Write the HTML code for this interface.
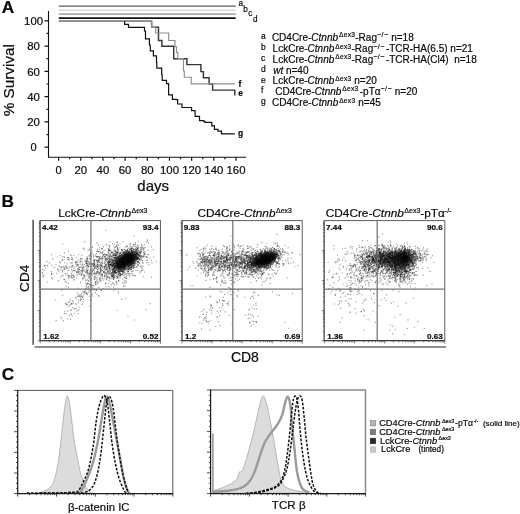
<!DOCTYPE html>
<html lang="en"><head><meta charset="utf-8"><title>Figure</title>
<style>
html,body{margin:0;padding:0;background:#fff;}
svg{display:block;will-change:transform;font-family:"Liberation Sans", sans-serif;}
text{fill:#0a0a0a;stroke:#0a0a0a;stroke-width:.2px;}
.b{font-weight:bold;}
.i{font-style:italic;}
</style></head><body>
<svg width="520" height="514" viewBox="0 0 520 514">
<rect width="520" height="514" fill="#fff"/>

<g id="panelA">
<text class="b" x="1.8" y="12.8" font-size="17.2">A</text>
<path d="M48.5 11 V157.3 H246.2" fill="none" stroke="#111" stroke-width="1.1"/>
<path d="M44.5 147.20H48.5 M44.5 121.92H48.5 M44.5 96.64H48.5 M44.5 71.36H48.5 M44.5 46.08H48.5 M44.5 20.80H48.5 M46.5 134.56H48.5 M46.5 109.28H48.5 M46.5 84.00H48.5 M46.5 58.72H48.5 M46.5 33.44H48.5 M58.60 157.3V160.70000000000002 M80.78 157.3V160.70000000000002 M102.95 157.3V160.70000000000002 M125.12 157.3V160.70000000000002 M147.30 157.3V160.70000000000002 M169.47 157.3V160.70000000000002 M191.65 157.3V160.70000000000002 M213.82 157.3V160.70000000000002 M236.00 157.3V160.70000000000002 M69.69 157.3V159.3 M91.86 157.3V159.3 M114.04 157.3V159.3 M136.21 157.3V159.3 M158.39 157.3V159.3 M180.56 157.3V159.3 M202.74 157.3V159.3 M224.91 157.3V159.3" fill="none" stroke="#111" stroke-width="1.2"/>
<text x="30.50" y="151.40" font-size="10.8" textLength="6.2" lengthAdjust="spacingAndGlyphs">0</text>
<text x="27.25" y="126.12" font-size="10.8" textLength="12.7" lengthAdjust="spacingAndGlyphs">20</text>
<text x="27.25" y="100.84" font-size="10.8" textLength="12.7" lengthAdjust="spacingAndGlyphs">40</text>
<text x="27.25" y="75.56" font-size="10.8" textLength="12.7" lengthAdjust="spacingAndGlyphs">60</text>
<text x="27.25" y="50.28" font-size="10.8" textLength="12.7" lengthAdjust="spacingAndGlyphs">80</text>
<text x="24.10" y="25.00" font-size="10.8" textLength="19.0" lengthAdjust="spacingAndGlyphs">100</text>
<text x="55.50" y="174.3" font-size="10.8" textLength="6.2" lengthAdjust="spacingAndGlyphs">0</text>
<text x="74.43" y="174.3" font-size="10.8" textLength="12.7" lengthAdjust="spacingAndGlyphs">20</text>
<text x="96.60" y="174.3" font-size="10.8" textLength="12.7" lengthAdjust="spacingAndGlyphs">40</text>
<text x="118.78" y="174.3" font-size="10.8" textLength="12.7" lengthAdjust="spacingAndGlyphs">60</text>
<text x="140.95" y="174.3" font-size="10.8" textLength="12.7" lengthAdjust="spacingAndGlyphs">80</text>
<text x="159.97" y="174.3" font-size="10.8" textLength="19.0" lengthAdjust="spacingAndGlyphs">100</text>
<text x="182.15" y="174.3" font-size="10.8" textLength="19.0" lengthAdjust="spacingAndGlyphs">120</text>
<text x="204.32" y="174.3" font-size="10.8" textLength="19.0" lengthAdjust="spacingAndGlyphs">140</text>
<text x="226.50" y="174.3" font-size="10.8" textLength="19.0" lengthAdjust="spacingAndGlyphs">160</text>
<text x="153.2" y="191.2" font-size="15" text-anchor="middle">days</text>
<text transform="translate(13.6 80.2) rotate(-90)" font-size="15.3" text-anchor="middle">% Survival</text>
<path d="M58.8 6.2H235.7" stroke="#5a5a5a" stroke-width="1.3"/>
<path d="M58.8 10.1H235.7" stroke="#cfcfcf" stroke-width="1.3"/>
<path d="M58.8 14.1H235.7" stroke="#8a8a8a" stroke-width="1.4"/>
<path d="M58.8 18.15H235.7" stroke="#111" stroke-width="1.7"/>
<path d="M58.8 21.3 L151.6 21.3 L151.6 27.3 L158.5 27.3 L158.5 40.5 L161.9 40.5 L161.9 46.3 L173.7 46.3 L173.7 58.8 L186.9 58.8 L186.9 64.6 L200.9 64.6 L200.9 71.6 L203.4 71.6 L203.4 77.8 L209.1 77.8 L209.1 83.9 L212.6 83.9 L212.6 90.1 L234.8 90.1 L234.8 95.5" fill="none" stroke="#363636" stroke-width="1.45" stroke-linejoin="miter"/>
<path d="M58.8 21.3 L151.6 21.3 L151.6 27.3 L155.7 27.3 L155.7 33.0 L168.7 33.0 L168.7 40.5 L175.0 40.5 L175.0 46.6 L176.5 46.6 L176.5 52.5 L177.9 52.5 L177.9 58.6 L183.5 58.6 L183.5 71.0 L184.3 71.0 L184.3 77.2 L191.2 77.2 L191.2 83.8 L235.0 83.8" fill="none" stroke="#8e8e8e" stroke-width="1.15" stroke-linejoin="miter"/>
<path d="M124.6 21.3 L124.6 24.4 L128.5 24.4 L128.5 27.4 L144.5 27.4 V31.0 H145.5 V38.8 H146.7 H149.4 V39.2 V45.0 H150.3 V50.9 H151.3 H153.4 V51.3 V55.8 H154.3 H156.5 V56.5 V62.3 H156.8 V68.1 H157.8 H161.7 V68.6 V74.5 H162.2 V80.3 H163.6 H166.5 V80.8 V83.7 H167.5 H168.6 V84.2 V94.9 H169.0 H172.4 V95.9 V99.3 H173.3 H176.3 V99.7 H177.6 V100.9 V104.0 H179.4 H182.0 V104.9 V107.5 H182.9 H191.6 V107.9 V110.7 H192.5 H195.1 V111.4 V116.3 H196.9 H199.5 V117.1 V120.6 H201.3 H203.9 V121.5 H204.8 V122.4 H211.8 V122.7 V125.9 H214.4 V129.4 H216.1 H217.9 V131.1 H221.4 V131.5 V133.8 H222.3 L234.8 133.8" fill="none" stroke="#111" stroke-width="1.2" stroke-linejoin="miter"/>
<text stroke-width=".4" x="238.5" y="6.0" font-size="8.2">a</text>
<text stroke-width=".4" x="243.3" y="12.3" font-size="8.2">b</text>
<text stroke-width=".4" x="248.2" y="15.7" font-size="8.2">c</text>
<text stroke-width=".4" x="253" y="22.2" font-size="8.2">d</text>
<text class="b" stroke="none" x="238.5" y="86.6" font-size="8.4">f</text>
<text class="b" stroke="none" x="238.2" y="95.8" font-size="8.4">e</text>
<text class="b" stroke="none" x="238" y="135.8" font-size="8.4">g</text>
<text x="261.0" y="39.0" font-size="8.5">a</text>
<text x="271.9" y="40.8" font-size="10" xml:space="preserve">CD4Cre-<tspan class="i">Ctnnb</tspan><tspan font-size="6.6" dy="-3.4" dx="0.9" letter-spacing="0.32">Δex3</tspan><tspan dy="3.4">-Rag</tspan><tspan font-size="7" dy="-3.4" letter-spacing="0.45">−/−</tspan><tspan dy="3.4"> n=18</tspan></text>
<text x="261.0" y="50.1" font-size="8.5">b</text>
<text x="272.6" y="51.9" font-size="10" xml:space="preserve">LckCre-<tspan class="i">Ctnnb</tspan><tspan font-size="6.6" dy="-3.4" dx="0.9" letter-spacing="0.32">Δex3</tspan><tspan dy="3.4">-Rag</tspan><tspan font-size="7" dy="-3.4" letter-spacing="0.45">−/−</tspan><tspan dy="3.4" dx="1.2">-TCR-HA(6.5) n=21</tspan></text>
<text x="261.0" y="61.0" font-size="8.5">c</text>
<text x="272.6" y="62.8" font-size="10" xml:space="preserve">LckCre-<tspan class="i">Ctnnb</tspan><tspan font-size="6.6" dy="-3.4" dx="0.9" letter-spacing="0.32">Δex3</tspan><tspan dy="3.4">-Rag</tspan><tspan font-size="7" dy="-3.4" letter-spacing="0.45">−/−</tspan><tspan dy="3.4" dx="1.2">-TCR-HA(Cl4)  n=18</tspan></text>
<text x="261.0" y="72.0" font-size="8.5">d</text>
<text x="273.2" y="73.8" font-size="10" xml:space="preserve"><tspan class="i">wt</tspan> n=40</text>
<text x="261.0" y="82.6" font-size="8.5">e</text>
<text x="272.6" y="84.4" font-size="10" xml:space="preserve">LckCre-<tspan class="i">Ctnnb</tspan><tspan font-size="6.6" dy="-3.4" dx="0.9" letter-spacing="0.32">Δex3</tspan><tspan dy="3.4"> n=20</tspan></text>
<text x="261.0" y="93.0" font-size="8.5">f</text>
<text x="275.2" y="94.8" font-size="10" xml:space="preserve">CD4Cre-<tspan class="i">Ctnnb</tspan><tspan font-size="6.6" dy="-3.4" dx="0.9" letter-spacing="0.32">Δex3</tspan><tspan dy="3.4" dx="1.2">-pTα</tspan><tspan font-size="7" dy="-3.4" letter-spacing="0.45">−/−</tspan><tspan dy="3.4"> n=20</tspan></text>
<text x="261.0" y="104.1" font-size="8.5">g</text>
<text x="272.1" y="105.9" font-size="10" xml:space="preserve">CD4Cre-<tspan class="i">Ctnnb</tspan><tspan font-size="6.6" dy="-3.4" dx="0.9" letter-spacing="0.32">Δex3</tspan><tspan dy="3.4"> n=45</tspan></text>
</g>
<g id="panelB">
<text class="b" x="1.6" y="206.6" font-size="17.2">B</text>
<text transform="translate(29.3 278.3) rotate(-90)" font-size="13.6" text-anchor="middle">CD4</text>
<text x="244.9" y="361.8" font-size="14" text-anchor="middle">CD8</text>
<path d="M33.1 219.8V344.8" stroke="#222" stroke-width="1.2"/>
<path d="M34.6 347.0H446" stroke="#222" stroke-width="1.2"/>
<rect x="40.2" y="220.6" width="120.2" height="120.0" fill="none" stroke="#555" stroke-width="0.95"/>
<path d="M40.0 220.6V340.6" stroke="#6a6a6a" stroke-width="1.3"/><path d="M40.2 340.6H160.4" stroke="#3a3a3a" stroke-width="1.2"/>
<path d="M40.2 340.6v2.8M49.2 340.6v1.7M54.5 340.6v1.7M58.3 340.6v1.7M61.2 340.6v1.7M63.6 340.6v1.7M65.6 340.6v1.7M67.3 340.6v1.7M68.9 340.6v1.7M40.2 340.6h-2.4M40.2 331.6h-1.4M40.2 326.3h-1.4M40.2 322.5h-1.4M40.2 319.6h-1.4M40.2 317.3h-1.4M40.2 315.2h-1.4M40.2 313.5h-1.4M40.2 312.0h-1.4M70.2 340.6v2.8M79.3 340.6v1.7M84.6 340.6v1.7M88.3 340.6v1.7M91.3 340.6v1.7M93.6 340.6v1.7M95.6 340.6v1.7M97.4 340.6v1.7M98.9 340.6v1.7M40.2 310.6h-2.4M40.2 301.6h-1.4M40.2 296.3h-1.4M40.2 292.5h-1.4M40.2 289.6h-1.4M40.2 287.3h-1.4M40.2 285.2h-1.4M40.2 283.5h-1.4M40.2 282.0h-1.4M100.3 340.6v2.8M109.3 340.6v1.7M114.6 340.6v1.7M118.4 340.6v1.7M121.3 340.6v1.7M123.7 340.6v1.7M125.7 340.6v1.7M127.4 340.6v1.7M129.0 340.6v1.7M40.2 280.6h-2.4M40.2 271.6h-1.4M40.2 266.3h-1.4M40.2 262.5h-1.4M40.2 259.6h-1.4M40.2 257.3h-1.4M40.2 255.2h-1.4M40.2 253.5h-1.4M40.2 252.0h-1.4M130.4 340.6v2.8M139.4 340.6v1.7M144.7 340.6v1.7M148.4 340.6v1.7M151.4 340.6v1.7M153.7 340.6v1.7M155.7 340.6v1.7M157.5 340.6v1.7M159.0 340.6v1.7M40.2 250.6h-2.4M40.2 241.6h-1.4M40.2 236.3h-1.4M40.2 232.5h-1.4M40.2 229.6h-1.4M40.2 227.3h-1.4M40.2 225.2h-1.4M40.2 223.5h-1.4M40.2 222.0h-1.4M160.4 340.6v3.2" stroke="#444" stroke-width="0.7" fill="none"/>
<g stroke="#000" stroke-width="1.1" stroke-opacity="0.42" fill="none">
<path d="M125.2 262.2h1.1M128.6 259.9h1.1M129.8 261.3h1.1M125.4 255.8h1.1M132.6 256.9h1.1M133.0 257.3h1.1M128.7 260.0h1.1M127.9 258.3h1.1M119.2 264.1h1.1M127.1 261.1h1.1M124.6 262.1h1.1M122.9 261.7h1.1M124.9 262.7h1.1M127.4 263.9h1.1M127.0 256.4h1.1M129.8 257.0h1.1M123.7 264.7h1.1M127.8 263.0h1.1M124.7 260.8h1.1M131.3 259.1h1.1M120.8 264.6h1.1M129.1 259.1h1.1M122.4 264.5h1.1M129.8 257.9h1.1M118.3 268.3h1.1M118.3 260.9h1.1M128.2 259.8h1.1M123.2 258.0h1.1M123.1 266.8h1.1M128.7 254.9h1.1M125.3 263.2h1.1M125.5 262.5h1.1M134.6 256.0h1.1M120.8 259.1h1.1M125.6 255.4h1.1M121.2 263.3h1.1M129.3 258.8h1.1M130.8 257.3h1.1M126.4 256.5h1.1M124.6 266.4h1.1M123.7 264.1h1.1M130.1 253.6h1.1M127.4 258.4h1.1M131.1 263.2h1.1M115.8 263.9h1.1M126.9 257.8h1.1M125.5 260.3h1.1M119.0 260.3h1.1M127.3 260.0h1.1M127.0 261.7h1.1M124.4 263.9h1.1M125.8 267.5h1.1M130.3 258.4h1.1M123.7 263.5h1.1M131.0 257.9h1.1M128.1 257.5h1.1M130.2 255.1h1.1M125.8 255.4h1.1M131.6 257.2h1.1M119.2 261.3h1.1M133.4 260.5h1.1M128.4 252.7h1.1M127.4 258.6h1.1M123.5 259.9h1.1M123.1 263.3h1.1M135.5 254.1h1.1M123.1 264.6h1.1M124.2 261.3h1.1M127.9 261.9h1.1M119.9 261.7h1.1M123.8 256.1h1.1M122.3 257.1h1.1M114.5 267.9h1.1M115.4 266.8h1.1M130.9 259.4h1.1M131.4 256.3h1.1M125.6 260.5h1.1M129.8 259.4h1.1M129.3 254.0h1.1M131.4 257.5h1.1M125.9 258.3h1.1M126.6 261.1h1.1M127.0 263.8h1.1M129.4 264.6h1.1M129.0 262.3h1.1M121.0 258.5h1.1M126.8 260.1h1.1M129.2 258.3h1.1M123.4 265.7h1.1M117.7 265.8h1.1M133.8 257.6h1.1M129.0 256.0h1.1M119.7 259.8h1.1M127.8 260.4h1.1M133.4 254.7h1.1M121.0 260.7h1.1M124.5 256.3h1.1M121.9 264.3h1.1M131.9 260.8h1.1M129.4 262.4h1.1M124.4 263.1h1.1M120.2 264.5h1.1M126.8 257.5h1.1M122.1 260.1h1.1M122.8 260.2h1.1M118.3 259.3h1.1M124.1 261.4h1.1M123.3 264.1h1.1M126.3 259.3h1.1M126.3 257.6h1.1M118.5 260.8h1.1M129.8 255.3h1.1M124.0 254.5h1.1M131.7 257.7h1.1M124.2 262.0h1.1M123.9 259.1h1.1M129.0 266.1h1.1M123.0 265.0h1.1M121.7 261.8h1.1M122.2 265.8h1.1M126.4 254.0h1.1M128.2 257.7h1.1M115.7 263.6h1.1M126.8 260.3h1.1M127.9 256.2h1.1M127.1 259.8h1.1M115.7 260.8h1.1M126.0 259.2h1.1M129.5 259.4h1.1M130.8 264.0h1.1M123.3 260.6h1.1M129.6 260.8h1.1M119.7 271.3h1.1M125.8 260.3h1.1M127.6 259.6h1.1M124.9 259.8h1.1M124.4 262.4h1.1M121.6 266.4h1.1M128.2 264.3h1.1M128.0 259.2h1.1M127.5 252.6h1.1M126.0 253.6h1.1M121.4 264.5h1.1M123.0 259.8h1.1M130.4 256.2h1.1M127.3 255.6h1.1M122.4 265.1h1.1M127.9 256.4h1.1M117.2 261.7h1.1M124.3 257.0h1.1M122.3 265.0h1.1M128.5 257.1h1.1M108.7 268.6h1.1M121.9 265.0h1.1M133.6 254.3h1.1M127.5 260.9h1.1M127.3 255.7h1.1M125.1 259.2h1.1M128.3 260.7h1.1M126.0 261.0h1.1M124.0 259.2h1.1M120.9 262.7h1.1M131.4 260.6h1.1M131.9 263.6h1.1M126.7 258.5h1.1M124.6 265.1h1.1M130.9 254.0h1.1M126.9 257.1h1.1M129.7 258.3h1.1M125.7 261.1h1.1M122.8 256.3h1.1M121.5 264.6h1.1M130.1 258.5h1.1M125.5 266.5h1.1M129.2 259.7h1.1M126.3 260.0h1.1M130.3 255.1h1.1M128.8 252.4h1.1M126.1 260.9h1.1M123.8 259.8h1.1M126.3 264.3h1.1M126.8 260.7h1.1M125.6 264.1h1.1M122.8 265.1h1.1M122.0 262.2h1.1M118.1 263.6h1.1M125.4 259.4h1.1M132.1 252.9h1.1M123.6 260.8h1.1M133.5 258.7h1.1M124.9 262.3h1.1M128.6 255.3h1.1M131.6 256.5h1.1M113.8 266.6h1.1M131.1 254.9h1.1M121.5 263.3h1.1M125.5 262.9h1.1M118.6 267.5h1.1M116.7 262.4h1.1M128.8 255.1h1.1M124.3 264.2h1.1M127.6 260.4h1.1M121.4 257.9h1.1M124.9 257.8h1.1M128.0 260.3h1.1M124.0 267.4h1.1M127.2 261.6h1.1M127.2 257.5h1.1M130.8 263.2h1.1M131.8 260.4h1.1M124.8 260.0h1.1M130.5 261.4h1.1M126.1 261.9h1.1M117.1 257.6h1.1M115.5 262.4h1.1M120.7 260.4h1.1M123.2 258.9h1.1M120.3 263.3h1.1M127.4 253.3h1.1M123.9 261.8h1.1M123.7 263.6h1.1M117.6 260.9h1.1M125.9 257.4h1.1M120.1 263.3h1.1M117.0 265.5h1.1M127.5 259.8h1.1M126.8 258.3h1.1M129.6 258.5h1.1M125.7 258.3h1.1M125.8 256.3h1.1M129.9 255.7h1.1M124.6 253.5h1.1M121.5 261.6h1.1M128.3 262.4h1.1M125.8 262.9h1.1M126.6 257.8h1.1M131.3 261.5h1.1M131.0 259.8h1.1M126.8 258.5h1.1M129.0 264.3h1.1M130.3 257.8h1.1M126.9 259.4h1.1M128.1 263.7h1.1M124.4 254.4h1.1M124.8 259.2h1.1M130.6 256.1h1.1M120.7 259.0h1.1M127.6 254.3h1.1M122.0 260.9h1.1M129.4 257.1h1.1M125.5 260.4h1.1M129.6 254.9h1.1M120.4 270.1h1.1M133.9 253.0h1.1M131.8 255.7h1.1M130.4 260.1h1.1M128.1 258.0h1.1M118.6 260.8h1.1M122.4 260.6h1.1M119.9 266.9h1.1M125.8 257.5h1.1M121.0 259.7h1.1M122.6 256.5h1.1M126.5 261.0h1.1M130.7 258.2h1.1M130.4 262.9h1.1M119.4 264.0h1.1M122.8 258.8h1.1M118.2 263.3h1.1M126.6 262.6h1.1M132.1 260.5h1.1M135.8 254.6h1.1M125.3 260.8h1.1M127.5 261.3h1.1M124.9 259.7h1.1M130.7 266.1h1.1M129.5 264.9h1.1M131.1 261.9h1.1M117.5 262.5h1.1M123.0 260.3h1.1M125.0 258.9h1.1M117.1 260.3h1.1M119.8 265.8h1.1M124.5 258.5h1.1M133.9 258.4h1.1M117.8 257.8h1.1M123.0 256.8h1.1M125.5 261.4h1.1M125.4 263.4h1.1M122.9 259.9h1.1M120.7 260.2h1.1M123.3 261.6h1.1M126.3 259.1h1.1M127.7 262.2h1.1M126.4 258.6h1.1M122.2 263.3h1.1M123.5 257.8h1.1M128.4 262.6h1.1M136.9 253.6h1.1M130.9 264.7h1.1M118.1 263.3h1.1M120.5 261.8h1.1M125.8 262.6h1.1M125.8 253.9h1.1M133.3 257.6h1.1M127.6 262.3h1.1M127.5 261.5h1.1M124.8 260.9h1.1M125.5 262.6h1.1M130.8 261.2h1.1M124.9 263.7h1.1M122.7 262.3h1.1M130.2 261.8h1.1M126.8 262.8h1.1M122.8 260.0h1.1M127.1 259.9h1.1M125.3 259.1h1.1M133.6 251.9h1.1M133.4 257.4h1.1M130.0 260.7h1.1M131.3 252.4h1.1M124.7 262.9h1.1M128.1 255.6h1.1M124.5 262.1h1.1M125.9 257.9h1.1M131.6 254.4h1.1M126.3 261.3h1.1M125.1 264.7h1.1M119.0 267.8h1.1M122.6 263.5h1.1M115.2 255.0h1.1M124.9 257.6h1.1M107.2 271.6h1.1M132.1 256.5h1.1M118.5 256.7h1.1M101.6 261.5h1.1M124.2 267.3h1.1M112.9 255.0h1.1M121.4 269.3h1.1M113.5 263.9h1.1M118.6 273.8h1.1M118.4 274.3h1.1M131.3 258.3h1.1M123.3 263.6h1.1M132.6 262.8h1.1M128.3 261.6h1.1M123.3 266.7h1.1M138.8 252.3h1.1M133.6 249.8h1.1M127.4 258.2h1.1M125.7 263.1h1.1M117.5 274.7h1.1M123.7 258.7h1.1M140.2 256.5h1.1M131.3 262.7h1.1M116.5 261.4h1.1M134.4 261.8h1.1M129.0 254.8h1.1M116.1 261.5h1.1M132.6 270.7h1.1M124.9 260.6h1.1M135.5 263.4h1.1M137.4 258.6h1.1M119.0 273.9h1.1M127.8 259.2h1.1M114.0 258.9h1.1M107.0 271.6h1.1M133.9 261.5h1.1M125.5 260.3h1.1M121.7 264.3h1.1M135.9 249.7h1.1M124.8 262.7h1.1M129.5 252.1h1.1M133.9 249.9h1.1M119.6 262.3h1.1M130.9 269.5h1.1M120.3 271.0h1.1M133.3 253.9h1.1M116.1 255.3h1.1M130.3 248.1h1.1M124.5 261.7h1.1M128.7 256.3h1.1M118.6 274.0h1.1M104.0 276.6h1.1M105.9 279.6h1.1M129.5 257.6h1.1M131.4 255.2h1.1M116.1 259.7h1.1M118.5 259.3h1.1M120.8 262.6h1.1M111.9 265.7h1.1M126.5 257.1h1.1M132.2 257.0h1.1M124.9 256.7h1.1M124.3 255.4h1.1M116.0 266.3h1.1M131.1 253.8h1.1M129.4 263.8h1.1M114.9 258.4h1.1M132.2 262.8h1.1M119.5 263.5h1.1M112.2 266.4h1.1M119.1 271.7h1.1M113.3 275.1h1.1M129.5 254.4h1.1M115.1 261.7h1.1M123.5 268.4h1.1M137.7 254.0h1.1M131.2 255.9h1.1M125.8 263.5h1.1M123.6 259.9h1.1M130.2 259.5h1.1M109.9 264.4h1.1M127.0 267.4h1.1M140.3 249.6h1.1M129.5 261.8h1.1M131.8 255.1h1.1M133.4 255.1h1.1M124.9 250.9h1.1M122.4 271.9h1.1M125.6 261.7h1.1M137.4 253.9h1.1M115.6 261.6h1.1M135.5 250.4h1.1M118.4 265.4h1.1M112.4 276.2h1.1M130.1 257.4h1.1M122.0 265.6h1.1M135.0 242.7h1.1M122.4 255.0h1.1M117.0 261.7h1.1M128.1 264.2h1.1M121.1 271.5h1.1M127.2 258.6h1.1M134.6 267.3h1.1M128.8 247.7h1.1M117.9 257.7h1.1M127.3 257.1h1.1M130.2 267.2h1.1M129.5 252.1h1.1M131.8 261.3h1.1M118.7 264.5h1.1M126.8 259.6h1.1M130.1 257.0h1.1M132.6 255.3h1.1M119.7 262.9h1.1M116.1 259.4h1.1M119.4 261.4h1.1M119.9 262.8h1.1M121.8 258.4h1.1M126.0 259.3h1.1M124.9 261.0h1.1M124.7 265.8h1.1M128.3 270.0h1.1M112.8 273.8h1.1M116.6 263.5h1.1M121.7 261.4h1.1M109.2 278.2h1.1M130.1 260.3h1.1M139.2 258.8h1.1M143.6 252.2h1.1M142.2 247.6h1.1M129.5 255.9h1.1M133.0 255.8h1.1M125.1 258.0h1.1M132.0 256.8h1.1M130.8 263.8h1.1M113.8 260.5h1.1M117.6 268.6h1.1M125.6 261.4h1.1M118.2 266.3h1.1M139.5 255.6h1.1M128.3 263.7h1.1M118.0 269.5h1.1M127.3 268.8h1.1M118.0 266.3h1.1M120.7 270.2h1.1M133.0 265.6h1.1M129.9 258.6h1.1M126.2 257.8h1.1M147.5 254.5h1.1M126.8 257.8h1.1M134.1 260.8h1.1M129.2 260.6h1.1M122.9 255.5h1.1M124.6 250.3h1.1M101.0 269.5h1.1M129.5 263.5h1.1M109.8 256.1h1.1M135.3 249.6h1.1M113.4 257.2h1.1M124.4 254.5h1.1M108.1 264.6h1.1M144.2 253.7h1.1M115.4 251.8h1.1M114.1 266.4h1.1M118.8 271.1h1.1M90.1 269.7h1.1M134.6 259.7h1.1M125.6 264.7h1.1M126.1 254.0h1.1M109.1 262.6h1.1M120.5 265.0h1.1M119.0 273.6h1.1M113.5 258.6h1.1M137.1 257.4h1.1M127.4 269.2h1.1M136.9 259.6h1.1M116.1 282.1h1.1M142.4 246.0h1.1M117.7 271.7h1.1M127.1 261.7h1.1M86.0 263.1h1.1M135.9 258.0h1.1M110.4 273.7h1.1M127.5 272.7h1.1M95.7 274.9h1.1M123.7 263.9h1.1M145.4 256.8h1.1M131.2 265.2h1.1M129.3 267.9h1.1M122.1 257.6h1.1M132.9 263.1h1.1M126.4 273.6h1.1M151.1 246.6h1.1M122.4 256.3h1.1M130.6 268.7h1.1M100.0 271.8h1.1M124.5 255.1h1.1M127.2 257.3h1.1M128.7 255.3h1.1M132.4 267.8h1.1M128.1 266.7h1.1M126.1 261.4h1.1M99.7 269.4h1.1M126.9 262.5h1.1M126.8 249.3h1.1M138.0 257.1h1.1M141.5 266.5h1.1M130.2 264.5h1.1M115.2 261.2h1.1M124.5 273.0h1.1M146.3 257.2h1.1M139.6 259.4h1.1M130.9 271.9h1.1M126.7 250.9h1.1M123.3 255.0h1.1M119.6 268.5h1.1M117.8 259.3h1.1M132.1 268.2h1.1M112.8 254.4h1.1M112.5 274.2h1.1M126.2 251.9h1.1M113.3 277.0h1.1M119.4 266.8h1.1M113.7 272.3h1.1M115.0 273.4h1.1M114.9 254.6h1.1M132.7 262.4h1.1M115.1 266.3h1.1M70.7 273.3h1.1M104.4 257.0h1.1M108.9 250.6h1.1M88.2 276.6h1.1M109.2 261.7h1.1M114.2 262.7h1.1M59.7 262.8h1.1M112.1 271.2h1.1M86.7 263.5h1.1M115.4 267.2h1.1M82.2 264.5h1.1M80.7 258.7h1.1M91.5 251.2h1.1M61.7 275.2h1.1M112.3 260.1h1.1M105.1 254.8h1.1M109.8 255.7h1.1M112.8 277.1h1.1M116.5 249.7h1.1M116.0 246.4h1.1M65.2 280.2h1.1M107.1 260.1h1.1M111.6 260.9h1.1M90.8 258.3h1.1M94.0 260.9h1.1M80.3 261.2h1.1M50.6 271.6h1.1M89.9 255.4h1.1M61.9 270.6h1.1M71.0 275.8h1.1M109.0 269.5h1.1M117.7 245.2h1.1M81.8 258.7h1.1M112.8 278.9h1.1M73.7 279.7h1.1M97.5 271.6h1.1M41.8 273.1h1.1M86.8 258.1h1.1M117.3 265.5h1.1M107.7 250.3h1.1M62.4 256.6h1.1M116.0 257.9h1.1M57.6 270.3h1.1M100.2 265.0h1.1M85.0 283.1h1.1M103.9 266.5h1.1M115.6 282.6h1.1M76.6 262.4h1.1M58.4 271.7h1.1M62.5 275.9h1.1M105.7 258.7h1.1M109.4 262.0h1.1M44.1 265.2h1.1M81.0 274.6h1.1M68.4 266.3h1.1M98.1 251.8h1.1M43.7 265.9h1.1M79.7 259.7h1.1M114.3 271.0h1.1M74.1 270.2h1.1M104.3 253.8h1.1M70.5 255.6h1.1M96.8 250.8h1.1M75.7 275.0h1.1M94.6 266.8h1.1M114.1 251.0h1.1M112.1 252.2h1.1M46.6 261.5h1.1M115.8 268.8h1.1M90.6 269.7h1.1M114.1 244.4h1.1M67.7 276.1h1.1M58.5 265.8h1.1M62.7 266.6h1.1M57.2 269.8h1.1M42.5 276.9h1.1M118.0 249.3h1.1M82.0 269.5h1.1M101.3 265.0h1.1M84.2 276.7h1.1M112.9 263.2h1.1M98.5 296.4h1.1M101.2 248.5h1.1M82.4 277.7h1.1M113.5 247.7h1.1M78.7 269.2h1.1M114.0 257.4h1.1M116.3 255.5h1.1M93.6 260.5h1.1M101.1 259.3h1.1M91.9 275.2h1.1M75.4 261.9h1.1M76.3 278.0h1.1M109.2 259.9h1.1M92.6 270.5h1.1M82.5 248.2h1.1M97.5 266.3h1.1M41.9 272.6h1.1M116.1 272.6h1.1M62.3 270.4h1.1M59.8 269.6h1.1M116.5 267.0h1.1M100.2 274.7h1.1M105.1 244.3h1.1M66.0 282.5h1.1M107.8 252.0h1.1M113.0 269.1h1.1M71.2 269.2h1.1M92.0 285.6h1.1M96.3 267.7h1.1M107.9 262.6h1.1M83.9 249.7h1.1M87.0 284.0h1.1M100.9 289.6h1.1M60.4 317.0h1.1M76.3 311.2h1.1M72.0 307.7h1.1M92.6 286.7h1.1M66.4 304.4h1.1M91.8 294.1h1.1M90.7 300.4h1.1M70.7 314.0h1.1M70.9 303.6h1.1M92.1 296.0h1.1M88.1 292.1h1.1M83.5 292.2h1.1M67.5 302.4h1.1M72.1 300.7h1.1M82.3 291.9h1.1M75.0 297.4h1.1M121.6 254.1h1.1M90.8 320.5h1.1M69.1 301.6h1.1M101.1 264.7h1.1M150.9 277.1h1.1M76.7 274.8h1.1"/>
<path d="M124.1 260.3h1.1M115.5 261.5h1.1M121.7 260.5h1.1M127.7 263.0h1.1M124.3 257.1h1.1M113.4 260.4h1.1M120.3 267.7h1.1M128.0 260.8h1.1M124.5 260.1h1.1M125.2 261.4h1.1M130.3 249.3h1.1M124.5 260.8h1.1M126.7 251.2h1.1M129.9 256.6h1.1M118.9 260.1h1.1M118.7 269.2h1.1M126.3 260.2h1.1M126.8 262.7h1.1M123.3 262.5h1.1M126.8 262.0h1.1M115.4 268.0h1.1M132.6 257.8h1.1M134.0 254.5h1.1M120.5 261.0h1.1M126.1 257.8h1.1M134.7 257.4h1.1M128.8 258.9h1.1M129.0 261.4h1.1M121.9 258.4h1.1M126.0 262.3h1.1M130.0 257.4h1.1M119.9 262.0h1.1M129.3 255.2h1.1M126.1 260.8h1.1M120.0 263.9h1.1M119.1 265.2h1.1M120.4 259.5h1.1M127.3 251.8h1.1M129.5 254.6h1.1M133.2 255.4h1.1M125.8 261.1h1.1M116.5 261.2h1.1M121.7 263.3h1.1M122.4 262.4h1.1M124.1 258.1h1.1M126.2 262.2h1.1M119.6 268.7h1.1M120.5 264.6h1.1M119.4 263.7h1.1M131.9 255.0h1.1M123.5 259.8h1.1M122.7 262.2h1.1M131.4 252.7h1.1M125.9 260.3h1.1M120.8 268.4h1.1M122.4 255.7h1.1M126.4 259.5h1.1M126.9 254.7h1.1M123.3 269.5h1.1M122.7 256.1h1.1M121.5 261.7h1.1M129.6 258.4h1.1M119.3 261.9h1.1M125.3 262.4h1.1M124.9 267.9h1.1M119.4 267.0h1.1M128.8 260.3h1.1M129.0 256.7h1.1M121.0 262.9h1.1M122.0 260.7h1.1M123.1 262.4h1.1M124.1 261.2h1.1M127.5 258.1h1.1M127.6 261.4h1.1M121.8 260.6h1.1M122.5 266.3h1.1M128.3 258.9h1.1M128.4 262.5h1.1M123.3 263.2h1.1M123.4 263.0h1.1M125.3 262.9h1.1M126.1 260.8h1.1M128.5 258.0h1.1M119.3 260.9h1.1M135.9 256.8h1.1M131.9 257.9h1.1M128.3 253.9h1.1M126.3 264.6h1.1M122.3 261.9h1.1M129.2 261.3h1.1M120.7 258.4h1.1M120.8 267.8h1.1M129.3 260.8h1.1M126.9 262.2h1.1M123.6 258.3h1.1M131.0 260.1h1.1M128.0 255.0h1.1M121.2 260.9h1.1M130.1 256.0h1.1M121.1 266.5h1.1M129.1 263.1h1.1M131.0 264.7h1.1M123.9 263.1h1.1M132.4 253.2h1.1M128.1 259.7h1.1M125.0 254.9h1.1M123.3 262.2h1.1M127.2 259.0h1.1M122.4 258.1h1.1M126.5 256.9h1.1M133.2 256.6h1.1M119.5 261.3h1.1M122.0 260.1h1.1M128.0 259.1h1.1M122.9 260.4h1.1M124.4 259.1h1.1M125.2 260.1h1.1M120.1 265.6h1.1M138.4 255.1h1.1M116.1 262.6h1.1M121.8 261.7h1.1M118.9 261.7h1.1M128.6 255.9h1.1M130.0 257.4h1.1M121.9 261.7h1.1M116.0 264.3h1.1M122.2 259.8h1.1M125.0 255.9h1.1M126.2 261.5h1.1M129.7 252.8h1.1M126.4 260.9h1.1M124.3 267.2h1.1M135.9 253.5h1.1M126.8 256.2h1.1M120.4 261.4h1.1M125.9 257.5h1.1M122.8 265.1h1.1M135.2 256.4h1.1M127.7 259.2h1.1M120.3 263.9h1.1M122.9 264.1h1.1M126.6 254.2h1.1M128.2 258.9h1.1M114.8 265.4h1.1M126.6 263.1h1.1M118.8 262.8h1.1M129.9 257.7h1.1M130.3 258.4h1.1M126.4 256.4h1.1M114.0 267.9h1.1M123.4 263.5h1.1M128.1 253.7h1.1M120.0 263.5h1.1M116.0 263.7h1.1M123.4 261.6h1.1M120.0 260.9h1.1M123.3 260.0h1.1M128.3 259.6h1.1M135.3 257.9h1.1M132.5 253.3h1.1M124.9 266.6h1.1M124.5 261.6h1.1M129.2 259.3h1.1M122.3 262.4h1.1M119.8 263.7h1.1M131.3 259.1h1.1M130.4 253.1h1.1M123.0 260.6h1.1M123.1 260.4h1.1M127.8 255.5h1.1M125.8 261.5h1.1M127.4 258.4h1.1M123.5 262.7h1.1M130.7 260.1h1.1M124.4 262.7h1.1M133.0 255.2h1.1M115.9 261.4h1.1M131.7 261.1h1.1M119.0 262.8h1.1M115.7 269.6h1.1M120.7 263.2h1.1M124.8 263.9h1.1M130.1 256.4h1.1M121.7 264.8h1.1M120.0 264.2h1.1M125.0 259.2h1.1M127.3 262.2h1.1M131.3 261.0h1.1M117.0 264.2h1.1M129.5 261.4h1.1M116.4 266.2h1.1M129.8 258.9h1.1M125.4 261.0h1.1M126.8 259.5h1.1M125.3 265.5h1.1M126.8 261.8h1.1M123.0 258.1h1.1M131.0 258.3h1.1M123.1 260.3h1.1M127.9 257.8h1.1M122.1 261.2h1.1M125.2 259.2h1.1M125.0 258.0h1.1M128.8 258.1h1.1M121.6 255.9h1.1M132.8 258.8h1.1M126.7 262.9h1.1M123.0 256.2h1.1M122.5 266.5h1.1M128.3 259.6h1.1M122.3 262.4h1.1M131.9 260.3h1.1M126.0 261.2h1.1M129.1 254.5h1.1M127.4 263.4h1.1M124.2 268.8h1.1M119.1 263.8h1.1M126.8 261.2h1.1M126.2 259.2h1.1M116.3 272.8h1.1M125.2 261.0h1.1M128.4 261.6h1.1M122.4 265.1h1.1M130.4 254.1h1.1M120.0 259.5h1.1M123.9 257.4h1.1M124.3 264.4h1.1M129.2 253.8h1.1M129.8 255.7h1.1M116.4 268.3h1.1M125.7 256.8h1.1M121.0 265.6h1.1M122.9 261.4h1.1M130.7 258.9h1.1M124.0 257.7h1.1M126.5 259.4h1.1M125.6 261.4h1.1M124.1 263.7h1.1M120.0 264.0h1.1M116.0 266.4h1.1M121.7 262.5h1.1M119.0 261.4h1.1M123.7 259.9h1.1M123.6 257.2h1.1M127.7 252.5h1.1M127.5 258.6h1.1M121.0 266.7h1.1M130.9 257.0h1.1M129.3 259.2h1.1M130.1 263.8h1.1M133.6 261.8h1.1M132.1 258.0h1.1M134.6 256.5h1.1M130.8 260.2h1.1M125.9 255.7h1.1M126.9 258.1h1.1M124.9 263.8h1.1M125.3 262.1h1.1M125.4 259.6h1.1M129.3 259.6h1.1M131.8 262.0h1.1M121.8 265.1h1.1M117.7 260.3h1.1M116.7 258.6h1.1M117.0 264.0h1.1M126.0 256.5h1.1M129.8 263.8h1.1M124.8 262.5h1.1M132.6 254.9h1.1M130.6 260.8h1.1M112.8 270.3h1.1M119.6 257.0h1.1M127.3 254.5h1.1M128.5 256.7h1.1M121.4 263.6h1.1M127.6 262.1h1.1M129.0 262.7h1.1M129.9 260.7h1.1M127.2 259.8h1.1M123.9 262.0h1.1M113.3 262.9h1.1M122.2 257.0h1.1M126.7 262.2h1.1M127.1 262.5h1.1M125.0 264.7h1.1M128.8 259.4h1.1M126.7 262.0h1.1M126.4 260.0h1.1M122.4 259.3h1.1M128.6 258.5h1.1M126.4 260.9h1.1M128.2 264.1h1.1M118.8 259.6h1.1M127.2 260.0h1.1M130.2 256.0h1.1M129.5 262.2h1.1M127.8 262.5h1.1M126.8 258.8h1.1M127.7 262.4h1.1M124.9 263.6h1.1M128.6 260.1h1.1M119.2 268.0h1.1M134.0 253.6h1.1M128.3 258.1h1.1M120.8 260.9h1.1M128.3 258.0h1.1M128.2 259.0h1.1M123.6 259.9h1.1M126.5 255.9h1.1M128.9 258.2h1.1M122.3 262.8h1.1M130.1 255.7h1.1M125.9 254.9h1.1M118.0 264.2h1.1M128.2 260.4h1.1M122.9 261.9h1.1M130.3 258.6h1.1M123.6 260.6h1.1M124.7 257.6h1.1M126.2 258.3h1.1M115.0 268.5h1.1M127.0 262.9h1.1M133.4 255.6h1.1M130.1 264.1h1.1M122.0 260.1h1.1M120.8 259.4h1.1M125.4 261.1h1.1M128.6 256.2h1.1M123.2 260.0h1.1M110.6 268.7h1.1M129.0 262.7h1.1M131.5 252.9h1.1M120.7 262.5h1.1M118.4 256.2h1.1M127.8 269.4h1.1M122.1 270.7h1.1M131.2 262.6h1.1M120.6 266.6h1.1M130.6 254.6h1.1M120.4 275.0h1.1M122.1 268.2h1.1M118.7 263.9h1.1M119.9 255.5h1.1M130.9 250.5h1.1M109.9 257.9h1.1M121.1 270.6h1.1M137.4 249.0h1.1M117.4 270.0h1.1M123.9 251.7h1.1M134.8 250.6h1.1M128.8 254.1h1.1M146.9 239.9h1.1M123.3 260.3h1.1M126.3 259.1h1.1M124.1 264.3h1.1M128.0 254.2h1.1M117.0 264.2h1.1M144.0 244.7h1.1M134.8 251.9h1.1M126.2 260.4h1.1M133.5 257.1h1.1M142.6 257.0h1.1M126.0 263.3h1.1M126.4 263.0h1.1M121.1 265.3h1.1M117.4 267.7h1.1M126.7 262.9h1.1M134.5 257.0h1.1M128.9 263.8h1.1M135.0 257.3h1.1M121.2 263.8h1.1M112.6 264.5h1.1M137.9 261.7h1.1M129.3 252.6h1.1M126.5 266.3h1.1M117.6 265.3h1.1M122.9 258.5h1.1M109.9 258.1h1.1M129.8 248.8h1.1M121.4 264.8h1.1M119.3 271.3h1.1M115.0 263.7h1.1M146.5 257.6h1.1M132.9 257.5h1.1M133.7 258.5h1.1M116.1 266.2h1.1M135.8 259.1h1.1M118.7 266.8h1.1M120.5 264.4h1.1M115.1 268.1h1.1M121.8 267.5h1.1M126.7 253.9h1.1M128.2 259.7h1.1M135.4 249.7h1.1M137.2 265.9h1.1M138.3 253.8h1.1M111.6 269.1h1.1M138.7 252.1h1.1M116.1 269.8h1.1M130.9 262.8h1.1M124.3 256.7h1.1M139.6 257.6h1.1M123.3 259.3h1.1M121.4 266.2h1.1M117.2 259.9h1.1M127.4 254.1h1.1M124.2 263.9h1.1M123.0 264.7h1.1M112.7 260.6h1.1M116.9 265.4h1.1M127.8 257.9h1.1M120.9 263.2h1.1M127.9 260.2h1.1M139.1 256.8h1.1M142.8 248.5h1.1M120.3 261.5h1.1M119.7 266.7h1.1M126.5 256.4h1.1M128.3 252.0h1.1M125.0 264.9h1.1M137.0 258.1h1.1M125.8 252.5h1.1M135.1 249.6h1.1M118.1 267.4h1.1M146.7 241.0h1.1M115.0 272.9h1.1M124.8 261.7h1.1M122.4 261.1h1.1M124.5 259.5h1.1M123.2 268.0h1.1M116.6 261.3h1.1M130.7 265.6h1.1M132.3 262.3h1.1M124.3 264.1h1.1M125.4 256.9h1.1M124.2 269.1h1.1M137.6 259.3h1.1M138.3 256.3h1.1M117.9 256.1h1.1M118.1 266.0h1.1M133.6 254.9h1.1M118.0 267.4h1.1M129.4 249.7h1.1M121.4 267.2h1.1M122.5 267.1h1.1M129.8 258.8h1.1M116.6 274.7h1.1M120.5 265.1h1.1M135.6 252.6h1.1M130.3 265.9h1.1M117.2 264.4h1.1M128.2 266.9h1.1M132.2 259.1h1.1M130.0 255.9h1.1M140.0 252.7h1.1M124.9 267.3h1.1M136.8 248.0h1.1M133.3 263.5h1.1M123.1 256.0h1.1M122.9 253.2h1.1M117.9 272.0h1.1M127.8 258.4h1.1M129.4 258.8h1.1M152.8 249.5h1.1M128.9 254.3h1.1M124.8 263.6h1.1M111.9 264.0h1.1M115.1 266.6h1.1M122.2 266.9h1.1M133.4 246.2h1.1M131.0 266.8h1.1M118.3 259.8h1.1M118.1 263.2h1.1M118.9 261.0h1.1M130.0 261.2h1.1M122.2 251.0h1.1M116.9 267.8h1.1M118.0 263.9h1.1M127.7 265.8h1.1M119.1 260.5h1.1M136.0 255.7h1.1M129.3 261.7h1.1M124.6 258.3h1.1M122.6 264.0h1.1M124.2 254.4h1.1M124.6 263.9h1.1M128.3 255.2h1.1M124.8 261.6h1.1M124.0 249.4h1.1M112.4 272.8h1.1M99.2 265.1h1.1M139.1 256.5h1.1M119.3 275.6h1.1M129.4 258.8h1.1M115.4 255.6h1.1M123.6 277.2h1.1M142.6 276.7h1.1M122.2 265.1h1.1M129.6 258.0h1.1M143.5 255.2h1.1M97.4 265.7h1.1M127.0 261.4h1.1M114.3 268.7h1.1M130.6 267.9h1.1M136.1 267.0h1.1M119.3 269.8h1.1M126.0 261.4h1.1M114.6 261.3h1.1M118.3 264.5h1.1M115.4 251.5h1.1M155.7 261.3h1.1M129.7 246.2h1.1M119.4 243.7h1.1M113.9 255.6h1.1M127.1 263.2h1.1M115.4 269.9h1.1M104.3 263.5h1.1M120.3 263.8h1.1M117.2 254.4h1.1M105.2 260.1h1.1M134.5 275.7h1.1M129.8 265.8h1.1M132.4 250.8h1.1M110.2 265.9h1.1M120.1 257.5h1.1M111.7 257.6h1.1M116.0 274.0h1.1M128.2 261.1h1.1M153.2 257.0h1.1M123.0 273.1h1.1M124.0 253.0h1.1M116.1 266.1h1.1M133.8 267.1h1.1M113.4 272.6h1.1M127.6 267.9h1.1M133.7 263.1h1.1M126.8 264.4h1.1M129.2 264.8h1.1M131.9 252.6h1.1M122.5 252.1h1.1M111.0 263.2h1.1M112.7 265.2h1.1M114.5 258.5h1.1M93.8 264.3h1.1M107.5 267.8h1.1M128.1 262.2h1.1M141.3 270.4h1.1M118.1 265.2h1.1M136.4 256.8h1.1M118.2 261.7h1.1M104.1 271.1h1.1M133.2 260.3h1.1M117.1 247.6h1.1M106.9 266.3h1.1M90.8 274.1h1.1M107.8 261.3h1.1M129.2 259.6h1.1M126.9 246.8h1.1M151.4 262.9h1.1M133.1 267.7h1.1M87.4 270.0h1.1M93.7 262.8h1.1M105.8 267.0h1.1M96.5 262.6h1.1M108.4 245.2h1.1M58.0 280.6h1.1M106.6 277.7h1.1M98.3 281.5h1.1M108.5 265.0h1.1M116.2 258.2h1.1M112.1 262.4h1.1M92.5 263.9h1.1M106.7 254.8h1.1M115.3 270.2h1.1M91.9 247.4h1.1M105.1 260.4h1.1M98.4 256.6h1.1M105.5 272.7h1.1M81.1 261.2h1.1M110.3 278.9h1.1M115.4 267.3h1.1M59.0 262.1h1.1M96.2 257.0h1.1M111.7 255.8h1.1M79.9 258.4h1.1M64.9 273.5h1.1M84.2 242.1h1.1M103.6 254.7h1.1M98.9 247.8h1.1M117.8 291.6h1.1M94.1 279.1h1.1M102.0 276.5h1.1M77.6 288.3h1.1M89.8 272.1h1.1M59.8 255.5h1.1M104.3 268.0h1.1M105.3 286.7h1.1M101.9 253.1h1.1M53.9 267.4h1.1M99.9 270.6h1.1M71.5 277.9h1.1M115.4 265.5h1.1M116.3 242.5h1.1M107.2 263.0h1.1M111.5 256.6h1.1M111.6 252.7h1.1M108.5 250.1h1.1M63.5 267.1h1.1M90.8 273.7h1.1M90.1 254.0h1.1M63.5 269.1h1.1M61.1 267.7h1.1M76.0 272.2h1.1M106.4 267.7h1.1M98.4 261.4h1.1M80.9 275.4h1.1M71.9 258.6h1.1M100.1 276.6h1.1M93.5 261.1h1.1M100.3 274.0h1.1M93.9 273.3h1.1M67.5 268.8h1.1M80.4 267.5h1.1M98.7 265.1h1.1M95.2 282.3h1.1M100.1 271.3h1.1M99.2 278.5h1.1M108.5 256.4h1.1M116.5 252.8h1.1M106.1 245.0h1.1M73.1 279.9h1.1M101.3 266.1h1.1M69.9 254.8h1.1M80.8 270.5h1.1M114.7 273.2h1.1M87.7 261.7h1.1M77.5 272.8h1.1M101.9 270.5h1.1M114.9 271.0h1.1M77.7 272.4h1.1M113.3 246.2h1.1M86.9 270.5h1.1M48.8 262.9h1.1M95.8 253.9h1.1M89.9 279.2h1.1M107.5 263.5h1.1M79.5 267.1h1.1M104.5 256.9h1.1M86.3 266.0h1.1M112.0 243.8h1.1M102.0 276.5h1.1M51.5 265.4h1.1M109.0 272.2h1.1M77.5 269.9h1.1M67.6 257.5h1.1M98.9 273.9h1.1M88.8 256.2h1.1M91.1 271.0h1.1M109.7 263.1h1.1M98.4 259.9h1.1M100.2 267.4h1.1M105.0 269.9h1.1M91.1 278.4h1.1M68.3 259.8h1.1M105.6 255.5h1.1M105.2 283.5h1.1M81.4 271.0h1.1M100.3 253.1h1.1M111.3 276.5h1.1M108.7 261.0h1.1M110.0 263.1h1.1M113.6 260.6h1.1M81.3 304.4h1.1M75.5 308.5h1.1M82.9 301.8h1.1M88.4 283.7h1.1M81.0 293.8h1.1M93.2 285.3h1.1M82.4 296.3h1.1M74.4 309.0h1.1M95.0 284.5h1.1M80.9 299.5h1.1M94.9 292.6h1.1M89.5 305.9h1.1M80.0 298.1h1.1M65.7 313.8h1.1M89.0 285.0h1.1M91.1 287.1h1.1M86.6 283.4h1.1M67.8 306.2h1.1M110.9 284.6h1.1M93.9 279.7h1.1M125.0 298.3h1.1M54.6 299.8h1.1M64.4 281.9h1.1M97.1 261.0h1.1"/>
<path d="M121.1 262.6h1.1M120.9 261.9h1.1M123.9 261.1h1.1M116.0 265.5h1.1M127.5 257.2h1.1M126.2 257.6h1.1M130.7 258.6h1.1M127.8 262.4h1.1M130.5 253.9h1.1M128.2 258.6h1.1M120.9 264.1h1.1M112.6 267.3h1.1M128.5 253.9h1.1M136.4 249.7h1.1M132.4 258.2h1.1M124.3 259.3h1.1M131.7 255.5h1.1M134.6 259.4h1.1M133.8 255.1h1.1M124.7 257.2h1.1M119.9 258.0h1.1M124.7 254.4h1.1M129.4 260.6h1.1M139.3 254.9h1.1M134.2 260.3h1.1M135.0 256.7h1.1M125.3 263.0h1.1M127.3 258.6h1.1M122.9 263.7h1.1M125.8 263.5h1.1M120.6 264.1h1.1M123.5 257.1h1.1M122.2 256.9h1.1M129.5 260.0h1.1M124.3 260.2h1.1M124.3 256.9h1.1M122.9 259.8h1.1M122.5 263.0h1.1M129.7 264.2h1.1M126.2 258.6h1.1M134.1 258.3h1.1M130.3 255.8h1.1M125.6 265.1h1.1M135.6 248.0h1.1M121.8 264.7h1.1M122.5 264.3h1.1M127.2 253.8h1.1M133.9 256.3h1.1M123.8 262.9h1.1M125.5 260.9h1.1M125.5 255.5h1.1M127.8 262.0h1.1M119.0 253.9h1.1M126.1 262.8h1.1M128.4 261.3h1.1M124.6 263.0h1.1M127.7 262.4h1.1M121.7 261.1h1.1M132.8 249.5h1.1M123.8 260.1h1.1M117.0 271.7h1.1M128.4 259.9h1.1M127.8 261.8h1.1M125.5 256.6h1.1M125.1 264.4h1.1M119.4 267.9h1.1M114.9 266.3h1.1M129.7 255.2h1.1M128.8 259.9h1.1M121.3 265.1h1.1M123.6 261.9h1.1M121.2 263.1h1.1M124.9 253.8h1.1M121.6 262.8h1.1M128.3 255.7h1.1M123.3 262.5h1.1M121.0 261.1h1.1M122.5 261.2h1.1M132.2 256.3h1.1M133.8 256.9h1.1M135.6 255.8h1.1M123.8 265.9h1.1M126.0 259.7h1.1M115.8 259.2h1.1M126.5 260.3h1.1M122.1 266.9h1.1M118.0 260.9h1.1M123.8 263.5h1.1M126.4 258.7h1.1M122.9 266.9h1.1M121.7 260.7h1.1M127.7 262.4h1.1M124.6 256.9h1.1M122.8 261.8h1.1M129.6 261.8h1.1M120.8 266.3h1.1M121.3 260.5h1.1M118.0 258.9h1.1M131.5 258.9h1.1M137.8 258.6h1.1M130.1 256.0h1.1M123.3 265.3h1.1M123.4 262.6h1.1M134.5 256.6h1.1M128.8 263.5h1.1M129.9 262.0h1.1M120.4 263.9h1.1M119.9 260.7h1.1M123.2 267.1h1.1M122.0 262.6h1.1M128.7 255.7h1.1M121.8 258.8h1.1M126.9 254.6h1.1M126.1 256.2h1.1M126.3 260.3h1.1M133.8 256.6h1.1M132.3 256.3h1.1M132.6 260.2h1.1M120.6 258.0h1.1M125.8 257.8h1.1M128.4 253.9h1.1M122.8 262.6h1.1M119.9 264.6h1.1M131.9 258.9h1.1M125.0 257.5h1.1M115.9 268.6h1.1M123.3 262.4h1.1M114.4 260.4h1.1M123.0 262.2h1.1M129.9 260.1h1.1M122.5 258.4h1.1M137.6 258.1h1.1M129.3 259.3h1.1M128.9 261.2h1.1M126.1 262.1h1.1M128.2 253.4h1.1M131.1 256.8h1.1M130.2 256.3h1.1M123.8 259.5h1.1M125.9 261.7h1.1M127.1 256.1h1.1M131.3 257.8h1.1M132.8 254.6h1.1M122.4 260.8h1.1M122.9 261.7h1.1M129.9 262.2h1.1M127.0 257.7h1.1M119.6 266.1h1.1M122.7 257.1h1.1M120.7 262.1h1.1M125.0 254.8h1.1M128.3 258.0h1.1M122.5 259.5h1.1M130.3 256.4h1.1M129.7 254.7h1.1M120.5 271.5h1.1M119.9 264.1h1.1M116.9 265.1h1.1M121.3 261.7h1.1M124.5 267.1h1.1M117.8 265.9h1.1M133.5 259.2h1.1M126.2 258.5h1.1M123.5 262.1h1.1M127.0 264.7h1.1M123.4 264.5h1.1M128.9 260.0h1.1M135.2 258.6h1.1M127.2 255.9h1.1M129.2 258.7h1.1M129.6 256.6h1.1M125.3 259.6h1.1M125.4 262.0h1.1M123.7 266.5h1.1M129.4 258.7h1.1M133.0 258.0h1.1M122.7 260.2h1.1M127.2 254.8h1.1M126.6 255.3h1.1M126.9 259.9h1.1M124.3 264.0h1.1M134.8 253.1h1.1M122.3 260.3h1.1M120.9 262.1h1.1M128.3 262.5h1.1M132.7 255.4h1.1M131.8 256.6h1.1M123.4 266.1h1.1M135.5 258.5h1.1M126.0 264.6h1.1M125.6 259.5h1.1M130.5 263.5h1.1M113.8 270.3h1.1M117.5 263.6h1.1M123.6 257.9h1.1M124.8 262.2h1.1M128.9 257.1h1.1M127.9 257.4h1.1M120.8 255.5h1.1M124.2 265.8h1.1M124.9 260.9h1.1M126.1 257.0h1.1M123.5 253.2h1.1M125.1 259.3h1.1M126.5 260.4h1.1M132.4 257.7h1.1M126.9 261.5h1.1M126.0 262.8h1.1M126.8 258.0h1.1M124.2 260.0h1.1M124.0 262.0h1.1M123.4 261.7h1.1M131.3 257.6h1.1M123.1 263.5h1.1M123.9 263.0h1.1M133.1 255.5h1.1M122.7 259.7h1.1M129.8 255.9h1.1M121.1 267.2h1.1M122.5 259.1h1.1M129.1 261.8h1.1M125.4 256.3h1.1M127.8 257.9h1.1M131.9 256.9h1.1M124.8 261.4h1.1M132.8 257.2h1.1M139.3 251.7h1.1M126.9 257.6h1.1M129.7 258.5h1.1M117.8 267.5h1.1M120.6 259.4h1.1M128.2 265.3h1.1M128.4 257.1h1.1M123.5 258.4h1.1M127.1 258.7h1.1M113.8 263.2h1.1M123.5 261.2h1.1M123.5 260.1h1.1M130.4 259.5h1.1M136.7 253.8h1.1M126.7 258.8h1.1M126.0 257.4h1.1M124.9 262.2h1.1M129.5 261.9h1.1M130.5 254.3h1.1M132.9 254.5h1.1M125.4 255.9h1.1M127.9 259.0h1.1M122.7 259.0h1.1M116.3 262.1h1.1M118.4 266.6h1.1M116.1 269.1h1.1M121.6 259.3h1.1M124.2 260.8h1.1M119.6 269.6h1.1M124.5 259.1h1.1M129.0 259.6h1.1M124.2 257.7h1.1M126.7 256.0h1.1M115.4 260.5h1.1M119.9 263.3h1.1M127.0 265.3h1.1M132.0 259.7h1.1M125.7 257.5h1.1M134.5 256.0h1.1M133.8 256.0h1.1M133.7 254.9h1.1M123.2 263.3h1.1M134.2 252.5h1.1M129.4 257.7h1.1M131.1 253.8h1.1M130.2 256.9h1.1M124.4 261.3h1.1M131.6 259.0h1.1M120.3 259.4h1.1M125.0 255.1h1.1M130.6 255.2h1.1M133.4 258.6h1.1M121.7 262.1h1.1M131.0 256.2h1.1M125.5 260.0h1.1M131.6 253.4h1.1M124.3 263.4h1.1M129.0 258.4h1.1M123.1 264.8h1.1M126.3 266.4h1.1M132.8 256.4h1.1M124.6 262.3h1.1M124.7 259.5h1.1M127.3 258.2h1.1M134.7 255.0h1.1M126.0 263.0h1.1M126.0 260.8h1.1M123.5 264.3h1.1M126.6 261.5h1.1M124.7 262.1h1.1M119.1 261.7h1.1M126.2 260.7h1.1M114.4 267.1h1.1M123.6 265.4h1.1M136.4 258.7h1.1M118.5 259.7h1.1M121.6 264.8h1.1M135.6 256.9h1.1M119.5 259.3h1.1M117.8 269.6h1.1M122.5 264.1h1.1M120.3 269.5h1.1M128.7 253.2h1.1M127.1 264.2h1.1M127.6 259.5h1.1M128.3 259.1h1.1M126.5 261.1h1.1M133.2 256.3h1.1M124.1 255.5h1.1M132.8 253.0h1.1M122.3 262.7h1.1M120.0 265.2h1.1M130.2 258.9h1.1M131.3 261.3h1.1M121.9 261.1h1.1M128.1 258.6h1.1M116.1 262.3h1.1M121.2 265.5h1.1M126.3 258.5h1.1M135.2 255.9h1.1M125.6 258.2h1.1M130.2 254.3h1.1M123.8 263.7h1.1M124.5 256.2h1.1M122.8 270.1h1.1M121.0 252.5h1.1M112.5 261.7h1.1M127.5 263.4h1.1M126.9 258.8h1.1M126.9 263.3h1.1M108.7 276.9h1.1M119.9 266.5h1.1M120.2 265.9h1.1M117.0 264.3h1.1M133.3 252.1h1.1M122.2 271.5h1.1M137.3 245.8h1.1M104.2 265.8h1.1M117.0 277.8h1.1M134.9 256.9h1.1M131.8 252.9h1.1M112.3 265.3h1.1M136.4 253.0h1.1M136.1 261.1h1.1M122.3 258.4h1.1M117.7 268.8h1.1M134.3 254.3h1.1M117.4 267.1h1.1M131.6 253.9h1.1M141.9 256.9h1.1M128.3 261.3h1.1M134.0 260.6h1.1M117.8 275.7h1.1M119.7 263.1h1.1M131.1 256.0h1.1M128.5 269.8h1.1M120.6 269.8h1.1M128.6 261.1h1.1M123.5 257.8h1.1M132.6 252.5h1.1M124.9 265.5h1.1M124.3 263.5h1.1M127.1 261.7h1.1M141.7 249.3h1.1M121.3 263.5h1.1M121.5 270.0h1.1M123.1 259.4h1.1M135.1 252.8h1.1M117.2 265.8h1.1M125.6 265.8h1.1M130.8 266.7h1.1M125.2 257.0h1.1M118.8 267.1h1.1M123.7 256.4h1.1M122.7 269.5h1.1M124.8 262.3h1.1M130.9 267.8h1.1M130.0 265.2h1.1M125.4 261.0h1.1M118.3 273.1h1.1M118.1 264.4h1.1M130.9 266.6h1.1M133.3 262.4h1.1M131.0 260.5h1.1M138.0 250.5h1.1M141.4 251.3h1.1M121.5 261.2h1.1M122.7 258.4h1.1M126.7 268.6h1.1M119.5 253.2h1.1M132.8 264.1h1.1M129.5 268.3h1.1M129.3 257.0h1.1M116.6 265.0h1.1M122.5 258.6h1.1M126.2 258.8h1.1M125.6 261.2h1.1M144.3 254.2h1.1M116.3 268.2h1.1M131.0 260.4h1.1M120.3 260.0h1.1M119.9 268.2h1.1M117.8 271.3h1.1M138.0 248.0h1.1M125.1 269.1h1.1M126.1 255.0h1.1M118.5 258.3h1.1M119.7 264.4h1.1M129.1 268.3h1.1M114.4 269.8h1.1M117.1 257.5h1.1M120.6 255.0h1.1M128.5 261.4h1.1M124.4 261.8h1.1M115.9 263.6h1.1M110.5 267.2h1.1M118.1 263.4h1.1M123.3 257.2h1.1M114.0 271.3h1.1M123.7 254.6h1.1M127.7 260.1h1.1M117.4 264.4h1.1M130.6 251.6h1.1M132.5 252.9h1.1M114.2 255.1h1.1M114.4 266.4h1.1M122.0 250.1h1.1M131.0 260.5h1.1M140.3 251.0h1.1M114.8 257.7h1.1M123.6 257.1h1.1M136.5 257.8h1.1M112.9 267.1h1.1M138.0 246.3h1.1M117.7 272.7h1.1M136.2 247.3h1.1M118.5 272.4h1.1M108.6 266.2h1.1M138.8 263.4h1.1M121.2 271.2h1.1M125.9 256.1h1.1M128.4 261.8h1.1M113.8 266.5h1.1M125.3 269.1h1.1M123.8 256.9h1.1M122.5 254.7h1.1M120.6 256.6h1.1M121.2 254.9h1.1M125.0 261.7h1.1M123.0 253.5h1.1M137.4 254.6h1.1M131.5 257.8h1.1M130.4 255.3h1.1M121.6 261.6h1.1M112.3 270.9h1.1M117.8 257.1h1.1M137.3 252.6h1.1M143.7 257.0h1.1M126.4 264.0h1.1M123.7 262.4h1.1M130.5 261.7h1.1M133.0 251.9h1.1M119.7 266.7h1.1M125.9 266.2h1.1M131.1 248.7h1.1M135.1 246.3h1.1M114.0 271.8h1.1M129.2 258.8h1.1M111.9 273.9h1.1M112.5 274.6h1.1M127.9 262.3h1.1M127.2 264.0h1.1M126.5 253.3h1.1M128.6 255.6h1.1M123.6 264.7h1.1M116.3 266.0h1.1M125.7 270.7h1.1M120.0 268.7h1.1M130.7 260.0h1.1M122.1 254.3h1.1M114.5 257.2h1.1M123.8 252.2h1.1M124.8 260.9h1.1M123.4 285.3h1.1M89.7 270.6h1.1M128.0 262.3h1.1M109.0 288.0h1.1M122.7 264.8h1.1M112.4 268.3h1.1M127.4 260.8h1.1M99.4 262.3h1.1M129.9 258.0h1.1M113.6 275.0h1.1M101.9 274.5h1.1M134.6 275.6h1.1M118.6 259.7h1.1M88.1 262.0h1.1M115.8 257.8h1.1M119.1 254.0h1.1M104.5 258.6h1.1M119.9 273.6h1.1M127.1 254.0h1.1M120.3 275.6h1.1M124.3 264.2h1.1M137.0 248.3h1.1M112.5 265.9h1.1M126.3 260.8h1.1M120.2 255.7h1.1M120.6 268.0h1.1M140.8 270.9h1.1M100.6 262.8h1.1M123.7 271.4h1.1M130.6 260.2h1.1M106.9 259.5h1.1M126.4 246.1h1.1M107.4 258.5h1.1M130.0 263.6h1.1M132.2 256.5h1.1M108.3 264.0h1.1M132.8 255.7h1.1M109.1 266.1h1.1M127.5 269.5h1.1M105.0 266.7h1.1M127.4 260.7h1.1M130.3 253.7h1.1M125.7 282.1h1.1M108.2 263.1h1.1M125.5 276.8h1.1M123.4 262.5h1.1M132.4 257.9h1.1M131.4 262.1h1.1M136.0 267.1h1.1M120.4 263.1h1.1M107.8 286.5h1.1M103.3 272.3h1.1M119.6 253.4h1.1M105.9 273.9h1.1M93.6 266.6h1.1M138.0 250.6h1.1M132.2 253.1h1.1M120.8 262.5h1.1M108.4 257.2h1.1M131.3 253.7h1.1M124.8 286.0h1.1M113.6 265.4h1.1M134.2 251.6h1.1M124.2 271.7h1.1M123.2 269.1h1.1M119.8 255.4h1.1M134.6 244.5h1.1M117.9 262.2h1.1M106.0 259.2h1.1M116.2 272.2h1.1M122.6 253.8h1.1M86.3 272.4h1.1M92.5 269.3h1.1M104.3 268.9h1.1M100.2 252.5h1.1M96.4 272.2h1.1M86.9 258.3h1.1M107.9 283.7h1.1M112.9 279.4h1.1M86.8 259.2h1.1M112.5 264.0h1.1M99.5 256.5h1.1M104.8 256.3h1.1M72.9 275.4h1.1M116.9 248.3h1.1M115.2 251.3h1.1M98.3 275.3h1.1M108.5 277.4h1.1M89.3 261.2h1.1M109.6 270.9h1.1M92.3 273.2h1.1M116.6 258.1h1.1M82.1 263.0h1.1M102.1 260.3h1.1M82.0 268.2h1.1M113.2 277.9h1.1M97.6 260.6h1.1M77.6 264.7h1.1M75.5 262.5h1.1M114.7 289.1h1.1M108.9 259.1h1.1M102.1 263.5h1.1M73.7 267.0h1.1M111.5 252.8h1.1M76.6 264.9h1.1M90.8 265.9h1.1M72.3 275.4h1.1M117.7 261.1h1.1M56.1 273.3h1.1M113.8 257.6h1.1M106.4 273.7h1.1M108.7 256.7h1.1M109.1 273.8h1.1M111.2 272.6h1.1M65.8 266.1h1.1M99.5 264.7h1.1M116.2 257.4h1.1M114.9 267.6h1.1M109.7 265.1h1.1M116.1 245.9h1.1M69.5 262.8h1.1M73.5 255.2h1.1M67.8 277.6h1.1M84.7 266.7h1.1M87.4 267.6h1.1M81.9 270.7h1.1M104.2 278.2h1.1M85.5 263.4h1.1M94.0 264.7h1.1M88.8 258.7h1.1M87.9 266.2h1.1M99.3 268.0h1.1M85.8 261.9h1.1M109.1 260.8h1.1M111.2 262.7h1.1M79.6 274.0h1.1M51.1 274.1h1.1M108.3 264.1h1.1M60.5 276.9h1.1M89.0 274.1h1.1M103.0 280.0h1.1M94.5 268.9h1.1M77.6 268.3h1.1M88.4 249.3h1.1M71.7 262.9h1.1M81.7 274.1h1.1M94.3 267.3h1.1M64.3 269.3h1.1M102.0 253.0h1.1M93.4 268.6h1.1M88.4 275.1h1.1M116.9 265.2h1.1M98.8 279.6h1.1M86.9 264.9h1.1M104.0 265.7h1.1M84.0 275.3h1.1M85.7 259.9h1.1M93.6 273.9h1.1M110.5 253.2h1.1M109.2 246.1h1.1M90.3 273.2h1.1M106.6 272.1h1.1M93.6 260.0h1.1M103.2 266.5h1.1M115.2 259.0h1.1M117.1 249.1h1.1M100.1 269.4h1.1M113.8 272.2h1.1M97.2 282.5h1.1M70.9 263.3h1.1M76.6 265.0h1.1M93.0 257.2h1.1M83.8 264.5h1.1M97.9 260.1h1.1M82.7 270.6h1.1M93.9 271.3h1.1M46.3 265.0h1.1M69.2 276.1h1.1M98.8 249.7h1.1M42.1 269.4h1.1M99.6 258.9h1.1M83.2 274.8h1.1M83.3 275.9h1.1M69.0 305.3h1.1M90.9 290.8h1.1M86.2 284.3h1.1M89.9 299.7h1.1M64.3 311.2h1.1M75.1 303.7h1.1M69.2 305.7h1.1M84.5 289.9h1.1M76.9 296.4h1.1M78.2 309.8h1.1M90.2 289.2h1.1M93.4 289.9h1.1M89.6 279.8h1.1M88.0 286.6h1.1M95.8 290.5h1.1M75.8 304.3h1.1M68.8 315.5h1.1M80.3 296.4h1.1M123.5 249.5h1.1M122.7 252.9h1.1M62.2 244.0h1.1M117.6 293.8h1.1M99.3 272.9h1.1M134.0 320.0h1.1"/>
<path d="M131.2 258.0h1.1M126.9 259.3h1.1M128.8 259.0h1.1M124.0 258.8h1.1M121.8 258.9h1.1M121.9 265.7h1.1M115.8 264.7h1.1M122.0 261.3h1.1M129.5 253.8h1.1M129.9 259.3h1.1M127.7 259.6h1.1M128.5 254.8h1.1M126.6 255.0h1.1M129.4 257.0h1.1M130.9 253.9h1.1M128.0 260.0h1.1M114.7 266.2h1.1M123.8 264.2h1.1M129.4 260.9h1.1M117.6 263.5h1.1M128.5 257.6h1.1M131.5 260.5h1.1M121.4 262.8h1.1M124.8 252.8h1.1M118.3 263.0h1.1M122.0 263.4h1.1M124.7 258.4h1.1M126.3 256.9h1.1M128.1 259.2h1.1M129.6 260.5h1.1M128.8 261.7h1.1M120.8 257.2h1.1M130.5 260.0h1.1M134.1 258.4h1.1M124.2 258.8h1.1M124.0 260.4h1.1M120.4 263.3h1.1M131.6 263.6h1.1M124.6 261.0h1.1M131.0 254.6h1.1M126.5 266.8h1.1M124.9 259.8h1.1M128.9 257.8h1.1M123.5 262.2h1.1M123.6 263.6h1.1M133.3 253.6h1.1M128.8 257.8h1.1M129.9 264.4h1.1M124.9 260.5h1.1M118.8 264.7h1.1M122.5 262.2h1.1M117.0 259.4h1.1M128.8 257.1h1.1M127.6 258.5h1.1M126.3 259.4h1.1M131.1 255.6h1.1M135.5 251.8h1.1M125.0 263.4h1.1M126.0 261.3h1.1M126.6 257.4h1.1M122.3 262.4h1.1M131.2 256.0h1.1M128.3 260.2h1.1M127.8 259.4h1.1M123.8 264.0h1.1M123.2 262.3h1.1M130.7 259.3h1.1M126.1 258.4h1.1M121.1 256.7h1.1M120.6 265.6h1.1M130.0 259.8h1.1M127.7 258.4h1.1M130.0 258.6h1.1M128.6 258.8h1.1M116.0 263.5h1.1M125.1 259.7h1.1M115.8 266.2h1.1M120.8 260.9h1.1M121.2 262.1h1.1M131.5 256.8h1.1M124.9 256.0h1.1M120.1 258.3h1.1M126.4 262.0h1.1M117.6 266.6h1.1M135.8 258.1h1.1M126.9 253.5h1.1M122.2 260.6h1.1M130.4 256.3h1.1M126.0 258.3h1.1M128.3 266.0h1.1M122.7 264.0h1.1M117.7 264.4h1.1M130.3 259.7h1.1M125.0 262.4h1.1M128.6 259.7h1.1M128.8 256.4h1.1M125.0 264.7h1.1M130.2 261.5h1.1M118.1 263.9h1.1M125.0 261.5h1.1M129.7 263.1h1.1M126.7 254.4h1.1M132.9 255.7h1.1M130.8 253.9h1.1M124.8 262.3h1.1M117.8 264.4h1.1M116.2 264.9h1.1M132.1 256.9h1.1M123.4 264.4h1.1M113.2 268.0h1.1M129.6 258.5h1.1M123.4 259.8h1.1M121.9 261.8h1.1M129.1 256.3h1.1M132.5 255.9h1.1M120.9 257.4h1.1M125.8 259.0h1.1M122.9 265.4h1.1M124.2 264.9h1.1M129.1 258.0h1.1M118.7 258.5h1.1M127.7 264.1h1.1M127.6 260.9h1.1M125.4 258.7h1.1M132.1 254.3h1.1M126.7 259.0h1.1M138.4 250.0h1.1M128.3 259.2h1.1M126.6 261.4h1.1M136.0 257.6h1.1M133.5 260.1h1.1M135.7 256.1h1.1M126.5 259.0h1.1M127.8 257.7h1.1M118.8 261.6h1.1M124.8 260.8h1.1M121.0 264.5h1.1M119.9 263.7h1.1M131.9 256.7h1.1M124.0 262.3h1.1M119.1 269.0h1.1M134.9 252.3h1.1M130.7 255.3h1.1M120.6 263.1h1.1M127.8 260.0h1.1M120.5 264.6h1.1M120.1 262.6h1.1M128.7 259.7h1.1M124.3 257.6h1.1M124.7 254.7h1.1M120.7 263.5h1.1M118.1 268.2h1.1M123.3 265.1h1.1M120.4 265.3h1.1M127.6 250.5h1.1M124.4 260.4h1.1M127.0 263.9h1.1M117.7 261.8h1.1M121.8 263.7h1.1M126.0 257.6h1.1M126.6 261.6h1.1M124.4 262.9h1.1M118.5 267.0h1.1M123.6 259.3h1.1M122.0 265.6h1.1M125.6 261.4h1.1M132.7 256.5h1.1M122.7 257.3h1.1M123.8 259.1h1.1M133.4 258.8h1.1M131.0 254.8h1.1M120.7 258.1h1.1M121.8 258.3h1.1M117.6 263.9h1.1M130.0 262.0h1.1M131.2 256.2h1.1M126.4 261.5h1.1M125.1 262.4h1.1M132.7 251.5h1.1M123.2 262.6h1.1M119.0 259.5h1.1M130.9 250.6h1.1M122.8 267.5h1.1M128.3 259.8h1.1M130.8 259.3h1.1M134.0 258.3h1.1M127.6 261.5h1.1M119.6 258.9h1.1M123.1 259.8h1.1M124.3 262.3h1.1M131.4 261.7h1.1M124.2 260.7h1.1M128.3 259.1h1.1M129.3 254.1h1.1M121.8 260.6h1.1M134.9 254.6h1.1M130.0 255.5h1.1M125.9 260.8h1.1M123.8 260.7h1.1M121.7 260.3h1.1M130.0 255.6h1.1M119.3 263.4h1.1M122.4 263.1h1.1M128.1 259.0h1.1M125.2 258.3h1.1M119.9 267.6h1.1M123.9 256.9h1.1M116.4 266.9h1.1M131.8 248.7h1.1M122.9 267.9h1.1M139.9 252.2h1.1M123.7 264.4h1.1M121.7 265.0h1.1M116.8 270.1h1.1M127.0 260.9h1.1M127.5 256.1h1.1M120.4 260.9h1.1M119.9 263.5h1.1M125.9 258.7h1.1M117.9 266.0h1.1M128.6 259.1h1.1M125.0 261.4h1.1M132.2 255.1h1.1M121.1 264.1h1.1M121.5 259.4h1.1M122.8 258.7h1.1M126.1 262.3h1.1M126.5 260.7h1.1M120.8 262.8h1.1M130.7 258.2h1.1M125.7 262.3h1.1M123.8 259.8h1.1M126.3 258.3h1.1M124.0 260.0h1.1M116.9 266.6h1.1M122.3 268.6h1.1M117.2 264.0h1.1M133.8 261.5h1.1M130.0 260.7h1.1M117.8 265.8h1.1M122.2 261.4h1.1M126.0 256.8h1.1M127.6 261.1h1.1M128.1 254.2h1.1M127.4 254.3h1.1M128.2 264.5h1.1M132.6 253.7h1.1M126.0 257.0h1.1M119.1 259.8h1.1M122.4 264.6h1.1M126.9 262.3h1.1M122.9 265.5h1.1M119.2 266.1h1.1M121.2 266.4h1.1M121.8 258.2h1.1M125.5 261.3h1.1M122.9 263.9h1.1M118.5 263.2h1.1M121.8 268.6h1.1M119.3 260.8h1.1M118.2 259.3h1.1M125.0 254.9h1.1M121.9 258.6h1.1M124.5 259.9h1.1M128.7 259.7h1.1M131.2 257.3h1.1M129.2 257.3h1.1M130.3 262.0h1.1M122.1 257.7h1.1M128.5 258.9h1.1M117.7 266.3h1.1M123.7 258.5h1.1M128.8 255.8h1.1M128.4 260.0h1.1M128.1 263.2h1.1M118.9 260.9h1.1M128.2 257.5h1.1M131.3 252.2h1.1M125.3 260.8h1.1M124.9 261.9h1.1M127.9 259.5h1.1M125.0 259.9h1.1M130.5 259.0h1.1M131.2 252.1h1.1M128.0 258.3h1.1M129.2 258.2h1.1M127.6 261.4h1.1M130.7 259.4h1.1M128.8 257.0h1.1M120.8 260.0h1.1M136.2 259.2h1.1M124.9 258.6h1.1M123.8 262.1h1.1M130.2 255.8h1.1M126.9 257.8h1.1M130.6 256.7h1.1M132.6 260.2h1.1M123.6 262.2h1.1M111.8 269.7h1.1M130.1 257.8h1.1M127.7 260.3h1.1M128.8 257.6h1.1M128.3 254.0h1.1M122.6 261.4h1.1M130.8 257.1h1.1M127.7 257.6h1.1M131.8 258.2h1.1M123.8 255.6h1.1M122.5 261.2h1.1M126.5 259.7h1.1M127.2 260.4h1.1M122.7 259.3h1.1M121.0 259.9h1.1M127.4 261.6h1.1M119.7 256.5h1.1M122.9 262.5h1.1M123.2 260.0h1.1M125.8 261.0h1.1M137.3 257.1h1.1M122.5 263.6h1.1M119.1 265.6h1.1M127.0 257.2h1.1M129.1 257.2h1.1M129.8 254.2h1.1M121.3 262.4h1.1M120.4 262.7h1.1M127.4 259.7h1.1M124.8 266.7h1.1M131.8 255.1h1.1M131.3 265.7h1.1M131.7 262.9h1.1M118.4 274.7h1.1M117.6 269.1h1.1M120.3 263.6h1.1M131.8 254.4h1.1M131.4 261.5h1.1M107.5 273.4h1.1M120.0 259.0h1.1M113.4 265.7h1.1M127.8 261.5h1.1M118.7 265.7h1.1M134.5 261.8h1.1M107.1 268.6h1.1M127.8 259.5h1.1M119.2 266.8h1.1M123.7 260.4h1.1M129.2 260.8h1.1M112.5 276.6h1.1M123.7 270.1h1.1M107.9 266.6h1.1M120.2 256.1h1.1M125.7 251.8h1.1M123.5 258.9h1.1M118.7 256.2h1.1M124.5 257.1h1.1M125.4 252.8h1.1M117.0 267.3h1.1M131.9 255.3h1.1M116.5 261.3h1.1M121.3 263.2h1.1M124.0 261.2h1.1M118.2 264.8h1.1M145.9 242.3h1.1M111.2 264.6h1.1M126.0 256.6h1.1M127.2 261.3h1.1M133.0 251.1h1.1M120.6 255.0h1.1M108.5 255.4h1.1M134.1 258.8h1.1M117.0 258.3h1.1M120.1 270.5h1.1M119.4 270.1h1.1M133.3 253.2h1.1M121.2 260.3h1.1M117.0 256.2h1.1M115.6 260.2h1.1M124.2 263.6h1.1M123.3 275.6h1.1M140.7 258.7h1.1M120.5 261.3h1.1M123.4 269.0h1.1M128.8 265.7h1.1M122.9 251.9h1.1M128.5 260.0h1.1M134.0 265.9h1.1M122.5 271.8h1.1M112.6 271.7h1.1M121.3 259.3h1.1M118.1 259.1h1.1M122.1 260.6h1.1M113.6 272.1h1.1M130.2 261.3h1.1M142.6 256.2h1.1M126.2 256.5h1.1M123.2 265.0h1.1M120.4 271.8h1.1M114.3 265.4h1.1M132.9 259.1h1.1M110.6 270.0h1.1M113.7 264.7h1.1M126.2 262.4h1.1M124.4 263.5h1.1M116.8 265.8h1.1M128.6 265.5h1.1M118.3 256.6h1.1M124.7 256.6h1.1M122.4 264.0h1.1M125.6 263.1h1.1M129.0 265.3h1.1M132.7 256.5h1.1M126.9 263.7h1.1M122.0 258.5h1.1M133.8 259.5h1.1M120.1 261.6h1.1M136.3 258.1h1.1M118.5 260.5h1.1M136.6 249.5h1.1M119.6 262.8h1.1M119.3 266.7h1.1M127.3 263.9h1.1M133.0 261.3h1.1M130.6 254.9h1.1M135.4 259.0h1.1M120.8 261.1h1.1M127.7 263.8h1.1M114.6 272.5h1.1M117.6 266.0h1.1M127.8 271.2h1.1M131.8 252.8h1.1M131.9 256.8h1.1M123.5 268.3h1.1M131.3 257.3h1.1M118.9 257.9h1.1M125.7 258.2h1.1M118.7 263.1h1.1M131.3 259.4h1.1M131.0 259.1h1.1M132.1 260.2h1.1M116.8 268.4h1.1M129.3 254.7h1.1M131.5 253.8h1.1M132.0 265.2h1.1M134.0 252.4h1.1M115.5 263.3h1.1M128.2 256.2h1.1M135.1 257.1h1.1M125.9 254.8h1.1M131.9 259.3h1.1M121.0 270.9h1.1M132.8 265.1h1.1M115.0 270.5h1.1M134.4 262.6h1.1M119.0 263.2h1.1M128.8 255.8h1.1M120.4 274.1h1.1M128.9 265.1h1.1M129.2 260.2h1.1M113.7 276.5h1.1M128.2 258.1h1.1M125.1 267.3h1.1M123.8 261.1h1.1M127.5 262.2h1.1M128.3 251.2h1.1M115.5 269.0h1.1M131.4 253.7h1.1M127.2 250.6h1.1M116.7 260.2h1.1M128.1 258.4h1.1M124.7 262.8h1.1M134.9 259.3h1.1M121.8 261.3h1.1M133.7 263.1h1.1M120.2 262.7h1.1M129.0 261.4h1.1M131.9 271.5h1.1M122.5 269.6h1.1M126.1 265.1h1.1M120.8 265.3h1.1M130.1 259.7h1.1M111.3 274.7h1.1M112.3 266.2h1.1M122.6 260.0h1.1M117.0 264.3h1.1M140.6 257.1h1.1M122.0 266.5h1.1M131.2 248.2h1.1M106.0 265.2h1.1M130.7 260.5h1.1M121.1 250.1h1.1M147.9 254.7h1.1M137.4 263.0h1.1M139.3 253.0h1.1M122.0 266.2h1.1M135.7 260.8h1.1M133.1 259.5h1.1M137.1 262.1h1.1M109.8 264.4h1.1M127.7 275.2h1.1M147.8 250.0h1.1M137.1 259.4h1.1M126.1 278.1h1.1M123.9 265.9h1.1M122.1 257.6h1.1M104.0 272.0h1.1M126.3 275.5h1.1M117.0 252.2h1.1M132.1 257.4h1.1M122.4 259.0h1.1M126.7 249.6h1.1M134.4 258.9h1.1M124.3 258.7h1.1M119.6 257.6h1.1M106.8 276.4h1.1M141.5 260.5h1.1M97.5 256.5h1.1M121.4 263.6h1.1M122.0 263.8h1.1M130.7 254.2h1.1M119.0 266.6h1.1M105.1 283.6h1.1M97.0 269.4h1.1M107.1 262.5h1.1M109.8 272.8h1.1M129.1 276.2h1.1M120.4 265.4h1.1M123.6 263.9h1.1M113.5 271.5h1.1M142.0 262.0h1.1M131.9 275.2h1.1M122.9 268.0h1.1M115.8 254.8h1.1M115.3 266.5h1.1M126.2 258.9h1.1M116.6 262.5h1.1M120.2 261.5h1.1M94.8 255.0h1.1M100.4 258.4h1.1M105.9 261.2h1.1M112.7 263.3h1.1M136.5 259.3h1.1M117.6 270.2h1.1M130.2 267.5h1.1M107.8 270.4h1.1M124.6 263.4h1.1M135.3 270.5h1.1M137.4 262.1h1.1M136.1 249.4h1.1M117.0 276.7h1.1M124.3 277.8h1.1M118.0 260.1h1.1M139.5 271.8h1.1M119.3 266.9h1.1M113.9 258.8h1.1M123.5 283.2h1.1M121.2 264.5h1.1M101.3 265.1h1.1M128.8 268.1h1.1M128.0 252.2h1.1M150.7 260.5h1.1M102.8 288.8h1.1M92.6 264.7h1.1M109.8 270.9h1.1M78.5 271.7h1.1M93.7 265.5h1.1M93.0 259.7h1.1M106.2 279.0h1.1M105.0 266.1h1.1M103.0 271.9h1.1M99.0 266.5h1.1M111.2 275.1h1.1M71.0 259.5h1.1M95.5 256.7h1.1M81.6 272.6h1.1M109.2 268.7h1.1M112.9 253.5h1.1M96.9 264.3h1.1M113.5 278.8h1.1M101.3 249.0h1.1M71.4 265.6h1.1M117.9 263.1h1.1M104.4 272.9h1.1M107.1 255.6h1.1M117.9 260.2h1.1M43.7 270.2h1.1M102.8 246.9h1.1M113.5 249.2h1.1M83.4 267.2h1.1M93.8 273.1h1.1M111.2 256.1h1.1M115.9 276.6h1.1M51.7 278.9h1.1M109.1 261.1h1.1M97.9 261.0h1.1M95.8 268.7h1.1M111.1 262.8h1.1M79.7 273.3h1.1M110.9 252.7h1.1M75.7 266.8h1.1M91.3 266.7h1.1M82.3 278.3h1.1M101.9 275.3h1.1M112.0 259.3h1.1M97.7 251.7h1.1M98.1 272.8h1.1M114.0 271.8h1.1M86.6 256.7h1.1M86.4 264.1h1.1M103.3 269.2h1.1M46.7 282.2h1.1M71.2 274.2h1.1M90.8 263.3h1.1M101.1 266.3h1.1M108.0 265.1h1.1M88.2 274.0h1.1M97.2 266.4h1.1M112.7 262.6h1.1M83.4 248.2h1.1M63.4 260.0h1.1M77.3 265.6h1.1M86.9 265.6h1.1M113.8 265.4h1.1M117.2 266.2h1.1M105.1 275.7h1.1M52.4 259.1h1.1M117.1 252.3h1.1M100.5 266.1h1.1M51.2 273.9h1.1M115.7 272.8h1.1M117.1 265.8h1.1M89.8 273.7h1.1M95.2 265.0h1.1M73.7 276.6h1.1M94.1 276.3h1.1M67.9 283.5h1.1M93.8 277.1h1.1M90.5 263.2h1.1M94.1 268.4h1.1M87.5 251.0h1.1M68.5 258.3h1.1M105.7 230.2h1.1M82.2 265.9h1.1M78.9 267.5h1.1M91.5 253.4h1.1M68.8 278.1h1.1M66.7 267.8h1.1M56.8 257.0h1.1M51.1 254.6h1.1M96.3 273.1h1.1M113.3 272.5h1.1M116.1 254.4h1.1M61.2 261.0h1.1M113.6 277.5h1.1M72.6 270.8h1.1M85.0 261.8h1.1M83.4 278.1h1.1M108.7 273.6h1.1M106.3 276.1h1.1M87.7 266.8h1.1M61.8 271.9h1.1M114.8 247.3h1.1M113.1 265.1h1.1M43.4 275.1h1.1M99.8 258.2h1.1M98.2 287.6h1.1M89.8 262.8h1.1M114.6 253.5h1.1M76.1 257.5h1.1M95.6 284.0h1.1M72.8 276.3h1.1M100.3 280.5h1.1M89.4 296.4h1.1M88.8 290.2h1.1M65.8 304.2h1.1M78.7 307.0h1.1M69.5 299.7h1.1M88.1 288.1h1.1M75.7 298.7h1.1M70.6 309.6h1.1M83.9 291.7h1.1M81.9 297.4h1.1M86.6 287.6h1.1M82.3 297.0h1.1M77.2 292.6h1.1M84.9 290.8h1.1M61.0 318.8h1.1M80.9 296.0h1.1M67.2 311.1h1.1M92.0 289.2h1.1M80.7 296.0h1.1M149.7 303.6h1.1M141.5 268.2h1.1M108.9 246.9h1.1M101.5 278.7h1.1M130.1 261.3h1.1M144.6 253.5h1.1"/>
<path d="M130.6 257.8h1.1M127.0 257.4h1.1M122.2 259.5h1.1M127.8 258.7h1.1M120.5 262.0h1.1M130.8 257.4h1.1M126.8 253.9h1.1M130.4 257.3h1.1M122.9 264.0h1.1M135.2 255.1h1.1M124.6 263.0h1.1M126.6 262.6h1.1M128.1 262.4h1.1M127.2 261.4h1.1M124.0 257.8h1.1M130.9 253.7h1.1M118.4 267.5h1.1M115.6 263.5h1.1M122.9 258.1h1.1M129.0 256.4h1.1M114.3 265.0h1.1M123.6 260.1h1.1M128.1 261.2h1.1M129.1 259.5h1.1M127.2 259.8h1.1M114.8 265.0h1.1M122.8 262.1h1.1M117.1 266.0h1.1M133.3 257.5h1.1M128.2 266.5h1.1M129.2 258.1h1.1M123.3 263.5h1.1M116.9 265.8h1.1M118.9 263.1h1.1M129.3 259.0h1.1M128.5 260.3h1.1M123.5 262.0h1.1M128.9 262.1h1.1M130.9 256.9h1.1M128.0 257.3h1.1M126.7 262.0h1.1M123.5 258.3h1.1M122.5 260.2h1.1M126.9 260.7h1.1M129.4 258.8h1.1M126.1 259.5h1.1M128.1 259.8h1.1M122.3 260.4h1.1M125.5 263.6h1.1M123.1 263.1h1.1M129.2 257.4h1.1M129.5 260.3h1.1M132.8 262.3h1.1M128.4 258.0h1.1M120.0 267.0h1.1M127.3 264.1h1.1M123.7 263.1h1.1M125.4 259.2h1.1M130.9 258.9h1.1M121.0 262.0h1.1M126.0 255.8h1.1M129.0 256.8h1.1M127.3 263.4h1.1M122.2 264.9h1.1M132.1 248.2h1.1M131.5 256.8h1.1M126.1 252.3h1.1M125.3 258.3h1.1M131.7 257.4h1.1M121.5 264.1h1.1M130.5 258.9h1.1M131.3 248.5h1.1M124.9 259.0h1.1M134.0 261.0h1.1M139.6 257.2h1.1M126.1 257.8h1.1M128.5 260.0h1.1M135.1 259.6h1.1M121.4 260.4h1.1M127.7 258.3h1.1M134.4 254.8h1.1M123.7 259.2h1.1M121.8 255.3h1.1M120.1 258.1h1.1M124.8 262.2h1.1M135.1 256.7h1.1M127.6 259.8h1.1M127.8 255.4h1.1M128.7 258.3h1.1M125.9 262.2h1.1M126.7 258.7h1.1M123.7 257.1h1.1M127.4 257.6h1.1M132.5 255.1h1.1M124.9 261.3h1.1M117.8 263.0h1.1M130.3 259.1h1.1M125.0 257.7h1.1M119.0 264.2h1.1M126.3 262.9h1.1M123.8 262.8h1.1M122.1 263.1h1.1M126.0 262.3h1.1M133.1 260.0h1.1M130.8 253.8h1.1M118.0 267.6h1.1M134.4 254.8h1.1M118.3 258.5h1.1M117.5 264.7h1.1M119.0 260.1h1.1M128.6 258.4h1.1M121.7 259.8h1.1M125.5 263.5h1.1M130.2 257.6h1.1M136.7 258.7h1.1M124.8 259.5h1.1M125.0 265.3h1.1M121.3 260.7h1.1M133.7 254.2h1.1M121.2 265.1h1.1M125.0 261.8h1.1M125.4 257.1h1.1M130.6 261.4h1.1M121.4 261.4h1.1M127.2 252.0h1.1M121.1 261.4h1.1M126.2 260.8h1.1M122.6 254.9h1.1M125.1 260.2h1.1M127.4 255.5h1.1M126.6 262.8h1.1M123.2 260.0h1.1M123.9 258.9h1.1M123.0 261.2h1.1M126.1 256.2h1.1M129.1 256.1h1.1M132.3 259.3h1.1M124.6 260.8h1.1M119.9 262.2h1.1M116.5 262.8h1.1M125.0 257.9h1.1M127.1 262.6h1.1M126.3 253.9h1.1M128.8 257.4h1.1M125.7 263.3h1.1M120.7 261.2h1.1M126.8 268.5h1.1M132.2 254.7h1.1M125.0 256.0h1.1M121.3 261.2h1.1M128.3 261.0h1.1M127.0 259.4h1.1M121.8 268.8h1.1M129.7 257.6h1.1M128.3 256.5h1.1M120.1 266.7h1.1M109.5 268.7h1.1M126.3 260.0h1.1M135.6 256.0h1.1M114.3 262.9h1.1M124.5 262.6h1.1M128.0 261.1h1.1M125.7 258.5h1.1M129.4 255.4h1.1M121.5 261.8h1.1M125.3 262.5h1.1M122.3 260.0h1.1M127.0 259.6h1.1M120.1 265.7h1.1M131.1 263.4h1.1M122.3 256.6h1.1M127.0 263.3h1.1M126.9 261.8h1.1M130.7 261.0h1.1M123.7 262.0h1.1M130.7 259.3h1.1M133.7 256.0h1.1M126.3 257.4h1.1M120.3 263.8h1.1M125.4 260.2h1.1M127.4 258.1h1.1M131.3 255.6h1.1M128.6 258.7h1.1M128.9 255.7h1.1M123.7 260.9h1.1M124.0 262.5h1.1M122.9 258.9h1.1M129.7 259.7h1.1M128.8 261.4h1.1M128.4 255.8h1.1M122.4 259.6h1.1M128.8 260.8h1.1M122.9 259.9h1.1M119.8 260.8h1.1M120.8 262.5h1.1M121.3 264.0h1.1M128.5 259.3h1.1M128.4 260.6h1.1M126.3 254.0h1.1M122.7 259.7h1.1M127.1 259.2h1.1M118.7 263.3h1.1M114.5 266.5h1.1M131.2 258.0h1.1M130.7 256.6h1.1M131.7 257.8h1.1M125.6 269.8h1.1M131.0 260.8h1.1M125.6 261.0h1.1M120.8 257.2h1.1M124.5 266.8h1.1M128.6 256.9h1.1M125.3 260.8h1.1M123.1 263.9h1.1M127.9 254.3h1.1M110.8 264.4h1.1M128.6 262.6h1.1M125.9 258.0h1.1M128.4 260.4h1.1M124.9 259.0h1.1M123.8 259.1h1.1M122.0 263.7h1.1M122.4 265.6h1.1M126.9 256.8h1.1M124.1 256.0h1.1M132.9 257.2h1.1M125.3 262.7h1.1M121.0 262.6h1.1M121.4 261.9h1.1M124.3 260.4h1.1M126.3 258.4h1.1M132.9 257.2h1.1M125.7 252.0h1.1M126.1 258.6h1.1M120.0 261.7h1.1M124.4 260.2h1.1M120.6 261.6h1.1M123.7 266.7h1.1M121.2 263.0h1.1M118.4 262.9h1.1M117.7 262.4h1.1M126.1 259.8h1.1M122.9 269.4h1.1M132.9 258.3h1.1M120.7 261.7h1.1M126.9 261.5h1.1M124.3 261.9h1.1M120.7 261.4h1.1M132.1 259.3h1.1M130.3 256.2h1.1M131.3 258.9h1.1M121.6 260.7h1.1M129.8 254.4h1.1M122.4 260.4h1.1M126.0 261.9h1.1M125.6 263.2h1.1M128.8 257.7h1.1M124.5 258.5h1.1M126.3 262.1h1.1M124.9 257.7h1.1M129.3 260.0h1.1M131.3 260.4h1.1M125.9 261.3h1.1M126.7 257.3h1.1M121.8 260.7h1.1M124.4 261.6h1.1M127.3 259.1h1.1M120.6 263.2h1.1M128.8 259.0h1.1M122.0 267.9h1.1M127.6 260.1h1.1M126.4 254.3h1.1M129.8 258.8h1.1M120.3 264.8h1.1M122.3 259.2h1.1M127.7 259.3h1.1M126.3 260.3h1.1M134.5 254.6h1.1M125.3 259.8h1.1M121.8 256.8h1.1M121.6 258.9h1.1M119.4 258.9h1.1M131.9 255.7h1.1M124.1 266.0h1.1M118.8 263.9h1.1M118.5 255.8h1.1M131.5 255.5h1.1M132.0 255.3h1.1M125.9 259.5h1.1M123.3 260.1h1.1M122.6 266.0h1.1M127.6 261.0h1.1M119.2 265.6h1.1M128.9 259.1h1.1M129.2 259.2h1.1M126.1 260.4h1.1M131.8 254.5h1.1M130.5 261.9h1.1M122.6 260.7h1.1M132.3 260.9h1.1M119.4 263.7h1.1M129.4 256.7h1.1M121.1 260.2h1.1M123.3 259.5h1.1M120.5 259.2h1.1M123.9 258.5h1.1M130.5 255.7h1.1M120.0 260.5h1.1M131.3 256.9h1.1M135.7 258.5h1.1M119.1 261.2h1.1M123.9 259.2h1.1M128.2 260.1h1.1M119.5 260.6h1.1M125.5 257.8h1.1M130.7 259.5h1.1M124.9 263.9h1.1M135.1 253.3h1.1M129.5 258.6h1.1M128.8 259.9h1.1M124.6 259.3h1.1M131.2 261.2h1.1M128.3 253.9h1.1M129.1 265.0h1.1M126.2 257.3h1.1M123.5 266.3h1.1M124.5 259.0h1.1M123.4 261.1h1.1M140.9 259.2h1.1M125.1 257.1h1.1M113.9 268.1h1.1M126.1 261.3h1.1M126.8 264.1h1.1M108.8 264.2h1.1M128.0 260.0h1.1M118.9 261.7h1.1M120.5 264.5h1.1M137.9 261.5h1.1M117.3 252.5h1.1M133.2 249.6h1.1M119.5 269.3h1.1M130.2 258.0h1.1M142.7 256.0h1.1M126.6 260.6h1.1M126.8 263.7h1.1M114.3 271.4h1.1M119.1 270.3h1.1M140.2 247.5h1.1M127.7 266.6h1.1M116.9 263.1h1.1M134.0 258.7h1.1M112.0 272.3h1.1M118.5 261.1h1.1M120.3 274.6h1.1M128.7 256.4h1.1M123.1 258.1h1.1M126.7 265.0h1.1M118.2 263.9h1.1M129.6 251.7h1.1M127.7 252.1h1.1M113.8 274.1h1.1M132.1 255.1h1.1M135.5 253.7h1.1M132.4 261.5h1.1M133.9 258.5h1.1M132.1 258.7h1.1M121.7 264.5h1.1M120.4 263.6h1.1M123.8 265.4h1.1M120.3 264.2h1.1M103.7 267.6h1.1M128.4 273.6h1.1M127.3 259.4h1.1M131.0 263.3h1.1M118.8 264.0h1.1M113.4 269.4h1.1M114.5 261.3h1.1M124.7 252.5h1.1M128.2 261.7h1.1M119.0 266.8h1.1M136.8 254.3h1.1M116.1 262.7h1.1M124.1 262.5h1.1M117.2 264.3h1.1M121.6 267.4h1.1M122.6 266.3h1.1M123.2 266.9h1.1M119.3 270.9h1.1M121.5 260.8h1.1M112.4 262.6h1.1M123.2 261.1h1.1M118.7 258.7h1.1M127.6 271.3h1.1M114.2 265.5h1.1M120.2 258.8h1.1M121.4 270.5h1.1M131.3 259.3h1.1M121.4 261.2h1.1M120.7 263.4h1.1M143.0 250.5h1.1M121.2 267.9h1.1M126.1 262.5h1.1M116.7 257.2h1.1M114.8 271.1h1.1M126.4 258.3h1.1M131.6 264.1h1.1M110.7 267.3h1.1M118.5 264.4h1.1M133.8 256.7h1.1M123.7 262.4h1.1M133.1 260.0h1.1M125.7 259.0h1.1M120.3 264.0h1.1M113.0 268.5h1.1M135.9 253.6h1.1M133.6 259.1h1.1M115.6 264.2h1.1M128.1 255.9h1.1M124.3 263.5h1.1M140.5 251.7h1.1M131.8 255.5h1.1M126.9 265.2h1.1M131.9 259.3h1.1M125.4 256.7h1.1M129.4 257.4h1.1M117.7 265.9h1.1M112.6 255.4h1.1M137.3 258.2h1.1M127.8 248.7h1.1M126.9 259.6h1.1M126.4 258.6h1.1M136.5 250.7h1.1M107.7 272.7h1.1M138.0 259.2h1.1M122.1 253.3h1.1M128.1 265.7h1.1M123.5 255.8h1.1M112.8 259.2h1.1M125.4 264.9h1.1M127.4 256.1h1.1M135.3 259.7h1.1M128.8 257.7h1.1M118.0 266.5h1.1M123.6 263.7h1.1M120.8 265.4h1.1M124.0 255.7h1.1M120.6 260.5h1.1M121.3 258.3h1.1M131.6 267.0h1.1M110.6 265.7h1.1M111.7 266.6h1.1M121.1 260.1h1.1M137.2 259.0h1.1M141.1 246.1h1.1M127.2 262.1h1.1M124.5 254.4h1.1M126.6 255.4h1.1M120.2 263.4h1.1M119.6 276.2h1.1M123.7 253.1h1.1M134.2 255.9h1.1M131.1 254.2h1.1M131.8 251.6h1.1M137.3 255.1h1.1M108.5 266.7h1.1M130.9 251.2h1.1M128.7 258.1h1.1M112.6 269.3h1.1M137.5 253.7h1.1M133.3 248.9h1.1M136.6 252.5h1.1M117.0 263.0h1.1M121.6 274.6h1.1M124.7 268.2h1.1M129.9 260.5h1.1M113.2 267.2h1.1M124.6 261.1h1.1M124.2 252.0h1.1M137.2 251.9h1.1M125.8 246.1h1.1M126.7 263.1h1.1M130.0 253.8h1.1M115.8 257.9h1.1M125.1 258.6h1.1M124.0 266.5h1.1M137.1 261.5h1.1M109.8 264.6h1.1M110.4 273.5h1.1M121.2 258.3h1.1M119.4 277.9h1.1M115.2 255.4h1.1M119.5 270.4h1.1M122.8 259.7h1.1M111.0 265.8h1.1M114.5 262.0h1.1M115.1 275.5h1.1M109.6 241.8h1.1M93.3 263.6h1.1M117.4 261.5h1.1M111.5 265.5h1.1M114.7 263.5h1.1M133.4 244.8h1.1M118.3 260.4h1.1M137.8 265.0h1.1M109.8 261.5h1.1M133.8 258.9h1.1M136.2 252.3h1.1M108.0 260.5h1.1M121.0 254.7h1.1M112.6 260.8h1.1M139.6 266.2h1.1M121.4 263.9h1.1M118.9 271.6h1.1M108.3 250.0h1.1M115.7 253.0h1.1M128.1 267.2h1.1M142.5 253.8h1.1M123.2 269.5h1.1M133.0 275.3h1.1M145.4 256.5h1.1M124.3 274.1h1.1M119.8 257.8h1.1M127.2 262.0h1.1M133.7 236.3h1.1M129.5 274.4h1.1M107.4 270.5h1.1M88.6 266.4h1.1M133.8 256.8h1.1M112.2 275.9h1.1M134.2 263.0h1.1M117.7 264.8h1.1M99.2 260.0h1.1M115.1 254.7h1.1M89.3 274.0h1.1M118.6 254.9h1.1M106.1 267.8h1.1M144.5 251.5h1.1M123.3 262.8h1.1M120.1 253.0h1.1M97.3 264.9h1.1M118.7 275.6h1.1M130.0 243.6h1.1M121.6 250.0h1.1M122.1 273.0h1.1M112.9 254.8h1.1M140.8 248.2h1.1M136.7 254.3h1.1M146.2 262.8h1.1M115.1 255.9h1.1M121.0 267.1h1.1M118.1 281.0h1.1M122.1 279.1h1.1M131.7 250.0h1.1M143.6 247.9h1.1M145.7 260.3h1.1M120.7 250.8h1.1M137.0 270.5h1.1M115.6 281.4h1.1M110.3 260.2h1.1M142.6 270.0h1.1M111.8 270.0h1.1M102.1 256.9h1.1M102.7 258.0h1.1M98.9 257.4h1.1M113.8 270.0h1.1M102.0 268.0h1.1M91.3 263.6h1.1M108.3 253.7h1.1M89.3 284.8h1.1M92.9 256.1h1.1M80.4 271.7h1.1M114.3 250.4h1.1M112.3 262.9h1.1M44.3 265.6h1.1M84.7 272.3h1.1M97.3 283.3h1.1M98.0 268.2h1.1M88.6 273.1h1.1M87.3 269.9h1.1M88.0 280.5h1.1M96.6 271.9h1.1M114.1 271.5h1.1M110.5 251.6h1.1M93.2 265.7h1.1M107.4 261.6h1.1M109.0 262.4h1.1M87.5 272.3h1.1M96.7 264.7h1.1M79.8 264.1h1.1M105.5 264.6h1.1M108.4 265.3h1.1M113.2 290.7h1.1M72.2 260.3h1.1M114.8 271.3h1.1M112.4 264.8h1.1M97.3 249.2h1.1M89.2 276.4h1.1M86.6 261.4h1.1M86.8 262.1h1.1M65.9 267.9h1.1M92.4 270.3h1.1M86.5 275.5h1.1M72.4 265.4h1.1M107.8 271.8h1.1M113.0 260.3h1.1M88.5 255.8h1.1M57.0 269.3h1.1M101.7 273.7h1.1M75.5 264.9h1.1M80.3 261.9h1.1M73.3 268.4h1.1M113.4 270.4h1.1M112.3 260.0h1.1M112.6 268.5h1.1M89.8 271.2h1.1M104.5 273.4h1.1M109.1 250.6h1.1M101.9 256.4h1.1M109.6 254.2h1.1M99.7 281.3h1.1M95.4 273.2h1.1M94.8 274.8h1.1M82.9 267.3h1.1M100.5 265.5h1.1M114.4 261.4h1.1M111.4 272.5h1.1M117.4 253.0h1.1M75.0 263.0h1.1M86.4 258.5h1.1M96.1 251.5h1.1M91.7 265.0h1.1M115.3 264.4h1.1M87.5 283.7h1.1M115.3 254.2h1.1M66.2 267.8h1.1M101.1 275.3h1.1M104.4 259.6h1.1M94.3 263.0h1.1M111.4 265.9h1.1M105.7 269.8h1.1M95.8 260.0h1.1M98.2 258.4h1.1M117.5 264.7h1.1M77.3 268.6h1.1M66.4 263.7h1.1M107.6 248.7h1.1M101.2 262.3h1.1M117.4 265.5h1.1M98.4 272.1h1.1M90.6 256.4h1.1M115.4 246.9h1.1M114.3 263.8h1.1M99.7 263.5h1.1M51.1 274.1h1.1M97.1 256.9h1.1M104.1 275.6h1.1M67.1 259.3h1.1M71.6 271.1h1.1M82.0 271.6h1.1M101.6 248.6h1.1M67.1 257.5h1.1M93.9 264.9h1.1M78.0 272.8h1.1M117.7 267.1h1.1M42.5 275.8h1.1M99.4 251.6h1.1M104.1 274.7h1.1M63.4 279.3h1.1M111.1 251.7h1.1M89.3 254.5h1.1M110.5 259.2h1.1M90.1 287.2h1.1M78.9 294.9h1.1M63.8 313.4h1.1M70.3 314.3h1.1M67.3 318.8h1.1M91.2 288.8h1.1M55.6 320.6h1.1M70.2 319.4h1.1M85.1 288.5h1.1M96.3 294.3h1.1M90.4 294.9h1.1M84.5 292.8h1.1M87.2 283.3h1.1M85.5 288.7h1.1M77.8 302.9h1.1M95.8 289.9h1.1M96.5 280.7h1.1M95.1 281.8h1.1M87.6 289.4h1.1M139.1 255.7h1.1M140.7 252.3h1.1M122.8 286.5h1.1M144.0 272.0h1.1M149.3 258.0h1.1M50.9 277.4h1.1"/>
<path d="M127.7 259.5h1.1M127.6 260.3h1.1M125.0 264.5h1.1M120.1 266.4h1.1M128.6 252.1h1.1M127.3 260.5h1.1M126.2 263.1h1.1M123.0 265.0h1.1M131.9 258.9h1.1M123.1 260.7h1.1M126.1 258.3h1.1M131.6 261.0h1.1M125.2 261.2h1.1M127.5 261.0h1.1M131.3 261.5h1.1M132.9 260.2h1.1M126.2 258.0h1.1M118.2 268.4h1.1M124.6 264.3h1.1M120.4 261.3h1.1M126.3 258.4h1.1M131.9 250.8h1.1M125.2 260.0h1.1M133.8 256.3h1.1M122.4 259.3h1.1M126.1 261.6h1.1M125.3 261.0h1.1M122.4 264.6h1.1M126.3 261.7h1.1M130.9 256.2h1.1M130.2 259.0h1.1M128.1 258.5h1.1M126.0 254.6h1.1M119.3 261.1h1.1M124.3 259.1h1.1M124.2 258.6h1.1M127.4 257.9h1.1M130.4 260.1h1.1M122.3 263.2h1.1M123.5 263.9h1.1M122.6 262.1h1.1M123.7 257.1h1.1M120.9 262.3h1.1M125.0 261.8h1.1M127.8 258.6h1.1M133.0 256.5h1.1M118.5 264.2h1.1M128.8 259.9h1.1M131.4 255.4h1.1M117.7 259.3h1.1M126.1 258.0h1.1M132.1 264.2h1.1M125.2 259.8h1.1M122.4 266.9h1.1M125.3 259.6h1.1M125.2 262.9h1.1M121.5 264.5h1.1M130.3 262.1h1.1M122.9 258.8h1.1M124.4 259.0h1.1M127.7 258.9h1.1M127.7 256.4h1.1M123.1 260.3h1.1M123.9 260.4h1.1M124.3 262.7h1.1M116.9 260.7h1.1M127.1 260.9h1.1M119.9 267.4h1.1M125.3 259.7h1.1M132.1 256.7h1.1M124.3 261.1h1.1M122.1 256.9h1.1M127.8 257.4h1.1M118.8 258.8h1.1M121.5 260.7h1.1M114.1 260.9h1.1M124.8 260.3h1.1M126.5 261.5h1.1M131.5 254.5h1.1M129.4 261.9h1.1M123.9 258.0h1.1M120.5 262.5h1.1M124.2 258.4h1.1M119.8 266.0h1.1M127.0 259.6h1.1M133.2 251.5h1.1M124.8 258.7h1.1M130.5 257.8h1.1M122.7 253.7h1.1M122.4 258.9h1.1M126.2 259.5h1.1M124.3 263.4h1.1M128.1 261.1h1.1M137.1 257.6h1.1M120.6 266.8h1.1M123.2 262.9h1.1M124.9 256.0h1.1M113.6 268.6h1.1M126.7 256.3h1.1M130.4 257.4h1.1M132.8 259.5h1.1M123.1 261.4h1.1M125.5 263.7h1.1M124.9 260.4h1.1M132.9 261.2h1.1M121.9 261.9h1.1M120.3 264.6h1.1M122.9 269.7h1.1M128.3 261.8h1.1M124.8 263.2h1.1M130.1 255.3h1.1M125.1 259.2h1.1M125.0 263.7h1.1M114.8 263.3h1.1M134.9 257.6h1.1M119.1 261.0h1.1M132.6 261.1h1.1M121.2 266.7h1.1M121.7 261.2h1.1M126.7 253.7h1.1M117.1 264.0h1.1M133.9 257.8h1.1M123.2 264.9h1.1M124.6 260.8h1.1M126.0 260.9h1.1M136.4 258.6h1.1M126.8 262.4h1.1M122.8 259.8h1.1M124.1 259.3h1.1M122.0 263.4h1.1M128.5 260.4h1.1M122.1 262.9h1.1M126.4 259.7h1.1M131.1 261.5h1.1M126.6 260.7h1.1M127.3 257.5h1.1M126.7 253.9h1.1M128.6 257.9h1.1M124.4 259.7h1.1M130.6 260.3h1.1M127.1 262.1h1.1M121.7 260.6h1.1M126.2 259.3h1.1M125.3 264.7h1.1M125.8 262.4h1.1M125.3 262.6h1.1M125.7 265.3h1.1M129.0 260.4h1.1M127.3 258.4h1.1M121.3 264.1h1.1M130.7 260.2h1.1M120.1 262.5h1.1M121.6 259.5h1.1M116.9 264.9h1.1M128.7 260.5h1.1M125.2 265.0h1.1M120.8 262.0h1.1M124.9 258.1h1.1M113.9 264.0h1.1M114.6 267.6h1.1M129.1 257.6h1.1M126.1 260.8h1.1M123.0 265.9h1.1M124.1 263.0h1.1M124.5 261.9h1.1M132.3 259.5h1.1M121.0 265.6h1.1M128.0 260.5h1.1M125.5 260.5h1.1M125.0 259.4h1.1M121.0 260.8h1.1M131.5 255.6h1.1M120.6 263.2h1.1M120.6 261.6h1.1M124.7 264.0h1.1M123.3 262.6h1.1M126.6 257.4h1.1M123.0 264.9h1.1M128.7 260.5h1.1M128.1 253.6h1.1M125.7 263.5h1.1M125.7 259.2h1.1M122.1 259.5h1.1M134.3 258.7h1.1M124.4 261.7h1.1M130.8 255.9h1.1M129.2 255.2h1.1M121.3 255.6h1.1M127.2 255.8h1.1M120.2 258.6h1.1M123.1 262.2h1.1M120.2 264.7h1.1M126.5 263.3h1.1M124.1 263.2h1.1M129.9 258.6h1.1M121.6 261.8h1.1M111.8 264.8h1.1M123.7 259.4h1.1M124.9 262.2h1.1M130.5 258.3h1.1M118.6 261.6h1.1M121.6 261.3h1.1M126.2 260.2h1.1M122.6 261.6h1.1M121.9 260.6h1.1M118.7 268.5h1.1M128.6 262.3h1.1M120.6 261.6h1.1M137.4 258.0h1.1M126.7 259.5h1.1M130.5 259.6h1.1M131.8 264.2h1.1M121.2 259.0h1.1M123.9 262.3h1.1M126.6 259.1h1.1M128.2 263.0h1.1M127.8 265.7h1.1M131.9 261.3h1.1M129.8 259.3h1.1M122.5 259.6h1.1M125.0 262.7h1.1M123.6 259.1h1.1M125.2 261.6h1.1M116.7 267.2h1.1M128.6 259.8h1.1M121.3 265.1h1.1M127.8 255.8h1.1M120.8 264.2h1.1M126.9 264.9h1.1M126.3 258.9h1.1M127.8 257.8h1.1M134.6 256.0h1.1M124.9 261.2h1.1M136.8 248.2h1.1M128.1 259.6h1.1M124.5 264.0h1.1M131.3 257.4h1.1M128.1 256.2h1.1M128.4 261.4h1.1M128.9 263.3h1.1M124.7 259.8h1.1M129.4 256.7h1.1M133.6 255.0h1.1M124.7 262.4h1.1M127.0 254.6h1.1M122.7 262.8h1.1M118.4 260.1h1.1M124.8 262.6h1.1M134.4 256.1h1.1M128.5 258.3h1.1M127.8 256.0h1.1M118.6 264.2h1.1M125.2 259.7h1.1M124.7 258.3h1.1M116.9 263.3h1.1M136.2 251.8h1.1M131.4 263.0h1.1M121.4 268.3h1.1M131.5 258.1h1.1M131.7 254.5h1.1M130.5 258.4h1.1M124.1 257.6h1.1M117.3 262.2h1.1M132.0 256.2h1.1M124.3 264.6h1.1M119.0 261.0h1.1M123.3 262.0h1.1M130.0 262.0h1.1M134.8 254.8h1.1M125.8 256.9h1.1M120.0 262.5h1.1M126.3 260.2h1.1M116.8 261.4h1.1M119.3 260.7h1.1M134.2 260.0h1.1M133.3 254.5h1.1M125.0 259.2h1.1M116.8 264.0h1.1M127.3 254.2h1.1M126.3 258.7h1.1M120.4 263.2h1.1M118.4 267.7h1.1M131.6 254.2h1.1M124.1 254.8h1.1M114.4 265.8h1.1M129.1 261.0h1.1M118.9 262.2h1.1M126.9 264.7h1.1M126.2 257.9h1.1M127.4 260.3h1.1M132.7 259.9h1.1M123.3 263.8h1.1M127.9 259.7h1.1M123.6 257.6h1.1M129.4 256.3h1.1M121.1 260.2h1.1M127.2 256.9h1.1M114.6 263.8h1.1M126.3 258.0h1.1M131.8 256.3h1.1M126.5 259.0h1.1M136.1 255.7h1.1M128.8 259.8h1.1M127.3 262.1h1.1M123.2 260.3h1.1M119.5 259.7h1.1M123.0 265.8h1.1M118.8 257.0h1.1M123.9 258.9h1.1M128.0 258.4h1.1M127.4 264.6h1.1M125.5 255.0h1.1M123.4 261.0h1.1M116.3 262.0h1.1M124.8 265.4h1.1M121.2 262.8h1.1M121.4 257.8h1.1M130.2 259.8h1.1M125.1 259.0h1.1M127.7 258.7h1.1M132.9 262.9h1.1M124.8 262.5h1.1M126.5 262.7h1.1M126.1 251.0h1.1M128.2 253.6h1.1M124.6 254.8h1.1M121.5 263.7h1.1M116.9 262.9h1.1M135.7 255.5h1.1M137.4 241.3h1.1M141.8 260.7h1.1M108.9 271.2h1.1M118.6 268.2h1.1M131.3 263.8h1.1M124.8 253.1h1.1M129.4 261.3h1.1M120.8 261.9h1.1M124.2 261.1h1.1M131.4 260.9h1.1M132.0 257.1h1.1M124.5 257.0h1.1M139.5 255.1h1.1M121.2 264.8h1.1M118.9 257.3h1.1M148.0 243.1h1.1M116.5 263.6h1.1M138.8 252.2h1.1M118.7 261.8h1.1M137.4 261.9h1.1M127.6 258.2h1.1M122.5 258.8h1.1M113.6 276.1h1.1M129.8 267.8h1.1M128.0 261.7h1.1M131.8 252.2h1.1M112.5 271.3h1.1M111.6 266.5h1.1M130.4 258.0h1.1M121.2 269.1h1.1M112.9 257.2h1.1M110.7 264.7h1.1M123.3 260.0h1.1M121.3 260.6h1.1M115.0 264.2h1.1M121.4 266.4h1.1M136.3 257.7h1.1M129.2 259.0h1.1M118.9 259.7h1.1M121.0 260.1h1.1M118.3 259.6h1.1M137.7 255.1h1.1M124.6 261.3h1.1M119.8 273.1h1.1M118.5 265.6h1.1M122.7 253.9h1.1M129.7 263.7h1.1M125.6 262.4h1.1M118.1 265.8h1.1M127.4 271.5h1.1M119.2 262.2h1.1M118.9 261.9h1.1M130.1 260.2h1.1M124.7 251.5h1.1M125.1 258.4h1.1M118.8 264.7h1.1M115.7 262.3h1.1M131.3 255.4h1.1M130.6 257.9h1.1M120.6 261.5h1.1M119.5 262.7h1.1M140.9 244.6h1.1M127.1 256.7h1.1M134.9 248.2h1.1M126.8 257.4h1.1M127.7 262.9h1.1M118.7 260.2h1.1M117.2 261.2h1.1M124.1 256.9h1.1M132.8 266.6h1.1M126.4 261.4h1.1M136.5 256.6h1.1M119.5 264.7h1.1M130.2 257.4h1.1M126.8 254.3h1.1M118.3 273.5h1.1M115.9 260.1h1.1M136.9 259.0h1.1M131.9 255.3h1.1M127.5 256.6h1.1M111.2 274.0h1.1M129.5 258.2h1.1M123.8 259.2h1.1M120.2 265.7h1.1M121.5 267.2h1.1M125.7 253.9h1.1M115.2 260.5h1.1M137.8 265.0h1.1M124.3 255.2h1.1M135.1 261.5h1.1M125.0 261.0h1.1M140.5 250.1h1.1M133.0 263.7h1.1M114.8 255.3h1.1M113.8 257.5h1.1M133.7 258.0h1.1M117.3 260.7h1.1M127.5 253.0h1.1M125.1 253.8h1.1M128.5 265.8h1.1M116.6 268.0h1.1M125.0 259.6h1.1M130.0 256.4h1.1M136.7 262.2h1.1M120.8 263.4h1.1M112.1 261.6h1.1M138.7 260.1h1.1M125.5 257.6h1.1M119.6 267.6h1.1M123.0 258.4h1.1M126.1 262.7h1.1M118.4 252.7h1.1M132.9 252.0h1.1M133.8 264.4h1.1M134.7 257.4h1.1M124.3 267.2h1.1M115.3 265.6h1.1M134.3 256.6h1.1M125.5 253.6h1.1M133.5 255.8h1.1M132.2 255.7h1.1M123.1 262.2h1.1M114.4 266.1h1.1M128.0 260.9h1.1M132.0 256.7h1.1M123.5 263.9h1.1M118.8 265.7h1.1M114.0 268.1h1.1M125.0 258.5h1.1M127.9 256.6h1.1M123.9 269.2h1.1M140.6 255.9h1.1M111.1 264.3h1.1M121.0 262.0h1.1M116.5 266.7h1.1M115.9 266.3h1.1M119.3 255.4h1.1M127.1 262.0h1.1M121.0 262.2h1.1M120.3 267.6h1.1M127.3 263.5h1.1M121.4 264.0h1.1M130.9 269.6h1.1M130.9 255.6h1.1M130.7 253.3h1.1M123.5 266.6h1.1M122.0 265.8h1.1M120.5 258.1h1.1M115.1 256.5h1.1M124.5 262.6h1.1M115.0 260.9h1.1M114.8 261.6h1.1M140.1 253.8h1.1M122.2 264.4h1.1M121.8 274.2h1.1M121.4 262.6h1.1M101.2 274.7h1.1M123.7 281.1h1.1M148.3 264.6h1.1M100.1 268.0h1.1M100.2 272.3h1.1M124.4 258.2h1.1M117.3 266.0h1.1M131.5 265.6h1.1M111.1 256.8h1.1M133.1 244.9h1.1M143.1 266.8h1.1M126.4 259.9h1.1M143.3 249.4h1.1M125.2 260.3h1.1M86.4 273.0h1.1M131.8 255.1h1.1M122.4 263.8h1.1M126.9 271.0h1.1M97.3 277.9h1.1M129.9 269.6h1.1M132.6 255.7h1.1M126.3 261.6h1.1M124.9 277.8h1.1M108.5 266.6h1.1M125.1 282.3h1.1M124.7 247.3h1.1M133.9 257.9h1.1M125.8 261.5h1.1M118.2 280.9h1.1M131.4 273.7h1.1M117.3 264.7h1.1M126.8 264.6h1.1M118.6 272.7h1.1M125.5 259.0h1.1M134.4 244.0h1.1M115.6 259.6h1.1M113.9 264.9h1.1M104.8 264.4h1.1M119.9 252.8h1.1M108.9 268.5h1.1M120.8 267.6h1.1M122.0 271.4h1.1M90.2 264.0h1.1M122.2 282.9h1.1M121.1 249.5h1.1M139.5 272.7h1.1M136.2 254.6h1.1M118.3 280.4h1.1M129.8 254.0h1.1M128.4 257.9h1.1M136.9 264.6h1.1M140.6 267.7h1.1M130.6 258.9h1.1M129.5 264.7h1.1M115.0 272.8h1.1M124.6 253.1h1.1M129.3 257.9h1.1M116.0 263.2h1.1M133.4 255.0h1.1M110.5 258.6h1.1M103.9 256.7h1.1M124.8 259.2h1.1M92.1 268.3h1.1M122.5 272.3h1.1M97.5 273.5h1.1M106.9 264.1h1.1M108.7 257.9h1.1M106.5 269.5h1.1M130.8 258.6h1.1M123.6 259.9h1.1M118.0 261.7h1.1M143.0 252.3h1.1M121.3 256.1h1.1M93.6 279.0h1.1M73.5 270.5h1.1M89.6 264.0h1.1M111.1 256.6h1.1M98.4 262.1h1.1M92.4 270.7h1.1M103.3 254.8h1.1M93.5 264.0h1.1M85.6 271.2h1.1M90.5 272.7h1.1M101.1 257.8h1.1M71.1 267.1h1.1M108.4 280.4h1.1M112.9 287.5h1.1M82.4 267.6h1.1M78.2 266.7h1.1M71.2 257.9h1.1M92.0 271.9h1.1M82.2 279.7h1.1M109.7 261.5h1.1M110.6 276.2h1.1M103.3 272.5h1.1M86.8 271.3h1.1M96.6 260.6h1.1M100.8 271.8h1.1M97.0 262.1h1.1M80.9 265.9h1.1M105.4 258.9h1.1M95.7 265.6h1.1M105.4 266.1h1.1M111.5 260.3h1.1M90.0 253.2h1.1M101.7 267.1h1.1M105.7 274.8h1.1M110.0 249.9h1.1M70.7 276.6h1.1M117.2 276.6h1.1M102.2 258.9h1.1M107.1 258.8h1.1M116.7 251.2h1.1M69.2 267.2h1.1M83.7 275.9h1.1M67.7 270.4h1.1M97.6 269.5h1.1M108.1 264.1h1.1M78.7 269.5h1.1M108.3 252.8h1.1M89.0 277.7h1.1M93.8 261.0h1.1M113.0 273.6h1.1M101.1 258.4h1.1M112.8 269.0h1.1M105.7 264.4h1.1M111.7 275.4h1.1M106.0 276.7h1.1M115.3 259.5h1.1M85.8 266.0h1.1M117.5 262.2h1.1M115.0 258.7h1.1M86.7 271.2h1.1M116.4 278.3h1.1M64.0 269.2h1.1M77.3 271.1h1.1M65.6 286.3h1.1M46.9 266.1h1.1M112.1 283.1h1.1M95.7 266.6h1.1M101.8 278.0h1.1M92.8 255.0h1.1M76.5 264.0h1.1M117.3 244.6h1.1M67.9 287.4h1.1M76.0 271.2h1.1M108.9 262.5h1.1M96.5 242.9h1.1M89.2 249.6h1.1M111.6 266.1h1.1M112.6 278.1h1.1M116.0 263.6h1.1M106.7 277.7h1.1M97.0 271.0h1.1M77.6 260.4h1.1M90.2 280.2h1.1M67.2 273.7h1.1M90.6 266.0h1.1M105.6 254.4h1.1M96.1 271.7h1.1M103.9 267.7h1.1M113.8 254.5h1.1M87.1 260.3h1.1M65.2 274.8h1.1M74.7 270.9h1.1M112.2 266.6h1.1M94.5 259.6h1.1M110.5 274.5h1.1M111.1 259.2h1.1M69.2 275.7h1.1M109.1 278.0h1.1M109.8 255.1h1.1M60.7 267.4h1.1M115.7 259.3h1.1M117.3 277.2h1.1M90.9 269.0h1.1M108.8 266.9h1.1M116.5 252.2h1.1M113.0 270.2h1.1M116.7 267.8h1.1M114.1 262.8h1.1M68.3 259.4h1.1M110.9 260.9h1.1M55.4 264.8h1.1M80.5 270.2h1.1M67.9 251.7h1.1M77.9 313.8h1.1M100.8 290.4h1.1M91.1 284.6h1.1M80.3 299.7h1.1M71.6 316.1h1.1M77.5 295.1h1.1M73.5 308.8h1.1M85.9 293.9h1.1M90.1 290.3h1.1M80.0 294.7h1.1M79.9 300.6h1.1M73.6 313.7h1.1M86.7 293.2h1.1M78.2 300.3h1.1M64.8 303.4h1.1M72.5 303.7h1.1M86.8 294.6h1.1M77.9 296.8h1.1M85.5 286.5h1.1M123.3 272.2h1.1M61.1 290.2h1.1M145.4 309.5h1.1M62.8 320.9h1.1M77.8 310.5h1.1"/>
<path d="M119.3 267.1h1.1M125.0 266.0h1.1M122.3 263.2h1.1M130.0 260.4h1.1M119.3 265.1h1.1M133.7 257.0h1.1M121.9 267.7h1.1M131.6 255.0h1.1M127.4 259.6h1.1M126.8 262.4h1.1M137.1 253.9h1.1M117.4 264.5h1.1M129.4 258.3h1.1M116.5 261.5h1.1M123.8 266.3h1.1M131.9 255.6h1.1M126.7 262.1h1.1M120.0 263.9h1.1M117.3 263.8h1.1M118.5 264.5h1.1M130.2 259.6h1.1M131.2 264.2h1.1M120.5 262.5h1.1M126.0 261.6h1.1M136.7 256.3h1.1M122.1 262.2h1.1M125.8 260.7h1.1M117.0 257.8h1.1M134.5 257.6h1.1M129.7 265.7h1.1M126.6 259.8h1.1M122.5 257.9h1.1M115.8 263.3h1.1M125.2 260.6h1.1M121.0 254.9h1.1M124.9 260.6h1.1M135.7 252.8h1.1M127.7 258.5h1.1M129.2 260.1h1.1M131.6 256.4h1.1M120.2 269.3h1.1M125.7 261.2h1.1M127.7 260.6h1.1M126.9 261.8h1.1M119.2 264.4h1.1M128.7 256.2h1.1M131.5 254.7h1.1M119.3 260.7h1.1M128.4 256.2h1.1M126.1 260.8h1.1M129.3 263.0h1.1M126.9 260.3h1.1M122.2 259.9h1.1M126.4 256.8h1.1M127.3 259.4h1.1M133.3 255.5h1.1M127.8 258.0h1.1M126.1 261.1h1.1M127.5 262.3h1.1M126.7 261.9h1.1M117.7 266.3h1.1M127.6 264.4h1.1M129.7 257.8h1.1M131.1 260.8h1.1M124.2 259.1h1.1M132.0 258.4h1.1M135.8 250.7h1.1M126.2 258.2h1.1M126.2 258.6h1.1M122.4 262.6h1.1M123.9 260.4h1.1M133.8 263.2h1.1M125.9 258.5h1.1M131.6 261.1h1.1M125.6 258.0h1.1M118.8 262.4h1.1M129.9 257.6h1.1M132.1 258.6h1.1M128.8 265.0h1.1M119.0 264.4h1.1M123.8 258.1h1.1M125.2 256.9h1.1M127.7 257.1h1.1M121.6 261.8h1.1M121.5 258.9h1.1M128.6 259.7h1.1M124.9 263.7h1.1M119.4 266.4h1.1M130.9 257.0h1.1M131.9 259.1h1.1M127.6 261.3h1.1M132.7 260.6h1.1M120.5 257.9h1.1M130.0 259.3h1.1M122.2 259.1h1.1M121.1 256.9h1.1M122.5 260.6h1.1M131.5 257.4h1.1M118.1 269.2h1.1M120.5 265.9h1.1M126.1 255.9h1.1M126.6 257.2h1.1M120.7 265.4h1.1M137.0 253.5h1.1M117.9 261.9h1.1M126.6 261.3h1.1M118.9 259.6h1.1M120.3 263.5h1.1M121.4 264.9h1.1M125.6 264.2h1.1M119.1 259.9h1.1M126.5 260.5h1.1M116.4 260.7h1.1M130.5 256.7h1.1M126.4 260.2h1.1M116.2 268.2h1.1M124.1 261.4h1.1M132.2 254.2h1.1M118.3 267.8h1.1M134.6 256.0h1.1M130.2 262.3h1.1M125.0 258.4h1.1M122.1 264.7h1.1M140.0 252.9h1.1M127.3 261.0h1.1M127.2 263.3h1.1M131.9 252.4h1.1M117.9 262.5h1.1M136.4 254.9h1.1M126.4 256.6h1.1M126.7 257.2h1.1M126.4 261.9h1.1M125.8 257.5h1.1M124.0 259.4h1.1M123.7 258.4h1.1M131.4 261.9h1.1M124.5 265.4h1.1M127.1 260.7h1.1M128.9 254.6h1.1M124.7 259.0h1.1M115.4 270.3h1.1M123.8 261.2h1.1M122.5 260.4h1.1M131.3 259.4h1.1M131.4 258.6h1.1M128.2 262.2h1.1M127.0 260.4h1.1M123.2 265.6h1.1M125.8 260.0h1.1M123.8 258.9h1.1M123.6 260.9h1.1M131.3 254.0h1.1M130.0 259.2h1.1M128.6 260.7h1.1M120.1 263.6h1.1M129.5 257.8h1.1M128.1 259.9h1.1M123.4 258.9h1.1M120.5 265.2h1.1M127.2 262.3h1.1M123.3 261.2h1.1M122.4 260.0h1.1M119.9 269.4h1.1M122.5 260.9h1.1M132.0 261.6h1.1M126.1 263.1h1.1M123.5 259.4h1.1M125.5 263.3h1.1M127.4 254.5h1.1M122.7 259.3h1.1M132.9 257.1h1.1M122.0 262.0h1.1M129.0 257.0h1.1M123.8 255.6h1.1M124.5 262.5h1.1M125.0 260.6h1.1M130.0 261.5h1.1M121.7 267.1h1.1M123.7 260.9h1.1M125.2 257.4h1.1M121.2 262.0h1.1M121.1 259.4h1.1M132.4 258.2h1.1M126.2 261.3h1.1M118.3 267.4h1.1M125.2 258.9h1.1M128.3 255.7h1.1M124.9 259.8h1.1M126.5 260.1h1.1M126.2 259.7h1.1M127.0 256.8h1.1M123.2 263.7h1.1M127.0 263.4h1.1M125.4 254.4h1.1M123.4 270.0h1.1M126.9 260.5h1.1M122.6 266.4h1.1M123.7 262.7h1.1M129.4 261.4h1.1M132.3 257.2h1.1M125.2 261.8h1.1M124.3 258.7h1.1M119.4 265.0h1.1M129.1 256.9h1.1M125.7 257.0h1.1M130.9 255.4h1.1M132.9 260.7h1.1M116.0 263.5h1.1M135.7 254.1h1.1M128.9 263.6h1.1M129.9 260.0h1.1M129.5 254.4h1.1M119.6 263.1h1.1M126.1 260.0h1.1M123.0 259.4h1.1M124.0 258.3h1.1M118.8 265.5h1.1M119.8 265.1h1.1M125.8 256.6h1.1M122.2 262.2h1.1M126.1 258.8h1.1M121.2 265.6h1.1M124.4 258.1h1.1M121.3 264.4h1.1M134.2 257.4h1.1M133.9 254.8h1.1M120.8 263.2h1.1M121.2 261.7h1.1M125.9 264.8h1.1M122.7 261.0h1.1M127.6 259.8h1.1M125.7 262.4h1.1M122.3 265.5h1.1M130.1 256.0h1.1M127.3 265.7h1.1M128.1 263.8h1.1M132.1 258.6h1.1M127.3 260.3h1.1M127.0 260.9h1.1M128.5 260.4h1.1M127.7 263.1h1.1M124.3 261.9h1.1M120.5 264.0h1.1M131.8 255.3h1.1M127.4 257.3h1.1M115.9 266.9h1.1M124.0 264.9h1.1M122.5 267.1h1.1M128.1 260.9h1.1M126.2 258.3h1.1M120.4 268.6h1.1M129.1 256.0h1.1M125.2 262.1h1.1M120.6 262.6h1.1M125.5 257.6h1.1M128.2 261.1h1.1M118.2 266.9h1.1M121.7 262.4h1.1M123.6 256.9h1.1M124.3 263.7h1.1M116.7 266.0h1.1M131.6 252.5h1.1M126.1 262.1h1.1M128.8 260.1h1.1M129.7 263.0h1.1M120.9 261.7h1.1M119.6 265.5h1.1M127.8 261.2h1.1M122.5 258.0h1.1M127.7 259.8h1.1M127.5 261.3h1.1M128.8 262.2h1.1M119.4 264.8h1.1M124.2 261.6h1.1M124.0 260.7h1.1M127.1 259.6h1.1M132.3 255.2h1.1M119.3 264.3h1.1M123.6 262.0h1.1M123.9 263.4h1.1M121.5 265.3h1.1M133.3 262.0h1.1M129.3 249.4h1.1M125.5 256.7h1.1M118.9 268.4h1.1M120.9 259.0h1.1M118.6 262.1h1.1M127.1 260.6h1.1M128.6 253.9h1.1M129.9 257.2h1.1M126.9 262.4h1.1M121.1 260.5h1.1M122.9 262.3h1.1M130.9 251.1h1.1M124.8 259.6h1.1M130.9 257.4h1.1M127.4 258.0h1.1M121.3 265.8h1.1M130.6 257.0h1.1M126.9 262.9h1.1M126.7 261.4h1.1M126.4 260.1h1.1M120.7 260.0h1.1M118.5 264.2h1.1M132.6 254.3h1.1M128.6 260.0h1.1M123.3 262.5h1.1M130.4 262.1h1.1M126.1 260.1h1.1M124.3 264.4h1.1M123.8 258.7h1.1M131.6 258.7h1.1M122.6 260.5h1.1M127.9 261.4h1.1M132.1 257.5h1.1M122.7 258.4h1.1M123.3 264.2h1.1M122.0 260.9h1.1M127.3 259.9h1.1M127.5 264.2h1.1M133.7 258.6h1.1M119.6 267.0h1.1M123.6 263.7h1.1M122.2 257.4h1.1M126.9 258.3h1.1M127.8 261.6h1.1M125.9 252.8h1.1M120.2 263.4h1.1M115.8 270.4h1.1M119.3 266.7h1.1M134.8 254.5h1.1M136.7 245.3h1.1M122.1 263.3h1.1M118.7 256.0h1.1M132.5 260.7h1.1M130.2 259.3h1.1M127.4 261.2h1.1M129.0 251.1h1.1M129.5 250.1h1.1M116.7 267.1h1.1M121.8 266.9h1.1M129.8 260.9h1.1M120.0 253.3h1.1M129.5 260.1h1.1M122.3 259.3h1.1M130.3 252.4h1.1M124.2 255.0h1.1M122.2 265.7h1.1M119.2 264.9h1.1M124.5 258.6h1.1M120.0 260.5h1.1M121.6 263.6h1.1M134.1 256.2h1.1M125.4 258.0h1.1M137.1 251.3h1.1M140.4 247.9h1.1M120.5 262.0h1.1M130.9 260.2h1.1M125.2 274.5h1.1M136.3 253.1h1.1M130.3 257.7h1.1M129.2 244.6h1.1M120.5 256.9h1.1M118.7 268.6h1.1M123.8 257.7h1.1M120.3 266.1h1.1M128.4 252.2h1.1M122.4 260.5h1.1M118.0 270.3h1.1M125.4 256.3h1.1M125.1 258.3h1.1M137.5 257.6h1.1M131.7 256.4h1.1M120.9 268.2h1.1M123.9 255.1h1.1M122.7 266.0h1.1M124.4 262.4h1.1M126.9 265.9h1.1M127.4 255.4h1.1M132.9 256.5h1.1M134.4 265.1h1.1M124.6 266.4h1.1M127.8 268.4h1.1M128.5 267.7h1.1M119.5 258.1h1.1M125.5 262.8h1.1M122.3 264.5h1.1M135.3 252.2h1.1M118.4 264.8h1.1M113.5 272.0h1.1M122.3 258.3h1.1M129.3 255.1h1.1M133.0 255.3h1.1M119.8 258.4h1.1M131.4 255.2h1.1M120.6 263.3h1.1M120.3 269.0h1.1M130.4 250.0h1.1M122.8 264.3h1.1M122.9 255.1h1.1M122.2 259.7h1.1M125.1 266.6h1.1M138.4 254.3h1.1M130.8 262.2h1.1M126.3 259.9h1.1M133.5 256.1h1.1M143.7 254.1h1.1M120.8 265.1h1.1M114.7 270.9h1.1M125.0 267.8h1.1M126.7 262.0h1.1M131.5 254.7h1.1M118.6 262.7h1.1M128.6 255.8h1.1M140.7 255.9h1.1M130.3 258.4h1.1M136.9 251.0h1.1M124.6 266.0h1.1M132.3 266.6h1.1M129.9 256.7h1.1M138.9 259.3h1.1M111.4 265.5h1.1M115.4 260.7h1.1M128.9 260.5h1.1M134.0 255.7h1.1M123.6 268.5h1.1M123.9 261.2h1.1M135.0 259.3h1.1M122.0 266.0h1.1M115.7 252.6h1.1M113.4 260.5h1.1M117.4 265.2h1.1M119.4 268.7h1.1M126.9 250.4h1.1M131.6 256.1h1.1M128.2 256.2h1.1M132.0 259.5h1.1M132.3 257.1h1.1M124.1 265.4h1.1M112.1 269.1h1.1M119.8 260.3h1.1M128.7 254.4h1.1M123.6 259.4h1.1M116.6 263.3h1.1M107.6 277.2h1.1M128.0 259.4h1.1M138.0 254.3h1.1M118.8 260.4h1.1M130.8 250.0h1.1M126.1 260.1h1.1M124.1 257.7h1.1M122.8 258.7h1.1M128.0 265.5h1.1M124.4 264.5h1.1M129.3 261.9h1.1M139.5 260.0h1.1M132.1 263.4h1.1M110.9 262.4h1.1M106.2 269.4h1.1M116.7 271.1h1.1M119.2 259.4h1.1M125.4 261.9h1.1M112.6 275.8h1.1M133.0 260.9h1.1M130.2 257.2h1.1M125.1 269.2h1.1M119.0 255.8h1.1M119.2 267.2h1.1M117.7 262.7h1.1M116.6 257.1h1.1M138.0 255.7h1.1M123.4 259.2h1.1M121.5 261.5h1.1M128.1 266.1h1.1M123.0 256.6h1.1M139.4 260.1h1.1M131.2 258.6h1.1M122.0 260.6h1.1M130.6 256.7h1.1M125.9 264.6h1.1M120.3 263.7h1.1M131.9 256.9h1.1M119.7 260.3h1.1M132.0 247.0h1.1M117.1 256.6h1.1M118.0 271.3h1.1M122.5 255.6h1.1M127.9 264.0h1.1M132.9 268.4h1.1M109.5 281.7h1.1M115.4 277.7h1.1M138.2 248.0h1.1M132.7 266.0h1.1M111.7 262.5h1.1M131.0 246.7h1.1M112.9 283.2h1.1M97.9 295.5h1.1M126.0 278.5h1.1M115.4 257.7h1.1M115.1 252.3h1.1M129.3 269.1h1.1M118.2 252.3h1.1M132.2 258.8h1.1M140.5 265.7h1.1M94.9 267.0h1.1M102.7 255.3h1.1M135.0 260.7h1.1M130.9 260.1h1.1M90.3 285.0h1.1M119.1 263.8h1.1M121.8 258.8h1.1M119.4 248.0h1.1M116.3 267.1h1.1M116.6 253.4h1.1M125.8 250.6h1.1M120.1 274.5h1.1M128.9 273.7h1.1M116.7 271.2h1.1M105.9 268.9h1.1M142.5 262.9h1.1M118.4 267.3h1.1M123.6 267.7h1.1M142.4 263.3h1.1M114.0 253.4h1.1M111.9 252.8h1.1M117.1 265.3h1.1M117.4 278.3h1.1M108.3 258.7h1.1M116.6 270.4h1.1M121.9 258.9h1.1M97.2 264.0h1.1M147.0 259.9h1.1M144.8 247.3h1.1M134.2 264.9h1.1M126.5 257.0h1.1M112.2 269.4h1.1M119.4 253.9h1.1M125.2 280.1h1.1M117.8 261.7h1.1M85.7 263.8h1.1M112.9 261.0h1.1M138.9 262.6h1.1M125.7 268.6h1.1M133.1 259.3h1.1M135.4 260.5h1.1M134.9 263.8h1.1M113.9 263.5h1.1M116.6 265.3h1.1M117.6 258.4h1.1M121.4 260.6h1.1M114.8 255.6h1.1M118.8 257.2h1.1M124.2 260.0h1.1M115.8 265.0h1.1M137.1 253.8h1.1M147.7 262.8h1.1M122.3 241.8h1.1M125.8 261.7h1.1M122.5 273.8h1.1M102.9 271.4h1.1M116.4 261.5h1.1M78.7 269.8h1.1M117.5 271.3h1.1M88.8 263.7h1.1M63.9 257.1h1.1M71.4 277.6h1.1M59.5 266.8h1.1M88.3 263.4h1.1M85.6 260.3h1.1M112.8 264.5h1.1M95.4 278.2h1.1M86.7 279.8h1.1M67.6 275.4h1.1M86.0 268.6h1.1M96.4 279.7h1.1M111.9 276.5h1.1M108.7 264.7h1.1M91.7 264.0h1.1M89.5 258.5h1.1M63.8 252.9h1.1M88.2 277.9h1.1M113.4 251.1h1.1M117.9 262.5h1.1M111.7 272.1h1.1M105.4 258.1h1.1M102.4 251.6h1.1M113.7 284.9h1.1M116.1 284.4h1.1M92.9 266.4h1.1M75.2 261.9h1.1M105.1 262.0h1.1M99.4 278.1h1.1M84.3 270.3h1.1M103.5 263.0h1.1M110.3 259.5h1.1M112.4 260.9h1.1M96.2 266.8h1.1M111.3 277.1h1.1M89.7 259.4h1.1M101.2 263.0h1.1M61.9 259.6h1.1M106.8 257.0h1.1M111.0 275.4h1.1M100.0 268.6h1.1M109.3 256.2h1.1M83.2 269.0h1.1M71.9 266.4h1.1M116.8 242.1h1.1M86.5 273.6h1.1M103.7 250.4h1.1M76.5 272.7h1.1M98.0 244.9h1.1M110.1 264.5h1.1M88.8 264.5h1.1M64.5 267.7h1.1M108.0 262.0h1.1M84.3 271.7h1.1M109.1 267.8h1.1M95.3 281.7h1.1M78.6 262.1h1.1M115.0 272.0h1.1M84.8 280.1h1.1M86.9 272.0h1.1M80.0 282.4h1.1M100.8 270.5h1.1M86.0 261.0h1.1M77.2 264.7h1.1M116.9 250.0h1.1M85.7 270.2h1.1M112.6 255.8h1.1M108.0 249.9h1.1M96.7 256.8h1.1M116.9 253.8h1.1M91.3 274.0h1.1M86.7 273.7h1.1M103.3 254.6h1.1M102.2 256.2h1.1M63.8 279.5h1.1M95.3 273.1h1.1M117.1 260.4h1.1M88.1 264.9h1.1M65.2 266.1h1.1M112.8 264.0h1.1M81.6 268.3h1.1M78.2 271.4h1.1M77.9 254.8h1.1M84.3 260.7h1.1M81.4 255.1h1.1M107.7 252.7h1.1M116.9 265.3h1.1M95.7 256.4h1.1M64.1 262.7h1.1M98.9 259.0h1.1M108.9 266.9h1.1M107.7 274.8h1.1M115.7 259.3h1.1M97.3 267.5h1.1M108.6 248.7h1.1M78.5 274.0h1.1M77.2 264.5h1.1M94.5 277.0h1.1M99.1 273.4h1.1M104.0 261.9h1.1M93.1 262.9h1.1M107.8 262.8h1.1M97.4 251.4h1.1M95.9 260.9h1.1M95.5 277.2h1.1M117.9 250.8h1.1M45.3 268.4h1.1M106.5 254.5h1.1M88.3 281.5h1.1M83.1 299.4h1.1M70.4 310.5h1.1M71.4 303.6h1.1M94.0 289.1h1.1M66.3 304.2h1.1M83.4 295.0h1.1M83.9 293.0h1.1M85.9 292.5h1.1M85.9 285.6h1.1M94.6 282.4h1.1M85.6 293.1h1.1M70.3 304.4h1.1M62.2 295.6h1.1M79.1 296.4h1.1M100.1 279.9h1.1M95.1 284.1h1.1M86.3 280.6h1.1M81.5 297.8h1.1M121.2 299.4h1.1M73.3 277.4h1.1M116.5 310.3h1.1M127.5 316.2h1.1M72.6 301.6h1.1"/>
</g>
<path d="M90.9 220.6V340.6M40.2 289.1H160.4" stroke="#757575" stroke-width="1.25" fill="none"/>
<text class="b" stroke="none" x="41.9" y="230.0" font-size="8.1">4.42</text>
<text class="b" stroke="none" x="158.4" y="230.0" font-size="8.1" text-anchor="end">93.4</text>
<text class="b" stroke="none" x="43.2" y="339.2" font-size="8.1">1.62</text>
<text class="b" stroke="none" x="158.4" y="339.2" font-size="8.1" text-anchor="end">0.52</text>
<text x="102.9" y="217.2" font-size="11.8" text-anchor="middle">LckCre-<tspan class="i">Ctnnb</tspan><tspan font-size="7" dy="-4.2" dx="0.5">Δex3</tspan></text>
<rect x="182.1" y="220.6" width="120.1" height="120.0" fill="none" stroke="#555" stroke-width="0.95"/>
<path d="M181.9 220.6V340.6" stroke="#6a6a6a" stroke-width="1.3"/><path d="M182.1 340.6H302.2" stroke="#3a3a3a" stroke-width="1.2"/>
<path d="M182.1 340.6v2.8M191.1 340.6v1.7M196.4 340.6v1.7M200.2 340.6v1.7M203.1 340.6v1.7M205.5 340.6v1.7M207.5 340.6v1.7M209.2 340.6v1.7M210.8 340.6v1.7M182.1 340.6h-2.4M182.1 331.6h-1.4M182.1 326.3h-1.4M182.1 322.5h-1.4M182.1 319.6h-1.4M182.1 317.3h-1.4M182.1 315.2h-1.4M182.1 313.5h-1.4M182.1 312.0h-1.4M212.1 340.6v2.8M221.2 340.6v1.7M226.5 340.6v1.7M230.2 340.6v1.7M233.1 340.6v1.7M235.5 340.6v1.7M237.5 340.6v1.7M239.2 340.6v1.7M240.8 340.6v1.7M182.1 310.6h-2.4M182.1 301.6h-1.4M182.1 296.3h-1.4M182.1 292.5h-1.4M182.1 289.6h-1.4M182.1 287.3h-1.4M182.1 285.2h-1.4M182.1 283.5h-1.4M182.1 282.0h-1.4M242.1 340.6v2.8M251.2 340.6v1.7M256.5 340.6v1.7M260.2 340.6v1.7M263.1 340.6v1.7M265.5 340.6v1.7M267.5 340.6v1.7M269.3 340.6v1.7M270.8 340.6v1.7M182.1 280.6h-2.4M182.1 271.6h-1.4M182.1 266.3h-1.4M182.1 262.5h-1.4M182.1 259.6h-1.4M182.1 257.3h-1.4M182.1 255.2h-1.4M182.1 253.5h-1.4M182.1 252.0h-1.4M272.2 340.6v2.8M281.2 340.6v1.7M286.5 340.6v1.7M290.3 340.6v1.7M293.2 340.6v1.7M295.5 340.6v1.7M297.5 340.6v1.7M299.3 340.6v1.7M300.8 340.6v1.7M182.1 250.6h-2.4M182.1 241.6h-1.4M182.1 236.3h-1.4M182.1 232.5h-1.4M182.1 229.6h-1.4M182.1 227.3h-1.4M182.1 225.2h-1.4M182.1 223.5h-1.4M182.1 222.0h-1.4M302.2 340.6v3.2" stroke="#444" stroke-width="0.7" fill="none"/>
<g stroke="#000" stroke-width="1.1" stroke-opacity="0.42" fill="none">
<path d="M263.1 256.4h1.1M262.8 258.9h1.1M262.0 263.6h1.1M258.7 261.0h1.1M264.3 256.4h1.1M270.5 259.3h1.1M263.4 263.0h1.1M261.8 258.7h1.1M262.5 258.3h1.1M271.7 257.2h1.1M268.6 260.0h1.1M259.9 259.2h1.1M262.4 261.7h1.1M260.2 255.9h1.1M263.8 261.5h1.1M264.3 260.6h1.1M258.9 259.3h1.1M270.2 255.7h1.1M259.4 262.7h1.1M267.5 258.8h1.1M261.2 257.2h1.1M264.4 259.2h1.1M252.3 259.4h1.1M268.8 256.3h1.1M276.6 253.1h1.1M260.3 259.8h1.1M268.3 263.1h1.1M269.1 257.5h1.1M261.8 263.7h1.1M261.6 262.5h1.1M264.5 260.1h1.1M263.6 257.0h1.1M264.0 260.6h1.1M267.2 262.1h1.1M253.8 264.8h1.1M260.3 260.1h1.1M270.4 257.9h1.1M258.2 257.9h1.1M268.5 259.0h1.1M263.5 258.9h1.1M267.7 264.1h1.1M268.6 256.2h1.1M256.2 262.3h1.1M272.0 254.6h1.1M258.5 260.0h1.1M256.6 263.6h1.1M269.7 262.0h1.1M271.8 255.7h1.1M270.5 258.2h1.1M269.8 255.2h1.1M261.2 262.2h1.1M259.9 261.7h1.1M263.3 260.5h1.1M259.3 261.5h1.1M264.9 259.6h1.1M262.9 256.5h1.1M267.9 255.6h1.1M267.5 256.3h1.1M261.5 257.1h1.1M257.6 258.2h1.1M259.8 263.7h1.1M257.5 260.0h1.1M265.2 263.0h1.1M260.9 259.4h1.1M270.3 264.1h1.1M273.3 257.3h1.1M267.1 262.0h1.1M265.0 258.2h1.1M272.2 260.7h1.1M265.3 259.0h1.1M265.0 266.8h1.1M262.8 256.2h1.1M265.9 261.6h1.1M264.7 263.1h1.1M254.9 262.8h1.1M259.0 256.9h1.1M263.3 257.3h1.1M265.3 263.4h1.1M263.1 259.2h1.1M262.4 261.4h1.1M272.7 260.7h1.1M258.6 260.1h1.1M266.8 263.9h1.1M276.4 254.0h1.1M264.3 258.4h1.1M262.5 261.3h1.1M264.5 264.2h1.1M264.5 262.7h1.1M272.2 256.0h1.1M264.8 256.2h1.1M264.4 262.2h1.1M261.4 263.5h1.1M258.7 256.5h1.1M265.9 256.9h1.1M265.6 258.1h1.1M266.7 261.9h1.1M271.9 254.5h1.1M265.1 260.4h1.1M259.4 261.5h1.1M264.5 255.1h1.1M259.0 263.9h1.1M267.5 257.2h1.1M260.3 261.7h1.1M256.1 267.8h1.1M267.2 256.0h1.1M263.2 265.3h1.1M269.3 258.1h1.1M263.7 260.9h1.1M260.8 264.9h1.1M270.8 256.6h1.1M270.8 257.0h1.1M265.6 261.1h1.1M260.9 261.7h1.1M264.7 256.3h1.1M268.0 263.8h1.1M269.7 255.8h1.1M266.4 253.1h1.1M257.8 263.3h1.1M265.8 263.8h1.1M263.0 261.5h1.1M267.3 260.9h1.1M259.0 258.6h1.1M259.1 257.9h1.1M262.4 258.4h1.1M269.1 258.6h1.1M269.6 259.2h1.1M278.3 258.0h1.1M263.7 260.5h1.1M263.2 261.3h1.1M253.0 260.0h1.1M266.9 259.5h1.1M261.5 255.5h1.1M255.6 265.1h1.1M258.8 261.4h1.1M269.9 254.8h1.1M268.5 260.7h1.1M257.1 259.7h1.1M257.4 260.2h1.1M256.2 267.0h1.1M257.8 260.1h1.1M263.8 261.3h1.1M264.4 262.4h1.1M258.4 264.0h1.1M268.2 260.7h1.1M259.9 260.7h1.1M261.3 264.2h1.1M265.2 263.4h1.1M261.4 258.9h1.1M264.1 260.7h1.1M264.1 260.7h1.1M270.3 256.2h1.1M266.0 259.7h1.1M274.1 253.3h1.1M261.8 264.8h1.1M257.4 260.5h1.1M266.8 256.3h1.1M258.2 259.7h1.1M271.7 252.6h1.1M253.0 260.9h1.1M261.3 263.8h1.1M269.5 257.7h1.1M247.7 263.0h1.1M272.6 255.7h1.1M267.2 264.1h1.1M262.2 264.9h1.1M265.8 260.3h1.1M269.5 257.1h1.1M258.2 259.0h1.1M264.4 260.9h1.1M262.6 256.7h1.1M266.7 261.8h1.1M262.6 256.7h1.1M271.2 262.2h1.1M269.9 258.5h1.1M267.6 260.7h1.1M264.2 259.0h1.1M253.5 264.9h1.1M265.9 257.5h1.1M267.6 267.7h1.1M266.4 259.3h1.1M267.6 254.3h1.1M265.9 255.2h1.1M268.6 254.9h1.1M263.3 261.6h1.1M258.2 261.0h1.1M255.1 261.6h1.1M270.3 260.3h1.1M260.9 259.6h1.1M263.6 259.5h1.1M272.6 259.1h1.1M261.3 260.5h1.1M267.0 259.4h1.1M269.8 258.2h1.1M251.8 255.3h1.1M265.8 261.6h1.1M264.2 255.8h1.1M265.2 259.3h1.1M270.5 258.4h1.1M269.4 255.2h1.1M260.8 258.3h1.1M267.0 262.5h1.1M259.0 261.6h1.1M267.9 255.8h1.1M263.2 258.4h1.1M257.9 256.9h1.1M270.0 257.0h1.1M263.3 264.9h1.1M254.8 263.1h1.1M267.9 258.6h1.1M259.7 264.1h1.1M259.4 255.3h1.1M259.5 263.0h1.1M258.1 263.1h1.1M263.2 255.3h1.1M266.5 254.2h1.1M268.9 253.4h1.1M265.0 258.8h1.1M263.3 258.1h1.1M263.3 259.0h1.1M263.2 257.2h1.1M260.3 257.1h1.1M270.3 257.0h1.1M270.2 257.6h1.1M261.0 256.8h1.1M260.0 260.5h1.1M260.2 258.6h1.1M268.6 257.1h1.1M260.5 259.7h1.1M272.8 255.8h1.1M256.0 258.7h1.1M260.0 254.4h1.1M266.9 257.4h1.1M270.9 261.1h1.1M261.9 257.5h1.1M273.3 257.1h1.1M259.2 262.6h1.1M265.8 262.9h1.1M263.4 260.1h1.1M267.5 253.2h1.1M259.4 258.1h1.1M261.4 260.6h1.1M270.3 258.2h1.1M261.9 260.6h1.1M267.6 258.0h1.1M264.5 257.4h1.1M268.8 260.8h1.1M260.4 260.4h1.1M259.1 269.0h1.1M275.2 256.4h1.1M266.4 256.7h1.1M270.1 260.0h1.1M269.4 255.9h1.1M260.9 256.6h1.1M273.5 258.5h1.1M264.0 261.4h1.1M259.0 260.9h1.1M263.8 258.5h1.1M269.8 260.4h1.1M265.4 258.4h1.1M272.7 260.1h1.1M265.9 258.8h1.1M257.8 255.1h1.1M268.1 255.5h1.1M258.4 257.6h1.1M268.6 257.7h1.1M269.0 259.0h1.1M266.2 263.8h1.1M258.4 255.7h1.1M270.9 259.5h1.1M253.8 261.8h1.1M260.5 264.1h1.1M264.3 260.8h1.1M268.0 259.0h1.1M268.9 256.0h1.1M273.0 251.1h1.1M267.4 261.1h1.1M268.4 260.2h1.1M263.8 263.1h1.1M264.7 258.6h1.1M266.2 258.2h1.1M264.5 260.0h1.1M274.4 254.6h1.1M269.4 259.5h1.1M265.9 255.9h1.1M260.6 257.3h1.1M263.2 261.8h1.1M260.3 260.9h1.1M263.8 259.7h1.1M264.5 258.7h1.1M257.0 261.6h1.1M257.5 263.1h1.1M265.1 260.8h1.1M263.5 255.5h1.1M263.6 260.8h1.1M265.3 255.9h1.1M269.3 253.9h1.1M263.8 254.2h1.1M257.3 261.4h1.1M264.5 260.5h1.1M266.7 256.3h1.1M259.7 263.0h1.1M248.7 266.4h1.1M256.3 266.1h1.1M274.7 254.5h1.1M266.3 259.4h1.1M258.4 266.5h1.1M249.9 262.7h1.1M270.7 260.2h1.1M268.4 256.5h1.1M271.3 260.6h1.1M261.8 252.0h1.1M253.3 264.2h1.1M265.8 258.7h1.1M263.3 261.6h1.1M269.6 265.8h1.1M259.9 256.0h1.1M261.3 252.0h1.1M258.3 262.5h1.1M266.3 261.5h1.1M258.0 265.2h1.1M259.3 268.2h1.1M263.5 260.5h1.1M250.4 263.9h1.1M257.4 261.2h1.1M275.2 257.8h1.1M257.3 259.9h1.1M268.8 262.2h1.1M272.0 257.9h1.1M255.8 260.8h1.1M255.0 265.4h1.1M255.3 258.6h1.1M261.2 251.5h1.1M257.5 265.9h1.1M268.3 257.5h1.1M260.0 263.4h1.1M256.7 256.5h1.1M270.6 256.7h1.1M268.6 248.1h1.1M272.8 250.8h1.1M260.5 264.8h1.1M255.2 252.9h1.1M254.2 259.4h1.1M253.2 259.7h1.1M253.4 266.6h1.1M259.0 266.9h1.1M270.3 255.8h1.1M266.4 263.0h1.1M264.9 256.0h1.1M271.6 255.3h1.1M263.6 258.8h1.1M270.5 255.6h1.1M261.3 258.6h1.1M265.4 263.3h1.1M269.8 254.9h1.1M259.0 261.3h1.1M266.2 258.9h1.1M260.0 261.5h1.1M275.9 265.2h1.1M263.2 262.2h1.1M246.9 261.0h1.1M259.3 260.9h1.1M267.5 265.1h1.1M259.6 259.4h1.1M257.1 259.3h1.1M273.9 260.2h1.1M262.9 259.7h1.1M273.4 258.0h1.1M262.8 262.1h1.1M250.5 258.3h1.1M257.3 262.4h1.1M264.3 257.4h1.1M260.1 253.2h1.1M251.6 271.0h1.1M260.2 260.6h1.1M272.3 247.2h1.1M259.0 256.5h1.1M270.8 253.4h1.1M283.0 263.7h1.1M262.5 248.5h1.1M262.5 261.4h1.1M268.5 258.3h1.1M265.1 262.8h1.1M265.2 256.3h1.1M261.2 260.5h1.1M266.0 263.9h1.1M267.0 254.4h1.1M282.0 255.3h1.1M262.5 261.6h1.1M252.0 264.8h1.1M261.7 265.2h1.1M264.3 270.0h1.1M275.9 251.5h1.1M269.2 256.0h1.1M267.4 260.6h1.1M269.7 252.3h1.1M266.8 262.9h1.1M271.1 265.0h1.1M262.1 257.6h1.1M269.7 267.2h1.1M255.8 257.2h1.1M275.3 249.7h1.1M268.8 258.3h1.1M264.2 259.8h1.1M261.0 262.0h1.1M259.7 266.9h1.1M251.6 267.9h1.1M265.4 259.8h1.1M263.6 264.1h1.1M263.5 257.6h1.1M273.0 252.3h1.1M264.0 251.3h1.1M260.2 260.6h1.1M257.5 270.4h1.1M268.0 260.2h1.1M257.7 266.5h1.1M278.8 263.9h1.1M248.6 262.9h1.1M264.1 265.0h1.1M252.0 263.6h1.1M255.3 263.0h1.1M262.2 263.2h1.1M268.8 262.0h1.1M285.8 253.0h1.1M254.0 264.0h1.1M273.3 256.5h1.1M248.3 271.7h1.1M270.0 252.2h1.1M278.3 250.6h1.1M273.4 248.7h1.1M233.1 266.6h1.1M260.2 277.5h1.1M268.4 265.4h1.1M287.6 247.8h1.1M253.4 248.8h1.1M270.2 251.2h1.1M255.8 263.2h1.1M239.7 266.5h1.1M253.6 269.6h1.1M270.6 264.7h1.1M265.1 250.9h1.1M248.3 277.3h1.1M268.0 259.7h1.1M286.4 260.8h1.1M276.0 263.1h1.1M249.3 270.2h1.1M271.5 262.6h1.1M270.5 260.0h1.1M242.1 254.7h1.1M241.3 273.4h1.1M247.7 265.1h1.1M261.1 264.5h1.1M257.3 253.6h1.1M261.4 274.4h1.1M276.9 262.5h1.1M260.7 278.8h1.1M252.5 256.4h1.1M279.9 253.7h1.1M257.5 262.4h1.1M248.6 274.6h1.1M294.1 266.8h1.1M265.1 259.1h1.1M246.6 268.4h1.1M241.0 259.1h1.1M283.2 263.9h1.1M281.9 261.0h1.1M257.7 265.2h1.1M254.5 267.5h1.1M273.0 254.5h1.1M272.7 262.4h1.1M256.7 273.6h1.1M258.1 263.7h1.1M240.7 266.4h1.1M262.3 273.1h1.1M276.0 254.3h1.1M240.8 266.3h1.1M256.2 270.5h1.1M240.2 246.5h1.1M247.0 267.0h1.1M260.4 263.2h1.1M242.5 245.8h1.1M224.1 260.0h1.1M197.8 266.5h1.1M257.8 261.9h1.1M218.2 260.4h1.1M230.0 259.0h1.1M248.9 270.1h1.1M214.3 255.7h1.1M233.1 261.3h1.1M255.9 261.0h1.1M256.6 261.8h1.1M223.3 260.2h1.1M247.8 251.9h1.1M226.5 263.0h1.1M255.0 265.6h1.1M242.4 260.4h1.1M214.2 264.5h1.1M251.0 263.3h1.1M256.1 256.1h1.1M260.8 266.6h1.1M224.6 265.5h1.1M256.9 261.9h1.1M241.1 261.6h1.1M226.2 261.1h1.1M223.1 264.8h1.1M250.0 259.8h1.1M228.0 262.9h1.1M212.0 265.3h1.1M249.8 264.3h1.1M250.6 264.8h1.1M214.1 253.4h1.1M206.5 259.4h1.1M248.2 267.5h1.1M237.2 274.1h1.1M237.2 260.4h1.1M218.8 252.4h1.1M229.3 248.3h1.1M237.6 259.3h1.1M208.4 269.6h1.1M251.4 267.1h1.1M203.1 255.9h1.1M222.7 263.9h1.1M203.4 266.1h1.1M234.9 267.7h1.1M219.6 264.7h1.1M257.4 265.6h1.1M208.8 262.2h1.1M203.0 257.9h1.1M239.5 263.7h1.1M226.2 258.2h1.1M245.2 264.2h1.1M232.6 259.5h1.1M247.8 248.4h1.1M208.5 263.8h1.1M249.0 251.2h1.1M212.8 261.2h1.1M254.4 262.3h1.1M211.6 266.6h1.1M201.1 262.5h1.1M226.4 253.4h1.1M233.7 266.0h1.1M232.6 267.2h1.1M210.0 267.7h1.1M199.3 253.5h1.1M234.9 279.0h1.1M205.4 258.5h1.1M222.0 256.7h1.1M225.8 257.1h1.1M261.1 267.7h1.1M249.6 257.9h1.1M259.0 254.3h1.1M242.6 258.8h1.1M237.5 262.6h1.1M229.7 267.5h1.1M230.9 251.7h1.1M250.0 267.6h1.1M196.3 262.5h1.1M216.4 263.4h1.1M216.3 257.1h1.1M236.3 258.4h1.1M241.8 258.8h1.1M249.5 255.8h1.1M241.0 255.5h1.1M236.4 270.1h1.1M233.3 258.8h1.1M196.6 247.7h1.1M204.4 257.4h1.1M199.8 263.4h1.1M249.2 246.6h1.1M243.9 256.0h1.1M238.9 265.7h1.1M244.2 267.4h1.1M211.0 267.3h1.1M239.9 257.1h1.1M209.3 259.9h1.1M228.9 259.0h1.1M228.2 267.6h1.1M211.9 267.8h1.1M255.9 276.0h1.1M236.0 256.7h1.1M208.8 260.3h1.1M218.9 254.1h1.1M260.8 260.9h1.1M235.7 274.3h1.1M234.4 267.3h1.1M204.0 262.8h1.1M246.1 263.9h1.1M219.8 263.2h1.1M222.2 261.2h1.1M236.5 262.0h1.1M256.1 256.5h1.1M219.6 270.6h1.1M202.5 257.1h1.1M226.2 259.5h1.1M204.9 262.0h1.1M226.3 259.7h1.1M211.7 252.1h1.1M201.5 262.5h1.1M219.6 270.0h1.1M229.7 260.7h1.1M243.2 260.2h1.1M247.5 267.4h1.1M250.7 254.2h1.1M249.6 255.3h1.1M231.6 265.2h1.1M246.1 263.8h1.1M236.7 260.4h1.1M201.8 261.1h1.1M253.4 257.1h1.1M255.3 257.5h1.1M245.6 260.8h1.1M259.0 260.2h1.1M201.0 257.4h1.1M221.3 258.8h1.1M220.5 257.7h1.1M202.9 272.4h1.1M215.1 265.8h1.1M255.9 259.8h1.1M257.6 269.4h1.1M236.7 259.6h1.1M232.2 268.8h1.1M226.0 256.0h1.1M202.3 253.4h1.1M212.7 272.9h1.1M223.3 270.9h1.1M228.4 253.8h1.1M185.4 255.7h1.1M242.3 270.4h1.1M228.8 270.6h1.1M214.0 263.0h1.1M217.0 271.6h1.1M231.9 264.7h1.1M213.1 274.8h1.1M268.4 260.0h1.1M256.2 272.7h1.1M216.4 260.9h1.1M242.9 271.0h1.1M229.6 280.7h1.1M207.7 270.1h1.1M224.9 282.8h1.1M263.1 258.6h1.1M234.1 261.9h1.1M212.3 274.6h1.1M244.8 276.3h1.1M210.6 268.5h1.1M205.5 274.8h1.1M200.3 273.3h1.1M228.9 273.3h1.1M241.0 257.7h1.1M218.1 257.2h1.1M228.6 263.9h1.1M227.3 259.7h1.1M241.0 276.1h1.1M246.3 274.4h1.1M205.4 265.2h1.1M226.2 258.9h1.1M234.7 264.4h1.1M231.1 257.9h1.1M221.2 266.3h1.1M246.0 269.2h1.1M217.1 316.9h1.1M221.1 307.2h1.1M222.6 305.5h1.1M221.8 300.4h1.1M201.7 323.5h1.1M225.4 283.1h1.1M206.5 321.9h1.1M201.4 311.6h1.1M237.4 289.8h1.1M228.4 301.5h1.1M205.4 316.7h1.1M226.8 303.6h1.1M249.4 318.0h1.1M251.8 315.4h1.1M249.1 322.4h1.1M253.0 298.2h1.1M202.7 314.5h1.1M276.5 294.8h1.1M233.0 260.6h1.1M284.8 245.5h1.1M250.8 326.1h1.1"/>
<path d="M278.5 252.2h1.1M261.5 261.2h1.1M257.0 264.6h1.1M263.8 258.6h1.1M259.0 253.0h1.1M267.7 257.3h1.1M263.9 257.8h1.1M262.8 258.7h1.1M275.0 254.2h1.1M258.7 263.8h1.1M270.1 253.6h1.1M271.4 260.5h1.1M270.4 261.2h1.1M260.3 262.3h1.1M271.0 257.4h1.1M261.9 256.9h1.1M267.2 258.7h1.1M266.6 255.5h1.1M264.5 257.3h1.1M257.5 259.5h1.1M264.1 265.4h1.1M274.1 257.3h1.1M260.7 254.7h1.1M261.9 260.8h1.1M264.4 265.8h1.1M268.6 263.4h1.1M273.5 255.2h1.1M269.6 257.5h1.1M262.3 256.0h1.1M270.6 256.6h1.1M259.5 263.0h1.1M265.0 259.9h1.1M264.8 259.5h1.1M270.6 258.3h1.1M257.8 261.1h1.1M267.7 260.8h1.1M261.4 257.9h1.1M263.2 260.6h1.1M260.6 262.7h1.1M263.2 263.2h1.1M266.4 252.3h1.1M271.7 254.3h1.1M261.6 257.6h1.1M267.6 261.2h1.1M263.7 260.6h1.1M264.0 258.3h1.1M256.8 259.3h1.1M259.5 261.1h1.1M267.5 256.9h1.1M261.7 263.7h1.1M266.0 260.6h1.1M265.6 260.5h1.1M267.5 262.0h1.1M262.1 259.7h1.1M256.9 260.3h1.1M275.6 254.9h1.1M252.4 266.0h1.1M255.4 260.8h1.1M272.6 254.8h1.1M265.9 260.9h1.1M266.5 258.8h1.1M264.3 262.7h1.1M264.7 254.0h1.1M262.4 256.9h1.1M258.9 262.9h1.1M270.5 259.3h1.1M256.8 266.0h1.1M272.4 253.7h1.1M263.2 257.8h1.1M262.5 258.9h1.1M273.4 260.5h1.1M267.5 256.6h1.1M272.2 260.6h1.1M274.6 257.9h1.1M262.1 259.4h1.1M258.6 262.6h1.1M270.2 258.3h1.1M254.9 260.2h1.1M270.0 254.7h1.1M256.1 264.3h1.1M269.9 257.8h1.1M262.0 256.6h1.1M256.7 257.0h1.1M269.0 258.3h1.1M262.3 258.2h1.1M269.6 254.9h1.1M262.7 256.0h1.1M273.7 257.0h1.1M270.6 262.4h1.1M264.9 253.2h1.1M261.4 255.4h1.1M265.6 263.9h1.1M258.8 257.3h1.1M271.1 253.7h1.1M274.8 256.4h1.1M265.0 262.3h1.1M268.9 257.7h1.1M270.8 256.5h1.1M266.2 256.1h1.1M261.8 259.2h1.1M259.6 255.9h1.1M264.4 257.5h1.1M266.3 259.9h1.1M257.9 264.5h1.1M265.1 256.4h1.1M268.3 252.9h1.1M262.9 259.9h1.1M263.9 256.1h1.1M262.9 260.3h1.1M271.7 255.5h1.1M266.0 260.5h1.1M262.2 261.0h1.1M267.6 258.8h1.1M265.2 259.9h1.1M266.4 262.4h1.1M272.6 251.7h1.1M262.7 261.5h1.1M261.8 257.6h1.1M264.4 259.1h1.1M265.7 256.4h1.1M260.4 254.8h1.1M263.4 261.8h1.1M264.1 263.6h1.1M268.6 259.6h1.1M266.9 263.9h1.1M265.6 257.5h1.1M264.8 258.2h1.1M261.5 259.9h1.1M257.6 257.4h1.1M258.4 262.2h1.1M268.7 259.6h1.1M261.6 257.7h1.1M267.4 256.8h1.1M264.3 260.3h1.1M267.4 254.8h1.1M266.0 258.9h1.1M258.1 260.1h1.1M255.6 258.7h1.1M271.9 259.7h1.1M264.9 260.8h1.1M268.6 259.7h1.1M268.3 262.7h1.1M264.4 260.3h1.1M260.2 261.8h1.1M269.6 259.6h1.1M260.3 262.9h1.1M261.1 261.8h1.1M256.0 260.6h1.1M261.0 259.9h1.1M258.4 261.7h1.1M270.7 250.0h1.1M258.3 260.7h1.1M268.5 257.4h1.1M271.0 257.2h1.1M260.2 261.6h1.1M266.4 257.0h1.1M269.7 255.7h1.1M270.5 259.6h1.1M269.3 255.2h1.1M259.8 262.1h1.1M257.3 261.4h1.1M266.2 259.4h1.1M263.4 260.8h1.1M268.1 263.7h1.1M270.6 257.2h1.1M261.5 267.2h1.1M262.3 257.1h1.1M266.4 260.4h1.1M256.1 262.0h1.1M261.2 258.6h1.1M263.9 255.1h1.1M253.7 265.7h1.1M267.9 258.0h1.1M249.2 260.6h1.1M272.5 258.1h1.1M265.6 258.2h1.1M272.6 256.9h1.1M266.9 257.7h1.1M262.6 257.0h1.1M267.8 259.3h1.1M262.7 263.3h1.1M269.1 256.5h1.1M267.9 254.9h1.1M259.2 258.2h1.1M276.2 252.6h1.1M261.1 257.8h1.1M259.1 261.0h1.1M270.5 259.9h1.1M267.6 259.4h1.1M264.0 258.7h1.1M257.8 263.6h1.1M256.7 255.7h1.1M263.7 261.3h1.1M262.1 259.8h1.1M260.0 259.4h1.1M264.3 263.5h1.1M258.1 260.0h1.1M268.0 258.7h1.1M260.6 258.5h1.1M263.3 259.4h1.1M264.0 262.0h1.1M269.4 257.1h1.1M258.6 263.2h1.1M260.5 263.5h1.1M260.3 257.2h1.1M257.7 260.8h1.1M267.8 257.8h1.1M268.0 258.3h1.1M274.2 253.8h1.1M272.5 256.8h1.1M257.6 258.5h1.1M274.9 259.6h1.1M262.0 258.0h1.1M271.3 258.4h1.1M273.4 257.3h1.1M263.0 260.1h1.1M262.6 256.6h1.1M271.3 257.6h1.1M264.0 261.8h1.1M270.1 261.3h1.1M264.1 261.6h1.1M261.4 258.0h1.1M267.5 254.2h1.1M263.7 262.0h1.1M273.8 259.5h1.1M268.2 262.7h1.1M265.3 256.8h1.1M267.2 260.0h1.1M269.1 256.9h1.1M263.7 255.4h1.1M265.3 260.2h1.1M277.6 254.6h1.1M263.0 263.9h1.1M258.6 262.8h1.1M268.1 263.1h1.1M267.1 259.9h1.1M277.6 255.4h1.1M258.9 265.2h1.1M264.8 257.5h1.1M260.9 263.9h1.1M273.1 256.0h1.1M260.7 264.2h1.1M259.5 260.2h1.1M259.5 261.3h1.1M274.0 257.3h1.1M261.4 258.1h1.1M260.4 260.2h1.1M264.4 260.1h1.1M265.3 262.2h1.1M265.1 256.3h1.1M269.1 262.0h1.1M267.4 257.9h1.1M273.7 260.9h1.1M264.5 258.9h1.1M263.6 257.0h1.1M257.2 262.5h1.1M268.3 258.5h1.1M262.4 260.1h1.1M266.1 260.5h1.1M256.7 258.8h1.1M257.4 267.6h1.1M260.1 262.0h1.1M267.8 257.4h1.1M266.5 258.3h1.1M269.9 256.4h1.1M257.1 263.0h1.1M262.5 258.1h1.1M266.4 255.4h1.1M260.4 262.6h1.1M268.3 259.1h1.1M265.2 262.3h1.1M274.6 258.7h1.1M257.2 260.7h1.1M267.3 259.1h1.1M269.4 257.2h1.1M269.2 256.3h1.1M271.1 256.2h1.1M270.6 258.1h1.1M259.7 264.1h1.1M264.6 256.3h1.1M254.8 263.0h1.1M256.2 258.5h1.1M270.9 258.2h1.1M265.0 262.8h1.1M255.1 263.7h1.1M254.8 266.4h1.1M272.6 254.6h1.1M265.1 256.3h1.1M263.5 260.8h1.1M265.9 251.9h1.1M268.3 255.8h1.1M256.4 261.5h1.1M261.0 256.6h1.1M264.8 258.6h1.1M260.3 265.2h1.1M258.4 264.5h1.1M270.0 261.2h1.1M266.4 257.2h1.1M262.1 260.5h1.1M269.7 258.9h1.1M259.1 260.1h1.1M263.3 259.6h1.1M250.4 267.0h1.1M279.1 258.6h1.1M270.5 259.5h1.1M249.6 262.0h1.1M270.7 251.4h1.1M268.9 260.4h1.1M278.0 267.6h1.1M252.6 261.0h1.1M261.6 260.4h1.1M266.2 255.7h1.1M254.0 255.0h1.1M256.0 259.1h1.1M269.6 255.9h1.1M276.5 246.5h1.1M248.8 262.8h1.1M278.3 260.5h1.1M264.6 249.2h1.1M270.2 258.7h1.1M268.6 252.8h1.1M265.6 256.2h1.1M251.2 266.9h1.1M264.0 258.0h1.1M264.7 262.1h1.1M290.3 263.2h1.1M263.1 262.1h1.1M265.5 258.3h1.1M265.6 253.9h1.1M262.5 257.3h1.1M272.2 256.5h1.1M253.3 260.6h1.1M245.1 272.3h1.1M271.1 259.1h1.1M260.7 254.4h1.1M269.1 255.2h1.1M264.1 252.8h1.1M276.9 250.3h1.1M252.9 266.3h1.1M272.7 251.9h1.1M255.9 265.0h1.1M255.6 263.1h1.1M254.6 264.4h1.1M252.7 261.6h1.1M256.0 254.3h1.1M251.0 264.0h1.1M274.7 250.3h1.1M267.0 257.4h1.1M252.6 265.0h1.1M272.7 250.7h1.1M254.3 269.7h1.1M265.3 258.2h1.1M264.0 260.6h1.1M243.9 266.6h1.1M244.8 265.3h1.1M254.7 256.0h1.1M258.7 263.8h1.1M264.6 260.2h1.1M254.4 257.6h1.1M257.8 258.3h1.1M251.0 258.4h1.1M251.1 256.9h1.1M260.5 263.7h1.1M266.7 268.4h1.1M260.5 264.2h1.1M276.9 254.5h1.1M269.0 255.7h1.1M267.4 251.7h1.1M266.5 264.5h1.1M256.0 256.6h1.1M256.9 260.8h1.1M271.3 254.3h1.1M264.5 252.6h1.1M258.9 263.0h1.1M275.9 249.9h1.1M261.7 263.1h1.1M262.3 256.3h1.1M259.8 249.5h1.1M244.2 268.3h1.1M258.7 261.3h1.1M264.9 263.9h1.1M256.5 269.8h1.1M262.5 255.8h1.1M262.6 257.9h1.1M270.1 255.3h1.1M260.7 259.8h1.1M274.4 254.9h1.1M261.9 253.1h1.1M266.4 255.3h1.1M273.3 253.4h1.1M272.4 247.7h1.1M267.3 255.9h1.1M260.0 265.0h1.1M261.2 250.7h1.1M258.0 252.7h1.1M250.0 260.4h1.1M261.2 260.2h1.1M249.8 260.9h1.1M264.3 252.4h1.1M270.4 257.2h1.1M260.3 250.9h1.1M273.6 256.1h1.1M266.4 251.5h1.1M265.7 267.4h1.1M275.0 243.6h1.1M269.8 261.5h1.1M262.6 264.4h1.1M261.7 266.1h1.1M257.6 263.7h1.1M261.9 262.6h1.1M282.2 250.4h1.1M249.1 267.6h1.1M262.9 254.2h1.1M256.2 257.5h1.1M276.2 254.7h1.1M263.1 262.2h1.1M268.8 257.8h1.1M276.7 255.2h1.1M266.7 256.8h1.1M260.8 260.7h1.1M249.3 266.8h1.1M265.0 259.0h1.1M241.0 267.4h1.1M267.7 263.3h1.1M273.9 255.3h1.1M257.4 270.2h1.1M276.9 258.9h1.1M271.9 259.1h1.1M242.9 268.4h1.1M254.9 278.3h1.1M260.5 252.2h1.1M254.1 259.6h1.1M246.8 245.8h1.1M271.4 253.3h1.1M246.2 252.5h1.1M277.8 248.4h1.1M243.5 268.1h1.1M258.1 264.5h1.1M241.9 268.7h1.1M262.4 259.5h1.1M258.4 277.4h1.1M257.8 255.2h1.1M274.1 252.7h1.1M252.0 255.4h1.1M254.2 263.0h1.1M287.8 263.6h1.1M270.3 261.9h1.1M266.3 265.7h1.1M252.7 260.0h1.1M264.2 261.3h1.1M257.3 269.9h1.1M255.7 281.2h1.1M263.8 252.7h1.1M264.1 258.4h1.1M246.4 258.3h1.1M265.5 280.5h1.1M254.8 268.6h1.1M254.4 258.6h1.1M243.1 261.9h1.1M267.4 261.8h1.1M260.0 264.0h1.1M297.7 265.5h1.1M229.2 268.0h1.1M247.4 264.4h1.1M251.3 265.3h1.1M259.0 266.3h1.1M263.9 266.9h1.1M265.7 262.8h1.1M260.2 271.6h1.1M278.5 250.1h1.1M264.5 256.0h1.1M273.5 251.5h1.1M262.1 258.7h1.1M267.8 267.2h1.1M263.5 249.8h1.1M278.9 266.7h1.1M265.8 270.1h1.1M263.4 253.2h1.1M257.1 257.8h1.1M215.3 248.9h1.1M224.4 257.2h1.1M256.1 263.1h1.1M240.4 256.3h1.1M210.7 259.6h1.1M239.2 263.2h1.1M245.5 261.4h1.1M226.0 259.7h1.1M229.4 255.2h1.1M243.1 257.2h1.1M216.2 250.1h1.1M207.8 257.3h1.1M210.7 268.7h1.1M202.7 253.8h1.1M243.8 255.4h1.1M227.1 251.1h1.1M204.3 253.2h1.1M236.1 266.5h1.1M252.5 261.9h1.1M210.8 261.7h1.1M265.1 262.6h1.1M256.5 247.2h1.1M248.5 258.8h1.1M259.1 253.0h1.1M201.0 261.9h1.1M223.2 255.5h1.1M232.0 267.3h1.1M257.0 263.0h1.1M243.4 262.2h1.1M258.8 255.1h1.1M239.5 255.9h1.1M212.2 264.1h1.1M219.2 266.1h1.1M207.2 252.9h1.1M200.8 249.2h1.1M241.6 265.6h1.1M236.7 253.9h1.1M209.3 249.1h1.1M237.1 257.5h1.1M242.3 262.1h1.1M260.1 264.9h1.1M203.6 262.0h1.1M228.8 265.7h1.1M220.0 264.4h1.1M250.8 260.8h1.1M234.4 258.8h1.1M227.1 267.5h1.1M258.7 264.5h1.1M211.9 258.1h1.1M230.5 263.3h1.1M235.0 254.5h1.1M228.5 258.6h1.1M221.0 255.9h1.1M214.8 252.1h1.1M220.4 269.4h1.1M217.9 252.2h1.1M235.1 261.8h1.1M260.5 262.2h1.1M217.5 253.7h1.1M225.1 262.4h1.1M200.7 266.9h1.1M226.0 256.1h1.1M231.5 252.7h1.1M243.9 259.8h1.1M256.1 267.9h1.1M252.8 258.4h1.1M246.2 266.3h1.1M198.5 263.6h1.1M240.9 262.4h1.1M217.0 252.6h1.1M238.5 256.3h1.1M225.7 265.3h1.1M253.4 266.6h1.1M209.7 268.8h1.1M234.3 258.5h1.1M247.7 260.4h1.1M192.4 261.8h1.1M244.6 260.3h1.1M201.1 258.7h1.1M235.3 258.2h1.1M240.4 266.8h1.1M214.8 260.9h1.1M226.3 260.3h1.1M245.8 257.9h1.1M224.3 258.2h1.1M202.3 264.0h1.1M207.9 268.4h1.1M226.9 266.4h1.1M256.8 256.3h1.1M202.9 259.8h1.1M213.5 266.2h1.1M218.5 266.2h1.1M217.1 259.7h1.1M223.3 263.8h1.1M254.9 262.2h1.1M212.1 260.8h1.1M205.5 246.8h1.1M244.7 263.2h1.1M209.2 258.5h1.1M222.2 253.7h1.1M240.4 257.8h1.1M210.1 261.9h1.1M218.4 255.6h1.1M239.1 263.3h1.1M217.9 255.3h1.1M245.9 253.2h1.1M244.9 267.1h1.1M252.6 257.2h1.1M225.0 260.9h1.1M229.0 257.2h1.1M199.3 250.5h1.1M212.8 267.3h1.1M208.2 265.5h1.1M230.1 259.7h1.1M227.2 259.2h1.1M229.3 255.5h1.1M259.7 255.8h1.1M226.3 247.1h1.1M246.8 264.0h1.1M232.7 257.1h1.1M215.4 264.9h1.1M200.9 268.7h1.1M258.8 260.8h1.1M210.0 257.8h1.1M216.8 263.5h1.1M231.8 248.1h1.1M217.5 264.8h1.1M225.1 253.7h1.1M235.5 261.9h1.1M237.7 244.9h1.1M235.0 254.5h1.1M218.0 260.3h1.1M233.0 253.9h1.1M213.9 261.1h1.1M257.5 260.1h1.1M226.4 249.5h1.1M252.3 249.4h1.1M229.3 265.2h1.1M207.3 267.5h1.1M207.5 262.1h1.1M224.2 246.6h1.1M204.2 261.4h1.1M214.7 262.6h1.1M220.2 264.3h1.1M256.2 280.7h1.1M242.0 264.0h1.1M208.2 261.8h1.1M250.4 282.2h1.1M205.9 262.5h1.1M226.5 257.2h1.1M233.6 262.4h1.1M242.0 276.9h1.1M228.7 273.1h1.1M219.6 259.1h1.1M231.3 277.7h1.1M232.7 255.7h1.1M232.0 266.8h1.1M264.1 267.9h1.1M216.4 277.5h1.1M239.0 279.1h1.1M224.9 267.3h1.1M235.5 266.6h1.1M228.6 275.4h1.1M252.1 276.3h1.1M235.2 259.7h1.1M209.5 287.4h1.1M227.7 255.2h1.1M216.2 263.8h1.1M226.6 267.2h1.1M223.6 277.0h1.1M250.9 273.1h1.1M222.9 270.7h1.1M225.4 266.7h1.1M219.3 267.4h1.1M221.7 270.3h1.1M216.3 263.7h1.1M235.2 274.7h1.1M192.4 285.7h1.1M220.9 261.7h1.1M211.2 261.5h1.1M210.1 305.8h1.1M229.9 294.2h1.1M230.2 288.9h1.1M227.9 305.1h1.1M206.0 321.2h1.1M223.7 300.7h1.1M210.0 296.7h1.1M210.7 304.9h1.1M219.0 301.2h1.1M216.7 311.2h1.1M216.6 282.5h1.1M224.0 294.5h1.1M253.8 308.9h1.1M255.5 305.4h1.1M257.9 295.4h1.1M254.2 292.1h1.1M284.6 322.3h1.1M259.4 267.8h1.1M263.9 259.1h1.1M218.1 250.3h1.1M271.9 291.8h1.1"/>
<path d="M262.3 258.2h1.1M265.7 256.2h1.1M256.4 260.7h1.1M271.3 260.0h1.1M263.5 256.4h1.1M264.5 257.2h1.1M268.2 258.8h1.1M270.7 256.5h1.1M254.8 265.4h1.1M265.3 262.2h1.1M267.5 252.7h1.1M269.7 262.0h1.1M262.1 260.8h1.1M268.3 259.2h1.1M261.1 260.0h1.1M264.8 261.3h1.1M262.4 260.9h1.1M262.1 260.9h1.1M272.8 257.0h1.1M254.2 259.3h1.1M265.2 261.4h1.1M265.8 258.0h1.1M258.9 266.9h1.1M264.8 264.8h1.1M260.4 261.8h1.1M264.4 259.5h1.1M275.9 252.1h1.1M265.9 257.9h1.1M261.6 258.0h1.1M259.4 260.3h1.1M272.0 259.7h1.1M267.1 258.3h1.1M265.0 263.0h1.1M264.7 259.1h1.1M260.8 257.9h1.1M260.2 262.2h1.1M258.1 259.7h1.1M264.6 263.6h1.1M276.2 256.1h1.1M261.8 261.3h1.1M260.8 262.9h1.1M264.4 261.9h1.1M261.9 260.1h1.1M267.8 253.8h1.1M262.6 255.3h1.1M262.5 259.4h1.1M251.9 258.6h1.1M261.3 256.6h1.1M262.7 255.3h1.1M267.0 259.9h1.1M262.3 257.9h1.1M257.7 262.5h1.1M265.1 257.7h1.1M260.6 261.2h1.1M261.4 262.3h1.1M267.5 257.0h1.1M264.8 257.3h1.1M262.8 258.5h1.1M269.8 250.8h1.1M264.3 256.0h1.1M260.5 263.6h1.1M262.3 263.3h1.1M270.0 256.9h1.1M263.5 262.5h1.1M262.6 259.3h1.1M264.8 260.9h1.1M265.7 261.1h1.1M267.6 258.4h1.1M258.3 263.4h1.1M265.8 260.3h1.1M258.4 261.3h1.1M255.9 263.6h1.1M266.3 251.8h1.1M262.0 261.0h1.1M262.9 259.1h1.1M261.3 264.9h1.1M269.5 255.7h1.1M264.5 256.9h1.1M269.8 255.3h1.1M264.2 258.0h1.1M263.7 260.1h1.1M267.7 257.9h1.1M263.5 263.6h1.1M267.0 263.7h1.1M268.8 257.1h1.1M263.7 260.5h1.1M262.1 259.3h1.1M264.7 256.9h1.1M258.0 259.5h1.1M267.8 257.8h1.1M267.0 259.7h1.1M266.8 261.4h1.1M267.2 255.2h1.1M268.1 261.5h1.1M261.9 262.1h1.1M260.6 260.7h1.1M259.2 261.6h1.1M265.3 256.1h1.1M267.3 261.3h1.1M255.0 262.8h1.1M268.0 257.1h1.1M264.7 260.7h1.1M262.3 256.2h1.1M270.3 259.9h1.1M266.0 264.7h1.1M260.1 262.0h1.1M253.9 263.9h1.1M262.1 260.5h1.1M261.8 260.6h1.1M263.5 260.3h1.1M259.8 254.9h1.1M266.8 258.9h1.1M267.2 259.8h1.1M262.1 257.7h1.1M269.4 256.3h1.1M268.0 265.4h1.1M252.6 263.1h1.1M255.2 262.1h1.1M267.1 259.4h1.1M262.1 256.8h1.1M261.9 259.4h1.1M264.5 258.9h1.1M269.0 256.1h1.1M268.3 257.2h1.1M255.8 264.3h1.1M268.0 258.8h1.1M268.7 261.6h1.1M260.1 267.3h1.1M266.8 260.1h1.1M259.8 255.9h1.1M258.9 263.4h1.1M262.1 261.2h1.1M261.3 261.0h1.1M263.2 262.1h1.1M267.7 263.2h1.1M267.9 257.6h1.1M262.0 266.6h1.1M267.7 256.7h1.1M263.9 259.1h1.1M264.2 260.1h1.1M259.1 264.7h1.1M269.7 254.6h1.1M262.6 259.9h1.1M267.4 260.8h1.1M260.5 259.1h1.1M266.8 262.4h1.1M270.5 259.7h1.1M261.5 263.7h1.1M268.0 257.7h1.1M262.8 263.8h1.1M274.8 258.8h1.1M268.0 261.2h1.1M263.5 258.7h1.1M263.3 260.5h1.1M268.2 258.1h1.1M263.8 262.8h1.1M270.0 256.6h1.1M262.9 260.0h1.1M256.0 261.8h1.1M262.1 261.8h1.1M270.7 255.3h1.1M261.2 259.4h1.1M274.8 254.7h1.1M261.4 264.8h1.1M261.6 260.3h1.1M261.6 262.3h1.1M266.6 260.9h1.1M270.2 251.0h1.1M272.6 257.4h1.1M258.5 262.2h1.1M271.4 254.4h1.1M265.4 255.6h1.1M258.7 260.4h1.1M271.9 258.2h1.1M270.6 256.5h1.1M265.8 257.3h1.1M254.0 261.7h1.1M266.0 258.4h1.1M268.5 263.4h1.1M263.9 254.9h1.1M263.1 263.1h1.1M266.4 261.7h1.1M266.0 258.8h1.1M267.8 262.4h1.1M261.7 261.1h1.1M272.7 261.7h1.1M263.6 256.4h1.1M270.0 251.8h1.1M265.6 254.3h1.1M268.3 257.1h1.1M264.1 257.8h1.1M272.9 258.2h1.1M265.2 257.9h1.1M259.7 257.4h1.1M280.4 256.9h1.1M265.2 257.3h1.1M258.6 262.3h1.1M267.3 260.8h1.1M266.6 256.0h1.1M254.2 267.0h1.1M265.4 256.5h1.1M264.1 260.9h1.1M266.5 260.4h1.1M262.2 251.0h1.1M268.2 257.4h1.1M267.1 255.9h1.1M267.7 260.4h1.1M274.0 258.2h1.1M264.4 260.2h1.1M251.7 266.7h1.1M262.4 258.9h1.1M272.9 256.5h1.1M268.3 261.7h1.1M271.5 256.6h1.1M261.5 258.8h1.1M265.4 260.5h1.1M275.4 256.5h1.1M263.7 262.0h1.1M259.6 262.5h1.1M265.8 258.0h1.1M259.3 264.8h1.1M261.4 260.2h1.1M261.8 263.0h1.1M273.7 256.4h1.1M269.8 258.4h1.1M267.7 257.3h1.1M261.4 259.6h1.1M271.1 256.3h1.1M258.3 258.5h1.1M266.8 259.8h1.1M267.9 255.2h1.1M258.0 265.4h1.1M258.0 263.6h1.1M268.1 259.7h1.1M261.3 255.8h1.1M261.8 259.2h1.1M264.4 261.9h1.1M263.1 260.3h1.1M263.6 258.7h1.1M268.9 260.1h1.1M267.5 256.8h1.1M272.8 257.6h1.1M272.4 255.7h1.1M258.8 258.9h1.1M260.3 256.5h1.1M274.9 258.1h1.1M271.2 259.8h1.1M271.0 257.1h1.1M267.4 262.3h1.1M270.3 259.6h1.1M261.3 259.4h1.1M264.1 259.8h1.1M270.9 252.1h1.1M263.5 259.7h1.1M266.9 256.6h1.1M265.2 259.4h1.1M260.4 258.5h1.1M270.1 258.8h1.1M258.0 259.5h1.1M262.1 260.1h1.1M265.3 261.4h1.1M260.3 263.4h1.1M267.1 261.0h1.1M267.1 260.9h1.1M268.6 254.9h1.1M254.6 262.2h1.1M256.1 265.2h1.1M267.2 260.0h1.1M269.3 254.3h1.1M267.0 254.0h1.1M267.1 260.7h1.1M263.7 255.1h1.1M268.5 257.0h1.1M257.9 254.4h1.1M262.7 258.2h1.1M272.6 256.1h1.1M257.5 261.6h1.1M265.1 252.0h1.1M262.1 261.1h1.1M260.7 260.3h1.1M262.4 256.9h1.1M258.8 261.7h1.1M273.3 259.1h1.1M266.0 260.9h1.1M267.7 259.9h1.1M260.1 261.5h1.1M264.2 258.5h1.1M264.6 261.4h1.1M265.6 257.5h1.1M260.1 258.9h1.1M265.7 256.9h1.1M263.1 259.5h1.1M274.7 256.6h1.1M269.6 263.0h1.1M265.3 258.8h1.1M257.1 261.0h1.1M264.3 261.6h1.1M257.1 262.9h1.1M261.8 260.8h1.1M260.6 259.0h1.1M268.8 261.8h1.1M264.9 258.7h1.1M258.3 265.8h1.1M261.8 254.2h1.1M275.7 252.2h1.1M263.1 260.8h1.1M288.2 254.8h1.1M273.6 257.8h1.1M269.0 255.7h1.1M264.3 258.5h1.1M274.0 256.7h1.1M269.8 256.7h1.1M268.2 262.1h1.1M266.6 262.3h1.1M264.7 253.2h1.1M263.9 262.5h1.1M264.8 252.3h1.1M256.1 272.2h1.1M258.7 262.5h1.1M251.9 261.2h1.1M270.0 258.1h1.1M251.9 263.6h1.1M260.6 253.2h1.1M256.2 268.1h1.1M255.9 259.5h1.1M259.4 267.0h1.1M265.0 260.1h1.1M270.2 261.3h1.1M266.0 264.7h1.1M268.6 262.5h1.1M256.1 254.6h1.1M270.5 259.7h1.1M271.3 249.2h1.1M267.7 250.9h1.1M262.6 260.3h1.1M253.7 262.9h1.1M257.8 259.6h1.1M257.7 270.8h1.1M283.2 254.8h1.1M258.5 253.6h1.1M264.1 262.5h1.1M261.5 264.1h1.1M269.2 270.2h1.1M264.8 259.8h1.1M273.0 254.6h1.1M262.5 255.8h1.1M268.3 258.9h1.1M258.2 263.9h1.1M251.3 271.2h1.1M245.2 265.9h1.1M265.3 246.9h1.1M266.1 253.5h1.1M266.8 260.5h1.1M251.4 269.2h1.1M262.9 259.6h1.1M261.6 262.7h1.1M264.0 256.3h1.1M279.5 255.5h1.1M272.1 256.6h1.1M260.3 257.4h1.1M257.4 265.1h1.1M272.7 258.2h1.1M259.7 260.5h1.1M255.6 258.4h1.1M265.4 262.3h1.1M266.6 263.1h1.1M260.0 259.3h1.1M266.8 265.0h1.1M259.6 262.9h1.1M270.0 256.1h1.1M254.5 262.2h1.1M260.3 252.9h1.1M260.5 263.8h1.1M268.5 253.4h1.1M283.3 264.0h1.1M257.3 263.5h1.1M268.0 261.3h1.1M277.6 253.7h1.1M273.8 249.1h1.1M257.2 258.1h1.1M266.6 252.6h1.1M266.6 259.5h1.1M282.5 249.8h1.1M263.8 259.2h1.1M267.5 263.5h1.1M255.8 264.1h1.1M267.5 260.4h1.1M265.2 255.1h1.1M254.7 261.3h1.1M252.6 272.0h1.1M249.8 262.4h1.1M261.5 258.3h1.1M265.5 267.5h1.1M277.1 263.5h1.1M266.8 254.0h1.1M261.4 258.4h1.1M253.1 264.5h1.1M264.0 258.2h1.1M258.0 263.1h1.1M262.6 264.5h1.1M269.1 263.5h1.1M267.9 257.8h1.1M251.2 271.2h1.1M255.1 262.3h1.1M268.8 262.1h1.1M268.5 268.0h1.1M280.0 251.9h1.1M270.5 258.1h1.1M268.9 251.4h1.1M262.2 259.1h1.1M254.7 272.0h1.1M265.5 261.4h1.1M252.7 269.4h1.1M256.7 264.7h1.1M266.1 253.5h1.1M258.9 264.2h1.1M264.4 252.7h1.1M267.8 257.4h1.1M255.3 262.7h1.1M261.7 271.3h1.1M262.2 260.1h1.1M262.1 263.1h1.1M256.3 259.6h1.1M278.6 251.4h1.1M270.4 257.4h1.1M272.7 256.9h1.1M278.9 251.5h1.1M268.9 252.9h1.1M268.0 264.7h1.1M260.6 270.8h1.1M251.2 274.5h1.1M274.6 255.3h1.1M250.5 258.0h1.1M268.8 255.8h1.1M285.2 260.2h1.1M238.9 271.4h1.1M259.5 267.5h1.1M268.6 256.6h1.1M245.4 273.4h1.1M252.9 263.2h1.1M250.9 272.1h1.1M264.7 268.3h1.1M230.3 267.0h1.1M276.2 234.4h1.1M261.5 273.3h1.1M249.5 257.2h1.1M277.9 255.5h1.1M264.7 260.1h1.1M253.4 263.1h1.1M264.6 266.7h1.1M261.6 254.4h1.1M252.5 264.2h1.1M272.3 256.4h1.1M275.6 263.9h1.1M282.8 265.4h1.1M250.0 274.6h1.1M266.8 247.9h1.1M270.4 252.6h1.1M268.3 263.6h1.1M257.3 256.2h1.1M277.9 261.0h1.1M240.5 259.6h1.1M265.4 258.7h1.1M256.5 256.5h1.1M252.0 260.7h1.1M250.2 264.8h1.1M269.5 278.1h1.1M276.6 243.1h1.1M253.2 269.7h1.1M263.8 266.9h1.1M267.6 249.3h1.1M244.2 262.0h1.1M246.2 272.4h1.1M243.3 276.9h1.1M286.6 278.0h1.1M271.0 269.2h1.1M257.5 274.7h1.1M263.1 272.4h1.1M275.1 273.5h1.1M241.4 263.6h1.1M250.6 263.4h1.1M217.6 256.7h1.1M215.7 255.8h1.1M217.9 265.7h1.1M240.5 263.9h1.1M215.7 254.4h1.1M251.9 257.2h1.1M210.6 262.1h1.1M218.8 254.4h1.1M210.5 265.4h1.1M237.1 263.2h1.1M217.3 262.2h1.1M246.9 252.0h1.1M213.9 260.0h1.1M225.5 262.3h1.1M213.8 272.0h1.1M209.3 255.2h1.1M232.5 260.5h1.1M223.3 256.7h1.1M221.9 251.3h1.1M239.5 248.2h1.1M248.0 262.9h1.1M223.3 262.9h1.1M254.9 252.8h1.1M204.2 258.6h1.1M211.0 257.6h1.1M257.6 260.7h1.1M248.2 261.8h1.1M210.7 261.0h1.1M220.9 256.1h1.1M229.4 262.7h1.1M233.9 264.4h1.1M252.9 265.8h1.1M234.9 258.3h1.1M235.5 259.7h1.1M204.1 259.7h1.1M218.4 259.7h1.1M223.0 245.9h1.1M229.2 268.5h1.1M248.5 265.2h1.1M214.5 254.0h1.1M225.8 258.7h1.1M258.4 258.7h1.1M245.4 266.5h1.1M237.2 257.0h1.1M207.9 260.6h1.1M211.2 267.7h1.1M242.1 250.9h1.1M238.4 256.9h1.1M252.8 277.4h1.1M248.9 265.1h1.1M234.0 262.6h1.1M239.5 254.6h1.1M201.8 262.9h1.1M249.0 258.0h1.1M203.6 260.7h1.1M231.6 265.4h1.1M255.4 252.9h1.1M218.9 266.0h1.1M235.9 258.7h1.1M244.3 266.8h1.1M230.2 262.5h1.1M198.6 254.2h1.1M240.8 261.1h1.1M248.9 256.4h1.1M237.2 262.0h1.1M201.5 259.5h1.1M233.1 260.4h1.1M234.5 259.6h1.1M235.4 260.5h1.1M235.2 269.1h1.1M204.2 265.8h1.1M226.0 251.4h1.1M260.4 257.0h1.1M209.0 260.3h1.1M199.7 264.8h1.1M229.0 245.9h1.1M259.2 255.4h1.1M253.3 259.9h1.1M212.1 266.1h1.1M218.0 265.8h1.1M252.2 267.3h1.1M225.3 256.4h1.1M215.0 261.7h1.1M220.5 261.9h1.1M246.2 265.5h1.1M213.1 255.7h1.1M199.7 258.8h1.1M216.0 259.3h1.1M229.0 259.7h1.1M214.7 252.3h1.1M203.5 263.1h1.1M238.4 258.2h1.1M223.0 252.4h1.1M242.6 262.8h1.1M215.5 267.7h1.1M203.4 249.3h1.1M262.7 259.2h1.1M232.2 261.3h1.1M231.7 251.1h1.1M216.5 261.3h1.1M202.6 262.5h1.1M213.2 265.8h1.1M231.9 266.8h1.1M261.1 256.1h1.1M249.5 259.5h1.1M207.2 259.3h1.1M223.9 261.5h1.1M247.2 263.2h1.1M251.2 261.1h1.1M239.1 262.2h1.1M197.6 259.1h1.1M243.7 261.1h1.1M251.5 254.8h1.1M246.7 255.5h1.1M213.8 255.0h1.1M231.3 256.9h1.1M217.7 270.4h1.1M233.0 266.2h1.1M243.4 259.5h1.1M251.2 248.2h1.1M249.0 255.5h1.1M233.6 256.5h1.1M251.2 263.0h1.1M231.9 261.7h1.1M245.6 255.2h1.1M226.1 258.1h1.1M203.4 247.9h1.1M212.4 262.2h1.1M224.5 260.7h1.1M226.4 262.6h1.1M220.4 259.2h1.1M252.8 263.4h1.1M257.0 264.5h1.1M238.5 266.2h1.1M228.3 260.1h1.1M236.4 252.2h1.1M230.2 267.0h1.1M208.9 253.5h1.1M250.1 268.6h1.1M227.4 255.7h1.1M207.0 262.2h1.1M209.0 260.1h1.1M211.4 270.1h1.1M261.2 285.3h1.1M215.7 270.3h1.1M208.3 252.2h1.1M236.6 269.3h1.1M243.6 270.9h1.1M252.6 263.8h1.1M227.7 274.8h1.1M231.6 264.1h1.1M205.4 257.0h1.1M245.7 256.4h1.1M227.7 274.2h1.1M238.4 274.3h1.1M225.6 269.4h1.1M203.3 257.2h1.1M252.0 272.5h1.1M216.3 281.2h1.1M221.5 269.1h1.1M232.6 266.6h1.1M224.5 261.4h1.1M230.3 269.1h1.1M235.4 270.0h1.1M207.8 262.1h1.1M232.6 282.3h1.1M222.2 267.3h1.1M238.8 268.3h1.1M254.4 264.3h1.1M223.1 282.9h1.1M235.9 272.7h1.1M188.9 267.1h1.1M229.0 260.3h1.1M237.0 274.6h1.1M222.2 259.1h1.1M238.5 246.8h1.1M231.0 264.6h1.1M248.5 269.2h1.1M223.3 301.2h1.1M216.5 301.3h1.1M229.4 291.2h1.1M218.2 312.3h1.1M208.1 321.5h1.1M233.9 289.2h1.1M210.9 310.6h1.1M202.9 314.0h1.1M205.5 318.4h1.1M216.3 317.2h1.1M203.3 309.7h1.1M203.3 309.2h1.1M244.1 297.3h1.1M256.1 322.6h1.1M249.2 323.1h1.1M255.4 303.1h1.1M209.8 320.7h1.1M278.8 295.4h1.1M263.9 281.8h1.1M245.1 315.3h1.1"/>
<path d="M263.3 260.4h1.1M255.5 264.6h1.1M257.0 260.2h1.1M275.0 256.9h1.1M263.3 256.6h1.1M263.0 257.7h1.1M260.5 258.7h1.1M270.6 255.2h1.1M269.2 257.5h1.1M265.0 259.6h1.1M265.1 260.0h1.1M264.0 256.5h1.1M266.3 257.5h1.1M266.9 256.8h1.1M265.5 262.9h1.1M260.8 254.6h1.1M257.7 260.7h1.1M256.8 262.7h1.1M269.8 262.4h1.1M265.3 259.8h1.1M268.7 261.8h1.1M266.4 261.5h1.1M267.5 257.0h1.1M265.7 264.8h1.1M271.6 254.0h1.1M271.1 257.1h1.1M261.1 263.1h1.1M257.6 261.4h1.1M262.8 257.4h1.1M255.2 261.2h1.1M258.2 262.8h1.1M266.6 265.0h1.1M266.2 257.9h1.1M264.3 262.2h1.1M257.2 262.2h1.1M265.4 262.2h1.1M266.3 258.9h1.1M264.4 256.6h1.1M260.6 260.3h1.1M274.6 257.9h1.1M263.3 262.1h1.1M263.0 258.3h1.1M265.6 261.5h1.1M266.4 261.8h1.1M257.2 263.9h1.1M263.3 257.3h1.1M261.8 257.4h1.1M272.0 255.0h1.1M259.9 257.8h1.1M268.2 255.9h1.1M269.1 259.3h1.1M269.8 259.4h1.1M275.4 254.4h1.1M268.6 260.8h1.1M263.1 261.6h1.1M272.8 259.5h1.1M262.4 257.5h1.1M275.2 253.6h1.1M260.1 266.0h1.1M269.0 258.0h1.1M265.8 259.5h1.1M270.9 259.5h1.1M259.9 260.2h1.1M266.9 258.5h1.1M256.1 262.2h1.1M271.0 255.8h1.1M270.9 254.8h1.1M271.8 254.1h1.1M262.4 261.6h1.1M248.5 265.2h1.1M267.9 261.0h1.1M265.3 261.7h1.1M262.8 258.5h1.1M270.2 259.3h1.1M265.1 259.4h1.1M263.5 258.7h1.1M257.2 258.8h1.1M269.3 261.2h1.1M256.7 257.6h1.1M266.2 260.5h1.1M269.9 265.6h1.1M270.5 254.4h1.1M271.5 253.1h1.1M269.6 261.8h1.1M263.8 259.0h1.1M263.3 259.0h1.1M268.3 252.5h1.1M275.7 256.4h1.1M268.2 258.3h1.1M259.8 264.7h1.1M268.1 262.6h1.1M262.6 258.2h1.1M261.5 260.1h1.1M265.5 259.9h1.1M261.7 257.1h1.1M269.1 259.6h1.1M267.4 255.1h1.1M260.9 260.4h1.1M263.9 261.6h1.1M264.9 255.6h1.1M265.1 260.5h1.1M260.4 260.3h1.1M260.7 257.1h1.1M264.7 261.3h1.1M258.2 258.3h1.1M267.6 257.6h1.1M255.8 257.0h1.1M258.0 260.5h1.1M266.3 258.8h1.1M271.3 260.8h1.1M266.3 260.6h1.1M272.2 256.6h1.1M263.8 260.7h1.1M264.4 260.5h1.1M254.3 266.2h1.1M264.7 261.0h1.1M255.6 258.9h1.1M273.8 250.4h1.1M256.4 259.7h1.1M265.8 261.1h1.1M262.9 261.0h1.1M255.6 256.9h1.1M259.3 263.8h1.1M262.3 266.0h1.1M259.8 261.3h1.1M272.5 258.7h1.1M268.0 260.7h1.1M259.1 258.0h1.1M261.2 260.5h1.1M268.9 257.2h1.1M269.2 256.5h1.1M268.5 267.5h1.1M267.1 258.0h1.1M270.8 259.3h1.1M263.8 256.4h1.1M262.5 260.7h1.1M267.7 258.4h1.1M267.6 256.7h1.1M262.3 260.5h1.1M267.4 261.4h1.1M265.7 261.4h1.1M257.8 264.9h1.1M255.5 264.1h1.1M261.2 260.0h1.1M262.7 256.1h1.1M264.2 259.5h1.1M261.0 256.0h1.1M254.5 259.4h1.1M267.7 256.6h1.1M256.3 264.1h1.1M272.6 256.9h1.1M268.7 258.9h1.1M272.0 255.9h1.1M270.5 255.2h1.1M265.8 260.0h1.1M265.9 260.9h1.1M263.5 259.9h1.1M263.8 262.9h1.1M257.4 263.2h1.1M256.0 258.4h1.1M261.2 258.4h1.1M270.3 267.0h1.1M274.1 259.0h1.1M259.9 254.7h1.1M262.8 258.2h1.1M264.3 258.3h1.1M263.1 261.6h1.1M274.1 256.3h1.1M268.7 259.7h1.1M260.2 262.3h1.1M264.4 260.3h1.1M267.4 258.1h1.1M263.7 260.8h1.1M278.3 256.5h1.1M260.3 262.8h1.1M256.5 261.5h1.1M260.9 261.0h1.1M260.3 258.0h1.1M249.4 261.8h1.1M262.1 257.7h1.1M261.6 260.1h1.1M263.8 262.1h1.1M261.9 261.1h1.1M266.3 259.1h1.1M259.2 260.6h1.1M267.9 255.8h1.1M267.3 260.2h1.1M266.9 253.8h1.1M267.5 259.1h1.1M258.8 262.2h1.1M263.7 266.7h1.1M265.9 259.6h1.1M262.3 259.0h1.1M259.8 259.7h1.1M262.1 260.7h1.1M266.2 261.5h1.1M266.5 260.4h1.1M272.8 261.8h1.1M267.4 259.8h1.1M260.1 259.8h1.1M269.1 256.0h1.1M271.8 254.3h1.1M255.2 254.8h1.1M265.8 257.3h1.1M255.4 260.3h1.1M270.1 254.7h1.1M262.1 260.7h1.1M262.2 258.4h1.1M261.9 258.9h1.1M264.9 256.2h1.1M265.6 262.6h1.1M259.5 266.5h1.1M263.0 259.5h1.1M268.2 257.8h1.1M274.7 255.9h1.1M267.0 259.4h1.1M264.9 258.0h1.1M268.2 255.4h1.1M271.3 259.6h1.1M259.6 262.8h1.1M260.8 259.4h1.1M261.7 262.4h1.1M264.2 259.6h1.1M262.1 261.8h1.1M264.4 260.3h1.1M266.8 256.3h1.1M269.2 255.8h1.1M267.9 258.3h1.1M265.6 254.7h1.1M262.7 263.6h1.1M270.9 254.9h1.1M271.9 255.1h1.1M264.5 260.5h1.1M253.8 259.3h1.1M260.9 259.8h1.1M267.2 260.0h1.1M267.1 257.9h1.1M265.2 261.0h1.1M262.4 258.3h1.1M266.7 259.1h1.1M273.0 253.0h1.1M268.5 257.3h1.1M273.8 255.7h1.1M265.7 264.6h1.1M265.1 257.4h1.1M275.0 258.0h1.1M265.9 265.6h1.1M261.1 259.0h1.1M259.7 263.1h1.1M264.5 261.1h1.1M264.5 252.2h1.1M272.6 257.8h1.1M266.5 255.5h1.1M261.5 260.0h1.1M269.2 259.8h1.1M273.5 258.0h1.1M270.0 253.6h1.1M260.3 258.9h1.1M270.2 259.2h1.1M263.1 260.5h1.1M275.8 254.7h1.1M276.0 256.0h1.1M261.6 261.0h1.1M269.7 256.5h1.1M254.7 260.8h1.1M262.0 257.7h1.1M267.9 257.6h1.1M273.5 254.1h1.1M264.6 258.8h1.1M266.8 262.0h1.1M262.9 260.5h1.1M268.4 256.4h1.1M265.1 260.1h1.1M263.9 257.5h1.1M264.9 259.3h1.1M273.9 260.4h1.1M259.7 258.0h1.1M267.8 259.1h1.1M273.0 258.3h1.1M268.4 257.1h1.1M268.8 257.5h1.1M262.9 258.2h1.1M273.9 256.5h1.1M268.2 259.0h1.1M275.8 255.7h1.1M269.7 257.9h1.1M258.9 258.0h1.1M262.9 263.3h1.1M268.4 256.8h1.1M259.9 261.1h1.1M271.4 261.4h1.1M264.8 255.2h1.1M268.4 258.4h1.1M255.7 266.3h1.1M256.8 259.4h1.1M266.7 263.3h1.1M260.6 264.6h1.1M269.7 257.7h1.1M262.2 260.7h1.1M263.2 257.4h1.1M271.4 256.7h1.1M260.6 259.4h1.1M265.4 263.0h1.1M272.8 254.9h1.1M274.5 257.3h1.1M256.0 260.7h1.1M277.8 255.2h1.1M269.0 259.5h1.1M266.0 257.9h1.1M256.1 253.9h1.1M275.0 256.9h1.1M270.0 258.1h1.1M272.2 266.2h1.1M261.9 262.3h1.1M244.8 263.3h1.1M261.4 260.0h1.1M260.3 266.2h1.1M260.3 254.9h1.1M267.4 261.7h1.1M263.3 261.4h1.1M257.8 265.1h1.1M273.8 257.3h1.1M259.1 262.3h1.1M266.1 254.9h1.1M267.9 258.9h1.1M241.0 272.7h1.1M259.4 262.2h1.1M261.7 261.7h1.1M263.2 254.6h1.1M272.2 256.9h1.1M264.6 259.1h1.1M270.7 264.2h1.1M267.1 258.3h1.1M255.3 263.9h1.1M259.2 267.5h1.1M266.7 255.3h1.1M280.1 253.6h1.1M268.1 259.5h1.1M262.9 262.8h1.1M256.8 264.0h1.1M261.8 263.1h1.1M253.9 262.9h1.1M277.9 258.1h1.1M262.7 259.7h1.1M275.7 257.1h1.1M263.8 266.0h1.1M266.9 266.2h1.1M267.1 251.5h1.1M266.9 263.4h1.1M263.3 253.2h1.1M284.3 252.7h1.1M258.1 259.4h1.1M253.3 262.8h1.1M276.1 258.0h1.1M283.4 251.6h1.1M263.2 262.9h1.1M253.3 258.2h1.1M267.8 255.9h1.1M268.0 253.1h1.1M251.2 264.0h1.1M254.1 259.0h1.1M260.1 264.4h1.1M271.3 256.3h1.1M249.2 266.9h1.1M268.3 267.1h1.1M274.0 251.7h1.1M273.8 249.4h1.1M252.0 263.4h1.1M265.4 259.4h1.1M263.1 253.7h1.1M263.7 264.5h1.1M265.9 253.2h1.1M262.0 266.8h1.1M253.7 263.4h1.1M275.0 254.9h1.1M252.2 264.2h1.1M274.2 261.6h1.1M279.9 249.1h1.1M267.5 262.3h1.1M264.7 255.6h1.1M265.2 263.4h1.1M270.3 260.7h1.1M272.4 263.6h1.1M256.7 260.7h1.1M262.3 261.8h1.1M260.3 257.7h1.1M262.5 261.1h1.1M264.0 257.6h1.1M271.3 262.9h1.1M263.9 261.5h1.1M258.7 264.8h1.1M261.9 260.4h1.1M264.4 253.0h1.1M258.7 261.3h1.1M281.9 248.8h1.1M267.1 263.3h1.1M269.9 260.4h1.1M262.1 257.6h1.1M250.2 257.9h1.1M262.8 262.8h1.1M260.5 262.8h1.1M254.3 260.7h1.1M255.0 258.8h1.1M277.5 245.5h1.1M256.3 258.4h1.1M271.0 257.1h1.1M250.5 262.3h1.1M249.6 259.8h1.1M278.4 264.1h1.1M262.7 261.7h1.1M263.8 261.7h1.1M259.3 264.5h1.1M255.6 264.3h1.1M265.9 263.3h1.1M261.9 253.9h1.1M270.0 263.7h1.1M268.7 260.2h1.1M253.4 265.7h1.1M277.7 257.4h1.1M259.5 267.4h1.1M246.3 268.1h1.1M248.9 266.3h1.1M274.7 264.9h1.1M265.1 255.6h1.1M261.0 253.8h1.1M265.3 260.3h1.1M260.1 259.0h1.1M233.8 268.4h1.1M269.2 257.5h1.1M245.3 253.2h1.1M282.0 263.8h1.1M257.6 267.1h1.1M272.0 269.9h1.1M266.1 254.1h1.1M264.6 258.3h1.1M277.1 270.6h1.1M271.4 253.4h1.1M257.0 244.6h1.1M265.2 256.6h1.1M261.9 250.7h1.1M254.7 273.1h1.1M250.4 270.3h1.1M278.5 257.9h1.1M272.7 259.0h1.1M264.8 260.3h1.1M253.3 273.9h1.1M257.5 254.1h1.1M250.9 265.5h1.1M259.1 265.3h1.1M246.9 264.3h1.1M265.0 258.8h1.1M244.2 262.7h1.1M259.4 263.2h1.1M249.5 259.5h1.1M270.3 259.8h1.1M250.9 258.2h1.1M257.5 268.2h1.1M250.8 253.3h1.1M265.4 264.0h1.1M248.0 257.0h1.1M252.4 265.1h1.1M265.4 259.4h1.1M242.2 248.9h1.1M268.7 258.0h1.1M237.8 264.3h1.1M281.6 252.5h1.1M263.7 272.8h1.1M236.8 274.3h1.1M258.3 266.5h1.1M293.0 262.1h1.1M270.2 264.7h1.1M256.9 261.3h1.1M256.7 250.0h1.1M268.5 267.9h1.1M269.7 261.2h1.1M282.2 252.3h1.1M290.7 258.1h1.1M239.8 270.9h1.1M260.1 273.9h1.1M227.3 257.9h1.1M252.4 257.3h1.1M214.1 261.9h1.1M248.4 258.2h1.1M208.1 272.3h1.1M224.7 261.9h1.1M203.8 264.9h1.1M251.4 263.3h1.1M233.8 261.4h1.1M233.3 253.9h1.1M234.4 256.3h1.1M213.2 254.3h1.1M242.9 252.3h1.1M220.7 258.3h1.1M223.2 261.7h1.1M223.1 257.8h1.1M213.0 249.3h1.1M204.8 248.7h1.1M246.4 255.4h1.1M254.9 256.7h1.1M226.9 250.8h1.1M252.4 262.4h1.1M231.5 254.8h1.1M262.2 256.9h1.1M213.6 259.1h1.1M250.8 265.4h1.1M244.7 260.0h1.1M218.0 258.2h1.1M226.1 259.8h1.1M202.6 254.7h1.1M220.7 267.2h1.1M228.0 259.4h1.1M226.4 248.3h1.1M206.4 261.5h1.1M218.1 270.7h1.1M208.2 270.7h1.1M231.4 262.9h1.1M240.9 254.1h1.1M204.5 271.1h1.1M224.9 257.5h1.1M224.0 262.3h1.1M235.3 262.6h1.1M215.7 257.7h1.1M235.8 264.8h1.1M222.4 258.2h1.1M207.8 272.9h1.1M211.0 266.7h1.1M251.9 274.5h1.1M257.5 264.6h1.1M250.8 267.4h1.1M202.3 255.4h1.1M209.5 267.8h1.1M255.2 260.9h1.1M212.3 263.4h1.1M213.9 262.7h1.1M237.4 258.1h1.1M228.8 261.8h1.1M238.3 251.3h1.1M257.6 267.2h1.1M235.5 263.3h1.1M218.9 267.3h1.1M229.3 266.0h1.1M260.3 263.7h1.1M220.4 255.5h1.1M224.0 269.2h1.1M218.3 250.5h1.1M215.7 264.5h1.1M231.6 262.6h1.1M246.1 252.7h1.1M233.4 262.2h1.1M215.1 266.9h1.1M256.5 255.8h1.1M202.7 248.8h1.1M242.3 268.2h1.1M205.4 266.3h1.1M235.2 272.5h1.1M244.4 258.5h1.1M214.5 263.4h1.1M252.4 256.0h1.1M251.0 265.6h1.1M254.6 261.4h1.1M201.9 260.2h1.1M246.6 262.9h1.1M214.6 263.2h1.1M237.9 257.4h1.1M256.1 255.2h1.1M260.6 261.7h1.1M257.5 256.5h1.1M265.3 261.5h1.1M214.2 255.8h1.1M216.4 259.4h1.1M239.7 262.8h1.1M220.9 253.8h1.1M219.3 264.2h1.1M231.6 259.5h1.1M254.3 254.9h1.1M217.3 265.4h1.1M231.2 257.6h1.1M230.0 257.4h1.1M232.7 244.8h1.1M219.2 264.2h1.1M242.7 260.7h1.1M238.8 257.0h1.1M247.3 246.6h1.1M217.8 256.2h1.1M209.2 260.7h1.1M217.5 261.9h1.1M235.9 261.0h1.1M223.9 266.8h1.1M221.6 265.6h1.1M230.3 264.5h1.1M203.0 261.6h1.1M247.0 255.8h1.1M240.4 259.5h1.1M205.5 260.0h1.1M261.4 261.4h1.1M221.3 262.6h1.1M247.1 259.8h1.1M197.9 270.3h1.1M253.9 259.6h1.1M227.1 260.0h1.1M254.9 272.9h1.1M245.8 255.4h1.1M249.8 257.0h1.1M205.6 261.8h1.1M235.1 257.4h1.1M214.6 259.3h1.1M236.1 264.6h1.1M213.0 251.8h1.1M259.7 254.7h1.1M244.7 254.6h1.1M206.7 265.2h1.1M225.1 260.6h1.1M202.6 261.2h1.1M212.8 266.0h1.1M207.3 266.6h1.1M248.7 258.8h1.1M229.2 249.6h1.1M256.1 257.4h1.1M209.7 253.5h1.1M211.5 262.9h1.1M241.9 262.2h1.1M244.4 268.7h1.1M247.9 255.3h1.1M243.7 261.8h1.1M220.2 284.9h1.1M232.3 264.8h1.1M245.5 270.8h1.1M204.6 270.7h1.1M261.0 275.3h1.1M230.2 277.3h1.1M216.1 282.0h1.1M197.5 265.5h1.1M243.1 261.2h1.1M246.8 277.0h1.1M215.5 258.8h1.1M228.9 270.5h1.1M209.5 279.6h1.1M221.6 257.1h1.1M233.3 253.8h1.1M201.3 265.7h1.1M248.7 258.1h1.1M231.6 273.8h1.1M271.5 262.4h1.1M213.1 271.8h1.1M228.5 274.2h1.1M249.4 273.9h1.1M235.0 265.1h1.1M239.5 263.9h1.1M262.2 281.6h1.1M253.0 269.5h1.1M248.5 269.0h1.1M226.9 268.4h1.1M209.7 269.2h1.1M242.9 271.4h1.1M186.6 254.2h1.1M219.5 270.7h1.1M255.3 271.5h1.1M232.6 274.6h1.1M241.6 263.1h1.1M222.0 303.9h1.1M203.1 320.1h1.1M217.9 321.5h1.1M209.6 329.9h1.1M229.1 288.0h1.1M230.7 294.8h1.1M231.9 292.8h1.1M208.9 309.8h1.1M219.1 299.8h1.1M236.3 276.3h1.1M222.7 297.4h1.1M211.1 313.4h1.1M252.8 292.6h1.1M252.4 296.1h1.1M255.9 321.5h1.1M248.8 309.2h1.1M224.9 271.6h1.1M252.8 265.5h1.1M233.3 292.4h1.1M205.9 314.6h1.1"/>
<path d="M258.9 264.2h1.1M263.9 262.4h1.1M262.7 261.0h1.1M251.2 263.8h1.1M259.5 259.7h1.1M256.5 259.5h1.1M263.8 255.1h1.1M267.8 262.5h1.1M266.6 260.5h1.1M267.2 256.4h1.1M270.6 260.1h1.1M261.5 261.0h1.1M265.5 260.6h1.1M271.4 253.8h1.1M270.1 261.6h1.1M261.5 263.4h1.1M255.8 258.4h1.1M265.7 253.2h1.1M261.9 259.7h1.1M259.8 260.4h1.1M262.1 257.7h1.1M266.1 256.7h1.1M264.2 253.3h1.1M265.7 255.5h1.1M262.1 258.2h1.1M271.2 257.6h1.1M257.8 264.3h1.1M266.3 256.6h1.1M265.3 260.3h1.1M258.4 261.1h1.1M257.1 264.1h1.1M269.8 258.3h1.1M265.2 264.8h1.1M257.3 259.1h1.1M247.9 259.5h1.1M262.3 259.6h1.1M253.0 263.2h1.1M267.9 256.3h1.1M271.3 257.6h1.1M261.8 258.3h1.1M276.8 252.8h1.1M265.1 260.9h1.1M261.0 263.8h1.1M263.9 259.3h1.1M267.0 254.7h1.1M262.2 261.7h1.1M258.4 259.6h1.1M262.0 261.7h1.1M266.0 262.9h1.1M265.1 257.3h1.1M250.9 266.7h1.1M268.9 261.1h1.1M261.2 263.1h1.1M261.7 257.1h1.1M265.5 253.6h1.1M271.5 259.5h1.1M260.5 261.3h1.1M266.3 256.6h1.1M273.7 256.1h1.1M268.2 257.2h1.1M266.1 257.3h1.1M276.1 255.1h1.1M264.2 262.6h1.1M266.2 258.1h1.1M265.2 254.7h1.1M262.6 256.3h1.1M260.5 261.9h1.1M263.8 264.4h1.1M252.0 262.8h1.1M269.2 257.1h1.1M263.9 256.1h1.1M267.7 254.9h1.1M251.2 268.4h1.1M262.0 262.9h1.1M261.4 260.1h1.1M263.3 258.3h1.1M254.9 257.7h1.1M269.8 259.5h1.1M263.2 255.9h1.1M263.8 257.5h1.1M267.2 256.1h1.1M256.0 264.3h1.1M259.9 256.0h1.1M266.9 260.8h1.1M270.8 255.6h1.1M265.0 260.0h1.1M261.3 260.2h1.1M266.3 254.3h1.1M264.7 258.8h1.1M260.5 266.5h1.1M259.6 257.2h1.1M261.2 258.1h1.1M265.2 260.3h1.1M265.8 260.7h1.1M263.7 261.0h1.1M265.2 257.7h1.1M258.5 260.5h1.1M268.1 256.2h1.1M264.4 256.8h1.1M262.1 259.0h1.1M263.8 260.7h1.1M256.7 260.3h1.1M261.2 260.4h1.1M263.8 262.2h1.1M256.5 261.6h1.1M266.6 260.0h1.1M267.6 255.7h1.1M260.1 255.2h1.1M261.2 262.6h1.1M261.7 258.4h1.1M267.2 259.8h1.1M270.4 258.1h1.1M261.7 259.1h1.1M270.9 262.3h1.1M270.6 252.3h1.1M265.2 268.1h1.1M267.6 261.3h1.1M260.5 263.9h1.1M263.8 260.5h1.1M258.2 256.8h1.1M264.5 262.9h1.1M263.3 259.1h1.1M269.0 254.7h1.1M272.9 255.7h1.1M264.0 260.3h1.1M258.5 253.5h1.1M266.2 259.7h1.1M261.6 259.3h1.1M249.1 264.6h1.1M271.4 262.4h1.1M259.6 259.8h1.1M259.7 259.6h1.1M263.8 259.6h1.1M266.8 261.8h1.1M265.9 258.4h1.1M269.7 256.1h1.1M255.8 256.1h1.1M262.9 258.4h1.1M266.9 258.5h1.1M258.9 264.3h1.1M263.9 257.7h1.1M267.4 257.6h1.1M260.7 259.7h1.1M262.9 263.0h1.1M266.2 259.1h1.1M263.3 254.8h1.1M267.1 259.9h1.1M264.5 255.3h1.1M268.1 261.4h1.1M262.3 258.2h1.1M265.1 256.5h1.1M262.7 258.6h1.1M267.4 258.6h1.1M271.8 256.6h1.1M273.1 257.7h1.1M261.7 255.5h1.1M262.9 262.8h1.1M259.2 262.9h1.1M260.9 263.2h1.1M268.3 261.7h1.1M264.9 257.8h1.1M260.3 260.4h1.1M249.8 262.1h1.1M259.9 259.8h1.1M263.9 257.9h1.1M274.3 258.7h1.1M264.8 258.1h1.1M265.6 260.0h1.1M266.0 259.8h1.1M271.6 250.1h1.1M260.2 261.2h1.1M264.3 256.0h1.1M265.4 265.6h1.1M268.2 262.0h1.1M270.9 260.6h1.1M273.5 253.9h1.1M265.7 257.8h1.1M254.0 259.6h1.1M269.9 254.3h1.1M267.1 257.8h1.1M268.5 253.7h1.1M264.7 256.9h1.1M264.0 257.2h1.1M272.1 252.4h1.1M266.9 252.6h1.1M272.2 257.9h1.1M257.1 260.5h1.1M261.0 259.5h1.1M267.6 258.1h1.1M258.0 260.5h1.1M261.9 259.0h1.1M265.6 259.0h1.1M262.7 258.8h1.1M265.1 258.2h1.1M265.2 259.5h1.1M254.8 259.5h1.1M259.7 259.7h1.1M264.0 261.8h1.1M264.8 258.3h1.1M253.0 258.2h1.1M266.0 257.7h1.1M256.3 261.6h1.1M271.1 259.6h1.1M257.7 260.4h1.1M264.4 259.3h1.1M259.6 263.3h1.1M265.1 257.6h1.1M266.8 257.5h1.1M272.2 252.6h1.1M261.7 256.8h1.1M263.8 256.7h1.1M264.5 259.9h1.1M268.2 260.5h1.1M266.2 261.1h1.1M267.7 259.8h1.1M264.2 260.3h1.1M270.8 256.2h1.1M271.3 259.7h1.1M268.5 258.6h1.1M262.8 258.2h1.1M269.0 255.8h1.1M263.9 257.9h1.1M268.1 259.0h1.1M267.2 261.5h1.1M264.0 262.4h1.1M263.5 259.8h1.1M256.1 259.7h1.1M258.8 259.8h1.1M265.8 256.6h1.1M272.2 257.4h1.1M268.5 259.8h1.1M260.9 263.6h1.1M262.1 258.4h1.1M261.4 259.3h1.1M271.5 257.6h1.1M273.9 253.7h1.1M269.2 259.9h1.1M262.6 262.0h1.1M268.4 253.4h1.1M261.1 258.0h1.1M267.4 257.7h1.1M258.6 264.1h1.1M266.1 256.3h1.1M256.7 263.6h1.1M268.9 255.0h1.1M266.8 262.8h1.1M261.7 261.6h1.1M260.6 262.2h1.1M260.1 262.7h1.1M276.4 254.6h1.1M251.6 265.0h1.1M268.3 258.4h1.1M263.4 258.4h1.1M268.7 257.2h1.1M267.4 259.1h1.1M263.3 258.3h1.1M253.1 255.4h1.1M257.7 262.5h1.1M257.1 260.1h1.1M273.0 259.2h1.1M259.8 263.8h1.1M265.8 258.7h1.1M271.3 254.7h1.1M261.1 255.5h1.1M268.6 259.0h1.1M259.5 260.8h1.1M266.1 258.4h1.1M266.2 261.2h1.1M266.5 254.1h1.1M257.5 263.6h1.1M263.6 262.1h1.1M266.0 259.9h1.1M265.3 259.7h1.1M262.3 262.6h1.1M261.5 264.7h1.1M261.8 257.5h1.1M264.4 261.2h1.1M257.9 262.2h1.1M258.2 261.4h1.1M264.1 260.4h1.1M263.6 261.6h1.1M259.0 259.5h1.1M262.9 266.5h1.1M265.7 260.5h1.1M267.8 256.2h1.1M268.9 256.4h1.1M268.2 259.8h1.1M262.5 257.2h1.1M270.2 260.7h1.1M266.8 255.5h1.1M251.6 261.8h1.1M261.2 266.1h1.1M263.6 262.7h1.1M263.4 262.9h1.1M259.4 261.1h1.1M252.0 256.3h1.1M260.7 258.6h1.1M259.0 260.6h1.1M268.1 258.0h1.1M267.5 252.4h1.1M275.0 254.0h1.1M261.9 255.5h1.1M268.9 259.9h1.1M264.1 260.0h1.1M266.6 261.4h1.1M266.7 262.9h1.1M244.6 268.4h1.1M263.1 256.1h1.1M268.4 266.7h1.1M256.8 261.6h1.1M274.7 261.3h1.1M256.9 266.5h1.1M247.9 266.8h1.1M258.6 260.0h1.1M255.4 256.9h1.1M266.1 259.7h1.1M265.0 256.1h1.1M251.1 264.8h1.1M253.1 270.1h1.1M258.3 260.4h1.1M257.8 260.5h1.1M264.1 256.3h1.1M267.4 261.5h1.1M278.3 251.0h1.1M263.8 255.3h1.1M263.8 260.7h1.1M266.9 258.8h1.1M268.9 251.0h1.1M259.9 266.0h1.1M267.7 260.3h1.1M254.7 262.5h1.1M260.2 258.7h1.1M270.2 255.8h1.1M274.7 261.7h1.1M268.4 262.6h1.1M264.9 263.4h1.1M257.7 269.0h1.1M268.9 253.5h1.1M253.6 263.7h1.1M246.5 264.6h1.1M254.1 259.0h1.1M250.4 262.5h1.1M255.5 263.1h1.1M256.2 261.9h1.1M257.6 266.6h1.1M261.0 265.4h1.1M260.5 258.2h1.1M252.5 262.6h1.1M255.8 255.5h1.1M263.5 261.6h1.1M251.5 268.2h1.1M264.2 252.1h1.1M279.9 259.8h1.1M268.8 260.2h1.1M261.4 259.9h1.1M256.4 261.0h1.1M261.1 261.2h1.1M259.8 264.4h1.1M249.1 254.0h1.1M263.1 256.5h1.1M278.9 253.0h1.1M265.1 267.5h1.1M264.9 258.6h1.1M261.5 256.8h1.1M253.4 264.9h1.1M263.7 253.8h1.1M261.1 267.3h1.1M254.6 265.8h1.1M262.2 257.8h1.1M260.9 260.1h1.1M262.9 270.4h1.1M272.6 251.8h1.1M257.5 262.6h1.1M279.6 254.8h1.1M267.1 255.9h1.1M254.8 266.2h1.1M272.6 253.1h1.1M268.4 261.3h1.1M252.9 256.5h1.1M267.3 258.1h1.1M262.4 254.4h1.1M246.5 269.9h1.1M255.3 260.3h1.1M256.5 256.4h1.1M264.9 254.5h1.1M270.5 256.7h1.1M260.3 263.9h1.1M258.6 254.7h1.1M280.6 253.8h1.1M259.0 253.3h1.1M274.6 252.4h1.1M258.4 262.7h1.1M257.9 258.7h1.1M256.9 261.1h1.1M265.9 261.7h1.1M262.9 256.3h1.1M253.7 263.7h1.1M269.9 256.5h1.1M259.8 254.0h1.1M266.4 263.7h1.1M263.2 266.1h1.1M259.7 255.1h1.1M272.9 257.5h1.1M259.5 262.3h1.1M253.6 262.4h1.1M275.6 253.7h1.1M250.1 258.9h1.1M263.7 255.0h1.1M265.1 261.4h1.1M251.2 275.6h1.1M261.2 259.4h1.1M260.5 264.2h1.1M260.3 260.2h1.1M266.3 259.2h1.1M271.2 257.1h1.1M262.0 260.5h1.1M277.6 258.2h1.1M255.0 255.7h1.1M265.6 261.4h1.1M255.1 259.3h1.1M270.2 262.3h1.1M252.0 261.6h1.1M262.1 254.3h1.1M265.8 263.9h1.1M272.0 259.1h1.1M262.0 266.9h1.1M268.4 254.0h1.1M271.4 257.6h1.1M250.7 250.4h1.1M272.2 257.7h1.1M241.4 272.0h1.1M259.6 270.0h1.1M291.7 252.8h1.1M268.6 274.8h1.1M287.7 262.0h1.1M266.7 249.7h1.1M256.6 268.7h1.1M252.1 268.6h1.1M254.2 262.8h1.1M269.6 283.6h1.1M273.2 262.7h1.1M236.4 267.4h1.1M276.8 262.6h1.1M244.0 268.4h1.1M253.5 271.4h1.1M248.3 276.6h1.1M255.2 255.5h1.1M249.0 262.5h1.1M275.2 274.1h1.1M275.5 266.9h1.1M258.0 267.1h1.1M264.1 262.9h1.1M245.4 274.0h1.1M234.2 275.9h1.1M260.3 263.5h1.1M274.5 258.5h1.1M261.0 276.1h1.1M273.8 248.7h1.1M278.9 246.7h1.1M244.3 266.3h1.1M266.5 265.5h1.1M270.1 262.6h1.1M266.4 252.5h1.1M264.6 266.7h1.1M235.8 274.5h1.1M251.4 271.4h1.1M265.7 279.0h1.1M269.9 257.0h1.1M258.7 273.7h1.1M259.4 270.0h1.1M264.4 250.5h1.1M277.7 261.9h1.1M273.6 270.5h1.1M250.2 271.0h1.1M245.7 256.9h1.1M263.5 257.3h1.1M258.7 267.2h1.1M275.9 249.9h1.1M237.6 258.7h1.1M207.6 265.6h1.1M213.3 257.1h1.1M201.2 265.5h1.1M239.6 267.5h1.1M227.2 261.8h1.1M254.5 262.9h1.1M228.8 266.5h1.1M247.2 265.9h1.1M225.1 266.8h1.1M242.2 257.0h1.1M244.1 262.1h1.1M237.9 253.1h1.1M229.5 270.5h1.1M226.8 267.9h1.1M249.5 270.0h1.1M218.4 263.3h1.1M218.3 256.3h1.1M218.1 256.4h1.1M228.5 266.3h1.1M246.6 268.7h1.1M227.2 254.7h1.1M228.0 268.1h1.1M221.1 251.7h1.1M240.4 258.5h1.1M226.1 259.4h1.1M224.7 264.4h1.1M235.3 257.1h1.1M250.9 259.4h1.1M226.4 263.8h1.1M207.1 256.8h1.1M201.9 260.2h1.1M200.2 261.4h1.1M244.4 254.7h1.1M243.9 259.7h1.1M247.3 257.6h1.1M206.2 260.4h1.1M233.8 246.1h1.1M246.9 261.7h1.1M240.4 257.3h1.1M206.5 263.6h1.1M223.4 260.4h1.1M261.1 252.2h1.1M241.7 258.2h1.1M217.1 257.8h1.1M246.7 256.2h1.1M226.8 263.0h1.1M226.2 255.1h1.1M207.9 265.5h1.1M224.3 256.6h1.1M252.9 268.0h1.1M251.6 261.9h1.1M219.5 261.9h1.1M243.8 264.9h1.1M204.3 268.5h1.1M226.8 260.7h1.1M243.5 259.8h1.1M258.2 260.9h1.1M239.6 262.9h1.1M235.0 259.6h1.1M233.0 257.6h1.1M257.7 255.9h1.1M203.0 265.7h1.1M243.5 258.0h1.1M224.4 253.0h1.1M232.5 260.5h1.1M226.1 248.4h1.1M257.5 258.6h1.1M195.3 268.5h1.1M260.9 262.1h1.1M197.8 265.5h1.1M223.2 269.8h1.1M199.5 264.9h1.1M231.8 259.0h1.1M216.1 263.8h1.1M210.1 263.9h1.1M247.3 260.3h1.1M226.9 247.0h1.1M209.8 270.7h1.1M220.4 256.5h1.1M259.5 260.6h1.1M241.5 253.2h1.1M206.4 264.9h1.1M246.9 248.5h1.1M199.5 266.8h1.1M201.5 258.5h1.1M230.3 262.0h1.1M254.6 253.1h1.1M248.7 261.7h1.1M213.9 253.1h1.1M254.3 270.5h1.1M245.7 258.0h1.1M241.1 256.9h1.1M201.2 252.5h1.1M207.4 272.4h1.1M223.2 258.8h1.1M210.9 252.2h1.1M209.0 255.4h1.1M218.9 261.2h1.1M250.8 269.6h1.1M211.0 260.7h1.1M237.2 265.5h1.1M236.7 270.5h1.1M251.5 257.1h1.1M236.7 265.2h1.1M210.2 267.7h1.1M256.6 251.6h1.1M197.1 254.0h1.1M248.7 262.9h1.1M235.4 261.0h1.1M218.0 253.1h1.1M215.4 249.0h1.1M241.7 257.7h1.1M214.9 263.0h1.1M206.4 261.1h1.1M212.9 255.1h1.1M201.4 262.7h1.1M223.8 266.0h1.1M224.0 254.3h1.1M195.6 268.0h1.1M210.0 262.7h1.1M229.2 257.6h1.1M207.2 259.7h1.1M241.0 253.8h1.1M212.2 255.4h1.1M228.2 265.6h1.1M240.3 259.9h1.1M209.8 256.0h1.1M206.7 257.9h1.1M216.4 258.3h1.1M225.7 274.2h1.1M210.7 264.4h1.1M216.0 261.8h1.1M229.8 258.4h1.1M211.1 248.9h1.1M250.0 259.6h1.1M204.8 256.3h1.1M246.8 266.8h1.1M212.3 275.2h1.1M206.2 264.7h1.1M232.9 266.0h1.1M246.8 270.5h1.1M235.3 265.4h1.1M231.7 268.5h1.1M230.4 256.1h1.1M220.0 276.1h1.1M252.1 261.0h1.1M204.8 270.1h1.1M233.8 264.1h1.1M261.7 273.4h1.1M244.3 272.5h1.1M219.2 265.3h1.1M218.7 267.0h1.1M213.1 278.6h1.1M222.5 273.1h1.1M190.0 285.8h1.1M237.6 276.1h1.1M204.7 267.0h1.1M208.0 274.5h1.1M244.6 255.4h1.1M199.1 264.7h1.1M199.9 262.2h1.1M242.5 270.7h1.1M203.6 268.3h1.1M222.0 271.9h1.1M205.0 276.1h1.1M235.8 271.7h1.1M200.1 256.6h1.1M243.8 267.1h1.1M224.2 265.6h1.1M236.9 280.3h1.1M237.0 271.7h1.1M222.0 280.7h1.1M232.1 277.5h1.1M216.0 278.9h1.1M233.6 281.9h1.1M217.7 258.8h1.1M232.8 253.5h1.1M227.3 270.4h1.1M213.6 266.4h1.1M230.8 284.4h1.1M236.5 295.5h1.1M223.7 283.3h1.1M236.7 296.9h1.1M216.1 302.8h1.1M215.2 326.5h1.1M219.6 325.5h1.1M206.5 312.4h1.1M216.9 302.5h1.1M227.5 303.5h1.1M224.5 311.9h1.1M199.3 322.7h1.1M232.7 298.9h1.1M257.6 316.5h1.1M248.3 310.0h1.1M252.7 316.9h1.1M251.7 321.5h1.1M219.9 311.1h1.1M249.6 268.6h1.1M291.9 293.4h1.1M231.7 288.3h1.1"/>
<path d="M263.8 261.2h1.1M268.8 257.5h1.1M262.2 262.0h1.1M267.2 256.2h1.1M277.3 251.4h1.1M274.5 256.8h1.1M260.9 263.4h1.1M260.3 259.1h1.1M261.8 260.4h1.1M263.3 266.0h1.1M259.7 260.3h1.1M270.7 260.4h1.1M255.8 260.7h1.1M266.8 257.8h1.1M267.6 256.1h1.1M266.6 261.6h1.1M256.9 259.1h1.1M252.2 263.1h1.1M255.7 261.9h1.1M261.1 262.3h1.1M270.5 259.7h1.1M266.6 258.2h1.1M266.6 261.3h1.1M264.6 259.5h1.1M267.5 259.3h1.1M270.4 257.7h1.1M266.9 260.2h1.1M253.4 259.1h1.1M261.5 259.9h1.1M263.1 261.3h1.1M263.1 258.6h1.1M258.2 263.4h1.1M259.8 259.6h1.1M261.4 257.8h1.1M263.6 262.7h1.1M259.1 257.6h1.1M262.2 257.3h1.1M268.1 258.3h1.1M271.4 255.0h1.1M254.8 263.9h1.1M275.6 255.1h1.1M274.5 259.5h1.1M265.5 261.0h1.1M266.4 263.2h1.1M267.2 251.6h1.1M266.1 255.1h1.1M264.4 261.7h1.1M273.5 257.4h1.1M252.0 260.2h1.1M261.0 261.0h1.1M261.3 262.3h1.1M261.5 263.8h1.1M261.8 258.1h1.1M257.1 262.1h1.1M264.5 262.8h1.1M269.4 261.4h1.1M266.0 261.1h1.1M267.0 255.0h1.1M270.2 259.0h1.1M264.2 262.4h1.1M266.7 258.9h1.1M267.3 261.7h1.1M266.2 258.5h1.1M259.4 263.7h1.1M263.1 258.6h1.1M254.4 260.8h1.1M263.8 258.0h1.1M260.9 259.6h1.1M268.2 259.2h1.1M270.0 254.8h1.1M270.7 256.7h1.1M263.7 259.7h1.1M269.2 257.6h1.1M268.8 259.4h1.1M264.6 260.7h1.1M261.5 260.7h1.1M272.2 255.3h1.1M264.7 262.0h1.1M265.7 259.0h1.1M268.0 256.2h1.1M271.0 252.7h1.1M264.3 262.1h1.1M259.5 258.5h1.1M267.1 258.1h1.1M271.0 254.6h1.1M269.9 261.4h1.1M268.3 259.0h1.1M269.8 264.1h1.1M265.6 259.9h1.1M262.0 263.6h1.1M265.3 257.2h1.1M267.0 258.8h1.1M269.0 259.5h1.1M265.8 258.9h1.1M271.5 259.7h1.1M255.2 261.5h1.1M267.7 256.5h1.1M258.5 264.1h1.1M261.0 258.9h1.1M274.4 257.5h1.1M270.8 256.2h1.1M265.5 260.4h1.1M269.4 255.8h1.1M260.7 258.5h1.1M272.2 255.3h1.1M263.8 262.3h1.1M266.4 258.8h1.1M273.9 258.3h1.1M267.4 258.3h1.1M269.4 260.9h1.1M266.3 261.5h1.1M269.2 255.2h1.1M256.7 261.9h1.1M255.2 263.7h1.1M263.0 258.0h1.1M268.7 256.9h1.1M269.7 255.6h1.1M254.6 261.2h1.1M258.0 259.8h1.1M266.9 257.7h1.1M261.5 260.4h1.1M273.6 257.0h1.1M271.9 254.5h1.1M260.2 265.0h1.1M253.2 265.3h1.1M272.5 257.8h1.1M258.4 261.9h1.1M257.1 255.3h1.1M270.0 257.8h1.1M255.2 259.2h1.1M262.1 261.7h1.1M258.6 260.8h1.1M259.4 261.9h1.1M264.2 259.0h1.1M268.1 256.6h1.1M266.5 256.9h1.1M266.2 257.0h1.1M261.2 258.7h1.1M259.6 258.5h1.1M267.2 259.8h1.1M278.4 256.1h1.1M262.6 258.5h1.1M267.2 261.8h1.1M269.6 256.3h1.1M257.6 261.3h1.1M276.5 254.4h1.1M262.5 259.0h1.1M253.8 261.6h1.1M260.1 268.9h1.1M265.0 258.6h1.1M270.3 254.2h1.1M261.8 260.1h1.1M268.8 259.3h1.1M262.4 259.1h1.1M272.4 256.3h1.1M271.8 256.2h1.1M270.1 257.5h1.1M271.5 258.3h1.1M262.7 256.3h1.1M257.3 261.2h1.1M268.3 255.8h1.1M262.7 261.5h1.1M259.9 262.1h1.1M264.9 261.2h1.1M267.2 256.7h1.1M263.6 261.2h1.1M259.3 264.2h1.1M262.5 259.4h1.1M260.3 260.4h1.1M262.0 254.8h1.1M270.7 252.7h1.1M263.9 260.9h1.1M269.4 251.8h1.1M261.9 258.9h1.1M263.4 258.5h1.1M270.4 260.8h1.1M262.3 258.0h1.1M269.7 266.1h1.1M263.5 258.0h1.1M266.3 261.6h1.1M264.6 258.1h1.1M261.9 256.7h1.1M259.7 257.6h1.1M279.2 251.1h1.1M262.8 259.2h1.1M261.0 262.2h1.1M257.9 258.3h1.1M263.4 265.0h1.1M265.6 255.5h1.1M274.4 257.9h1.1M261.2 259.2h1.1M261.3 254.5h1.1M272.1 264.4h1.1M258.2 260.6h1.1M266.7 257.7h1.1M260.9 259.5h1.1M253.4 263.4h1.1M269.4 258.7h1.1M268.7 261.3h1.1M259.7 261.7h1.1M263.6 260.1h1.1M267.3 254.8h1.1M263.2 259.8h1.1M257.7 260.6h1.1M255.2 262.4h1.1M264.4 260.2h1.1M260.5 260.3h1.1M256.5 262.6h1.1M264.8 254.5h1.1M264.0 259.3h1.1M262.3 257.8h1.1M262.0 257.7h1.1M270.4 259.0h1.1M265.4 260.6h1.1M263.1 264.5h1.1M263.5 264.9h1.1M261.8 258.9h1.1M262.3 256.6h1.1M263.5 259.4h1.1M266.6 255.2h1.1M271.7 256.2h1.1M268.2 261.8h1.1M266.5 257.3h1.1M267.9 260.1h1.1M262.5 258.1h1.1M265.4 261.0h1.1M258.6 261.0h1.1M275.4 255.0h1.1M265.4 255.4h1.1M267.4 259.5h1.1M266.6 261.5h1.1M264.3 256.9h1.1M267.1 261.3h1.1M273.1 255.2h1.1M270.8 257.3h1.1M270.4 259.5h1.1M263.6 261.9h1.1M259.5 257.3h1.1M256.9 263.0h1.1M270.0 263.9h1.1M266.1 259.7h1.1M262.9 265.0h1.1M263.0 258.7h1.1M259.7 253.5h1.1M270.3 256.0h1.1M261.1 259.4h1.1M260.6 254.9h1.1M262.9 261.3h1.1M278.2 258.4h1.1M255.8 263.4h1.1M263.7 259.8h1.1M254.9 265.3h1.1M261.0 258.6h1.1M260.6 260.4h1.1M257.9 261.2h1.1M263.2 261.9h1.1M274.3 254.3h1.1M260.7 256.6h1.1M272.6 258.4h1.1M269.6 257.5h1.1M265.1 256.6h1.1M269.0 257.8h1.1M264.4 261.3h1.1M260.0 261.6h1.1M255.4 263.1h1.1M267.1 256.7h1.1M269.1 257.7h1.1M260.8 259.1h1.1M268.2 258.0h1.1M261.5 261.9h1.1M262.7 262.9h1.1M258.5 264.3h1.1M267.1 258.4h1.1M261.1 261.5h1.1M260.8 260.3h1.1M268.6 261.6h1.1M254.2 259.2h1.1M266.9 258.2h1.1M259.7 256.8h1.1M271.0 253.7h1.1M259.5 259.3h1.1M263.8 262.7h1.1M263.7 261.0h1.1M260.3 262.4h1.1M267.2 255.4h1.1M265.8 253.2h1.1M261.1 261.2h1.1M262.0 256.7h1.1M267.3 260.7h1.1M260.0 256.2h1.1M261.0 259.4h1.1M256.0 262.6h1.1M269.6 259.2h1.1M259.4 260.7h1.1M263.5 258.1h1.1M265.1 261.9h1.1M259.3 256.6h1.1M254.9 262.7h1.1M258.5 262.8h1.1M265.1 258.2h1.1M249.2 257.0h1.1M275.8 261.7h1.1M263.0 266.6h1.1M271.9 259.3h1.1M261.3 263.5h1.1M273.2 254.1h1.1M275.6 252.8h1.1M246.9 261.4h1.1M278.2 259.7h1.1M264.3 254.8h1.1M276.2 255.9h1.1M281.1 257.2h1.1M264.9 265.2h1.1M266.1 262.8h1.1M271.1 255.0h1.1M261.9 264.8h1.1M262.5 260.5h1.1M264.3 256.7h1.1M253.1 262.6h1.1M284.9 252.1h1.1M263.7 260.5h1.1M252.2 258.5h1.1M260.2 260.3h1.1M255.6 261.0h1.1M263.3 253.6h1.1M253.6 257.7h1.1M257.6 255.7h1.1M254.8 260.4h1.1M260.3 258.2h1.1M253.4 270.4h1.1M249.3 267.6h1.1M246.6 261.5h1.1M264.2 265.4h1.1M262.4 256.9h1.1M262.8 255.8h1.1M267.2 251.7h1.1M271.0 249.9h1.1M270.0 256.1h1.1M249.8 265.2h1.1M271.1 263.1h1.1M259.6 253.7h1.1M274.1 255.3h1.1M259.2 271.3h1.1M261.4 256.5h1.1M268.3 261.9h1.1M254.4 258.8h1.1M264.5 250.6h1.1M262.0 265.9h1.1M262.3 262.2h1.1M266.4 260.0h1.1M267.6 263.6h1.1M266.5 268.9h1.1M255.0 258.7h1.1M279.6 258.5h1.1M258.4 255.4h1.1M264.2 259.0h1.1M259.0 260.8h1.1M257.4 259.1h1.1M267.0 262.7h1.1M261.6 254.8h1.1M258.8 257.6h1.1M253.3 264.9h1.1M260.1 251.3h1.1M261.1 264.8h1.1M257.5 271.9h1.1M269.1 263.8h1.1M261.0 255.8h1.1M255.7 261.0h1.1M262.8 265.2h1.1M261.3 264.9h1.1M259.0 261.9h1.1M258.0 264.5h1.1M274.5 262.1h1.1M264.1 259.3h1.1M259.7 261.9h1.1M255.5 265.3h1.1M264.7 261.5h1.1M250.9 262.8h1.1M264.6 257.3h1.1M272.6 258.9h1.1M270.2 259.9h1.1M261.0 257.1h1.1M244.5 265.5h1.1M260.1 252.6h1.1M264.7 257.5h1.1M253.5 262.9h1.1M258.1 269.2h1.1M251.6 261.5h1.1M268.3 258.7h1.1M264.1 255.1h1.1M267.3 257.3h1.1M253.6 266.8h1.1M263.0 267.3h1.1M254.3 258.0h1.1M253.9 259.5h1.1M261.6 257.1h1.1M269.8 255.3h1.1M265.5 256.8h1.1M272.4 258.3h1.1M266.8 256.4h1.1M266.2 260.2h1.1M262.0 258.1h1.1M257.6 265.1h1.1M261.9 262.2h1.1M254.8 266.0h1.1M266.7 265.8h1.1M256.2 267.0h1.1M261.5 259.7h1.1M254.1 261.3h1.1M267.7 253.5h1.1M277.0 246.1h1.1M274.9 258.3h1.1M259.6 261.1h1.1M263.6 260.6h1.1M273.5 261.0h1.1M267.0 257.7h1.1M257.1 258.8h1.1M258.5 268.0h1.1M274.6 261.4h1.1M252.1 259.0h1.1M262.5 265.5h1.1M266.6 264.0h1.1M270.4 257.6h1.1M268.0 256.7h1.1M258.2 261.9h1.1M256.9 259.8h1.1M257.3 251.8h1.1M278.1 263.8h1.1M267.0 256.7h1.1M244.0 273.4h1.1M248.9 260.6h1.1M269.2 265.7h1.1M275.1 258.4h1.1M264.0 251.3h1.1M261.0 271.6h1.1M272.2 261.6h1.1M253.3 271.4h1.1M243.1 249.1h1.1M254.4 272.4h1.1M270.7 255.9h1.1M250.8 272.1h1.1M263.0 254.5h1.1M266.5 269.4h1.1M270.1 278.3h1.1M252.1 267.0h1.1M265.5 256.8h1.1M240.6 264.1h1.1M265.6 259.4h1.1M232.9 266.3h1.1M272.3 253.8h1.1M261.8 257.6h1.1M238.7 266.4h1.1M261.2 254.2h1.1M299.3 254.6h1.1M265.4 256.8h1.1M261.0 267.7h1.1M240.4 267.5h1.1M281.8 251.5h1.1M252.8 270.5h1.1M264.9 254.4h1.1M273.2 253.9h1.1M265.7 265.8h1.1M256.2 265.1h1.1M287.3 253.1h1.1M267.0 258.2h1.1M265.1 262.9h1.1M272.6 254.6h1.1M259.7 249.3h1.1M257.7 278.6h1.1M260.7 256.0h1.1M254.5 265.3h1.1M236.7 273.0h1.1M234.0 271.8h1.1M259.8 260.6h1.1M245.8 272.2h1.1M261.2 261.1h1.1M269.0 249.9h1.1M277.2 263.4h1.1M214.1 256.2h1.1M242.6 258.3h1.1M252.5 261.0h1.1M214.3 264.7h1.1M247.2 251.5h1.1M230.5 255.4h1.1M208.7 264.2h1.1M247.9 264.4h1.1M254.0 255.1h1.1M204.1 261.0h1.1M193.1 263.3h1.1M220.3 261.4h1.1M240.2 263.6h1.1M213.9 262.0h1.1M232.1 258.0h1.1M238.0 262.6h1.1M240.6 264.7h1.1M258.1 262.4h1.1M257.4 257.3h1.1M259.9 255.9h1.1M203.9 256.6h1.1M220.7 260.9h1.1M226.6 260.4h1.1M223.4 267.3h1.1M225.8 258.7h1.1M211.2 258.0h1.1M254.9 255.0h1.1M240.3 264.5h1.1M247.4 267.6h1.1M204.4 268.3h1.1M213.5 258.8h1.1M239.1 262.0h1.1M224.1 268.0h1.1M237.4 245.7h1.1M249.7 260.4h1.1M232.8 264.3h1.1M237.7 262.4h1.1M252.0 252.8h1.1M246.3 257.8h1.1M223.0 261.1h1.1M229.4 269.7h1.1M245.7 260.8h1.1M219.3 257.6h1.1M217.0 254.3h1.1M228.0 253.7h1.1M234.1 247.3h1.1M235.3 266.1h1.1M212.5 258.8h1.1M214.3 260.7h1.1M212.4 269.0h1.1M214.8 263.1h1.1M242.3 262.5h1.1M221.7 274.9h1.1M251.3 259.8h1.1M200.3 259.2h1.1M239.5 259.4h1.1M244.3 267.4h1.1M221.0 262.0h1.1M197.8 253.1h1.1M233.6 255.5h1.1M222.8 276.3h1.1M249.4 259.9h1.1M234.6 256.2h1.1M252.3 255.8h1.1M241.0 266.8h1.1M254.3 254.1h1.1M250.5 252.9h1.1M242.1 261.6h1.1M205.6 263.2h1.1M247.2 263.1h1.1M206.1 272.5h1.1M233.7 249.8h1.1M237.7 269.9h1.1M206.2 271.6h1.1M220.6 260.9h1.1M236.2 256.8h1.1M196.6 276.2h1.1M238.7 264.4h1.1M239.3 251.1h1.1M215.7 265.5h1.1M226.8 269.2h1.1M243.0 254.9h1.1M210.7 260.3h1.1M221.3 266.6h1.1M204.4 264.0h1.1M201.3 268.4h1.1M219.4 258.5h1.1M231.4 264.6h1.1M209.0 262.7h1.1M228.8 250.1h1.1M227.9 255.6h1.1M236.1 264.8h1.1M244.5 254.7h1.1M259.3 266.2h1.1M247.9 256.9h1.1M203.4 258.8h1.1M220.3 262.2h1.1M216.6 257.3h1.1M210.4 262.0h1.1M242.1 251.3h1.1M251.2 265.1h1.1M224.2 267.6h1.1M245.8 264.9h1.1M236.1 261.1h1.1M246.2 273.2h1.1M216.4 263.5h1.1M209.3 252.1h1.1M226.5 265.1h1.1M202.4 254.5h1.1M248.0 268.0h1.1M197.5 263.9h1.1M241.8 254.1h1.1M247.0 256.8h1.1M222.4 256.6h1.1M253.8 255.1h1.1M217.7 267.9h1.1M207.5 259.2h1.1M221.1 255.5h1.1M256.3 257.8h1.1M254.8 250.4h1.1M252.3 252.5h1.1M239.1 258.0h1.1M204.0 269.4h1.1M231.7 262.7h1.1M210.9 269.8h1.1M208.0 275.5h1.1M208.7 261.6h1.1M246.6 263.7h1.1M208.2 264.9h1.1M203.1 270.6h1.1M245.8 259.1h1.1M238.8 256.4h1.1M241.8 260.3h1.1M232.7 264.7h1.1M208.2 260.5h1.1M218.5 260.5h1.1M217.8 256.7h1.1M200.2 255.1h1.1M205.2 280.5h1.1M219.4 267.9h1.1M255.9 258.6h1.1M237.2 252.7h1.1M249.1 262.5h1.1M237.0 256.8h1.1M262.3 274.1h1.1M204.5 268.3h1.1M223.6 278.5h1.1M238.4 267.6h1.1M215.3 278.5h1.1M205.6 264.0h1.1M226.2 258.7h1.1M235.7 265.2h1.1M221.8 263.8h1.1M224.4 280.9h1.1M221.1 281.6h1.1M230.8 280.4h1.1M243.5 263.5h1.1M254.9 270.1h1.1M220.4 259.3h1.1M229.1 264.0h1.1M232.9 277.9h1.1M254.2 250.9h1.1M224.5 261.9h1.1M187.2 270.0h1.1M214.2 269.6h1.1M216.1 277.1h1.1M242.7 266.9h1.1M230.3 257.6h1.1M204.9 273.9h1.1M232.6 262.7h1.1M223.8 265.1h1.1M206.8 276.1h1.1M228.8 278.3h1.1M240.2 245.8h1.1M249.9 265.1h1.1M259.9 270.4h1.1M227.6 252.9h1.1M202.8 254.2h1.1M243.3 250.9h1.1M213.6 275.2h1.1M204.2 317.6h1.1M228.8 315.2h1.1M231.5 274.4h1.1M210.9 306.3h1.1M205.4 320.8h1.1M209.5 296.0h1.1M204.3 319.0h1.1M208.2 323.3h1.1M227.5 292.7h1.1M212.1 307.9h1.1M219.1 315.3h1.1M198.9 317.1h1.1M255.1 321.8h1.1M247.7 318.5h1.1M251.3 307.9h1.1M249.8 314.3h1.1M248.1 314.4h1.1M256.0 253.3h1.1M231.6 324.7h1.1M211.9 268.9h1.1M252.7 324.3h1.1"/>
<path d="M253.7 261.9h1.1M257.2 261.0h1.1M273.4 256.5h1.1M262.4 262.6h1.1M258.2 260.2h1.1M260.7 260.4h1.1M269.8 260.4h1.1M260.2 256.5h1.1M266.7 263.0h1.1M261.1 263.1h1.1M263.1 257.9h1.1M260.9 263.2h1.1M276.3 256.3h1.1M256.9 264.6h1.1M270.0 260.0h1.1M260.4 259.7h1.1M273.5 259.8h1.1M264.0 259.9h1.1M268.9 264.6h1.1M267.2 256.8h1.1M262.2 263.2h1.1M265.9 258.3h1.1M264.3 255.8h1.1M272.8 259.8h1.1M264.9 261.0h1.1M259.2 258.9h1.1M258.9 262.4h1.1M270.9 256.4h1.1M264.5 261.6h1.1M265.5 260.1h1.1M260.6 260.1h1.1M265.0 251.8h1.1M266.3 259.1h1.1M261.9 263.6h1.1M273.5 255.2h1.1M266.5 260.6h1.1M264.9 260.7h1.1M269.8 254.6h1.1M269.7 253.1h1.1M270.0 260.4h1.1M257.2 262.2h1.1M274.0 255.8h1.1M269.7 254.0h1.1M261.0 258.0h1.1M276.9 256.5h1.1M263.5 264.0h1.1M265.9 254.0h1.1M260.4 262.0h1.1M259.8 260.8h1.1M265.7 255.4h1.1M272.3 255.7h1.1M264.8 256.5h1.1M260.2 264.2h1.1M253.1 267.2h1.1M262.1 260.6h1.1M266.8 258.9h1.1M264.7 261.0h1.1M269.6 258.0h1.1M262.9 260.3h1.1M270.5 253.8h1.1M268.6 258.9h1.1M267.6 261.0h1.1M263.7 257.2h1.1M276.5 256.4h1.1M260.1 262.7h1.1M269.5 258.6h1.1M263.3 257.8h1.1M261.7 257.7h1.1M250.3 265.4h1.1M275.2 258.1h1.1M266.6 257.7h1.1M264.1 256.6h1.1M266.9 259.8h1.1M262.5 260.0h1.1M266.5 257.6h1.1M257.4 262.3h1.1M265.1 257.7h1.1M259.5 257.9h1.1M260.9 255.4h1.1M267.3 261.0h1.1M268.6 254.4h1.1M251.6 260.6h1.1M267.8 261.3h1.1M260.7 259.6h1.1M272.9 258.0h1.1M265.6 267.0h1.1M268.8 257.3h1.1M263.6 259.1h1.1M262.0 259.5h1.1M265.7 263.3h1.1M264.1 259.5h1.1M257.8 257.6h1.1M264.0 263.0h1.1M266.5 253.4h1.1M265.6 258.5h1.1M260.0 259.9h1.1M267.2 259.6h1.1M274.2 248.7h1.1M272.3 259.7h1.1M268.5 258.1h1.1M262.9 260.0h1.1M259.4 260.9h1.1M261.0 261.2h1.1M266.1 257.5h1.1M269.1 257.2h1.1M261.1 262.6h1.1M255.2 260.3h1.1M263.2 262.4h1.1M269.1 255.6h1.1M267.8 257.3h1.1M266.5 262.7h1.1M263.7 262.3h1.1M256.3 262.4h1.1M266.2 257.0h1.1M265.7 259.1h1.1M255.4 263.2h1.1M265.5 254.1h1.1M265.9 261.9h1.1M261.2 261.5h1.1M264.9 260.5h1.1M264.7 265.1h1.1M267.6 260.9h1.1M268.1 257.5h1.1M265.3 259.2h1.1M275.8 254.1h1.1M264.9 257.5h1.1M264.8 259.0h1.1M273.7 258.8h1.1M266.0 260.4h1.1M271.3 260.8h1.1M268.5 257.9h1.1M264.1 262.3h1.1M267.5 258.4h1.1M257.4 262.0h1.1M255.4 261.3h1.1M261.0 261.1h1.1M269.5 256.4h1.1M272.1 256.4h1.1M274.4 260.3h1.1M256.7 261.5h1.1M268.0 256.8h1.1M273.5 255.6h1.1M253.5 263.0h1.1M264.0 260.1h1.1M260.9 259.9h1.1M262.0 257.3h1.1M272.0 252.4h1.1M257.6 259.3h1.1M262.6 259.2h1.1M264.9 259.8h1.1M260.5 260.8h1.1M266.8 257.2h1.1M272.3 254.6h1.1M254.2 264.0h1.1M265.8 257.2h1.1M262.0 262.7h1.1M268.1 259.5h1.1M261.7 259.2h1.1M260.1 259.3h1.1M261.2 258.2h1.1M257.5 263.1h1.1M265.0 260.6h1.1M271.3 257.1h1.1M268.5 259.3h1.1M267.3 259.2h1.1M269.3 261.8h1.1M277.8 255.9h1.1M268.4 253.4h1.1M272.9 253.1h1.1M264.3 260.5h1.1M255.7 261.4h1.1M254.8 260.1h1.1M258.6 261.5h1.1M259.7 261.8h1.1M263.0 260.8h1.1M262.0 260.9h1.1M267.7 258.7h1.1M255.6 260.5h1.1M267.2 254.5h1.1M265.5 263.5h1.1M266.9 263.0h1.1M270.8 257.5h1.1M271.7 257.1h1.1M263.1 256.3h1.1M261.9 260.0h1.1M262.2 261.7h1.1M260.4 264.5h1.1M264.8 262.4h1.1M269.3 254.3h1.1M262.3 260.0h1.1M271.8 258.5h1.1M267.5 258.4h1.1M265.0 262.2h1.1M271.5 254.4h1.1M252.5 261.1h1.1M263.7 258.1h1.1M256.7 263.1h1.1M264.9 255.8h1.1M261.4 257.7h1.1M267.3 253.4h1.1M269.8 252.9h1.1M271.1 259.4h1.1M267.5 260.2h1.1M262.3 261.5h1.1M266.9 261.1h1.1M263.1 259.9h1.1M262.7 258.9h1.1M262.9 259.3h1.1M264.7 254.1h1.1M265.9 260.9h1.1M263.9 261.1h1.1M266.5 254.9h1.1M261.7 261.8h1.1M265.5 262.2h1.1M274.6 253.6h1.1M266.0 262.1h1.1M272.7 257.2h1.1M269.8 256.5h1.1M261.6 264.8h1.1M266.3 252.3h1.1M263.3 257.2h1.1M254.6 263.9h1.1M264.3 262.9h1.1M267.6 259.3h1.1M258.0 265.8h1.1M269.0 262.7h1.1M262.2 257.1h1.1M273.6 258.2h1.1M268.8 257.2h1.1M264.6 262.7h1.1M264.1 264.9h1.1M262.5 260.3h1.1M254.0 263.3h1.1M266.3 261.3h1.1M264.5 257.8h1.1M263.6 260.0h1.1M252.7 260.3h1.1M267.5 258.7h1.1M274.0 253.9h1.1M264.1 262.8h1.1M272.0 258.9h1.1M268.2 258.0h1.1M259.6 266.2h1.1M257.8 261.4h1.1M265.5 258.3h1.1M263.4 261.5h1.1M260.0 264.3h1.1M257.0 260.9h1.1M260.9 261.8h1.1M261.9 258.2h1.1M260.2 261.5h1.1M264.7 259.5h1.1M263.0 261.9h1.1M265.1 258.9h1.1M265.9 260.5h1.1M268.8 256.4h1.1M269.4 259.0h1.1M262.2 261.0h1.1M264.8 261.9h1.1M273.3 257.3h1.1M269.5 257.5h1.1M271.1 260.7h1.1M264.4 262.1h1.1M264.5 255.4h1.1M269.5 262.0h1.1M266.8 260.4h1.1M265.8 258.7h1.1M268.7 263.2h1.1M261.6 254.9h1.1M263.8 255.3h1.1M271.6 253.6h1.1M269.8 258.9h1.1M258.9 260.7h1.1M265.4 259.5h1.1M258.4 261.9h1.1M267.6 261.1h1.1M267.9 255.8h1.1M269.4 259.9h1.1M261.1 262.1h1.1M267.5 258.7h1.1M269.5 259.8h1.1M268.9 261.3h1.1M262.2 258.4h1.1M258.6 259.5h1.1M273.7 253.5h1.1M271.7 255.0h1.1M267.2 259.3h1.1M266.3 254.5h1.1M258.4 263.0h1.1M259.3 255.8h1.1M273.8 260.1h1.1M268.7 259.1h1.1M268.1 259.9h1.1M269.7 257.3h1.1M261.3 260.8h1.1M264.6 257.2h1.1M269.6 262.7h1.1M271.6 259.6h1.1M263.0 258.6h1.1M259.7 262.7h1.1M249.9 261.0h1.1M266.5 268.2h1.1M266.7 260.5h1.1M247.1 262.9h1.1M262.4 263.1h1.1M262.2 258.8h1.1M274.7 258.8h1.1M250.8 258.0h1.1M268.0 265.6h1.1M264.5 267.0h1.1M273.9 272.5h1.1M263.2 252.5h1.1M261.6 256.3h1.1M276.2 254.5h1.1M264.0 259.8h1.1M269.5 263.9h1.1M259.3 259.9h1.1M256.3 261.4h1.1M258.8 259.4h1.1M257.4 251.4h1.1M260.1 262.2h1.1M255.2 261.1h1.1M262.1 262.5h1.1M269.7 263.8h1.1M270.9 257.1h1.1M264.6 257.4h1.1M256.7 268.8h1.1M253.2 261.6h1.1M268.7 254.8h1.1M257.1 259.6h1.1M254.0 265.3h1.1M266.7 254.9h1.1M259.0 263.1h1.1M251.7 255.7h1.1M273.6 260.7h1.1M271.5 264.3h1.1M259.4 254.0h1.1M267.8 259.1h1.1M271.5 264.0h1.1M243.6 268.6h1.1M272.9 255.2h1.1M270.4 256.9h1.1M259.0 266.3h1.1M268.1 258.8h1.1M265.7 265.6h1.1M270.6 256.4h1.1M265.0 255.3h1.1M276.7 256.9h1.1M260.8 258.5h1.1M255.1 256.5h1.1M261.0 253.4h1.1M250.1 269.0h1.1M263.3 264.3h1.1M273.3 251.2h1.1M272.3 256.6h1.1M266.6 264.7h1.1M267.5 268.3h1.1M251.5 265.3h1.1M276.4 262.6h1.1M260.0 259.5h1.1M275.8 257.5h1.1M272.3 260.3h1.1M256.0 264.0h1.1M271.9 258.2h1.1M258.4 259.9h1.1M258.5 260.3h1.1M264.7 258.3h1.1M260.4 262.8h1.1M268.5 263.4h1.1M267.0 259.0h1.1M262.0 257.5h1.1M270.7 248.4h1.1M265.8 261.4h1.1M248.5 262.0h1.1M238.3 271.3h1.1M247.1 266.4h1.1M262.7 254.2h1.1M267.9 260.9h1.1M262.0 259.3h1.1M246.7 265.6h1.1M272.6 257.1h1.1M271.7 260.8h1.1M252.5 264.3h1.1M267.2 258.1h1.1M261.5 262.3h1.1M261.9 261.5h1.1M230.9 265.4h1.1M254.7 263.9h1.1M261.3 255.7h1.1M259.8 258.2h1.1M248.6 270.3h1.1M252.6 255.4h1.1M287.4 258.5h1.1M270.0 248.6h1.1M255.1 265.2h1.1M260.3 269.0h1.1M268.0 255.8h1.1M273.4 255.6h1.1M262.2 265.5h1.1M274.7 254.0h1.1M269.7 250.6h1.1M277.4 253.5h1.1M256.2 269.5h1.1M270.8 252.0h1.1M258.2 263.9h1.1M259.3 261.1h1.1M265.3 262.1h1.1M273.3 253.1h1.1M265.5 258.5h1.1M254.2 258.0h1.1M264.1 256.2h1.1M251.6 264.3h1.1M274.9 251.6h1.1M264.5 262.3h1.1M258.3 265.1h1.1M276.8 245.1h1.1M253.3 261.3h1.1M255.7 268.5h1.1M259.7 257.2h1.1M248.7 261.4h1.1M262.4 256.1h1.1M261.8 256.3h1.1M260.1 261.8h1.1M279.1 257.9h1.1M269.0 260.5h1.1M259.0 254.4h1.1M263.8 260.5h1.1M256.8 260.3h1.1M256.0 265.6h1.1M265.4 248.6h1.1M255.4 271.4h1.1M291.5 252.8h1.1M230.1 236.0h1.1M250.2 265.2h1.1M268.4 258.8h1.1M244.8 252.8h1.1M270.1 267.6h1.1M240.8 263.5h1.1M264.1 257.3h1.1M267.8 273.9h1.1M264.3 253.2h1.1M261.1 252.0h1.1M252.2 260.6h1.1M261.3 242.6h1.1M267.2 266.9h1.1M247.4 263.8h1.1M266.6 243.8h1.1M273.4 243.1h1.1M249.4 265.9h1.1M253.4 271.2h1.1M244.9 261.6h1.1M249.4 272.7h1.1M243.5 268.9h1.1M267.3 267.0h1.1M276.4 273.0h1.1M275.6 261.5h1.1M247.6 252.3h1.1M262.2 274.6h1.1M240.7 260.6h1.1M260.6 252.2h1.1M246.0 269.8h1.1M241.8 274.5h1.1M260.3 265.6h1.1M272.9 276.8h1.1M261.3 263.3h1.1M262.6 259.0h1.1M280.8 254.6h1.1M254.9 258.5h1.1M270.1 254.5h1.1M259.9 261.0h1.1M267.9 267.2h1.1M263.2 268.8h1.1M271.7 274.1h1.1M261.7 265.2h1.1M249.5 266.2h1.1M263.3 267.9h1.1M264.7 246.4h1.1M256.7 263.8h1.1M216.6 261.2h1.1M258.2 261.3h1.1M241.9 251.9h1.1M220.3 257.2h1.1M218.8 267.9h1.1M210.2 269.3h1.1M199.3 259.3h1.1M223.9 266.4h1.1M247.5 263.8h1.1M218.2 254.0h1.1M226.7 254.3h1.1M205.1 260.6h1.1M226.7 257.4h1.1M231.8 254.4h1.1M247.9 259.8h1.1M222.2 263.4h1.1M213.5 255.2h1.1M238.2 265.5h1.1M222.5 263.9h1.1M238.7 267.5h1.1M243.7 263.0h1.1M255.1 256.3h1.1M223.8 257.6h1.1M208.0 269.6h1.1M227.3 254.4h1.1M262.6 264.5h1.1M205.9 256.2h1.1M229.3 259.6h1.1M251.0 264.7h1.1M244.4 259.0h1.1M251.9 265.1h1.1M239.8 262.2h1.1M231.9 263.1h1.1M218.2 261.1h1.1M250.0 256.8h1.1M198.6 256.4h1.1M236.2 253.4h1.1M224.8 264.1h1.1M250.8 261.3h1.1M235.0 266.1h1.1M248.5 255.9h1.1M218.1 267.3h1.1M232.7 259.0h1.1M252.0 252.4h1.1M252.2 253.5h1.1M239.0 253.0h1.1M226.6 256.9h1.1M218.1 269.8h1.1M250.3 247.1h1.1M205.1 259.4h1.1M251.2 265.4h1.1M247.1 257.8h1.1M258.0 267.2h1.1M229.9 264.0h1.1M220.8 263.7h1.1M216.5 263.6h1.1M228.0 265.4h1.1M243.6 259.7h1.1M237.9 256.9h1.1M254.2 257.8h1.1M214.4 260.2h1.1M207.4 257.1h1.1M206.9 274.0h1.1M211.6 259.4h1.1M245.3 252.2h1.1M209.9 264.0h1.1M202.7 250.9h1.1M210.2 256.0h1.1M221.9 266.5h1.1M245.8 255.3h1.1M242.2 262.3h1.1M209.5 262.0h1.1M222.5 252.9h1.1M214.9 270.4h1.1M229.0 272.2h1.1M251.5 254.5h1.1M246.9 266.5h1.1M225.4 252.2h1.1M215.9 259.8h1.1M223.3 258.0h1.1M217.5 261.9h1.1M222.8 265.8h1.1M208.6 263.5h1.1M231.4 251.3h1.1M201.8 269.1h1.1M203.7 261.2h1.1M231.6 257.3h1.1M227.9 267.3h1.1M208.7 266.9h1.1M211.3 246.4h1.1M218.7 263.2h1.1M218.9 270.3h1.1M215.5 247.0h1.1M207.0 257.7h1.1M220.6 259.2h1.1M223.2 258.1h1.1M229.7 269.7h1.1M246.5 255.9h1.1M237.8 264.9h1.1M221.8 249.1h1.1M232.3 258.9h1.1M248.3 257.7h1.1M237.5 261.7h1.1M219.8 258.0h1.1M202.2 259.0h1.1M203.5 259.3h1.1M251.6 262.2h1.1M206.2 260.0h1.1M244.3 263.3h1.1M251.9 263.2h1.1M241.0 251.7h1.1M250.0 262.5h1.1M245.4 271.3h1.1M211.4 252.0h1.1M204.3 261.6h1.1M252.2 258.2h1.1M235.6 257.6h1.1M206.4 257.8h1.1M199.9 254.9h1.1M235.3 261.2h1.1M208.3 255.5h1.1M217.7 268.9h1.1M241.9 264.6h1.1M206.6 245.0h1.1M235.3 260.9h1.1M196.2 261.3h1.1M205.0 258.9h1.1M210.1 259.8h1.1M236.3 265.2h1.1M223.2 261.9h1.1M223.5 262.4h1.1M234.5 253.7h1.1M235.2 258.6h1.1M228.8 267.1h1.1M231.9 263.7h1.1M228.9 265.1h1.1M215.6 265.2h1.1M217.4 269.7h1.1M248.5 265.4h1.1M251.5 261.3h1.1M220.2 257.6h1.1M210.0 251.2h1.1M226.6 266.4h1.1M227.0 275.4h1.1M214.5 258.1h1.1M226.8 265.5h1.1M215.7 265.0h1.1M251.3 264.0h1.1M236.0 263.3h1.1M217.5 261.2h1.1M239.3 268.9h1.1M219.5 258.3h1.1M241.5 268.1h1.1M266.9 278.2h1.1M248.2 274.3h1.1M208.3 270.0h1.1M221.3 280.0h1.1M205.1 264.2h1.1M233.7 282.7h1.1M244.7 263.7h1.1M215.1 265.4h1.1M199.9 268.3h1.1M233.8 275.2h1.1M220.0 268.5h1.1M231.6 263.6h1.1M229.7 268.7h1.1M255.3 255.2h1.1M217.7 263.2h1.1M255.7 258.6h1.1M241.3 270.8h1.1M231.9 251.9h1.1M220.5 273.7h1.1M205.2 251.0h1.1M234.1 265.6h1.1M213.2 279.4h1.1M221.3 265.8h1.1M224.2 269.9h1.1M258.5 271.8h1.1M232.9 257.0h1.1M240.4 277.0h1.1M227.9 287.5h1.1M222.5 300.8h1.1M221.4 282.0h1.1M210.3 308.1h1.1M222.2 310.0h1.1M219.6 291.4h1.1M219.1 307.7h1.1M225.0 289.2h1.1M201.0 328.9h1.1M237.8 290.9h1.1M233.7 309.5h1.1M229.9 288.8h1.1M253.1 305.2h1.1M250.2 298.4h1.1M251.2 296.8h1.1M256.0 308.8h1.1M252.8 321.2h1.1M221.7 292.2h1.1M236.2 257.1h1.1M205.1 297.0h1.1M288.1 328.2h1.1"/>
</g>
<path d="M232.8 220.6V340.6M182.1 289.1H302.2" stroke="#757575" stroke-width="1.25" fill="none"/>
<text class="b" stroke="none" x="183.8" y="230.0" font-size="8.1">9.83</text>
<text class="b" stroke="none" x="300.2" y="230.0" font-size="8.1" text-anchor="end">88.3</text>
<text class="b" stroke="none" x="185.1" y="339.2" font-size="8.1">1.2</text>
<text class="b" stroke="none" x="300.2" y="339.2" font-size="8.1" text-anchor="end">0.69</text>
<text x="244.7" y="217.2" font-size="11.8" text-anchor="middle">CD4Cre-<tspan class="i">Ctnnb</tspan><tspan font-size="7" dy="-4.2" dx="0.5">Δex3</tspan></text>
<rect x="324.3" y="220.6" width="120.5" height="120.0" fill="none" stroke="#555" stroke-width="0.95"/>
<path d="M324.1 220.6V340.6" stroke="#6a6a6a" stroke-width="1.3"/><path d="M324.3 340.6H444.8" stroke="#3a3a3a" stroke-width="1.2"/>
<path d="M324.3 340.6v2.8M333.4 340.6v1.7M338.7 340.6v1.7M342.4 340.6v1.7M345.4 340.6v1.7M347.7 340.6v1.7M349.8 340.6v1.7M351.5 340.6v1.7M353.0 340.6v1.7M324.3 340.6h-2.4M324.3 331.6h-1.4M324.3 326.3h-1.4M324.3 322.5h-1.4M324.3 319.6h-1.4M324.3 317.3h-1.4M324.3 315.2h-1.4M324.3 313.5h-1.4M324.3 312.0h-1.4M354.4 340.6v2.8M363.5 340.6v1.7M368.8 340.6v1.7M372.6 340.6v1.7M375.5 340.6v1.7M377.9 340.6v1.7M379.9 340.6v1.7M381.6 340.6v1.7M383.2 340.6v1.7M324.3 310.6h-2.4M324.3 301.6h-1.4M324.3 296.3h-1.4M324.3 292.5h-1.4M324.3 289.6h-1.4M324.3 287.3h-1.4M324.3 285.2h-1.4M324.3 283.5h-1.4M324.3 282.0h-1.4M384.6 340.6v2.8M393.6 340.6v1.7M398.9 340.6v1.7M402.7 340.6v1.7M405.6 340.6v1.7M408.0 340.6v1.7M410.0 340.6v1.7M411.8 340.6v1.7M413.3 340.6v1.7M324.3 280.6h-2.4M324.3 271.6h-1.4M324.3 266.3h-1.4M324.3 262.5h-1.4M324.3 259.6h-1.4M324.3 257.3h-1.4M324.3 255.2h-1.4M324.3 253.5h-1.4M324.3 252.0h-1.4M414.7 340.6v2.8M423.7 340.6v1.7M429.0 340.6v1.7M432.8 340.6v1.7M435.7 340.6v1.7M438.1 340.6v1.7M440.1 340.6v1.7M441.9 340.6v1.7M443.4 340.6v1.7M324.3 250.6h-2.4M324.3 241.6h-1.4M324.3 236.3h-1.4M324.3 232.5h-1.4M324.3 229.6h-1.4M324.3 227.3h-1.4M324.3 225.2h-1.4M324.3 223.5h-1.4M324.3 222.0h-1.4M444.8 340.6v3.2" stroke="#444" stroke-width="0.7" fill="none"/>
<g stroke="#000" stroke-width="1.1" stroke-opacity="0.42" fill="none">
<path d="M402.3 256.6h1.1M404.2 258.7h1.1M406.5 255.8h1.1M399.0 255.3h1.1M401.2 261.1h1.1M405.2 251.5h1.1M403.6 262.8h1.1M404.6 252.6h1.1M398.0 263.5h1.1M405.9 258.9h1.1M404.1 257.1h1.1M400.6 256.9h1.1M405.2 256.0h1.1M402.7 255.9h1.1M399.6 255.2h1.1M407.7 253.7h1.1M402.9 264.6h1.1M407.0 252.8h1.1M403.9 259.2h1.1M398.4 251.6h1.1M406.7 260.2h1.1M408.9 256.7h1.1M403.1 262.5h1.1M403.8 256.1h1.1M408.8 251.5h1.1M399.2 262.3h1.1M400.1 256.9h1.1M408.4 253.4h1.1M402.6 257.1h1.1M394.4 258.5h1.1M402.2 260.3h1.1M403.4 264.4h1.1M408.1 259.3h1.1M401.7 261.4h1.1M404.0 256.4h1.1M406.2 256.6h1.1M405.6 257.2h1.1M404.4 261.9h1.1M399.1 254.8h1.1M407.8 254.5h1.1M407.1 258.9h1.1M400.6 259.4h1.1M403.7 260.2h1.1M401.6 258.9h1.1M404.5 256.7h1.1M408.7 258.5h1.1M404.0 256.1h1.1M401.0 261.2h1.1M405.2 253.4h1.1M401.0 255.0h1.1M408.4 257.1h1.1M403.0 259.9h1.1M401.2 264.0h1.1M404.4 261.1h1.1M404.9 258.5h1.1M403.9 258.7h1.1M404.0 261.4h1.1M404.3 259.6h1.1M407.3 257.4h1.1M401.8 256.3h1.1M400.1 250.8h1.1M402.1 254.2h1.1M402.9 260.0h1.1M404.2 258.6h1.1M405.2 260.0h1.1M405.1 265.8h1.1M402.7 252.9h1.1M403.5 255.8h1.1M402.6 255.4h1.1M398.1 260.5h1.1M395.7 259.4h1.1M396.4 252.5h1.1M399.5 266.6h1.1M421.5 260.2h1.1M393.3 264.3h1.1M401.4 255.2h1.1M403.7 251.9h1.1M398.2 255.6h1.1M400.4 270.2h1.1M401.5 260.0h1.1M393.6 261.5h1.1M393.3 257.0h1.1M409.2 258.0h1.1M398.4 260.9h1.1M411.9 255.0h1.1M396.3 261.1h1.1M408.2 250.0h1.1M400.1 252.4h1.1M404.4 255.6h1.1M401.6 264.6h1.1M400.0 258.9h1.1M401.4 258.2h1.1M395.0 260.5h1.1M399.6 259.1h1.1M404.2 265.7h1.1M407.6 252.1h1.1M399.6 262.3h1.1M405.6 257.5h1.1M400.7 254.3h1.1M402.7 260.6h1.1M409.4 260.0h1.1M393.7 253.5h1.1M402.8 252.3h1.1M397.5 262.7h1.1M397.3 256.1h1.1M403.7 255.8h1.1M399.6 258.6h1.1M400.8 256.7h1.1M411.3 257.8h1.1M410.1 257.9h1.1M406.7 256.2h1.1M407.6 262.1h1.1M407.2 258.0h1.1M389.8 267.3h1.1M400.8 257.8h1.1M391.3 261.4h1.1M399.2 257.5h1.1M404.4 251.6h1.1M408.5 263.6h1.1M403.8 254.4h1.1M402.4 257.1h1.1M408.7 254.3h1.1M409.1 259.6h1.1M400.3 262.7h1.1M399.4 257.2h1.1M403.7 262.6h1.1M394.9 257.3h1.1M398.4 260.2h1.1M404.3 260.8h1.1M391.2 261.5h1.1M405.9 259.7h1.1M399.2 252.2h1.1M365.8 254.7h1.1M401.3 266.0h1.1M392.0 255.6h1.1M371.6 257.1h1.1M393.4 252.5h1.1M396.9 260.6h1.1M403.7 251.7h1.1M389.7 261.0h1.1M393.0 246.3h1.1M357.3 255.5h1.1M388.3 254.5h1.1M377.4 269.5h1.1M384.6 266.6h1.1M402.7 251.5h1.1M415.2 257.7h1.1M401.4 268.9h1.1M398.3 266.3h1.1M405.8 260.4h1.1M365.2 253.5h1.1M406.4 255.1h1.1M395.1 251.2h1.1M398.8 260.7h1.1M393.4 257.8h1.1M388.7 250.4h1.1M396.8 260.9h1.1M376.9 253.7h1.1M399.4 264.4h1.1M404.8 259.9h1.1M395.5 263.9h1.1M392.1 251.7h1.1M378.2 257.1h1.1M401.8 253.8h1.1M412.8 256.1h1.1M399.9 253.7h1.1M389.8 255.6h1.1M393.3 261.5h1.1M405.7 260.0h1.1M404.0 260.2h1.1M394.4 254.1h1.1M414.2 266.0h1.1M384.2 260.4h1.1M382.7 263.2h1.1M408.8 260.2h1.1M386.0 255.2h1.1M387.4 261.6h1.1M387.8 253.6h1.1M379.6 257.2h1.1M395.4 262.9h1.1M385.9 257.0h1.1M398.1 257.9h1.1M392.4 257.9h1.1M383.3 251.7h1.1M408.3 251.3h1.1M403.7 255.9h1.1M402.1 264.8h1.1M422.9 247.8h1.1M388.1 265.2h1.1M409.4 258.2h1.1M381.8 249.3h1.1M380.3 253.9h1.1M403.9 243.7h1.1M401.6 256.1h1.1M394.2 258.9h1.1M396.1 256.7h1.1M383.5 261.8h1.1M397.7 259.8h1.1M419.7 253.5h1.1M382.5 262.2h1.1M414.8 259.0h1.1M392.8 257.2h1.1M417.6 258.1h1.1M375.9 253.1h1.1M388.3 255.6h1.1M407.5 261.1h1.1M390.5 261.0h1.1M392.8 257.6h1.1M391.0 259.6h1.1M380.4 255.5h1.1M400.6 253.8h1.1M392.4 251.2h1.1M394.1 255.9h1.1M414.0 254.4h1.1M391.5 259.6h1.1M379.8 258.1h1.1M423.3 257.4h1.1M389.9 246.3h1.1M406.3 262.3h1.1M385.4 260.4h1.1M386.8 263.7h1.1M395.7 262.4h1.1M385.2 248.6h1.1M392.2 252.9h1.1M397.8 253.6h1.1M395.1 257.4h1.1M396.0 254.0h1.1M391.2 264.8h1.1M409.8 253.6h1.1M394.0 259.5h1.1M383.0 262.2h1.1M394.7 250.0h1.1M397.4 254.6h1.1M396.4 259.2h1.1M371.5 258.7h1.1M396.1 255.9h1.1M401.3 254.2h1.1M386.5 262.0h1.1M369.7 259.1h1.1M409.2 259.7h1.1M390.0 251.3h1.1M416.1 254.6h1.1M400.2 254.5h1.1M392.2 259.9h1.1M416.4 256.9h1.1M385.8 255.6h1.1M398.0 264.1h1.1M390.1 254.8h1.1M388.0 259.9h1.1M387.5 262.0h1.1M402.5 265.9h1.1M422.3 258.8h1.1M385.6 251.3h1.1M390.9 257.0h1.1M391.2 253.0h1.1M403.6 261.1h1.1M373.5 259.9h1.1M390.3 256.7h1.1M376.2 260.6h1.1M390.3 258.5h1.1M402.7 261.7h1.1M419.6 258.4h1.1M394.3 254.2h1.1M398.7 255.9h1.1M393.3 268.8h1.1M380.5 264.4h1.1M408.9 263.9h1.1M386.4 257.3h1.1M397.1 265.4h1.1M361.6 247.8h1.1M402.1 247.8h1.1M427.4 254.3h1.1M379.9 260.5h1.1M403.1 259.2h1.1M401.1 257.3h1.1M401.4 256.8h1.1M397.7 253.0h1.1M399.3 263.8h1.1M392.3 256.5h1.1M402.5 256.0h1.1M409.3 246.8h1.1M367.9 263.5h1.1M392.0 260.4h1.1M392.6 252.8h1.1M412.7 251.0h1.1M395.5 264.8h1.1M400.3 258.5h1.1M395.9 260.1h1.1M421.2 258.3h1.1M398.9 251.7h1.1M395.3 251.5h1.1M389.1 253.4h1.1M409.8 255.1h1.1M417.7 260.1h1.1M382.0 244.9h1.1M398.7 260.4h1.1M411.9 266.8h1.1M385.2 255.1h1.1M406.9 259.1h1.1M425.8 251.8h1.1M409.0 261.2h1.1M405.3 255.1h1.1M397.8 252.8h1.1M388.9 263.1h1.1M403.1 259.2h1.1M430.5 257.6h1.1M397.9 257.7h1.1M384.2 254.8h1.1M399.9 259.4h1.1M419.7 253.6h1.1M390.7 255.1h1.1M398.2 263.3h1.1M421.8 268.5h1.1M406.9 250.9h1.1M402.1 257.4h1.1M423.6 253.5h1.1M395.7 247.2h1.1M394.3 262.0h1.1M362.0 258.6h1.1M410.9 260.0h1.1M382.3 261.7h1.1M408.6 254.8h1.1M393.2 260.6h1.1M404.7 265.7h1.1M399.1 258.2h1.1M385.0 258.5h1.1M380.5 256.7h1.1M383.1 253.0h1.1M393.1 258.4h1.1M378.2 258.1h1.1M391.5 258.3h1.1M387.7 253.0h1.1M380.8 260.5h1.1M404.5 261.1h1.1M380.9 265.9h1.1M389.1 254.8h1.1M418.4 248.6h1.1M418.6 261.0h1.1M397.9 256.3h1.1M400.4 261.6h1.1M404.4 251.9h1.1M419.3 255.6h1.1M396.7 252.5h1.1M393.4 274.7h1.1M395.4 273.8h1.1M407.0 255.4h1.1M399.2 257.3h1.1M392.8 257.1h1.1M395.1 255.2h1.1M408.9 279.3h1.1M402.7 251.0h1.1M403.9 263.0h1.1M408.3 271.9h1.1M397.7 259.2h1.1M406.2 258.7h1.1M400.2 276.3h1.1M371.2 272.1h1.1M405.8 268.1h1.1M392.5 259.6h1.1M405.3 271.3h1.1M411.0 269.6h1.1M395.9 276.8h1.1M388.5 265.9h1.1M406.1 258.0h1.1M408.2 259.2h1.1M392.1 250.4h1.1M390.6 264.6h1.1M412.0 263.0h1.1M406.8 261.3h1.1M397.4 260.3h1.1M404.1 276.0h1.1M402.0 266.4h1.1M405.7 266.5h1.1M390.7 271.3h1.1M408.8 260.0h1.1M386.1 271.0h1.1M392.3 272.3h1.1M396.2 274.8h1.1M402.6 258.9h1.1M396.1 258.0h1.1M396.3 270.6h1.1M405.5 270.7h1.1M384.4 264.5h1.1M397.0 269.2h1.1M391.3 270.1h1.1M404.3 262.9h1.1M396.4 268.8h1.1M404.1 247.1h1.1M397.4 253.9h1.1M412.9 256.2h1.1M407.4 268.2h1.1M401.9 275.7h1.1M389.8 281.9h1.1M396.9 272.0h1.1M392.5 263.2h1.1M406.1 264.5h1.1M406.6 264.9h1.1M396.0 259.1h1.1M404.7 262.7h1.1M395.1 267.4h1.1M406.0 269.0h1.1M403.0 264.3h1.1M397.9 258.0h1.1M410.7 283.8h1.1M410.7 280.2h1.1M396.7 268.7h1.1M393.7 266.5h1.1M399.5 271.6h1.1M399.1 260.1h1.1M388.9 269.1h1.1M401.1 272.8h1.1M384.2 276.7h1.1M407.7 265.0h1.1M399.9 263.0h1.1M400.3 260.5h1.1M398.8 257.5h1.1M390.1 267.8h1.1M404.3 268.4h1.1M394.8 269.2h1.1M402.6 266.6h1.1M399.4 279.9h1.1M400.4 274.5h1.1M403.8 280.7h1.1M409.9 261.8h1.1M389.7 258.8h1.1M385.2 269.7h1.1M399.7 268.5h1.1M405.3 267.9h1.1M403.4 252.0h1.1M400.8 276.6h1.1M396.5 262.8h1.1M404.8 256.9h1.1M412.5 268.3h1.1M392.5 259.9h1.1M402.5 277.5h1.1M398.2 260.6h1.1M391.9 265.5h1.1M403.3 268.5h1.1M396.7 267.6h1.1M407.4 263.2h1.1M401.4 277.2h1.1M408.7 268.1h1.1M399.5 267.6h1.1M383.0 256.4h1.1M396.6 273.4h1.1M401.6 271.8h1.1M395.2 273.9h1.1M395.4 255.3h1.1M400.8 262.4h1.1M401.6 265.3h1.1M390.8 267.7h1.1M395.0 265.4h1.1M392.7 264.3h1.1M399.9 269.4h1.1M401.3 259.1h1.1M400.2 267.3h1.1M407.7 267.5h1.1M388.8 260.3h1.1M412.8 266.3h1.1M403.1 268.0h1.1M380.7 260.0h1.1M404.6 276.2h1.1M400.7 271.7h1.1M405.9 271.7h1.1M403.9 273.7h1.1M399.3 274.5h1.1M414.9 259.5h1.1M393.0 270.2h1.1M399.9 269.6h1.1M394.7 270.7h1.1M397.1 270.2h1.1M390.7 278.3h1.1M368.4 256.3h1.1M370.5 271.8h1.1M395.5 265.5h1.1M364.7 246.7h1.1M358.8 257.5h1.1M375.5 257.4h1.1M381.8 246.1h1.1M379.3 256.8h1.1M369.0 259.6h1.1M364.1 281.7h1.1M395.2 269.8h1.1M333.7 248.8h1.1M388.9 257.6h1.1M359.1 247.4h1.1M372.3 249.8h1.1M363.9 250.2h1.1M368.7 264.0h1.1M377.5 255.2h1.1M374.3 271.5h1.1M376.2 261.8h1.1M382.6 277.0h1.1M367.2 256.0h1.1M357.2 278.8h1.1M373.8 269.2h1.1M361.9 258.1h1.1M389.3 272.7h1.1M376.7 254.7h1.1M327.6 262.0h1.1M375.0 282.2h1.1M350.7 277.1h1.1M364.1 269.6h1.1M369.7 268.3h1.1M380.7 271.7h1.1M365.2 272.6h1.1M368.7 270.7h1.1M353.0 265.6h1.1M372.8 273.6h1.1M361.1 256.6h1.1M379.2 278.0h1.1M381.8 263.3h1.1M346.4 251.6h1.1M366.8 260.5h1.1M368.7 272.9h1.1M379.9 261.2h1.1M375.3 254.3h1.1M368.3 252.3h1.1M364.8 271.8h1.1M368.6 268.3h1.1M373.3 271.0h1.1M375.2 275.9h1.1M382.2 270.3h1.1M391.7 265.1h1.1M362.0 262.2h1.1M378.6 261.9h1.1M372.1 271.2h1.1M358.7 262.4h1.1M391.0 259.1h1.1M367.2 275.5h1.1M382.9 263.2h1.1M361.9 255.2h1.1M370.3 260.7h1.1M377.2 267.4h1.1M373.7 262.0h1.1M372.6 266.6h1.1M361.3 256.3h1.1M372.9 259.6h1.1M384.2 259.7h1.1M386.2 262.5h1.1M368.8 247.7h1.1M385.8 255.9h1.1M360.1 263.1h1.1M398.6 262.0h1.1M373.1 263.3h1.1M384.6 246.8h1.1M370.1 252.4h1.1M392.9 263.2h1.1M384.8 262.6h1.1M372.9 250.8h1.1M382.6 259.1h1.1M394.8 264.8h1.1M387.8 260.7h1.1M379.4 257.0h1.1M380.0 262.1h1.1M389.8 253.9h1.1M386.9 255.2h1.1M385.8 257.8h1.1M367.0 257.0h1.1M379.1 263.7h1.1M388.7 259.9h1.1M377.0 254.3h1.1M368.6 259.9h1.1M382.8 252.1h1.1M371.6 259.7h1.1M394.1 262.9h1.1M379.9 257.8h1.1M375.7 255.5h1.1M368.7 262.3h1.1M386.7 266.5h1.1M372.8 268.9h1.1M395.5 265.0h1.1M382.4 261.1h1.1M398.0 268.9h1.1M371.5 262.9h1.1M368.4 269.9h1.1M394.7 263.5h1.1M376.1 260.0h1.1M383.0 254.6h1.1M374.5 261.6h1.1M382.0 264.2h1.1M378.0 261.5h1.1M363.6 267.0h1.1M385.0 260.9h1.1M370.7 259.7h1.1M379.2 261.2h1.1M375.3 257.8h1.1M388.9 262.5h1.1M377.3 263.7h1.1M380.5 262.0h1.1M375.5 259.3h1.1M382.4 251.7h1.1M383.0 253.9h1.1M370.7 266.4h1.1M392.6 267.1h1.1M393.9 265.5h1.1M376.0 261.6h1.1M385.7 259.1h1.1M386.2 272.6h1.1M361.7 240.9h1.1M370.0 251.6h1.1M395.2 259.8h1.1M362.0 254.8h1.1M379.9 259.0h1.1M378.2 268.2h1.1M388.8 254.4h1.1M377.9 271.8h1.1M383.9 266.8h1.1M365.6 262.7h1.1M384.2 255.1h1.1M371.5 281.0h1.1M370.2 268.2h1.1M388.8 277.5h1.1M343.0 266.1h1.1M371.0 298.6h1.1M373.5 293.9h1.1M362.2 277.8h1.1M354.0 275.7h1.1M355.8 269.2h1.1M369.4 255.9h1.1M368.4 286.0h1.1M357.4 292.7h1.1M358.6 290.5h1.1M358.5 283.2h1.1M361.4 294.8h1.1M340.1 308.5h1.1M348.1 294.2h1.1M364.8 284.8h1.1M347.4 253.4h1.1M341.0 301.4h1.1M337.8 304.5h1.1M334.8 295.4h1.1M368.3 262.4h1.1M429.5 271.4h1.1M392.9 262.1h1.1M377.0 320.8h1.1M373.3 258.4h1.1M406.9 284.1h1.1M361.6 246.7h1.1M394.4 317.2h1.1M363.6 301.1h1.1M394.8 248.3h1.1"/>
<path d="M406.0 261.9h1.1M404.8 262.3h1.1M402.9 257.3h1.1M404.5 261.2h1.1M407.9 258.6h1.1M400.0 258.8h1.1M404.4 253.7h1.1M403.8 252.1h1.1M402.6 253.8h1.1M402.0 263.7h1.1M408.1 258.2h1.1M402.6 262.0h1.1M403.0 255.4h1.1M398.5 253.7h1.1M406.5 256.9h1.1M405.1 262.3h1.1M404.4 257.7h1.1M400.5 259.2h1.1M403.2 251.8h1.1M409.4 264.6h1.1M408.3 256.0h1.1M405.9 256.3h1.1M404.7 256.5h1.1M408.6 255.6h1.1M406.5 257.6h1.1M402.9 258.2h1.1M410.4 256.1h1.1M405.8 254.6h1.1M400.1 257.0h1.1M403.4 259.4h1.1M403.9 258.5h1.1M400.4 262.1h1.1M404.1 256.8h1.1M399.8 262.1h1.1M406.5 259.2h1.1M401.1 257.9h1.1M409.8 262.9h1.1M403.3 259.1h1.1M406.8 261.7h1.1M403.1 266.2h1.1M398.2 260.6h1.1M406.8 253.2h1.1M404.1 255.4h1.1M400.4 258.6h1.1M405.6 260.4h1.1M404.6 259.6h1.1M400.4 258.4h1.1M406.6 258.3h1.1M408.6 257.8h1.1M405.0 252.6h1.1M406.4 257.2h1.1M402.7 252.5h1.1M406.9 260.1h1.1M401.6 254.5h1.1M403.3 265.3h1.1M401.5 259.1h1.1M408.0 266.6h1.1M405.3 263.0h1.1M410.2 259.9h1.1M405.8 255.5h1.1M403.2 260.5h1.1M405.7 261.9h1.1M403.7 261.2h1.1M403.6 259.3h1.1M407.5 264.6h1.1M405.8 257.1h1.1M407.0 257.2h1.1M406.7 261.9h1.1M412.3 256.0h1.1M412.3 259.8h1.1M399.5 256.6h1.1M410.8 252.4h1.1M391.8 254.4h1.1M404.3 256.1h1.1M411.2 254.0h1.1M411.4 257.7h1.1M409.6 267.2h1.1M392.5 258.4h1.1M408.4 258.3h1.1M410.8 255.0h1.1M398.7 254.1h1.1M394.0 267.1h1.1M403.8 269.2h1.1M405.6 263.2h1.1M400.6 253.7h1.1M409.7 251.3h1.1M395.7 271.6h1.1M401.1 254.5h1.1M399.0 258.1h1.1M400.4 259.7h1.1M395.6 257.9h1.1M406.1 256.1h1.1M402.2 263.5h1.1M397.1 257.1h1.1M403.7 257.6h1.1M406.9 261.9h1.1M402.3 254.9h1.1M392.0 260.6h1.1M396.6 257.0h1.1M397.8 253.7h1.1M395.5 254.1h1.1M399.1 265.8h1.1M406.9 259.2h1.1M399.6 254.9h1.1M403.3 259.0h1.1M405.4 259.7h1.1M394.5 254.9h1.1M403.5 261.7h1.1M411.3 256.4h1.1M408.2 251.6h1.1M405.3 263.2h1.1M401.7 260.6h1.1M406.0 251.3h1.1M398.0 259.5h1.1M406.1 257.0h1.1M409.9 260.6h1.1M405.9 258.9h1.1M392.2 256.5h1.1M404.9 262.8h1.1M405.2 257.9h1.1M414.3 254.3h1.1M400.9 269.3h1.1M398.2 259.5h1.1M408.9 254.5h1.1M403.1 250.0h1.1M414.8 246.4h1.1M402.9 261.2h1.1M409.4 254.9h1.1M395.8 258.1h1.1M380.7 258.2h1.1M405.9 258.8h1.1M396.0 255.8h1.1M389.6 258.4h1.1M401.1 254.3h1.1M378.5 265.2h1.1M398.6 253.0h1.1M393.9 265.2h1.1M373.9 255.9h1.1M404.0 258.0h1.1M384.1 261.9h1.1M400.8 263.9h1.1M387.6 256.1h1.1M396.9 259.2h1.1M404.0 255.2h1.1M394.0 256.9h1.1M385.0 260.8h1.1M403.6 264.0h1.1M398.0 264.9h1.1M402.4 260.0h1.1M395.1 257.3h1.1M372.4 263.2h1.1M396.9 261.2h1.1M395.9 254.4h1.1M389.1 255.1h1.1M389.8 267.3h1.1M418.6 251.4h1.1M378.6 263.0h1.1M377.4 259.6h1.1M397.6 258.3h1.1M404.8 259.1h1.1M393.1 255.2h1.1M384.0 259.6h1.1M406.5 254.2h1.1M383.4 259.6h1.1M392.1 252.2h1.1M385.8 247.7h1.1M401.4 261.5h1.1M397.2 252.6h1.1M417.4 248.8h1.1M392.4 257.6h1.1M397.5 254.7h1.1M394.8 251.6h1.1M376.9 259.8h1.1M380.0 255.9h1.1M399.4 259.1h1.1M400.8 259.1h1.1M377.5 259.9h1.1M382.8 254.3h1.1M410.6 261.1h1.1M411.0 266.9h1.1M409.7 251.0h1.1M395.4 254.9h1.1M408.0 255.5h1.1M392.2 256.3h1.1M389.0 269.0h1.1M401.0 250.1h1.1M378.3 261.0h1.1M401.0 268.0h1.1M414.2 261.3h1.1M384.8 259.1h1.1M421.2 255.3h1.1M399.9 262.7h1.1M384.4 254.4h1.1M388.2 260.6h1.1M403.8 253.2h1.1M395.0 268.7h1.1M395.9 254.3h1.1M395.7 264.2h1.1M374.5 255.5h1.1M394.5 257.8h1.1M393.6 267.7h1.1M379.2 252.2h1.1M408.8 265.3h1.1M405.2 260.7h1.1M376.0 264.8h1.1M393.9 251.3h1.1M394.5 252.8h1.1M372.2 270.8h1.1M383.2 255.3h1.1M402.2 253.6h1.1M379.2 261.1h1.1M395.2 257.0h1.1M382.2 253.6h1.1M384.8 253.1h1.1M426.6 249.1h1.1M387.3 259.0h1.1M404.1 255.0h1.1M383.6 249.3h1.1M368.7 248.7h1.1M381.3 255.5h1.1M406.2 242.2h1.1M375.7 251.8h1.1M388.0 260.1h1.1M412.7 257.8h1.1M399.9 256.5h1.1M405.8 260.8h1.1M419.1 250.3h1.1M415.5 254.8h1.1M407.5 252.5h1.1M388.9 255.9h1.1M405.7 251.2h1.1M394.1 261.2h1.1M398.4 261.7h1.1M382.8 254.5h1.1M388.8 256.6h1.1M389.0 264.3h1.1M399.6 250.9h1.1M395.6 265.4h1.1M391.8 263.9h1.1M393.2 255.6h1.1M397.4 255.9h1.1M401.9 258.0h1.1M383.4 265.0h1.1M377.2 250.4h1.1M393.1 255.8h1.1M395.0 257.8h1.1M392.5 257.1h1.1M380.6 258.4h1.1M410.2 254.3h1.1M400.3 261.4h1.1M391.0 251.8h1.1M417.1 251.0h1.1M411.5 252.2h1.1M404.5 256.2h1.1M377.0 256.3h1.1M381.6 254.1h1.1M407.8 255.8h1.1M388.9 257.9h1.1M385.7 258.3h1.1M425.2 250.3h1.1M390.5 258.0h1.1M384.2 262.6h1.1M403.8 245.9h1.1M397.8 261.4h1.1M389.3 249.6h1.1M374.9 258.7h1.1M409.2 259.8h1.1M422.4 249.0h1.1M379.9 261.9h1.1M395.6 250.1h1.1M394.5 258.3h1.1M385.1 263.1h1.1M410.2 262.4h1.1M403.3 262.9h1.1M387.3 257.6h1.1M391.6 264.0h1.1M396.7 259.1h1.1M386.6 265.1h1.1M373.1 258.4h1.1M398.2 257.2h1.1M405.1 252.7h1.1M411.9 249.6h1.1M396.5 250.7h1.1M397.1 260.2h1.1M377.3 255.1h1.1M412.0 254.7h1.1M373.1 265.2h1.1M395.2 259.0h1.1M403.6 252.7h1.1M383.3 264.6h1.1M396.2 264.0h1.1M389.6 264.6h1.1M387.0 258.2h1.1M385.7 253.5h1.1M372.7 265.8h1.1M383.0 255.0h1.1M408.1 259.8h1.1M404.2 246.8h1.1M386.2 258.7h1.1M404.5 249.4h1.1M394.5 256.5h1.1M389.2 254.6h1.1M391.8 258.2h1.1M393.2 254.2h1.1M398.5 263.7h1.1M403.2 262.1h1.1M409.3 254.4h1.1M389.7 240.9h1.1M381.6 254.4h1.1M405.0 258.1h1.1M425.5 258.1h1.1M385.6 259.0h1.1M375.1 257.2h1.1M388.3 263.3h1.1M412.5 258.1h1.1M404.8 253.1h1.1M403.6 250.0h1.1M410.5 266.3h1.1M395.4 256.6h1.1M403.1 256.1h1.1M392.7 263.6h1.1M393.8 266.2h1.1M384.8 257.3h1.1M392.2 252.1h1.1M391.4 264.9h1.1M380.2 255.9h1.1M399.8 253.4h1.1M389.6 259.2h1.1M394.5 250.5h1.1M364.4 251.8h1.1M404.6 265.0h1.1M401.2 266.9h1.1M391.4 257.4h1.1M401.2 259.9h1.1M398.0 250.4h1.1M408.4 258.8h1.1M389.7 244.2h1.1M388.2 248.6h1.1M395.1 263.5h1.1M401.8 259.5h1.1M379.2 248.5h1.1M399.0 259.3h1.1M418.6 251.4h1.1M379.9 272.4h1.1M387.4 280.4h1.1M407.7 271.1h1.1M408.4 259.4h1.1M383.9 254.8h1.1M394.1 275.2h1.1M394.5 273.0h1.1M414.5 263.5h1.1M405.3 278.2h1.1M388.0 261.1h1.1M393.3 270.1h1.1M392.4 256.2h1.1M389.3 268.2h1.1M394.3 264.2h1.1M396.0 264.8h1.1M400.3 273.3h1.1M411.5 266.4h1.1M404.3 259.1h1.1M394.7 256.8h1.1M404.5 262.2h1.1M402.0 263.5h1.1M392.0 255.8h1.1M391.0 268.3h1.1M398.5 270.4h1.1M403.8 270.6h1.1M414.4 274.5h1.1M393.8 260.2h1.1M390.4 265.1h1.1M408.9 248.0h1.1M399.4 258.1h1.1M403.8 279.9h1.1M400.9 262.6h1.1M383.0 270.0h1.1M384.8 266.0h1.1M396.5 259.6h1.1M408.9 264.5h1.1M398.0 269.9h1.1M402.7 265.7h1.1M404.9 270.9h1.1M395.2 259.0h1.1M409.5 261.9h1.1M401.4 267.8h1.1M404.1 264.5h1.1M405.2 267.0h1.1M402.5 262.0h1.1M387.1 271.9h1.1M401.9 261.7h1.1M390.6 268.6h1.1M392.6 268.9h1.1M403.5 269.2h1.1M400.1 269.2h1.1M392.7 266.3h1.1M404.9 273.5h1.1M404.4 269.5h1.1M397.9 283.7h1.1M402.9 266.1h1.1M409.6 269.1h1.1M398.3 264.8h1.1M413.2 263.1h1.1M404.7 269.1h1.1M394.2 264.5h1.1M401.2 268.5h1.1M398.0 260.0h1.1M400.4 276.1h1.1M399.3 255.5h1.1M405.4 261.5h1.1M405.0 261.9h1.1M392.2 269.3h1.1M400.7 258.9h1.1M404.2 271.6h1.1M402.8 262.2h1.1M396.2 270.9h1.1M402.4 265.5h1.1M403.2 262.2h1.1M393.0 272.5h1.1M393.9 262.4h1.1M406.2 272.4h1.1M404.4 274.2h1.1M408.8 272.3h1.1M404.8 255.8h1.1M394.9 271.0h1.1M398.8 257.1h1.1M399.7 267.5h1.1M396.2 258.6h1.1M410.8 275.8h1.1M393.6 265.0h1.1M398.9 267.0h1.1M396.8 275.2h1.1M388.2 264.8h1.1M399.3 255.0h1.1M401.5 259.5h1.1M397.3 265.5h1.1M398.6 265.0h1.1M397.1 262.7h1.1M406.4 273.3h1.1M392.8 266.1h1.1M404.0 266.1h1.1M402.5 266.2h1.1M410.4 270.0h1.1M409.4 266.5h1.1M395.4 272.4h1.1M411.7 265.1h1.1M393.3 258.8h1.1M397.2 265.2h1.1M416.0 267.6h1.1M403.4 266.4h1.1M394.1 276.5h1.1M396.1 261.7h1.1M408.8 279.3h1.1M402.4 261.6h1.1M398.3 264.9h1.1M404.1 256.0h1.1M389.0 253.2h1.1M409.8 270.0h1.1M390.7 264.1h1.1M414.5 283.7h1.1M394.9 279.3h1.1M400.7 272.6h1.1M407.6 276.7h1.1M417.8 268.8h1.1M397.1 256.3h1.1M386.7 260.5h1.1M393.6 263.6h1.1M398.0 271.8h1.1M401.7 265.6h1.1M394.9 260.5h1.1M389.4 269.8h1.1M404.3 264.1h1.1M401.6 262.1h1.1M353.2 264.2h1.1M368.8 282.3h1.1M378.8 245.8h1.1M375.5 274.6h1.1M377.8 260.1h1.1M354.0 255.7h1.1M369.0 260.8h1.1M374.6 257.5h1.1M364.7 267.6h1.1M359.4 282.0h1.1M385.9 256.6h1.1M371.8 248.7h1.1M347.1 273.6h1.1M367.2 274.0h1.1M376.2 259.8h1.1M364.3 266.4h1.1M365.9 257.1h1.1M371.9 271.6h1.1M372.9 254.0h1.1M353.9 283.3h1.1M376.9 260.8h1.1M382.0 273.5h1.1M373.2 293.4h1.1M368.9 253.5h1.1M361.0 278.2h1.1M377.1 260.6h1.1M339.1 279.2h1.1M386.1 264.5h1.1M367.7 272.0h1.1M349.9 282.7h1.1M378.3 251.0h1.1M366.3 261.5h1.1M383.6 276.0h1.1M376.1 251.1h1.1M372.0 260.1h1.1M387.5 262.5h1.1M373.8 262.4h1.1M375.4 263.3h1.1M363.3 261.6h1.1M368.5 256.6h1.1M371.2 276.4h1.1M363.2 263.9h1.1M364.7 263.1h1.1M349.7 247.8h1.1M394.5 267.7h1.1M377.4 261.3h1.1M372.9 260.7h1.1M373.8 260.4h1.1M355.0 266.2h1.1M387.9 260.8h1.1M350.7 272.9h1.1M350.7 253.3h1.1M388.1 270.0h1.1M372.9 271.9h1.1M362.5 269.0h1.1M381.4 257.9h1.1M374.2 270.1h1.1M378.2 282.1h1.1M357.6 259.9h1.1M380.9 244.6h1.1M367.2 273.1h1.1M352.0 283.4h1.1M372.2 261.1h1.1M353.6 265.6h1.1M383.0 254.6h1.1M380.6 256.0h1.1M390.8 262.4h1.1M386.0 264.0h1.1M391.0 251.1h1.1M373.4 260.6h1.1M391.1 267.1h1.1M378.7 257.6h1.1M388.8 253.9h1.1M383.8 261.3h1.1M383.4 248.6h1.1M369.2 269.0h1.1M372.5 265.8h1.1M373.2 259.4h1.1M373.5 257.2h1.1M368.9 261.8h1.1M371.7 259.9h1.1M377.8 270.2h1.1M381.8 261.6h1.1M368.9 255.9h1.1M392.9 259.7h1.1M367.8 257.8h1.1M383.1 246.7h1.1M369.2 265.3h1.1M361.8 266.5h1.1M376.2 269.0h1.1M371.6 258.1h1.1M378.6 267.4h1.1M374.2 267.2h1.1M378.7 249.2h1.1M377.7 255.6h1.1M374.2 257.3h1.1M373.0 268.3h1.1M366.2 269.4h1.1M378.3 254.9h1.1M383.2 263.0h1.1M381.5 257.7h1.1M383.2 250.5h1.1M378.6 252.9h1.1M394.0 258.7h1.1M401.8 269.0h1.1M385.5 267.1h1.1M385.5 264.3h1.1M380.9 254.0h1.1M382.4 255.7h1.1M373.7 255.5h1.1M368.6 268.8h1.1M368.5 249.3h1.1M394.9 259.1h1.1M378.6 250.3h1.1M391.0 261.0h1.1M373.1 252.3h1.1M387.3 264.5h1.1M386.7 260.5h1.1M379.6 253.4h1.1M376.1 250.1h1.1M371.2 256.0h1.1M381.5 267.3h1.1M361.1 264.1h1.1M397.6 258.1h1.1M371.9 258.1h1.1M366.8 240.8h1.1M379.9 254.8h1.1M382.8 255.6h1.1M362.3 261.9h1.1M371.1 261.2h1.1M388.6 256.5h1.1M361.6 256.1h1.1M384.5 257.2h1.1M375.7 273.6h1.1M378.0 256.8h1.1M373.4 270.6h1.1M401.4 258.2h1.1M378.6 267.4h1.1M336.3 273.2h1.1M341.7 273.0h1.1M368.1 264.9h1.1M363.4 315.6h1.1M344.7 296.1h1.1M359.6 281.6h1.1M351.4 266.9h1.1M344.6 277.9h1.1M358.5 270.5h1.1M333.5 274.2h1.1M350.0 276.5h1.1M344.6 248.4h1.1M343.2 292.9h1.1M381.9 284.2h1.1M350.5 288.1h1.1M328.2 272.4h1.1M340.1 289.5h1.1M336.9 255.3h1.1M339.3 265.1h1.1M365.1 288.6h1.1M334.0 304.0h1.1M362.2 278.7h1.1M350.3 246.3h1.1M367.5 319.7h1.1M423.7 328.5h1.1M380.8 299.8h1.1M389.0 330.0h1.1M389.9 324.8h1.1M351.8 247.0h1.1M339.8 322.4h1.1M392.1 333.9h1.1M397.4 306.2h1.1"/>
<path d="M404.3 258.6h1.1M406.0 257.1h1.1M398.6 257.5h1.1M404.0 258.3h1.1M400.0 261.5h1.1M404.2 252.8h1.1M400.7 256.6h1.1M404.2 246.7h1.1M405.8 264.9h1.1M402.9 261.4h1.1M400.3 256.2h1.1M400.6 245.3h1.1M404.7 258.0h1.1M407.3 258.0h1.1M403.7 259.1h1.1M402.2 261.3h1.1M404.3 257.4h1.1M403.2 259.2h1.1M407.4 258.2h1.1M402.6 262.3h1.1M406.3 256.8h1.1M407.6 263.8h1.1M403.8 262.3h1.1M404.1 254.1h1.1M403.8 260.5h1.1M404.9 252.4h1.1M401.6 257.7h1.1M403.2 258.4h1.1M400.8 263.7h1.1M402.7 257.6h1.1M403.9 253.2h1.1M405.0 257.4h1.1M406.2 258.8h1.1M403.7 252.4h1.1M401.9 257.8h1.1M405.8 255.1h1.1M403.0 260.9h1.1M402.7 258.2h1.1M404.3 260.7h1.1M403.3 256.7h1.1M403.9 256.9h1.1M400.0 254.9h1.1M406.8 260.0h1.1M411.6 258.5h1.1M408.0 258.1h1.1M398.2 258.1h1.1M406.6 260.3h1.1M400.8 257.4h1.1M401.8 259.2h1.1M402.4 258.5h1.1M408.4 259.7h1.1M405.1 252.0h1.1M402.8 261.1h1.1M407.4 271.6h1.1M402.3 261.2h1.1M407.9 258.9h1.1M402.3 258.0h1.1M404.4 253.9h1.1M408.8 257.8h1.1M407.1 264.8h1.1M404.9 249.1h1.1M407.5 254.9h1.1M401.7 261.7h1.1M401.1 258.7h1.1M400.5 252.7h1.1M408.7 252.9h1.1M408.0 258.2h1.1M402.3 259.3h1.1M403.0 256.5h1.1M404.7 256.6h1.1M407.3 261.9h1.1M405.3 256.3h1.1M399.9 253.1h1.1M400.5 256.4h1.1M393.9 253.1h1.1M403.3 253.4h1.1M396.4 251.8h1.1M406.5 262.8h1.1M400.8 263.0h1.1M392.0 263.0h1.1M406.7 265.9h1.1M413.4 257.5h1.1M401.2 263.7h1.1M408.0 254.9h1.1M394.3 255.7h1.1M410.2 255.7h1.1M396.6 261.6h1.1M408.9 250.9h1.1M405.8 261.6h1.1M387.6 258.1h1.1M407.4 263.3h1.1M403.0 251.2h1.1M400.6 256.9h1.1M400.9 266.1h1.1M408.0 255.8h1.1M406.8 261.9h1.1M399.5 264.0h1.1M405.6 249.8h1.1M394.5 252.6h1.1M413.9 261.8h1.1M398.7 257.2h1.1M394.2 263.2h1.1M408.2 253.4h1.1M391.7 257.0h1.1M410.0 258.7h1.1M391.8 261.5h1.1M404.3 257.9h1.1M395.2 268.1h1.1M400.8 256.6h1.1M401.0 256.4h1.1M403.8 260.1h1.1M402.0 254.2h1.1M394.2 266.9h1.1M403.1 260.9h1.1M406.5 260.6h1.1M398.1 257.0h1.1M396.5 256.5h1.1M398.0 253.5h1.1M393.7 254.3h1.1M405.1 256.5h1.1M399.9 258.9h1.1M401.2 257.7h1.1M412.9 253.8h1.1M401.1 252.0h1.1M403.7 255.0h1.1M398.6 257.8h1.1M398.2 256.4h1.1M405.0 260.9h1.1M407.8 257.8h1.1M381.9 263.3h1.1M406.4 257.7h1.1M401.1 254.0h1.1M380.7 260.7h1.1M419.6 253.4h1.1M399.8 258.2h1.1M405.4 259.3h1.1M390.0 262.1h1.1M404.4 261.6h1.1M405.2 260.9h1.1M404.7 256.7h1.1M385.8 258.5h1.1M393.8 256.5h1.1M411.7 251.8h1.1M419.5 254.9h1.1M398.6 254.7h1.1M409.9 257.7h1.1M391.4 259.3h1.1M409.4 252.5h1.1M399.1 260.1h1.1M389.3 258.8h1.1M394.9 262.5h1.1M404.1 251.7h1.1M399.6 254.3h1.1M375.7 255.1h1.1M367.8 260.8h1.1M399.2 254.9h1.1M385.4 254.9h1.1M391.8 265.0h1.1M389.2 253.8h1.1M382.4 259.5h1.1M380.9 254.6h1.1M386.6 261.5h1.1M396.1 253.7h1.1M386.9 256.5h1.1M395.1 254.4h1.1M399.4 251.6h1.1M376.7 262.2h1.1M387.2 250.8h1.1M383.2 247.4h1.1M396.4 256.8h1.1M400.0 259.8h1.1M385.5 263.2h1.1M391.9 248.1h1.1M393.7 265.4h1.1M375.9 250.6h1.1M419.9 260.5h1.1M394.0 264.2h1.1M376.5 261.1h1.1M410.4 257.8h1.1M380.6 260.7h1.1M403.0 266.8h1.1M388.7 256.3h1.1M376.0 254.8h1.1M393.5 262.6h1.1M383.3 262.4h1.1M390.6 255.4h1.1M412.6 256.9h1.1M414.3 257.1h1.1M382.1 258.4h1.1M408.4 258.8h1.1M397.3 260.6h1.1M389.9 258.2h1.1M413.4 261.0h1.1M399.7 259.3h1.1M411.7 262.4h1.1M383.7 255.8h1.1M386.3 252.4h1.1M400.7 257.8h1.1M376.5 255.7h1.1M385.4 253.7h1.1M402.5 261.1h1.1M391.4 264.8h1.1M386.1 258.6h1.1M385.9 261.0h1.1M405.9 261.7h1.1M413.1 257.9h1.1M383.6 260.5h1.1M367.5 261.5h1.1M391.1 257.9h1.1M380.6 253.3h1.1M388.8 262.8h1.1M407.1 260.8h1.1M385.7 252.6h1.1M399.4 258.5h1.1M367.9 251.1h1.1M372.0 251.8h1.1M407.8 256.7h1.1M403.1 250.9h1.1M381.6 266.3h1.1M389.4 262.0h1.1M399.9 257.7h1.1M379.3 252.9h1.1M397.9 256.9h1.1M398.6 258.4h1.1M409.0 249.2h1.1M414.4 250.7h1.1M392.1 263.6h1.1M386.5 262.7h1.1M383.6 261.2h1.1M397.4 258.2h1.1M396.6 257.9h1.1M401.9 260.3h1.1M400.0 251.4h1.1M397.0 251.7h1.1M400.0 252.7h1.1M381.1 258.3h1.1M386.3 259.6h1.1M410.4 262.7h1.1M399.1 267.7h1.1M405.7 264.5h1.1M410.3 250.1h1.1M403.7 254.3h1.1M378.5 254.3h1.1M386.1 253.8h1.1M394.2 268.5h1.1M394.2 259.2h1.1M402.3 256.7h1.1M400.6 254.5h1.1M414.4 256.1h1.1M395.4 268.1h1.1M414.0 267.6h1.1M399.4 249.3h1.1M371.2 254.4h1.1M387.6 260.3h1.1M389.7 265.5h1.1M412.7 262.5h1.1M396.2 255.6h1.1M397.7 258.2h1.1M381.4 261.9h1.1M397.2 259.9h1.1M405.1 256.8h1.1M398.9 264.2h1.1M395.0 252.1h1.1M398.1 252.8h1.1M380.1 260.0h1.1M388.7 249.4h1.1M372.9 258.4h1.1M398.0 262.1h1.1M396.7 258.0h1.1M415.5 254.0h1.1M410.8 257.8h1.1M404.7 254.9h1.1M383.7 258.6h1.1M394.5 262.3h1.1M380.9 258.7h1.1M389.8 263.4h1.1M384.7 263.4h1.1M380.1 255.5h1.1M404.7 254.7h1.1M411.1 257.4h1.1M421.2 260.0h1.1M425.4 256.2h1.1M403.9 250.9h1.1M408.9 260.9h1.1M405.5 255.8h1.1M408.0 258.8h1.1M404.4 256.7h1.1M355.4 265.8h1.1M393.9 258.7h1.1M400.3 256.3h1.1M405.4 259.9h1.1M393.9 260.4h1.1M407.8 260.4h1.1M378.3 253.4h1.1M378.7 258.8h1.1M400.5 259.3h1.1M403.5 268.4h1.1M387.1 256.5h1.1M397.9 255.9h1.1M398.4 254.6h1.1M395.5 254.0h1.1M391.9 251.7h1.1M407.1 267.8h1.1M375.2 261.1h1.1M368.7 257.4h1.1M387.2 256.2h1.1M405.1 257.4h1.1M380.4 256.8h1.1M402.2 252.5h1.1M379.6 253.1h1.1M372.0 258.8h1.1M414.2 260.5h1.1M390.7 252.6h1.1M393.9 248.0h1.1M405.3 257.9h1.1M414.9 253.4h1.1M410.2 261.4h1.1M374.7 261.2h1.1M405.3 260.9h1.1M389.6 263.2h1.1M389.8 256.8h1.1M383.4 259.9h1.1M411.5 258.0h1.1M386.4 254.8h1.1M378.7 248.6h1.1M391.4 255.6h1.1M369.0 255.2h1.1M401.1 248.9h1.1M406.2 258.0h1.1M395.0 261.6h1.1M402.8 256.2h1.1M397.1 258.5h1.1M380.2 258.8h1.1M399.7 249.1h1.1M400.8 254.4h1.1M393.8 249.2h1.1M401.2 250.8h1.1M384.8 256.8h1.1M375.6 262.3h1.1M402.5 255.7h1.1M399.0 253.9h1.1M410.4 260.8h1.1M392.2 257.1h1.1M392.8 259.2h1.1M392.4 269.6h1.1M386.8 266.8h1.1M407.6 272.0h1.1M406.6 271.2h1.1M388.3 261.8h1.1M406.6 266.0h1.1M406.5 258.5h1.1M394.3 270.9h1.1M396.3 270.0h1.1M398.2 274.5h1.1M388.8 260.9h1.1M401.7 274.6h1.1M388.8 261.7h1.1M412.5 269.4h1.1M410.7 261.9h1.1M395.1 272.6h1.1M401.0 258.1h1.1M397.6 255.9h1.1M390.6 266.3h1.1M394.8 270.5h1.1M392.0 267.1h1.1M395.8 267.2h1.1M396.2 265.9h1.1M393.7 273.2h1.1M398.6 269.4h1.1M393.4 259.6h1.1M404.6 256.9h1.1M392.4 261.8h1.1M400.1 262.6h1.1M399.2 276.0h1.1M411.0 263.4h1.1M402.6 268.3h1.1M398.2 269.4h1.1M396.5 270.9h1.1M412.7 279.8h1.1M402.6 270.2h1.1M395.1 261.3h1.1M391.7 269.1h1.1M390.0 275.9h1.1M398.5 261.0h1.1M395.8 267.0h1.1M407.6 255.8h1.1M402.7 270.1h1.1M406.7 280.0h1.1M395.9 270.2h1.1M388.1 270.4h1.1M376.4 264.7h1.1M395.5 268.1h1.1M395.8 270.8h1.1M388.7 263.0h1.1M395.0 266.9h1.1M394.3 280.6h1.1M402.9 261.1h1.1M413.4 269.4h1.1M389.4 278.6h1.1M388.8 256.2h1.1M408.9 267.1h1.1M413.7 266.6h1.1M401.1 268.2h1.1M404.5 270.8h1.1M396.9 258.0h1.1M401.2 266.4h1.1M383.9 261.8h1.1M400.3 266.7h1.1M402.9 277.9h1.1M390.2 262.3h1.1M405.9 270.9h1.1M396.3 270.8h1.1M392.4 290.2h1.1M392.5 270.5h1.1M394.8 277.6h1.1M413.0 265.0h1.1M402.5 256.3h1.1M390.1 265.6h1.1M404.0 266.8h1.1M408.5 259.9h1.1M393.1 259.1h1.1M395.1 258.3h1.1M403.7 268.6h1.1M392.2 262.5h1.1M392.2 254.1h1.1M398.0 260.1h1.1M402.1 264.6h1.1M405.2 264.0h1.1M393.2 273.8h1.1M397.2 245.0h1.1M390.8 260.1h1.1M406.1 273.7h1.1M397.7 266.9h1.1M409.2 270.9h1.1M406.6 261.7h1.1M403.6 264.9h1.1M393.5 267.1h1.1M387.2 259.1h1.1M392.1 266.2h1.1M396.6 275.2h1.1M405.6 260.9h1.1M394.2 267.8h1.1M399.7 266.6h1.1M388.0 267.7h1.1M398.0 267.8h1.1M397.3 271.5h1.1M381.5 256.5h1.1M385.8 263.5h1.1M411.6 263.7h1.1M396.1 267.9h1.1M403.8 274.8h1.1M401.9 263.0h1.1M401.3 268.8h1.1M397.6 267.5h1.1M402.3 262.1h1.1M383.9 268.6h1.1M395.1 276.7h1.1M401.0 272.0h1.1M394.6 269.2h1.1M398.4 264.3h1.1M407.2 275.8h1.1M395.1 269.9h1.1M398.8 278.7h1.1M405.3 272.1h1.1M406.6 266.4h1.1M397.5 264.4h1.1M387.0 261.6h1.1M394.5 259.3h1.1M391.1 269.6h1.1M393.3 272.2h1.1M406.9 275.4h1.1M403.8 262.3h1.1M386.8 270.3h1.1M389.1 266.3h1.1M362.9 274.0h1.1M397.2 258.8h1.1M357.0 254.6h1.1M371.2 252.3h1.1M378.2 273.5h1.1M380.9 270.3h1.1M387.6 242.1h1.1M368.4 284.5h1.1M349.9 266.1h1.1M378.3 236.9h1.1M356.7 268.6h1.1M341.9 248.3h1.1M388.3 278.7h1.1M374.3 265.4h1.1M356.3 262.4h1.1M374.4 262.8h1.1M385.9 272.1h1.1M375.9 274.2h1.1M371.0 247.7h1.1M367.5 264.0h1.1M376.9 269.6h1.1M370.0 262.7h1.1M370.2 279.9h1.1M394.4 255.6h1.1M379.1 263.4h1.1M367.8 266.8h1.1M356.0 249.1h1.1M375.6 257.6h1.1M368.1 276.8h1.1M370.9 267.1h1.1M385.3 282.9h1.1M372.7 249.3h1.1M375.1 269.4h1.1M376.5 272.5h1.1M369.5 265.4h1.1M369.6 253.7h1.1M366.0 266.2h1.1M371.6 256.7h1.1M361.7 259.7h1.1M363.4 253.8h1.1M394.5 266.8h1.1M381.4 271.7h1.1M397.7 263.0h1.1M374.0 259.4h1.1M360.0 270.4h1.1M363.6 265.9h1.1M345.6 269.7h1.1M346.6 274.1h1.1M371.7 266.7h1.1M342.7 267.8h1.1M355.3 259.7h1.1M368.1 267.8h1.1M362.7 264.6h1.1M365.7 250.6h1.1M364.7 257.7h1.1M359.0 271.3h1.1M392.0 261.4h1.1M359.1 252.1h1.1M348.7 269.5h1.1M368.1 270.1h1.1M384.3 257.8h1.1M374.7 255.1h1.1M372.6 272.7h1.1M382.6 262.6h1.1M377.0 250.3h1.1M376.9 257.0h1.1M369.7 254.4h1.1M393.7 257.4h1.1M366.0 261.8h1.1M383.9 258.9h1.1M373.4 253.0h1.1M387.4 253.8h1.1M390.2 254.4h1.1M382.0 257.8h1.1M381.4 257.0h1.1M361.9 259.0h1.1M373.7 255.8h1.1M367.6 264.9h1.1M391.9 264.3h1.1M370.9 257.2h1.1M387.6 253.9h1.1M360.6 250.5h1.1M374.5 270.0h1.1M405.1 262.9h1.1M379.6 250.2h1.1M365.9 256.7h1.1M383.6 264.0h1.1M380.4 264.4h1.1M359.7 258.5h1.1M376.2 265.1h1.1M369.3 269.2h1.1M382.9 261.8h1.1M382.4 253.2h1.1M369.1 260.6h1.1M383.9 262.0h1.1M377.6 266.8h1.1M370.7 262.4h1.1M376.7 260.1h1.1M396.0 252.4h1.1M378.6 254.9h1.1M387.7 260.8h1.1M372.2 267.0h1.1M369.9 254.5h1.1M372.6 255.3h1.1M378.5 267.1h1.1M380.5 251.9h1.1M364.3 261.3h1.1M392.9 262.1h1.1M384.4 259.4h1.1M390.2 255.5h1.1M368.1 269.4h1.1M374.8 261.9h1.1M365.9 254.2h1.1M375.4 253.0h1.1M381.4 255.4h1.1M387.0 255.7h1.1M376.0 265.5h1.1M378.5 251.8h1.1M376.4 259.5h1.1M375.9 265.3h1.1M379.4 262.2h1.1M380.2 263.5h1.1M376.6 255.8h1.1M381.7 258.1h1.1M396.4 268.4h1.1M366.5 259.7h1.1M389.8 253.6h1.1M376.9 252.1h1.1M369.7 256.8h1.1M380.8 257.6h1.1M382.9 262.2h1.1M374.4 271.3h1.1M374.2 261.5h1.1M378.1 264.8h1.1M382.9 260.0h1.1M382.4 247.2h1.1M347.1 285.9h1.1M359.1 293.1h1.1M356.6 294.5h1.1M338.4 268.3h1.1M350.7 281.0h1.1M348.6 289.4h1.1M360.6 311.8h1.1M361.0 280.9h1.1M357.8 281.5h1.1M349.1 305.9h1.1M360.6 275.4h1.1M372.5 258.7h1.1M362.3 303.2h1.1M383.4 260.6h1.1M349.7 291.5h1.1M349.5 311.7h1.1M349.1 274.2h1.1M347.6 303.1h1.1M362.0 286.7h1.1M349.9 294.9h1.1M338.8 301.1h1.1M337.2 261.3h1.1M360.8 277.7h1.1M417.2 321.4h1.1M363.5 330.0h1.1M335.0 262.8h1.1M349.6 312.8h1.1M372.8 311.0h1.1M373.9 302.6h1.1M335.1 294.4h1.1M406.6 328.6h1.1M401.5 264.5h1.1"/>
<path d="M406.1 257.3h1.1M405.7 254.8h1.1M404.7 259.8h1.1M403.7 255.2h1.1M404.1 252.5h1.1M404.8 257.3h1.1M405.4 258.2h1.1M404.9 257.3h1.1M398.4 263.7h1.1M403.9 258.7h1.1M399.8 254.8h1.1M404.7 259.7h1.1M402.5 256.5h1.1M401.2 254.5h1.1M405.2 254.0h1.1M409.7 262.3h1.1M410.4 259.3h1.1M401.1 255.5h1.1M402.2 260.7h1.1M403.5 261.3h1.1M405.0 259.3h1.1M404.5 255.5h1.1M402.5 263.4h1.1M401.8 256.0h1.1M405.5 252.6h1.1M405.8 258.8h1.1M405.6 259.8h1.1M407.2 257.6h1.1M410.0 250.8h1.1M398.5 257.7h1.1M401.9 263.6h1.1M406.1 261.8h1.1M404.4 256.5h1.1M402.9 255.5h1.1M403.7 264.7h1.1M399.7 251.1h1.1M402.1 258.2h1.1M405.4 256.6h1.1M408.9 256.0h1.1M406.8 256.5h1.1M397.2 265.4h1.1M404.3 255.2h1.1M401.7 265.2h1.1M400.6 259.8h1.1M399.9 256.0h1.1M407.3 260.9h1.1M410.5 249.8h1.1M404.5 260.8h1.1M407.6 256.9h1.1M405.1 263.3h1.1M408.3 253.4h1.1M410.8 257.8h1.1M402.8 253.8h1.1M403.9 258.1h1.1M408.7 250.0h1.1M401.6 262.0h1.1M408.3 252.6h1.1M406.2 255.8h1.1M401.8 262.7h1.1M403.1 258.5h1.1M403.1 256.9h1.1M408.4 255.0h1.1M407.7 257.5h1.1M408.5 264.6h1.1M401.4 255.5h1.1M401.9 257.6h1.1M404.3 265.6h1.1M407.7 255.6h1.1M404.9 265.2h1.1M401.2 251.8h1.1M393.8 254.3h1.1M398.3 257.5h1.1M414.5 260.3h1.1M405.6 254.7h1.1M397.3 262.8h1.1M404.7 260.7h1.1M413.4 257.2h1.1M407.0 259.1h1.1M396.6 255.5h1.1M410.7 259.7h1.1M397.2 257.5h1.1M401.1 256.7h1.1M387.9 254.6h1.1M402.4 254.1h1.1M410.6 257.8h1.1M413.7 258.6h1.1M399.0 256.8h1.1M400.0 255.3h1.1M398.1 260.1h1.1M398.5 257.7h1.1M402.2 261.1h1.1M407.1 252.7h1.1M413.5 261.7h1.1M405.9 264.7h1.1M401.2 257.9h1.1M408.7 255.2h1.1M405.2 256.5h1.1M406.2 260.7h1.1M398.4 260.4h1.1M406.9 259.1h1.1M409.3 257.1h1.1M401.8 261.5h1.1M407.8 257.4h1.1M404.8 261.1h1.1M394.1 258.8h1.1M402.6 263.8h1.1M394.2 257.7h1.1M408.0 252.5h1.1M409.3 256.8h1.1M400.2 255.3h1.1M407.9 257.9h1.1M402.6 259.5h1.1M393.6 257.0h1.1M401.0 257.5h1.1M407.6 255.8h1.1M404.4 253.0h1.1M403.4 255.4h1.1M397.0 264.9h1.1M403.7 256.9h1.1M390.4 254.3h1.1M396.7 259.0h1.1M409.4 259.9h1.1M395.7 251.9h1.1M396.1 263.9h1.1M400.0 254.5h1.1M405.7 251.2h1.1M396.8 252.2h1.1M401.6 258.9h1.1M399.7 256.8h1.1M396.0 257.0h1.1M381.0 262.6h1.1M390.5 258.5h1.1M424.0 256.6h1.1M379.8 249.5h1.1M389.6 261.2h1.1M360.0 264.3h1.1M397.2 255.1h1.1M408.9 253.7h1.1M400.9 251.7h1.1M407.1 247.7h1.1M380.5 258.2h1.1M399.8 258.8h1.1M389.7 260.3h1.1M426.6 255.0h1.1M397.3 253.7h1.1M383.6 258.8h1.1M400.0 265.1h1.1M415.3 262.9h1.1M397.9 256.4h1.1M417.2 258.5h1.1M408.6 256.7h1.1M389.6 260.0h1.1M386.2 263.6h1.1M410.7 251.2h1.1M403.8 252.6h1.1M377.3 261.1h1.1M385.7 261.8h1.1M397.0 261.5h1.1M386.3 263.9h1.1M384.1 264.8h1.1M377.9 255.0h1.1M402.7 265.9h1.1M387.9 261.9h1.1M411.0 258.3h1.1M425.5 254.6h1.1M402.7 247.4h1.1M394.4 265.2h1.1M404.6 248.5h1.1M397.2 263.7h1.1M396.7 253.3h1.1M370.8 264.7h1.1M388.2 261.5h1.1M404.9 269.9h1.1M403.1 267.3h1.1M394.1 255.9h1.1M394.2 252.4h1.1M386.7 258.6h1.1M396.6 256.1h1.1M382.1 260.2h1.1M405.2 253.5h1.1M390.7 258.8h1.1M389.1 261.6h1.1M404.3 250.1h1.1M395.5 250.8h1.1M386.3 262.1h1.1M404.4 253.9h1.1M385.2 258.5h1.1M395.9 248.5h1.1M384.2 259.9h1.1M401.8 254.8h1.1M389.9 246.0h1.1M403.2 263.7h1.1M405.5 258.2h1.1M395.4 251.9h1.1M394.5 266.4h1.1M391.6 256.1h1.1M408.3 260.1h1.1M389.9 260.9h1.1M420.1 257.8h1.1M385.1 263.3h1.1M391.7 257.5h1.1M395.9 265.1h1.1M406.7 249.4h1.1M385.6 266.4h1.1M380.3 259.2h1.1M407.0 248.6h1.1M395.8 257.5h1.1M398.6 257.2h1.1M392.1 252.6h1.1M405.3 257.8h1.1M412.9 250.6h1.1M395.0 261.2h1.1M410.5 257.7h1.1M387.6 254.7h1.1M388.5 250.0h1.1M409.0 253.4h1.1M391.9 252.2h1.1M386.6 262.2h1.1M398.8 258.1h1.1M395.3 252.5h1.1M392.6 258.2h1.1M390.3 260.8h1.1M384.9 257.9h1.1M411.9 265.4h1.1M403.3 252.1h1.1M395.0 255.9h1.1M405.1 252.4h1.1M389.9 254.7h1.1M403.8 248.9h1.1M378.5 267.2h1.1M405.4 258.2h1.1M389.9 262.4h1.1M397.2 259.2h1.1M394.0 267.5h1.1M401.2 258.8h1.1M393.8 255.7h1.1M404.0 252.5h1.1M396.3 258.8h1.1M379.2 249.8h1.1M388.1 261.3h1.1M387.0 259.4h1.1M391.5 259.3h1.1M394.2 263.3h1.1M391.2 261.2h1.1M382.7 263.2h1.1M384.0 258.6h1.1M387.9 253.5h1.1M412.5 254.1h1.1M406.9 261.4h1.1M392.6 258.7h1.1M396.2 266.3h1.1M386.1 258.9h1.1M375.8 248.1h1.1M398.9 257.5h1.1M397.7 263.2h1.1M405.4 254.5h1.1M371.9 259.5h1.1M390.0 257.6h1.1M391.4 247.9h1.1M375.3 260.0h1.1M372.9 251.8h1.1M366.3 256.8h1.1M397.9 260.7h1.1M386.9 254.5h1.1M393.6 257.3h1.1M379.6 254.2h1.1M396.7 252.1h1.1M390.8 245.7h1.1M371.3 258.0h1.1M391.8 256.9h1.1M404.3 262.5h1.1M384.3 262.0h1.1M387.3 264.3h1.1M395.3 256.7h1.1M396.4 262.3h1.1M409.8 261.4h1.1M406.2 256.2h1.1M388.8 253.4h1.1M405.1 254.8h1.1M400.4 261.3h1.1M386.0 264.0h1.1M394.4 256.3h1.1M383.3 265.9h1.1M382.1 255.2h1.1M402.7 256.0h1.1M394.7 255.8h1.1M391.9 266.4h1.1M384.4 256.9h1.1M388.1 257.6h1.1M377.8 260.1h1.1M396.8 253.8h1.1M400.3 254.0h1.1M408.9 254.1h1.1M402.4 262.5h1.1M397.7 251.9h1.1M394.9 250.3h1.1M424.5 253.1h1.1M372.9 260.0h1.1M406.0 252.7h1.1M421.9 254.7h1.1M403.7 254.1h1.1M397.0 254.1h1.1M403.3 264.4h1.1M396.8 258.7h1.1M396.5 264.7h1.1M402.4 254.6h1.1M386.9 259.5h1.1M381.0 250.4h1.1M416.7 258.3h1.1M383.0 253.1h1.1M398.7 254.5h1.1M395.6 255.6h1.1M392.3 257.9h1.1M400.5 253.7h1.1M404.0 255.4h1.1M402.0 261.8h1.1M387.7 254.2h1.1M420.9 257.7h1.1M393.3 261.4h1.1M407.0 265.8h1.1M375.4 263.7h1.1M396.6 261.4h1.1M383.9 259.7h1.1M383.5 263.8h1.1M398.2 260.0h1.1M372.8 259.5h1.1M407.3 256.0h1.1M388.5 250.7h1.1M364.5 259.1h1.1M388.1 256.9h1.1M382.7 259.9h1.1M415.4 253.9h1.1M410.2 260.7h1.1M413.5 251.5h1.1M383.0 251.0h1.1M415.5 252.1h1.1M387.8 252.3h1.1M384.5 260.3h1.1M384.7 258.1h1.1M414.0 251.8h1.1M389.9 253.4h1.1M396.5 251.4h1.1M385.4 256.3h1.1M396.7 279.5h1.1M415.7 275.5h1.1M403.5 274.3h1.1M404.2 269.0h1.1M386.9 284.9h1.1M391.5 267.1h1.1M398.8 286.1h1.1M396.7 264.9h1.1M403.1 265.0h1.1M408.4 261.0h1.1M392.6 277.0h1.1M400.1 264.7h1.1M403.0 263.1h1.1M408.3 283.1h1.1M402.6 271.4h1.1M398.9 271.0h1.1M404.3 270.6h1.1M402.6 272.0h1.1M399.2 282.2h1.1M396.0 275.8h1.1M409.9 272.2h1.1M397.9 263.1h1.1M406.3 258.9h1.1M399.4 252.5h1.1M411.3 278.7h1.1M399.4 255.1h1.1M411.0 261.5h1.1M403.3 264.8h1.1M392.0 265.7h1.1M403.7 260.1h1.1M395.2 265.8h1.1M389.8 277.0h1.1M396.0 259.4h1.1M401.9 252.2h1.1M400.4 266.1h1.1M401.5 268.8h1.1M388.4 268.9h1.1M384.4 273.8h1.1M415.2 256.7h1.1M408.5 264.4h1.1M407.9 265.0h1.1M397.1 262.7h1.1M397.9 262.2h1.1M409.8 270.2h1.1M406.2 270.8h1.1M397.5 266.0h1.1M395.2 251.4h1.1M403.8 261.5h1.1M389.3 262.8h1.1M388.0 251.6h1.1M403.6 276.5h1.1M399.3 272.0h1.1M397.9 249.1h1.1M398.1 255.9h1.1M387.8 273.2h1.1M413.1 259.2h1.1M412.9 274.0h1.1M396.2 266.7h1.1M395.4 264.1h1.1M397.7 268.1h1.1M399.5 278.2h1.1M411.3 281.3h1.1M394.4 281.4h1.1M398.4 265.3h1.1M394.5 260.7h1.1M393.8 261.6h1.1M413.9 252.9h1.1M392.9 259.0h1.1M394.6 252.8h1.1M396.2 268.0h1.1M402.5 262.0h1.1M400.1 274.3h1.1M394.5 274.1h1.1M390.3 260.1h1.1M396.4 260.9h1.1M397.0 256.6h1.1M402.3 258.5h1.1M394.3 267.5h1.1M406.3 260.1h1.1M410.0 286.7h1.1M398.8 271.6h1.1M388.3 264.5h1.1M395.6 268.2h1.1M394.7 260.8h1.1M392.9 272.1h1.1M412.0 272.6h1.1M410.7 273.0h1.1M406.5 270.4h1.1M396.3 275.8h1.1M397.8 260.6h1.1M394.2 268.6h1.1M390.5 272.1h1.1M404.2 276.8h1.1M400.8 261.5h1.1M395.3 267.2h1.1M401.0 259.5h1.1M400.8 274.6h1.1M394.0 269.1h1.1M400.7 271.6h1.1M407.4 274.2h1.1M401.2 265.3h1.1M394.4 265.5h1.1M404.0 277.8h1.1M407.7 265.8h1.1M398.9 254.8h1.1M396.1 276.2h1.1M400.9 253.9h1.1M403.4 270.7h1.1M410.7 264.9h1.1M377.9 268.7h1.1M398.1 266.0h1.1M407.1 271.7h1.1M393.7 262.3h1.1M409.0 281.5h1.1M405.3 271.6h1.1M405.0 262.2h1.1M389.4 258.0h1.1M391.1 272.3h1.1M393.0 277.4h1.1M404.8 262.1h1.1M408.5 269.2h1.1M403.9 254.0h1.1M401.9 269.0h1.1M403.0 274.0h1.1M400.6 281.9h1.1M402.3 263.5h1.1M390.6 266.6h1.1M406.9 263.2h1.1M355.4 260.5h1.1M349.3 265.4h1.1M381.2 262.0h1.1M376.9 265.3h1.1M368.9 266.0h1.1M377.8 249.3h1.1M377.7 269.3h1.1M378.6 263.3h1.1M369.5 247.6h1.1M374.5 275.9h1.1M381.8 267.3h1.1M358.9 267.9h1.1M390.1 242.3h1.1M369.5 263.1h1.1M359.9 256.9h1.1M380.8 261.8h1.1M339.6 270.0h1.1M366.4 252.4h1.1M381.4 256.9h1.1M372.0 259.4h1.1M364.4 248.0h1.1M365.5 270.3h1.1M356.2 275.9h1.1M358.3 255.4h1.1M365.0 262.0h1.1M374.9 273.0h1.1M369.3 260.8h1.1M354.7 264.5h1.1M341.9 260.1h1.1M359.8 272.4h1.1M379.6 278.6h1.1M374.0 265.3h1.1M388.9 271.1h1.1M367.8 256.2h1.1M381.9 262.2h1.1M368.2 265.8h1.1M354.3 254.0h1.1M376.9 262.9h1.1M365.5 259.9h1.1M369.4 265.6h1.1M387.3 261.8h1.1M370.3 271.5h1.1M360.0 262.4h1.1M362.6 270.6h1.1M358.2 269.4h1.1M366.3 263.8h1.1M380.1 260.6h1.1M377.9 267.6h1.1M393.4 256.6h1.1M367.4 272.4h1.1M357.3 280.2h1.1M375.9 261.5h1.1M372.1 256.0h1.1M379.7 280.7h1.1M367.8 260.2h1.1M366.9 275.9h1.1M363.0 266.0h1.1M357.4 279.5h1.1M388.6 259.7h1.1M360.7 263.2h1.1M371.7 261.8h1.1M375.9 248.1h1.1M379.6 275.5h1.1M408.5 255.1h1.1M383.0 273.7h1.1M375.7 253.0h1.1M372.0 260.5h1.1M377.7 264.6h1.1M377.0 259.0h1.1M387.6 252.6h1.1M381.8 264.8h1.1M363.6 260.5h1.1M392.1 268.2h1.1M360.9 268.5h1.1M383.8 260.0h1.1M389.1 258.1h1.1M391.8 260.8h1.1M380.6 261.0h1.1M382.5 257.8h1.1M381.4 259.6h1.1M366.0 263.5h1.1M389.6 261.1h1.1M380.9 263.2h1.1M367.2 258.9h1.1M382.2 257.6h1.1M364.1 265.6h1.1M395.0 266.1h1.1M384.4 259.2h1.1M380.3 263.9h1.1M381.3 266.5h1.1M366.6 257.3h1.1M369.1 256.4h1.1M367.1 265.0h1.1M382.9 257.0h1.1M389.2 257.7h1.1M382.0 254.0h1.1M396.3 258.5h1.1M360.4 251.8h1.1M369.9 263.6h1.1M384.4 266.7h1.1M378.4 260.9h1.1M380.5 258.5h1.1M381.8 262.2h1.1M385.4 256.3h1.1M371.6 256.1h1.1M384.3 269.3h1.1M372.0 263.2h1.1M378.3 264.1h1.1M386.6 268.9h1.1M385.5 262.8h1.1M366.6 267.0h1.1M391.5 252.8h1.1M398.4 265.5h1.1M378.6 255.0h1.1M384.7 257.7h1.1M376.3 257.2h1.1M395.6 261.7h1.1M395.9 261.9h1.1M377.1 256.1h1.1M370.0 269.4h1.1M373.1 265.3h1.1M379.1 251.7h1.1M382.1 264.3h1.1M376.9 256.2h1.1M388.9 256.5h1.1M401.0 261.1h1.1M384.5 264.7h1.1M366.9 253.9h1.1M384.2 261.1h1.1M378.7 265.1h1.1M374.1 245.9h1.1M371.9 268.7h1.1M386.0 255.1h1.1M395.9 261.9h1.1M378.7 262.3h1.1M377.0 258.6h1.1M368.6 266.3h1.1M391.8 260.4h1.1M387.2 248.6h1.1M381.2 290.3h1.1M349.7 273.3h1.1M349.7 291.2h1.1M348.6 304.3h1.1M364.4 299.1h1.1M370.0 290.5h1.1M342.6 284.2h1.1M350.0 289.9h1.1M337.9 280.7h1.1M357.0 271.0h1.1M361.3 279.0h1.1M328.3 288.5h1.1M351.7 248.7h1.1M338.9 260.1h1.1M350.3 278.4h1.1M355.1 302.0h1.1M333.5 282.9h1.1M359.4 282.1h1.1M361.4 280.4h1.1M351.0 284.2h1.1M349.7 285.1h1.1M358.8 280.5h1.1M330.1 293.3h1.1M341.3 317.9h1.1M368.3 268.5h1.1M412.6 289.8h1.1M383.8 298.1h1.1M354.3 275.2h1.1M412.8 278.5h1.1M412.9 298.3h1.1M384.4 279.5h1.1M426.5 285.5h1.1"/>
<path d="M407.5 257.4h1.1M402.7 261.5h1.1M406.4 258.5h1.1M403.6 253.9h1.1M404.9 258.3h1.1M404.8 257.3h1.1M399.6 261.3h1.1M407.8 261.2h1.1M402.4 261.2h1.1M405.2 255.4h1.1M401.8 258.0h1.1M402.6 252.2h1.1M403.8 253.7h1.1M406.0 260.3h1.1M405.2 257.2h1.1M399.0 255.8h1.1M407.5 261.3h1.1M407.2 260.2h1.1M401.6 255.0h1.1M400.4 260.2h1.1M405.9 266.1h1.1M403.1 253.3h1.1M407.4 252.7h1.1M403.7 257.1h1.1M404.9 264.3h1.1M406.1 261.4h1.1M405.3 262.4h1.1M409.9 259.1h1.1M407.4 259.4h1.1M408.6 257.2h1.1M404.1 254.1h1.1M404.6 258.7h1.1M406.9 263.3h1.1M402.6 256.9h1.1M405.6 260.2h1.1M403.2 258.9h1.1M402.6 257.0h1.1M404.5 260.9h1.1M404.9 265.2h1.1M404.5 258.0h1.1M403.8 254.3h1.1M409.2 263.6h1.1M404.5 259.5h1.1M405.8 253.3h1.1M411.9 254.4h1.1M406.2 254.5h1.1M403.2 258.5h1.1M405.0 254.0h1.1M404.2 258.2h1.1M408.3 258.5h1.1M405.8 257.5h1.1M403.5 255.2h1.1M407.9 254.1h1.1M403.8 263.8h1.1M406.6 251.3h1.1M408.7 252.8h1.1M403.5 263.3h1.1M401.1 258.0h1.1M405.5 259.9h1.1M403.9 257.1h1.1M402.4 257.5h1.1M406.4 256.7h1.1M409.0 257.4h1.1M401.9 259.4h1.1M401.9 259.5h1.1M408.4 258.9h1.1M404.4 255.5h1.1M400.5 261.4h1.1M398.1 260.9h1.1M403.2 250.7h1.1M411.3 261.2h1.1M399.7 255.4h1.1M399.3 256.0h1.1M403.1 263.5h1.1M405.1 257.6h1.1M405.7 250.1h1.1M397.7 256.0h1.1M388.6 256.8h1.1M417.4 258.8h1.1M404.1 249.8h1.1M393.8 260.3h1.1M399.1 260.6h1.1M403.9 246.0h1.1M395.7 261.9h1.1M401.3 265.7h1.1M414.2 259.1h1.1M397.1 257.2h1.1M407.4 255.0h1.1M402.6 257.4h1.1M402.9 256.4h1.1M398.9 262.7h1.1M405.4 255.7h1.1M408.4 258.8h1.1M400.5 267.8h1.1M404.3 256.9h1.1M405.1 255.1h1.1M400.1 255.6h1.1M397.5 255.3h1.1M401.2 257.1h1.1M405.0 262.8h1.1M411.1 259.0h1.1M411.3 262.2h1.1M407.6 261.0h1.1M396.2 262.3h1.1M395.9 265.7h1.1M394.6 260.8h1.1M401.8 257.6h1.1M394.7 252.4h1.1M398.2 259.6h1.1M400.0 261.4h1.1M405.1 253.6h1.1M400.2 262.5h1.1M398.6 250.3h1.1M401.4 265.6h1.1M403.2 254.6h1.1M397.6 260.9h1.1M404.0 257.7h1.1M401.9 263.0h1.1M398.8 262.9h1.1M401.8 248.9h1.1M404.6 264.0h1.1M403.9 257.9h1.1M404.4 253.2h1.1M399.3 256.8h1.1M399.5 259.5h1.1M409.4 261.5h1.1M411.5 257.0h1.1M415.3 260.0h1.1M400.3 267.5h1.1M383.3 261.4h1.1M408.3 253.1h1.1M410.9 249.3h1.1M397.5 250.8h1.1M388.9 258.3h1.1M365.9 257.0h1.1M397.2 258.9h1.1M400.4 252.2h1.1M413.1 252.2h1.1M418.7 256.9h1.1M377.5 250.4h1.1M412.1 260.8h1.1M407.5 267.3h1.1M427.2 254.2h1.1M388.0 266.3h1.1M412.6 254.7h1.1M400.9 263.5h1.1M388.5 263.6h1.1M399.0 249.9h1.1M416.1 258.9h1.1M403.4 257.6h1.1M375.8 252.7h1.1M394.6 261.3h1.1M413.9 262.2h1.1M386.4 265.1h1.1M387.7 257.2h1.1M395.0 257.6h1.1M381.3 266.9h1.1M412.9 253.5h1.1M408.4 251.8h1.1M410.2 254.0h1.1M422.4 250.8h1.1M366.5 252.2h1.1M387.4 255.7h1.1M418.2 254.2h1.1M389.3 253.3h1.1M386.7 258.9h1.1M406.6 258.4h1.1M389.2 252.3h1.1M387.6 263.3h1.1M381.3 265.3h1.1M393.3 262.9h1.1M393.7 255.9h1.1M383.5 251.9h1.1M368.3 260.7h1.1M366.8 256.2h1.1M405.5 252.4h1.1M397.9 255.0h1.1M409.1 259.3h1.1M406.5 250.5h1.1M392.1 258.5h1.1M381.5 255.2h1.1M388.8 257.5h1.1M420.5 250.5h1.1M388.0 246.0h1.1M404.2 251.4h1.1M392.5 257.9h1.1M391.0 255.4h1.1M389.3 255.7h1.1M386.9 262.4h1.1M403.3 258.1h1.1M407.7 250.0h1.1M382.4 259.6h1.1M404.6 266.4h1.1M391.2 266.5h1.1M378.4 252.1h1.1M382.2 257.8h1.1M382.8 255.1h1.1M405.2 250.5h1.1M413.2 253.4h1.1M379.9 253.6h1.1M384.2 247.9h1.1M392.1 259.7h1.1M385.0 260.3h1.1M397.4 259.5h1.1M400.9 254.1h1.1M415.6 258.9h1.1M390.6 265.8h1.1M401.1 267.5h1.1M409.6 263.9h1.1M394.3 256.7h1.1M408.5 254.0h1.1M404.2 254.3h1.1M390.3 263.4h1.1M391.9 261.3h1.1M389.9 267.0h1.1M401.6 246.1h1.1M415.9 264.9h1.1M405.0 265.2h1.1M390.5 252.6h1.1M389.5 258.0h1.1M383.8 257.0h1.1M406.4 251.4h1.1M402.2 259.3h1.1M390.2 263.9h1.1M415.0 259.6h1.1M403.0 255.9h1.1M411.3 259.0h1.1M380.6 258.1h1.1M379.1 257.2h1.1M381.3 259.9h1.1M410.7 254.6h1.1M404.2 263.7h1.1M417.0 247.4h1.1M390.7 253.8h1.1M395.0 258.1h1.1M425.8 259.4h1.1M416.4 255.6h1.1M387.4 256.5h1.1M407.1 259.9h1.1M400.3 261.6h1.1M415.8 261.8h1.1M406.3 258.7h1.1M383.3 260.2h1.1M406.7 264.7h1.1M380.1 257.0h1.1M396.2 264.1h1.1M394.7 250.1h1.1M413.3 255.8h1.1M391.2 252.3h1.1M410.4 252.4h1.1M394.4 257.9h1.1M391.5 258.8h1.1M390.3 257.8h1.1M382.9 257.2h1.1M383.5 257.0h1.1M393.5 260.9h1.1M408.6 249.6h1.1M391.9 262.2h1.1M388.4 269.6h1.1M389.8 264.7h1.1M416.7 256.5h1.1M391.5 269.2h1.1M384.2 256.9h1.1M389.1 266.8h1.1M400.8 255.7h1.1M406.4 251.8h1.1M409.0 251.0h1.1M390.7 258.8h1.1M378.2 266.4h1.1M382.8 252.7h1.1M415.7 255.8h1.1M398.8 256.1h1.1M400.1 264.2h1.1M395.9 260.4h1.1M394.9 257.0h1.1M366.9 262.5h1.1M406.8 244.2h1.1M392.9 256.1h1.1M404.8 248.1h1.1M380.1 257.9h1.1M402.8 261.2h1.1M367.9 260.0h1.1M380.5 256.9h1.1M399.2 252.4h1.1M381.7 253.5h1.1M385.3 253.9h1.1M423.8 254.4h1.1M395.2 253.8h1.1M392.2 259.4h1.1M394.8 256.4h1.1M395.8 263.7h1.1M412.7 255.3h1.1M380.2 257.1h1.1M396.5 247.1h1.1M384.2 260.1h1.1M391.1 253.6h1.1M394.1 263.6h1.1M407.7 253.8h1.1M394.6 258.9h1.1M396.2 254.7h1.1M374.7 251.2h1.1M388.4 258.0h1.1M394.2 253.4h1.1M404.1 261.9h1.1M390.0 251.4h1.1M410.6 251.5h1.1M387.5 262.4h1.1M402.6 252.5h1.1M384.1 258.9h1.1M399.8 246.1h1.1M403.4 253.4h1.1M380.5 258.5h1.1M403.8 250.5h1.1M367.1 255.9h1.1M384.9 259.6h1.1M388.5 257.8h1.1M400.4 261.7h1.1M401.8 251.8h1.1M376.5 255.9h1.1M397.9 265.3h1.1M382.1 262.2h1.1M406.2 261.2h1.1M408.5 265.6h1.1M402.5 254.0h1.1M386.9 251.9h1.1M408.7 262.5h1.1M389.6 258.2h1.1M413.0 264.6h1.1M394.9 258.7h1.1M391.1 250.1h1.1M383.8 262.4h1.1M416.2 259.6h1.1M372.8 259.9h1.1M391.5 258.5h1.1M372.8 257.7h1.1M384.7 258.4h1.1M402.3 254.4h1.1M396.1 261.9h1.1M379.0 253.9h1.1M398.4 268.2h1.1M378.9 252.2h1.1M394.5 261.5h1.1M399.7 251.0h1.1M409.9 269.3h1.1M375.3 266.2h1.1M399.2 266.6h1.1M400.7 250.4h1.1M405.6 265.1h1.1M401.7 272.5h1.1M398.7 259.1h1.1M391.4 255.4h1.1M385.5 253.8h1.1M394.9 259.9h1.1M398.7 267.0h1.1M393.0 254.5h1.1M412.4 252.3h1.1M395.2 268.4h1.1M393.2 272.6h1.1M399.9 263.6h1.1M395.0 263.6h1.1M392.6 274.5h1.1M398.7 253.2h1.1M396.7 265.9h1.1M408.8 278.6h1.1M399.0 263.9h1.1M397.4 253.5h1.1M406.8 275.8h1.1M397.5 261.3h1.1M400.6 263.9h1.1M389.5 275.6h1.1M409.7 256.3h1.1M394.6 278.7h1.1M391.1 260.3h1.1M399.6 267.3h1.1M399.8 281.3h1.1M392.7 267.1h1.1M406.3 264.8h1.1M390.3 266.4h1.1M391.8 275.6h1.1M388.2 264.8h1.1M402.8 280.9h1.1M397.1 258.7h1.1M400.1 275.1h1.1M397.5 268.9h1.1M401.6 261.2h1.1M405.5 270.9h1.1M412.2 268.5h1.1M388.8 258.2h1.1M415.2 287.8h1.1M387.6 271.0h1.1M404.4 269.3h1.1M386.3 264.0h1.1M395.4 258.9h1.1M395.3 268.3h1.1M388.8 266.4h1.1M386.3 269.2h1.1M398.7 270.6h1.1M401.4 267.5h1.1M412.0 272.3h1.1M386.7 267.7h1.1M400.4 257.8h1.1M403.8 255.1h1.1M398.7 265.0h1.1M395.5 272.4h1.1M400.2 262.3h1.1M395.6 267.3h1.1M401.4 256.6h1.1M406.7 269.8h1.1M399.8 277.9h1.1M415.4 264.0h1.1M405.2 258.7h1.1M388.8 276.3h1.1M400.5 280.3h1.1M390.9 266.3h1.1M405.6 272.5h1.1M388.9 281.9h1.1M408.6 257.3h1.1M401.9 252.8h1.1M404.8 258.4h1.1M395.7 269.3h1.1M416.4 259.3h1.1M390.6 258.3h1.1M408.7 256.3h1.1M414.4 256.4h1.1M394.2 269.5h1.1M400.4 279.4h1.1M402.2 274.7h1.1M396.7 270.9h1.1M391.7 277.5h1.1M396.9 273.4h1.1M397.8 262.5h1.1M401.3 270.2h1.1M386.5 265.9h1.1M413.0 262.7h1.1M395.3 263.8h1.1M394.3 275.4h1.1M402.1 260.3h1.1M399.6 268.4h1.1M406.3 270.9h1.1M395.6 280.1h1.1M405.0 267.0h1.1M408.6 266.1h1.1M382.2 265.0h1.1M402.8 274.2h1.1M404.0 254.6h1.1M405.9 272.4h1.1M394.8 269.8h1.1M402.5 270.1h1.1M392.0 266.3h1.1M395.7 264.3h1.1M400.0 266.0h1.1M402.3 255.0h1.1M408.0 260.2h1.1M412.3 263.9h1.1M385.2 258.6h1.1M397.5 269.3h1.1M392.7 257.0h1.1M399.2 264.8h1.1M400.2 276.6h1.1M404.0 275.3h1.1M397.6 263.5h1.1M402.0 261.8h1.1M400.4 262.1h1.1M416.3 271.2h1.1M404.6 264.6h1.1M402.8 276.3h1.1M412.2 274.3h1.1M406.1 264.8h1.1M404.8 260.2h1.1M397.8 261.6h1.1M409.3 275.3h1.1M370.7 274.8h1.1M378.6 267.6h1.1M372.8 256.0h1.1M380.0 263.9h1.1M379.4 265.0h1.1M371.8 259.6h1.1M383.6 255.9h1.1M360.6 278.1h1.1M388.8 253.7h1.1M385.4 264.7h1.1M378.2 260.9h1.1M382.7 265.4h1.1M381.7 272.5h1.1M382.9 269.3h1.1M368.8 261.5h1.1M381.6 272.0h1.1M386.5 264.4h1.1M372.5 269.0h1.1M355.4 267.7h1.1M350.4 265.3h1.1M369.8 267.9h1.1M368.2 262.9h1.1M353.0 266.6h1.1M372.3 259.8h1.1M364.5 263.9h1.1M368.7 269.8h1.1M354.5 288.6h1.1M354.5 260.6h1.1M380.9 257.6h1.1M387.3 259.6h1.1M382.6 271.9h1.1M364.2 254.4h1.1M380.6 282.8h1.1M371.8 260.7h1.1M351.3 265.3h1.1M379.7 274.4h1.1M369.1 265.2h1.1M364.7 280.7h1.1M363.2 257.7h1.1M380.6 263.5h1.1M368.0 270.9h1.1M389.9 265.5h1.1M349.6 263.5h1.1M374.0 250.2h1.1M389.6 263.1h1.1M354.1 264.4h1.1M361.9 273.3h1.1M360.9 254.5h1.1M365.4 276.4h1.1M375.0 268.6h1.1M385.1 267.0h1.1M384.5 258.2h1.1M376.9 258.0h1.1M375.8 264.5h1.1M364.7 266.3h1.1M364.3 265.5h1.1M354.0 273.1h1.1M395.5 261.6h1.1M368.8 261.5h1.1M373.5 270.9h1.1M356.2 275.9h1.1M375.3 268.7h1.1M376.9 264.7h1.1M365.7 267.0h1.1M393.7 261.6h1.1M377.6 258.1h1.1M364.9 268.2h1.1M394.1 258.0h1.1M379.7 262.0h1.1M381.9 266.2h1.1M368.3 255.4h1.1M385.7 264.9h1.1M388.8 256.7h1.1M384.1 263.9h1.1M386.2 260.8h1.1M374.9 258.9h1.1M392.2 252.7h1.1M378.6 265.4h1.1M377.0 260.8h1.1M389.6 261.7h1.1M380.2 257.6h1.1M401.0 269.3h1.1M384.8 255.9h1.1M377.4 260.8h1.1M365.3 264.4h1.1M368.8 256.3h1.1M380.3 251.5h1.1M386.8 259.6h1.1M372.0 257.4h1.1M370.5 253.0h1.1M385.5 257.7h1.1M379.9 264.7h1.1M388.6 261.7h1.1M377.5 258.2h1.1M371.5 251.8h1.1M372.9 260.8h1.1M385.5 259.0h1.1M383.0 259.7h1.1M366.3 264.2h1.1M387.0 257.3h1.1M385.7 268.6h1.1M385.9 264.2h1.1M377.3 262.5h1.1M376.4 258.9h1.1M367.0 257.6h1.1M380.0 261.0h1.1M390.9 258.7h1.1M376.6 257.0h1.1M381.9 256.4h1.1M378.5 263.0h1.1M389.2 265.5h1.1M374.0 262.6h1.1M366.4 257.9h1.1M372.7 259.2h1.1M378.3 248.9h1.1M361.8 259.8h1.1M378.8 255.4h1.1M389.4 253.7h1.1M376.1 264.6h1.1M380.9 249.5h1.1M365.7 256.2h1.1M388.8 269.2h1.1M391.0 257.6h1.1M393.4 256.6h1.1M374.0 254.0h1.1M388.6 261.9h1.1M377.3 264.7h1.1M371.7 258.3h1.1M373.4 259.9h1.1M382.5 262.9h1.1M370.6 256.5h1.1M357.2 258.5h1.1M360.5 256.6h1.1M384.2 262.2h1.1M361.1 254.3h1.1M377.5 259.3h1.1M376.0 259.5h1.1M381.1 270.7h1.1M389.9 254.1h1.1M362.8 310.0h1.1M335.8 273.6h1.1M343.4 257.8h1.1M348.4 280.5h1.1M361.1 267.9h1.1M349.6 268.0h1.1M336.3 262.0h1.1M340.2 297.2h1.1M360.0 273.4h1.1M349.5 287.7h1.1M339.1 291.1h1.1M365.5 299.8h1.1M372.9 276.3h1.1M351.5 277.2h1.1M362.7 309.9h1.1M345.3 300.6h1.1M327.1 279.6h1.1M365.7 273.6h1.1M355.7 284.9h1.1M358.1 287.2h1.1M346.9 294.4h1.1M358.3 289.0h1.1M345.7 286.3h1.1M352.1 265.7h1.1M375.0 281.7h1.1M385.6 259.7h1.1M394.5 329.2h1.1M390.0 244.7h1.1M332.1 287.5h1.1M331.7 277.9h1.1M366.7 255.8h1.1"/>
<path d="M404.1 262.2h1.1M401.8 258.1h1.1M401.8 261.8h1.1M405.3 256.3h1.1M402.2 262.8h1.1M402.1 256.5h1.1M409.0 260.0h1.1M403.0 261.4h1.1M398.9 262.5h1.1M410.3 256.5h1.1M405.4 261.2h1.1M404.2 254.9h1.1M397.1 263.8h1.1M399.2 255.0h1.1M399.2 260.6h1.1M403.8 257.2h1.1M404.6 257.3h1.1M404.4 262.2h1.1M407.0 260.4h1.1M403.2 257.7h1.1M408.4 259.8h1.1M411.5 261.2h1.1M402.0 254.9h1.1M401.4 258.2h1.1M404.3 265.1h1.1M400.7 256.9h1.1M403.3 257.3h1.1M404.1 252.8h1.1M404.2 254.9h1.1M403.3 254.7h1.1M403.1 257.9h1.1M403.3 259.2h1.1M400.9 259.5h1.1M406.6 256.3h1.1M403.0 258.8h1.1M403.7 255.5h1.1M405.3 250.4h1.1M403.6 254.0h1.1M405.0 260.6h1.1M406.3 257.2h1.1M403.9 267.1h1.1M404.0 255.8h1.1M407.4 257.3h1.1M408.5 259.1h1.1M405.0 271.2h1.1M409.9 254.9h1.1M404.9 259.4h1.1M406.6 257.1h1.1M401.1 257.5h1.1M405.1 256.0h1.1M397.2 266.0h1.1M403.2 258.6h1.1M405.0 250.3h1.1M403.6 263.5h1.1M401.4 257.3h1.1M401.8 262.0h1.1M400.6 263.6h1.1M406.1 254.0h1.1M403.2 260.8h1.1M405.4 254.7h1.1M398.6 260.7h1.1M404.1 260.4h1.1M401.1 256.6h1.1M403.4 257.1h1.1M402.6 258.3h1.1M398.5 256.4h1.1M402.6 258.7h1.1M405.8 264.6h1.1M396.6 257.6h1.1M398.0 260.5h1.1M406.6 259.2h1.1M411.3 254.4h1.1M396.1 258.0h1.1M406.5 253.2h1.1M403.3 252.7h1.1M397.6 264.9h1.1M393.0 263.1h1.1M406.0 253.9h1.1M399.5 262.0h1.1M400.9 256.0h1.1M400.7 262.3h1.1M409.7 255.6h1.1M403.9 252.5h1.1M407.5 263.2h1.1M396.6 255.5h1.1M396.5 260.6h1.1M402.5 259.0h1.1M400.6 261.3h1.1M404.2 258.5h1.1M401.4 264.6h1.1M392.2 257.1h1.1M400.6 255.8h1.1M401.1 255.1h1.1M399.6 256.1h1.1M403.6 254.0h1.1M396.1 257.5h1.1M404.5 258.1h1.1M401.4 261.9h1.1M400.2 260.5h1.1M403.7 259.2h1.1M407.1 259.3h1.1M398.5 252.7h1.1M395.4 259.9h1.1M401.4 258.1h1.1M401.1 256.0h1.1M397.9 258.4h1.1M409.0 258.8h1.1M403.4 254.8h1.1M400.1 259.0h1.1M392.4 255.4h1.1M409.6 258.0h1.1M396.3 263.6h1.1M401.4 255.7h1.1M411.9 262.6h1.1M401.2 259.3h1.1M401.0 262.6h1.1M398.7 254.0h1.1M405.8 258.0h1.1M406.4 252.6h1.1M404.7 251.8h1.1M395.8 254.4h1.1M411.0 260.2h1.1M404.0 257.6h1.1M403.4 259.7h1.1M403.7 253.9h1.1M395.9 254.8h1.1M392.0 258.3h1.1M399.4 256.7h1.1M395.6 258.1h1.1M397.6 255.7h1.1M398.9 254.1h1.1M411.1 259.7h1.1M393.4 262.5h1.1M387.5 261.2h1.1M398.1 249.7h1.1M390.6 257.0h1.1M402.1 254.9h1.1M406.3 257.1h1.1M422.0 256.6h1.1M377.3 251.2h1.1M379.0 254.8h1.1M379.1 254.5h1.1M383.2 256.6h1.1M398.6 260.2h1.1M387.9 255.2h1.1M387.3 259.0h1.1M422.1 262.4h1.1M392.4 256.5h1.1M392.5 261.6h1.1M399.2 256.9h1.1M415.1 248.7h1.1M391.3 257.8h1.1M402.6 249.8h1.1M412.7 254.4h1.1M391.4 255.4h1.1M390.4 256.5h1.1M379.3 263.3h1.1M388.6 254.6h1.1M410.7 262.7h1.1M373.9 260.8h1.1M417.0 252.7h1.1M363.6 258.1h1.1M397.1 258.4h1.1M390.7 256.1h1.1M396.5 256.9h1.1M389.3 261.9h1.1M392.7 260.2h1.1M380.2 268.8h1.1M400.9 255.3h1.1M409.2 257.9h1.1M371.6 256.5h1.1M401.9 259.0h1.1M388.1 263.5h1.1M399.1 257.6h1.1M404.1 268.0h1.1M393.8 256.1h1.1M386.9 256.0h1.1M396.5 249.3h1.1M383.8 254.7h1.1M383.8 258.9h1.1M380.1 253.8h1.1M383.9 252.7h1.1M411.3 255.9h1.1M385.7 250.5h1.1M414.5 250.5h1.1M406.9 268.3h1.1M394.8 259.5h1.1M404.1 249.3h1.1M403.3 259.6h1.1M380.5 260.8h1.1M396.4 263.2h1.1M419.0 252.2h1.1M384.0 253.3h1.1M378.4 260.5h1.1M412.1 262.3h1.1M396.6 257.4h1.1M399.4 262.3h1.1M383.7 255.3h1.1M403.1 251.2h1.1M383.9 245.8h1.1M400.7 260.2h1.1M403.2 259.6h1.1M391.4 253.0h1.1M413.5 256.8h1.1M388.4 256.9h1.1M415.2 257.6h1.1M388.4 258.3h1.1M402.6 258.0h1.1M379.2 260.9h1.1M402.6 251.6h1.1M389.1 259.4h1.1M399.1 260.3h1.1M389.6 252.6h1.1M395.6 262.7h1.1M397.6 253.5h1.1M412.0 257.7h1.1M382.0 256.1h1.1M385.8 266.5h1.1M398.0 263.7h1.1M395.1 265.4h1.1M402.0 257.6h1.1M409.2 262.8h1.1M401.2 257.1h1.1M388.6 261.6h1.1M398.7 254.0h1.1M386.2 253.2h1.1M407.7 264.3h1.1M407.9 262.9h1.1M393.5 260.6h1.1M387.5 259.0h1.1M402.8 263.0h1.1M400.7 251.4h1.1M413.8 251.6h1.1M401.0 263.4h1.1M405.4 253.8h1.1M386.1 262.3h1.1M387.5 266.0h1.1M373.3 252.7h1.1M425.5 260.6h1.1M387.1 258.6h1.1M413.8 253.1h1.1M414.6 253.9h1.1M395.1 266.4h1.1M389.7 255.0h1.1M419.2 257.0h1.1M395.2 257.4h1.1M390.5 252.4h1.1M422.9 260.2h1.1M410.7 265.6h1.1M382.3 255.7h1.1M380.6 259.8h1.1M399.7 253.6h1.1M368.5 259.4h1.1M402.1 257.4h1.1M373.6 257.3h1.1M394.0 257.0h1.1M381.1 253.6h1.1M426.8 251.5h1.1M396.3 257.4h1.1M394.9 254.2h1.1M367.0 253.6h1.1M401.7 266.4h1.1M401.2 264.8h1.1M406.0 259.1h1.1M378.8 260.1h1.1M376.2 266.7h1.1M390.8 263.6h1.1M392.2 259.2h1.1M387.3 262.1h1.1M400.2 256.1h1.1M414.7 252.1h1.1M382.3 254.9h1.1M391.5 258.2h1.1M395.0 259.9h1.1M399.8 263.4h1.1M399.7 254.9h1.1M389.3 259.6h1.1M382.3 259.7h1.1M397.5 264.5h1.1M394.7 260.1h1.1M388.9 252.9h1.1M382.0 261.6h1.1M390.1 262.0h1.1M385.1 258.4h1.1M415.4 260.6h1.1M387.6 254.1h1.1M384.2 258.4h1.1M398.0 264.7h1.1M414.7 254.6h1.1M382.6 252.1h1.1M361.9 267.5h1.1M404.7 262.7h1.1M408.8 251.2h1.1M380.2 251.4h1.1M389.0 265.1h1.1M386.0 255.5h1.1M376.9 252.2h1.1M392.3 255.1h1.1M371.7 261.5h1.1M419.1 257.4h1.1M386.0 255.6h1.1M392.4 257.0h1.1M386.4 253.0h1.1M364.6 261.6h1.1M396.7 253.5h1.1M380.9 254.4h1.1M386.8 260.7h1.1M407.6 259.0h1.1M402.0 255.3h1.1M380.9 256.3h1.1M381.3 258.8h1.1M392.1 254.8h1.1M411.2 259.9h1.1M395.9 254.4h1.1M395.8 256.4h1.1M380.2 252.8h1.1M410.8 260.8h1.1M396.2 264.1h1.1M379.0 251.9h1.1M427.5 267.6h1.1M413.1 256.7h1.1M382.9 261.0h1.1M402.0 256.4h1.1M403.2 262.1h1.1M394.8 258.6h1.1M400.0 257.0h1.1M376.5 256.8h1.1M381.8 245.4h1.1M402.9 256.8h1.1M387.8 260.4h1.1M431.9 255.7h1.1M388.5 264.9h1.1M397.9 263.7h1.1M412.8 259.8h1.1M391.8 254.2h1.1M370.0 256.8h1.1M399.0 249.7h1.1M389.3 259.3h1.1M391.5 256.1h1.1M407.5 259.1h1.1M394.7 261.2h1.1M397.1 263.7h1.1M397.4 253.9h1.1M403.3 267.2h1.1M400.6 274.1h1.1M391.3 270.0h1.1M408.6 275.1h1.1M404.1 276.1h1.1M399.9 256.5h1.1M397.3 264.7h1.1M396.4 269.9h1.1M407.9 273.6h1.1M408.2 263.4h1.1M399.4 267.6h1.1M399.1 274.8h1.1M414.6 275.3h1.1M394.2 260.2h1.1M396.4 267.9h1.1M404.7 277.9h1.1M397.5 261.1h1.1M405.9 254.6h1.1M398.1 274.9h1.1M393.0 264.3h1.1M391.1 267.1h1.1M415.8 259.1h1.1M404.1 272.0h1.1M390.7 261.9h1.1M395.8 270.4h1.1M403.3 264.8h1.1M397.0 262.3h1.1M407.7 267.9h1.1M390.8 273.3h1.1M408.6 269.6h1.1M407.0 278.3h1.1M398.1 263.6h1.1M388.4 247.6h1.1M400.9 270.1h1.1M406.1 263.8h1.1M397.1 265.3h1.1M396.5 271.4h1.1M412.3 260.3h1.1M401.6 265.3h1.1M395.3 281.1h1.1M395.1 257.5h1.1M394.6 272.8h1.1M379.6 273.4h1.1M401.1 273.6h1.1M391.9 262.7h1.1M388.2 282.0h1.1M413.9 272.7h1.1M404.4 256.6h1.1M406.0 258.8h1.1M391.9 266.7h1.1M408.3 277.1h1.1M393.5 264.6h1.1M397.5 264.9h1.1M401.9 272.9h1.1M408.0 265.1h1.1M408.2 254.7h1.1M397.5 275.9h1.1M388.6 274.8h1.1M411.6 263.4h1.1M412.2 263.5h1.1M389.5 273.4h1.1M399.9 263.3h1.1M402.6 264.6h1.1M384.1 278.7h1.1M404.3 265.1h1.1M404.1 279.6h1.1M393.3 259.5h1.1M391.0 274.2h1.1M404.7 265.6h1.1M395.3 264.3h1.1M387.6 266.1h1.1M395.1 271.4h1.1M396.3 265.7h1.1M397.3 265.7h1.1M406.1 277.3h1.1M409.5 275.9h1.1M405.3 262.7h1.1M402.3 252.4h1.1M402.0 249.1h1.1M397.3 257.7h1.1M399.1 268.2h1.1M398.9 270.4h1.1M400.2 265.1h1.1M398.6 272.7h1.1M401.8 282.9h1.1M407.7 261.9h1.1M407.2 267.7h1.1M386.3 276.7h1.1M395.7 263.9h1.1M397.9 270.4h1.1M398.7 265.0h1.1M402.7 260.9h1.1M393.3 273.3h1.1M382.7 269.1h1.1M392.4 274.8h1.1M396.0 264.1h1.1M395.6 281.1h1.1M402.0 281.3h1.1M404.1 268.6h1.1M401.1 267.2h1.1M403.0 279.5h1.1M400.6 267.5h1.1M399.9 255.3h1.1M387.0 269.7h1.1M393.9 267.1h1.1M401.0 255.8h1.1M404.1 256.8h1.1M405.1 257.5h1.1M395.6 274.1h1.1M399.7 265.8h1.1M400.5 267.8h1.1M394.1 266.3h1.1M400.2 270.2h1.1M403.8 260.6h1.1M389.6 271.0h1.1M405.3 266.5h1.1M390.0 263.1h1.1M397.1 264.7h1.1M396.2 260.8h1.1M394.1 258.8h1.1M389.1 256.9h1.1M399.9 264.8h1.1M400.1 274.4h1.1M396.9 275.3h1.1M409.5 265.9h1.1M394.3 273.1h1.1M395.7 272.0h1.1M391.8 277.8h1.1M371.6 271.5h1.1M375.5 270.7h1.1M364.4 271.0h1.1M368.1 246.5h1.1M352.5 272.1h1.1M361.1 261.9h1.1M383.3 261.5h1.1M334.4 261.7h1.1M378.0 245.2h1.1M360.8 275.2h1.1M370.8 263.0h1.1M357.5 256.2h1.1M384.9 258.4h1.1M358.4 277.3h1.1M374.6 270.3h1.1M359.2 261.0h1.1M356.1 259.6h1.1M355.7 257.9h1.1M355.2 270.9h1.1M394.1 265.5h1.1M363.7 263.9h1.1M371.5 267.3h1.1M383.2 277.8h1.1M362.2 247.6h1.1M381.3 248.2h1.1M365.2 262.3h1.1M367.9 251.0h1.1M346.7 265.8h1.1M376.2 280.8h1.1M344.8 260.9h1.1M376.2 274.1h1.1M364.0 269.4h1.1M366.5 271.9h1.1M346.2 283.3h1.1M370.4 267.0h1.1M368.8 267.7h1.1M358.7 273.5h1.1M369.1 251.9h1.1M377.1 240.8h1.1M363.6 265.0h1.1M377.4 268.5h1.1M377.4 261.4h1.1M391.5 249.3h1.1M372.1 275.6h1.1M382.8 284.1h1.1M354.0 256.4h1.1M359.6 255.3h1.1M360.1 270.8h1.1M364.9 266.2h1.1M362.0 258.6h1.1M382.0 261.1h1.1M362.2 263.0h1.1M362.3 267.4h1.1M362.1 267.9h1.1M375.8 256.9h1.1M355.2 255.6h1.1M365.1 267.7h1.1M371.1 252.8h1.1M382.9 259.4h1.1M379.6 259.8h1.1M354.9 266.1h1.1M360.6 278.3h1.1M387.3 259.2h1.1M373.5 277.1h1.1M376.7 256.2h1.1M379.1 252.4h1.1M378.0 260.5h1.1M376.7 258.5h1.1M372.6 253.7h1.1M394.2 256.8h1.1M381.1 265.9h1.1M375.2 258.0h1.1M375.6 263.7h1.1M379.8 259.2h1.1M378.1 256.5h1.1M380.9 256.0h1.1M368.7 267.4h1.1M390.3 258.1h1.1M380.9 259.2h1.1M383.6 261.9h1.1M361.7 257.2h1.1M368.6 254.9h1.1M361.2 266.2h1.1M378.5 261.9h1.1M359.3 279.9h1.1M386.2 248.3h1.1M386.1 253.2h1.1M381.8 265.6h1.1M379.4 259.2h1.1M385.4 255.2h1.1M391.8 262.0h1.1M380.0 263.9h1.1M370.4 245.0h1.1M398.3 260.6h1.1M385.2 258.3h1.1M385.1 261.0h1.1M387.5 262.2h1.1M388.8 256.4h1.1M377.7 260.8h1.1M396.7 256.4h1.1M372.7 261.9h1.1M378.7 257.1h1.1M386.6 260.9h1.1M394.2 259.6h1.1M380.6 260.9h1.1M379.2 257.9h1.1M404.3 256.6h1.1M384.8 252.5h1.1M397.4 254.0h1.1M369.2 254.2h1.1M390.3 260.3h1.1M384.0 255.7h1.1M377.0 263.3h1.1M381.6 256.0h1.1M366.2 268.8h1.1M380.2 267.0h1.1M387.7 269.0h1.1M384.6 267.2h1.1M381.2 266.2h1.1M387.2 256.5h1.1M394.2 264.5h1.1M383.1 255.0h1.1M377.9 249.0h1.1M392.2 264.8h1.1M368.5 261.2h1.1M384.8 250.8h1.1M362.9 251.0h1.1M388.4 250.1h1.1M371.1 253.7h1.1M396.7 254.8h1.1M362.8 253.3h1.1M375.7 258.4h1.1M369.5 250.0h1.1M376.1 260.6h1.1M376.0 260.9h1.1M396.9 256.1h1.1M374.6 254.5h1.1M384.2 252.0h1.1M397.5 261.4h1.1M338.9 303.3h1.1M386.1 294.6h1.1M339.7 290.4h1.1M350.7 289.5h1.1M348.5 298.9h1.1M329.0 270.6h1.1M335.6 290.1h1.1M354.7 281.0h1.1M350.7 298.7h1.1M393.0 301.7h1.1M362.0 287.1h1.1M359.0 274.4h1.1M363.0 276.8h1.1M377.3 275.9h1.1M366.5 275.7h1.1M385.2 300.2h1.1M351.2 268.2h1.1M337.3 259.7h1.1M354.3 278.1h1.1M338.6 276.9h1.1M378.6 305.6h1.1M360.1 285.7h1.1M354.4 308.6h1.1M405.7 303.1h1.1M390.8 303.1h1.1M433.4 262.3h1.1M413.9 327.2h1.1M404.1 334.7h1.1M398.3 285.2h1.1M407.4 319.9h1.1M431.4 283.7h1.1"/>
<path d="M407.3 261.1h1.1M400.7 254.3h1.1M398.1 265.4h1.1M411.6 254.4h1.1M406.4 256.6h1.1M399.0 257.2h1.1M403.2 260.3h1.1M406.1 256.9h1.1M404.1 253.2h1.1M401.1 255.7h1.1M402.5 260.6h1.1M406.7 260.0h1.1M400.4 259.8h1.1M399.7 261.3h1.1M405.3 262.9h1.1M403.3 260.1h1.1M405.5 255.2h1.1M402.6 256.4h1.1M406.5 256.9h1.1M403.8 254.3h1.1M404.5 258.5h1.1M406.4 263.0h1.1M403.1 255.7h1.1M405.1 257.3h1.1M409.7 261.4h1.1M407.1 256.3h1.1M398.6 257.3h1.1M404.5 259.8h1.1M404.1 256.4h1.1M402.3 254.6h1.1M409.3 260.2h1.1M409.0 255.2h1.1M405.4 259.6h1.1M400.8 254.4h1.1M406.1 253.8h1.1M399.0 248.6h1.1M407.6 250.3h1.1M403.0 263.0h1.1M403.7 267.5h1.1M406.8 254.9h1.1M406.1 261.4h1.1M401.5 257.3h1.1M403.4 265.4h1.1M402.4 262.2h1.1M407.3 258.3h1.1M406.0 260.0h1.1M402.2 252.9h1.1M401.2 262.8h1.1M405.8 256.3h1.1M403.2 256.4h1.1M398.4 253.1h1.1M402.1 260.3h1.1M407.8 256.4h1.1M397.7 254.9h1.1M403.3 259.4h1.1M412.3 255.9h1.1M410.0 255.4h1.1M401.7 259.3h1.1M399.9 258.2h1.1M400.0 255.5h1.1M404.8 268.6h1.1M407.4 262.6h1.1M406.4 262.2h1.1M401.0 260.2h1.1M407.3 257.1h1.1M401.2 251.9h1.1M404.7 252.2h1.1M406.8 262.0h1.1M405.9 260.4h1.1M406.4 252.2h1.1M405.7 258.3h1.1M404.7 248.8h1.1M406.9 256.8h1.1M409.3 261.1h1.1M411.9 260.3h1.1M405.8 260.5h1.1M417.4 257.1h1.1M403.9 262.4h1.1M397.4 259.0h1.1M399.0 254.2h1.1M400.5 252.3h1.1M397.8 253.3h1.1M404.3 259.8h1.1M400.1 254.6h1.1M396.7 255.1h1.1M394.6 262.7h1.1M400.2 257.1h1.1M397.9 261.6h1.1M407.4 258.3h1.1M400.6 253.3h1.1M396.7 260.3h1.1M416.7 258.0h1.1M399.0 264.6h1.1M405.3 256.1h1.1M402.7 267.3h1.1M396.0 253.5h1.1M412.8 269.0h1.1M393.9 265.0h1.1M395.9 258.1h1.1M408.9 259.5h1.1M391.4 260.0h1.1M397.6 261.4h1.1M411.2 255.1h1.1M401.2 268.8h1.1M404.0 261.8h1.1M397.9 259.7h1.1M395.2 256.2h1.1M394.8 263.0h1.1M399.1 252.2h1.1M407.0 263.1h1.1M400.7 260.2h1.1M401.5 258.1h1.1M405.1 261.1h1.1M394.5 262.4h1.1M404.7 267.8h1.1M407.7 253.7h1.1M403.5 256.7h1.1M405.1 266.7h1.1M408.4 256.7h1.1M411.5 257.0h1.1M406.0 257.5h1.1M394.0 252.8h1.1M406.8 255.4h1.1M398.8 258.9h1.1M403.5 261.1h1.1M412.1 263.4h1.1M392.0 265.3h1.1M390.6 258.7h1.1M395.4 244.7h1.1M406.4 256.1h1.1M407.2 265.1h1.1M398.2 262.8h1.1M375.7 266.8h1.1M410.2 254.6h1.1M381.5 258.9h1.1M386.8 255.9h1.1M398.0 260.4h1.1M403.3 253.4h1.1M387.9 253.8h1.1M405.3 260.4h1.1M395.8 258.6h1.1M391.5 258.9h1.1M402.5 251.3h1.1M395.4 261.7h1.1M398.4 255.7h1.1M396.7 260.5h1.1M374.0 261.0h1.1M392.2 261.9h1.1M404.5 262.9h1.1M377.5 261.3h1.1M407.3 257.6h1.1M379.0 256.8h1.1M391.8 260.5h1.1M409.0 259.9h1.1M381.5 256.9h1.1M403.1 257.6h1.1M382.8 256.3h1.1M386.0 256.1h1.1M367.7 255.6h1.1M382.3 253.6h1.1M406.5 263.7h1.1M400.9 256.6h1.1M408.3 265.7h1.1M383.0 261.0h1.1M396.6 264.3h1.1M397.0 257.3h1.1M384.1 257.3h1.1M400.6 258.4h1.1M390.5 257.6h1.1M407.4 263.7h1.1M398.8 261.7h1.1M402.8 257.1h1.1M420.1 257.4h1.1M409.2 259.1h1.1M406.9 249.6h1.1M404.8 255.6h1.1M396.6 253.6h1.1M392.2 253.3h1.1M387.3 251.4h1.1M377.3 255.9h1.1M385.1 268.0h1.1M394.6 272.9h1.1M390.7 261.9h1.1M391.9 265.6h1.1M419.8 261.1h1.1M388.1 269.3h1.1M391.8 255.7h1.1M388.8 261.9h1.1M382.4 256.5h1.1M375.6 261.7h1.1M379.6 254.2h1.1M379.2 256.0h1.1M404.7 257.3h1.1M396.5 258.0h1.1M404.4 268.5h1.1M386.6 254.1h1.1M389.2 265.4h1.1M399.7 261.8h1.1M401.4 260.2h1.1M401.6 247.5h1.1M397.6 261.1h1.1M386.8 245.4h1.1M423.8 252.0h1.1M422.7 258.6h1.1M390.5 257.9h1.1M390.9 258.2h1.1M411.0 261.4h1.1M380.9 264.3h1.1M404.7 259.0h1.1M386.3 261.6h1.1M397.5 256.6h1.1M395.2 261.9h1.1M381.9 255.0h1.1M403.5 260.0h1.1M400.3 262.3h1.1M394.0 256.4h1.1M404.8 257.8h1.1M396.4 259.5h1.1M376.6 259.6h1.1M407.6 253.0h1.1M368.9 257.6h1.1M414.2 261.4h1.1M405.7 255.2h1.1M397.1 257.8h1.1M395.9 256.2h1.1M387.9 262.0h1.1M404.6 262.2h1.1M403.8 263.6h1.1M388.9 257.2h1.1M408.0 250.8h1.1M378.9 252.7h1.1M387.8 259.3h1.1M372.2 257.0h1.1M386.9 260.9h1.1M414.5 259.8h1.1M389.5 258.2h1.1M407.3 249.6h1.1M414.5 252.8h1.1M397.1 254.4h1.1M390.7 252.1h1.1M390.0 258.2h1.1M385.5 260.6h1.1M407.0 261.3h1.1M384.8 252.8h1.1M378.7 261.1h1.1M411.7 257.4h1.1M399.7 259.3h1.1M406.3 261.9h1.1M403.5 266.4h1.1M400.3 257.4h1.1M384.0 255.3h1.1M394.7 263.6h1.1M392.2 252.1h1.1M395.4 256.0h1.1M389.7 257.1h1.1M417.5 267.1h1.1M379.1 266.6h1.1M412.2 263.8h1.1M387.8 258.5h1.1M367.5 262.3h1.1M394.8 254.6h1.1M398.0 269.3h1.1M399.0 259.5h1.1M413.6 258.3h1.1M387.0 256.0h1.1M383.7 264.0h1.1M383.0 248.1h1.1M398.7 254.1h1.1M393.1 254.2h1.1M397.9 254.7h1.1M397.0 259.4h1.1M389.3 259.9h1.1M395.4 259.2h1.1M383.5 265.2h1.1M407.1 260.0h1.1M400.8 258.6h1.1M404.8 257.8h1.1M375.3 260.9h1.1M375.6 258.3h1.1M407.9 251.1h1.1M404.8 260.1h1.1M387.0 271.0h1.1M416.2 256.7h1.1M393.1 257.7h1.1M400.9 259.1h1.1M390.1 256.2h1.1M401.9 254.0h1.1M403.4 256.8h1.1M393.5 251.5h1.1M386.3 260.3h1.1M406.8 250.7h1.1M400.7 253.6h1.1M387.2 257.3h1.1M377.4 252.5h1.1M406.4 262.0h1.1M386.6 260.2h1.1M389.9 253.1h1.1M408.9 246.3h1.1M394.3 263.0h1.1M396.7 259.0h1.1M411.7 259.6h1.1M396.4 259.4h1.1M401.9 256.6h1.1M410.0 258.2h1.1M398.4 259.8h1.1M413.2 259.8h1.1M411.7 257.7h1.1M399.4 259.2h1.1M418.6 260.5h1.1M381.8 258.2h1.1M374.2 263.9h1.1M412.9 253.3h1.1M394.8 254.3h1.1M414.9 265.4h1.1M391.9 258.4h1.1M410.5 259.9h1.1M361.2 257.1h1.1M403.5 256.8h1.1M399.5 260.4h1.1M384.9 261.5h1.1M406.2 259.1h1.1M383.5 262.8h1.1M401.8 246.3h1.1M391.5 254.5h1.1M380.9 256.4h1.1M399.1 265.6h1.1M409.6 262.2h1.1M420.1 261.0h1.1M397.0 255.7h1.1M389.2 263.1h1.1M412.1 256.5h1.1M411.8 264.7h1.1M389.8 260.7h1.1M418.4 253.9h1.1M384.3 251.1h1.1M393.4 260.8h1.1M393.2 258.2h1.1M413.0 265.0h1.1M407.9 256.4h1.1M406.2 256.6h1.1M399.8 259.5h1.1M420.1 258.9h1.1M399.4 273.0h1.1M403.6 263.1h1.1M384.1 262.1h1.1M420.3 255.0h1.1M398.8 248.3h1.1M399.5 287.7h1.1M387.9 256.6h1.1M397.0 276.4h1.1M404.4 282.7h1.1M408.8 272.7h1.1M400.2 276.0h1.1M398.2 261.8h1.1M411.3 254.5h1.1M399.1 271.3h1.1M395.8 282.5h1.1M399.6 266.3h1.1M388.6 262.5h1.1M401.8 267.6h1.1M388.0 276.1h1.1M391.6 279.7h1.1M403.1 278.1h1.1M403.7 262.4h1.1M397.6 274.0h1.1M397.9 263.1h1.1M397.7 272.9h1.1M399.9 273.2h1.1M383.4 251.3h1.1M395.7 258.5h1.1M404.0 263.2h1.1M422.6 275.1h1.1M398.7 263.2h1.1M392.5 257.7h1.1M408.5 259.1h1.1M386.3 270.5h1.1M399.5 277.0h1.1M394.4 260.0h1.1M390.7 259.5h1.1M387.1 260.2h1.1M413.2 266.5h1.1M415.2 271.6h1.1M394.4 275.6h1.1M397.0 264.4h1.1M398.1 257.5h1.1M400.1 278.8h1.1M401.9 264.1h1.1M394.7 278.2h1.1M406.3 265.9h1.1M395.5 278.8h1.1M386.9 265.2h1.1M392.4 269.6h1.1M387.2 267.3h1.1M405.2 264.5h1.1M394.2 261.4h1.1M413.8 275.6h1.1M399.9 276.2h1.1M397.1 267.6h1.1M398.6 262.9h1.1M398.5 260.8h1.1M403.3 271.6h1.1M413.4 272.9h1.1M389.7 272.9h1.1M411.6 261.9h1.1M390.8 266.4h1.1M390.4 265.1h1.1M399.3 258.4h1.1M407.8 261.4h1.1M407.3 277.3h1.1M405.4 272.0h1.1M408.0 264.7h1.1M399.4 262.6h1.1M393.8 277.7h1.1M405.1 261.4h1.1M403.0 267.5h1.1M397.6 274.3h1.1M402.0 269.2h1.1M385.3 272.9h1.1M397.2 267.2h1.1M394.3 264.8h1.1M402.0 266.9h1.1M409.7 269.9h1.1M399.6 259.3h1.1M409.2 272.9h1.1M412.8 264.7h1.1M391.1 269.9h1.1M400.2 281.5h1.1M405.1 281.9h1.1M399.4 285.0h1.1M394.8 264.4h1.1M393.3 261.0h1.1M395.7 264.9h1.1M394.9 265.9h1.1M385.2 270.7h1.1M412.1 259.6h1.1M404.7 271.6h1.1M416.7 274.9h1.1M393.0 269.9h1.1M395.3 262.9h1.1M402.6 261.4h1.1M406.3 276.4h1.1M403.1 277.4h1.1M397.6 267.8h1.1M395.1 272.3h1.1M405.2 260.0h1.1M399.1 266.4h1.1M394.0 272.0h1.1M409.3 267.7h1.1M400.2 260.7h1.1M404.5 259.8h1.1M408.8 260.4h1.1M399.1 271.9h1.1M401.2 257.6h1.1M413.5 263.6h1.1M404.2 268.3h1.1M395.2 257.5h1.1M409.2 270.5h1.1M402.6 269.4h1.1M391.6 262.1h1.1M402.2 278.7h1.1M394.2 253.5h1.1M393.6 260.5h1.1M385.4 264.9h1.1M406.4 271.5h1.1M384.7 259.0h1.1M409.2 259.9h1.1M398.9 265.2h1.1M396.9 260.2h1.1M401.6 258.3h1.1M411.8 273.3h1.1M399.7 267.0h1.1M382.9 263.8h1.1M386.4 252.5h1.1M376.0 272.7h1.1M366.6 280.6h1.1M379.1 259.8h1.1M364.4 264.9h1.1M366.4 261.5h1.1M366.1 277.8h1.1M349.0 270.1h1.1M363.1 266.6h1.1M353.8 255.3h1.1M381.7 266.7h1.1M367.3 266.1h1.1M372.8 262.6h1.1M364.5 269.9h1.1M387.5 260.7h1.1M364.1 262.4h1.1M352.8 253.2h1.1M363.5 269.1h1.1M370.4 272.6h1.1M368.7 274.9h1.1M380.0 261.2h1.1M367.8 256.3h1.1M368.2 269.7h1.1M375.8 254.7h1.1M387.7 275.7h1.1M370.4 258.5h1.1M363.5 259.9h1.1M369.7 277.0h1.1M346.1 268.0h1.1M368.8 261.5h1.1M344.4 254.1h1.1M366.0 249.5h1.1M389.8 267.5h1.1M401.0 251.0h1.1M380.9 280.0h1.1M380.4 266.8h1.1M371.2 261.3h1.1M355.7 270.2h1.1M376.7 264.8h1.1M358.4 245.5h1.1M386.2 258.5h1.1M362.3 252.0h1.1M358.0 258.9h1.1M373.8 261.4h1.1M386.2 262.5h1.1M380.0 263.7h1.1M355.8 251.3h1.1M382.6 275.3h1.1M366.9 266.3h1.1M357.2 264.3h1.1M352.5 267.0h1.1M367.3 264.6h1.1M346.4 275.7h1.1M384.9 274.0h1.1M360.7 257.1h1.1M350.6 269.1h1.1M372.2 272.5h1.1M383.9 265.6h1.1M374.8 245.6h1.1M367.3 280.3h1.1M394.2 275.1h1.1M351.3 270.6h1.1M382.1 234.1h1.1M374.2 259.7h1.1M379.8 256.2h1.1M393.3 268.7h1.1M377.9 260.5h1.1M388.4 255.1h1.1M390.6 263.6h1.1M365.1 252.6h1.1M363.1 259.6h1.1M376.7 269.4h1.1M375.7 253.7h1.1M378.9 253.6h1.1M370.2 263.9h1.1M391.6 265.1h1.1M379.1 265.2h1.1M384.7 252.5h1.1M374.0 256.6h1.1M386.4 258.7h1.1M374.6 261.6h1.1M382.6 255.6h1.1M364.3 260.5h1.1M380.1 258.5h1.1M375.7 258.1h1.1M387.9 262.0h1.1M390.6 260.7h1.1M370.2 258.7h1.1M358.7 260.5h1.1M377.2 259.0h1.1M383.1 251.9h1.1M373.9 256.6h1.1M374.3 255.8h1.1M386.5 258.2h1.1M380.3 259.1h1.1M392.3 253.1h1.1M389.8 262.2h1.1M377.5 260.3h1.1M358.6 266.6h1.1M375.4 256.4h1.1M380.8 259.9h1.1M380.3 252.8h1.1M380.1 262.5h1.1M363.7 270.2h1.1M381.6 266.4h1.1M371.2 251.9h1.1M375.9 252.9h1.1M376.1 256.7h1.1M401.4 253.6h1.1M363.7 254.9h1.1M391.0 266.2h1.1M387.4 268.4h1.1M378.2 266.2h1.1M375.0 262.5h1.1M365.5 252.8h1.1M371.2 264.4h1.1M372.6 262.2h1.1M352.9 274.8h1.1M371.5 260.8h1.1M366.3 264.7h1.1M379.4 257.0h1.1M393.3 259.8h1.1M362.3 255.1h1.1M386.1 249.4h1.1M354.2 258.1h1.1M389.2 251.4h1.1M380.9 249.3h1.1M390.1 256.8h1.1M376.1 263.0h1.1M376.9 251.9h1.1M382.9 246.0h1.1M386.3 254.0h1.1M374.8 256.7h1.1M359.5 262.3h1.1M374.3 256.1h1.1M385.6 276.0h1.1M373.1 260.1h1.1M365.7 259.8h1.1M349.0 289.8h1.1M333.3 245.5h1.1M367.9 282.9h1.1M331.5 290.9h1.1M374.6 282.8h1.1M363.8 310.9h1.1M351.2 291.4h1.1M363.1 276.1h1.1M361.7 276.8h1.1M349.5 287.7h1.1M337.9 288.4h1.1M360.3 261.1h1.1M356.9 278.9h1.1M338.0 258.8h1.1M347.7 277.0h1.1M376.8 287.9h1.1M345.8 254.2h1.1M332.7 276.6h1.1M383.1 260.7h1.1M362.4 261.6h1.1M357.4 291.1h1.1M331.9 277.1h1.1M329.6 285.4h1.1M376.6 246.9h1.1M355.6 313.0h1.1M374.7 322.4h1.1M391.9 326.2h1.1M360.9 311.6h1.1M398.6 291.6h1.1M399.6 314.6h1.1M341.5 293.5h1.1"/>
</g>
<path d="M377.2 220.6V340.6M324.3 289.1H444.8" stroke="#757575" stroke-width="1.25" fill="none"/>
<text class="b" stroke="none" x="326.0" y="230.0" font-size="8.1">7.44</text>
<text class="b" stroke="none" x="442.8" y="230.0" font-size="8.1" text-anchor="end">90.6</text>
<text class="b" stroke="none" x="327.3" y="339.2" font-size="8.1">1.36</text>
<text class="b" stroke="none" x="442.8" y="339.2" font-size="8.1" text-anchor="end">0.63</text>
<text x="388.6" y="217.2" font-size="11.8" text-anchor="middle">CD4Cre-<tspan class="i">Ctnnb</tspan><tspan font-size="7" dy="-4.2" dx="0.5">Δex3</tspan><tspan dy="4.2">-pTα</tspan><tspan font-size="7" dy="-4.2">-/-</tspan></text>
</g>
<g id="panelC">
<text class="b" x="1.8" y="380" font-size="17.2">C</text>
<path d="M38.0 493.2C38.7 493.0 40.4 492.7 42.0 492.1C43.6 491.5 45.7 490.7 47.4 489.5C49.1 488.3 50.6 487.4 52.0 485.1C53.4 482.8 54.3 480.4 55.5 475.7C56.7 471.0 57.8 465.2 59.0 457.0C60.2 448.8 61.5 435.2 62.5 426.7C63.5 418.1 64.1 410.8 64.9 405.7C65.7 400.6 66.4 396.3 67.2 395.9C68.0 395.5 68.7 398.9 69.5 403.3C70.3 407.7 71.1 415.8 71.9 422.0C72.7 428.2 73.2 434.5 74.2 440.7C75.2 446.9 76.7 454.3 77.7 459.4C78.7 464.5 79.2 468.0 80.0 471.1C80.8 474.2 81.4 475.4 82.4 478.1C83.4 480.8 84.5 485.0 85.9 487.4C87.3 489.8 89.2 491.5 90.6 492.5C91.9 493.5 93.4 493.2 94.0 493.3Z" fill="#dcdcdc" stroke="#a8a8a8" stroke-width="0.8"/>
<path d="M78.0 493.2C78.4 493.0 78.9 494.6 80.5 492.1C82.1 489.6 85.4 483.1 87.5 478.0C89.6 472.9 91.5 467.9 93.3 461.7C95.0 455.5 96.6 447.7 98.0 440.7C99.4 433.7 100.3 426.3 101.5 419.7C102.7 413.1 104.1 404.8 105.0 401.0C105.9 397.2 106.1 396.4 106.9 396.8C107.7 397.2 108.7 399.1 109.7 403.3C110.8 407.5 112.0 415.8 113.2 422.0C114.4 428.2 115.5 434.5 116.7 440.7C117.9 446.9 119.0 453.2 120.2 459.4C121.4 465.6 122.5 472.9 123.7 478.0C124.9 483.1 126.2 487.2 127.2 489.7C128.2 492.2 129.1 492.6 129.5 493.2" fill="none" stroke="#9a9a9a" stroke-width="2.4"/>
<path d="M27.0 493.1C30.0 493.1 39.5 492.9 45.0 492.9C50.5 492.9 55.5 493.0 60.0 492.9C64.5 492.8 69.0 492.5 72.0 492.2C75.0 491.9 76.2 493.0 78.2 491.0C80.2 489.0 82.2 484.1 84.0 480.4C85.8 476.7 87.2 474.5 88.7 468.7C90.2 462.9 92.1 453.2 93.3 445.4C94.5 437.6 95.1 428.6 96.1 422.0C97.1 415.4 98.1 409.9 99.2 405.7C100.3 401.5 101.7 398.4 102.7 396.8C103.7 395.2 104.2 395.2 105.0 396.3C105.8 397.4 106.6 399.0 107.4 403.3C108.2 407.6 108.9 415.4 109.7 422.0C110.5 428.6 111.0 436.0 112.0 443.0C113.0 450.0 114.3 458.2 115.5 464.0C116.7 469.8 117.6 473.7 119.0 478.0C120.4 482.3 122.5 487.2 123.7 489.7C124.9 492.2 125.6 492.6 126.0 493.2" fill="none" stroke="#111" stroke-width="1.5" stroke-dasharray="2.6 1.5"/>
<path d="M40.0 493.2C45.0 493.2 62.7 493.3 70.0 493.2C77.3 493.1 80.3 493.6 84.0 492.6C87.7 491.6 90.0 490.2 92.2 487.4C94.4 484.6 95.5 480.8 96.9 475.7C98.3 470.6 99.2 465.2 100.4 457.0C101.6 448.8 102.9 435.2 103.9 426.7C104.9 418.1 105.4 410.7 106.2 405.7C107.0 400.7 107.7 398.0 108.5 396.8C109.3 395.6 110.1 396.8 110.9 398.7C111.7 400.6 112.4 403.3 113.2 408.0C114.0 412.7 114.7 420.5 115.5 426.7C116.3 432.9 116.9 438.8 117.9 445.4C118.9 452.0 120.2 460.2 121.4 466.4C122.6 472.6 123.7 478.2 124.9 482.7C126.1 487.2 127.8 491.4 128.4 493.2" fill="none" stroke="#111" stroke-width="1.5" stroke-dasharray="2.6 1.5"/>
<path d="M17.7 390.4H172.8V493.6" fill="none" stroke="#444" stroke-width="0.9"/>
<path d="M17.7 389.9V493.6H173.3" fill="none" stroke="#1c1c1c" stroke-width="1.2"/>
<path d="M17.7 493.6h-3.6M17.7 473.0h-3.6M17.7 452.3h-3.6M17.7 431.7h-3.6M17.7 411.0h-3.6M17.7 390.4h-3.6M17.7 488.4h-1.7M17.7 483.3h-1.7M17.7 478.1h-1.7M17.7 467.8h-1.7M17.7 462.6h-1.7M17.7 457.5h-1.7M17.7 447.2h-1.7M17.7 442.0h-1.7M17.7 436.8h-1.7M17.7 426.5h-1.7M17.7 421.4h-1.7M17.7 416.2h-1.7M17.7 405.9h-1.7M17.7 400.7h-1.7M17.7 395.6h-1.7M17.7 493.6v3.0M29.4 493.6v1.6M36.2 493.6v1.6M41.0 493.6v1.6M44.8 493.6v1.6M47.9 493.6v1.6M50.5 493.6v1.6M52.7 493.6v1.6M54.7 493.6v1.6M56.5 493.6v3.0M68.1 493.6v1.6M75.0 493.6v1.6M79.8 493.6v1.6M83.6 493.6v1.6M86.6 493.6v1.6M89.2 493.6v1.6M91.5 493.6v1.6M93.5 493.6v1.6M95.3 493.6v3.0M106.9 493.6v1.6M113.8 493.6v1.6M118.6 493.6v1.6M122.4 493.6v1.6M125.4 493.6v1.6M128.0 493.6v1.6M130.3 493.6v1.6M132.3 493.6v1.6M134.0 493.6v3.0M145.7 493.6v1.6M152.5 493.6v1.6M157.4 493.6v1.6M161.1 493.6v1.6M164.2 493.6v1.6M166.8 493.6v1.6M169.0 493.6v1.6M171.0 493.6v1.6M172.8 493.6v3.0" stroke="#1c1c1c" stroke-width="0.8" fill="none"/>
<text x="98.8" y="510.9" font-size="11.4" text-anchor="middle">β-catenin IC</text>
<path d="M212.8 493.2C212.8 492.8 211.1 491.9 212.8 490.9C214.6 489.9 220.0 488.8 223.3 487.4C226.6 486.0 230.3 484.3 232.7 482.7C235.0 481.1 236.3 479.8 237.4 478.0C238.5 476.2 238.4 473.3 239.2 472.2C240.0 471.1 240.9 472.9 242.0 471.1C243.1 469.4 244.1 466.0 245.5 461.7C246.9 457.4 248.6 451.2 250.2 445.4C251.8 439.6 253.3 433.3 254.9 426.7C256.4 420.1 258.1 410.8 259.5 405.7C260.9 400.6 261.8 396.3 263.0 395.9C264.2 395.5 265.3 399.3 266.5 403.3C267.7 407.3 268.8 413.9 270.0 419.7C271.2 425.5 272.3 431.8 273.5 438.4C274.7 445.0 275.8 452.8 277.0 459.4C278.2 466.0 279.4 473.7 280.6 478.0C281.8 482.3 282.6 483.6 284.0 485.4C285.4 487.2 286.5 487.7 288.7 488.6C290.9 489.5 294.4 490.2 297.4 490.9C300.4 491.5 304.3 492.1 306.7 492.5C309.1 492.9 311.1 493.1 312.0 493.2Z" fill="#dcdcdc" stroke="#a8a8a8" stroke-width="0.8"/>
<path d="M212.9 433.5V493" stroke="#9a9a9a" stroke-width="1.6"/>
<path d="M212.8 491.8C214.8 491.7 221.3 491.4 225.0 491.0C228.7 490.6 231.8 490.5 235.0 489.7C238.2 488.9 241.9 487.8 244.4 486.2C246.9 484.6 248.4 482.9 250.2 480.4C251.9 477.9 253.3 475.0 254.9 471.1C256.4 467.2 257.9 461.7 259.5 457.0C261.1 452.3 262.7 446.9 264.5 443.0C266.3 439.1 268.3 436.8 270.5 433.7C272.7 430.6 275.6 427.5 277.5 424.4C279.4 421.3 280.9 418.8 282.2 415.0C283.5 411.2 284.5 404.5 285.5 401.5C286.5 398.5 287.2 396.1 288.0 396.8C288.8 397.5 289.7 400.7 290.4 405.7C291.1 410.7 291.5 419.3 292.2 426.7C292.9 434.1 293.8 442.6 294.6 450.0C295.4 457.4 296.0 465.7 296.9 471.1C297.8 476.6 298.6 479.6 299.7 482.7C300.8 485.8 301.6 488.1 303.2 489.7C304.8 491.3 308.0 491.9 309.0 492.4" fill="none" stroke="#9a9a9a" stroke-width="2.4"/>
<path d="M246.0 493.3C247.7 493.1 252.7 492.8 256.0 492.2C259.3 491.6 262.8 490.9 266.0 490.0C269.2 489.1 272.5 488.3 275.0 486.8C277.5 485.3 279.4 483.4 281.0 480.8C282.6 478.2 283.5 475.1 284.5 471.1C285.5 467.1 286.1 462.4 286.9 457.0C287.7 451.6 288.5 444.6 289.2 438.4C289.9 432.2 290.4 425.5 291.0 419.7C291.6 413.9 292.1 407.2 292.7 403.3C293.3 399.4 293.9 397.1 294.6 396.3C295.3 395.5 296.2 396.4 296.9 398.7C297.5 401.0 297.9 404.9 298.5 410.4C299.1 415.8 299.5 424.4 300.2 431.4C300.9 438.4 301.6 445.8 302.5 452.4C303.4 459.0 304.4 466.1 305.5 471.1C306.6 476.2 307.6 479.4 309.0 482.7C310.4 486.0 312.1 489.1 313.7 490.9C315.3 492.7 317.6 493.0 318.4 493.4" fill="none" stroke="#111" stroke-width="1.5" stroke-dasharray="2.6 1.5"/>
<path d="M250.0 493.4C252.0 493.1 258.3 492.6 262.0 491.9C265.7 491.2 269.1 490.1 272.0 489.0C274.9 487.9 277.4 486.8 279.3 485.0C281.2 483.2 282.2 480.7 283.5 478.0C284.8 475.3 285.8 473.0 286.9 468.7C288.0 464.4 288.9 458.6 289.9 452.4C290.9 446.2 291.8 438.0 292.7 431.4C293.6 424.8 294.2 418.0 295.0 412.7C295.8 407.4 296.5 402.6 297.4 399.8C298.3 397.0 299.3 395.5 300.2 395.9C301.1 396.3 301.8 398.2 302.5 402.2C303.2 406.2 303.8 413.7 304.4 419.7C305.0 425.7 305.5 432.2 306.2 438.4C306.9 444.6 307.8 451.2 308.6 457.0C309.4 462.8 310.1 468.7 310.9 473.4C311.7 478.1 312.1 482.0 313.2 485.1C314.2 488.2 315.9 490.7 317.2 492.1C318.5 493.5 320.4 493.2 321.0 493.4" fill="none" stroke="#111" stroke-width="1.5" stroke-dasharray="2.6 1.5"/>
<path d="M210.6 390.0H365.5V493.6" fill="none" stroke="#8a8a8a" stroke-width="1.5"/>
<path d="M210.6 389.5V493.6H366.0" fill="none" stroke="#1c1c1c" stroke-width="1.2"/>
<path d="M210.6 493.6h-3.6M210.6 472.9h-3.6M210.6 452.2h-3.6M210.6 431.4h-3.6M210.6 410.7h-3.6M210.6 390.0h-3.6M210.6 488.4h-1.7M210.6 483.2h-1.7M210.6 478.1h-1.7M210.6 467.7h-1.7M210.6 462.5h-1.7M210.6 457.3h-1.7M210.6 447.0h-1.7M210.6 441.8h-1.7M210.6 436.6h-1.7M210.6 426.3h-1.7M210.6 421.1h-1.7M210.6 415.9h-1.7M210.6 405.5h-1.7M210.6 400.4h-1.7M210.6 395.2h-1.7M210.6 493.6v3.0M222.3 493.6v1.6M229.1 493.6v1.6M233.9 493.6v1.6M237.7 493.6v1.6M240.7 493.6v1.6M243.3 493.6v1.6M245.6 493.6v1.6M247.6 493.6v1.6M249.3 493.6v3.0M261.0 493.6v1.6M267.8 493.6v1.6M272.6 493.6v1.6M276.4 493.6v1.6M279.5 493.6v1.6M282.1 493.6v1.6M284.3 493.6v1.6M286.3 493.6v1.6M288.1 493.6v3.0M299.7 493.6v1.6M306.5 493.6v1.6M311.4 493.6v1.6M315.1 493.6v1.6M318.2 493.6v1.6M320.8 493.6v1.6M323.0 493.6v1.6M325.0 493.6v1.6M326.8 493.6v3.0M338.4 493.6v1.6M345.3 493.6v1.6M350.1 493.6v1.6M353.8 493.6v1.6M356.9 493.6v1.6M359.5 493.6v1.6M361.7 493.6v1.6M363.7 493.6v1.6M365.5 493.6v3.0" stroke="#1c1c1c" stroke-width="0.8" fill="none"/>
<text x="288.7" y="509.4" font-size="11.6" text-anchor="middle">TCR β</text>
<rect x="370.3" y="420.5" width="5.4" height="5.5" fill="#b6b6b6" stroke="#888" stroke-width="0.6"/>
<rect x="370.3" y="429.2" width="5.4" height="5.5" fill="#7c7c7c" stroke="#666" stroke-width="0.6"/>
<rect x="370.3" y="438.2" width="5.4" height="5.5" fill="#2a2a2a" stroke="#222" stroke-width="0.6"/>
<rect x="370.3" y="446.9" width="5.4" height="5.5" fill="#cacaca" stroke="#b0b0b0" stroke-width="0.6"/>
<text x="379.2" y="425.9" font-size="9.25" xml:space="preserve">CD4Cre-<tspan class="i">Ctnnb</tspan><tspan font-size="5.4" dy="-3.4" dx="1.5">Δex3</tspan><tspan dy="3.4" dx="0.9" textLength="18" lengthAdjust="spacingAndGlyphs">-pTα</tspan><tspan font-size="5.2" dy="-3.4" dx="0.3">-/-</tspan><tspan dy="3.4" font-size="8.1" x="482.9">(solid line)</tspan></text>
<text x="379.2" y="434.7" font-size="9.25">CD4Cre-<tspan class="i">Ctnnb</tspan><tspan font-size="5.4" dy="-3.4" dx="1.5">Δex3</tspan></text>
<text x="380" y="443.5" font-size="9.25">LckCre-<tspan class="i">Ctnnb</tspan><tspan font-size="5.4" dy="-3.4" dx="1.5">Δex3</tspan></text>
<text x="381" y="451.9" font-size="9.25" xml:space="preserve">LckCre<tspan font-size="8.2" x="418.4">(tinted)</tspan></text>
</g>
</svg></body></html>
